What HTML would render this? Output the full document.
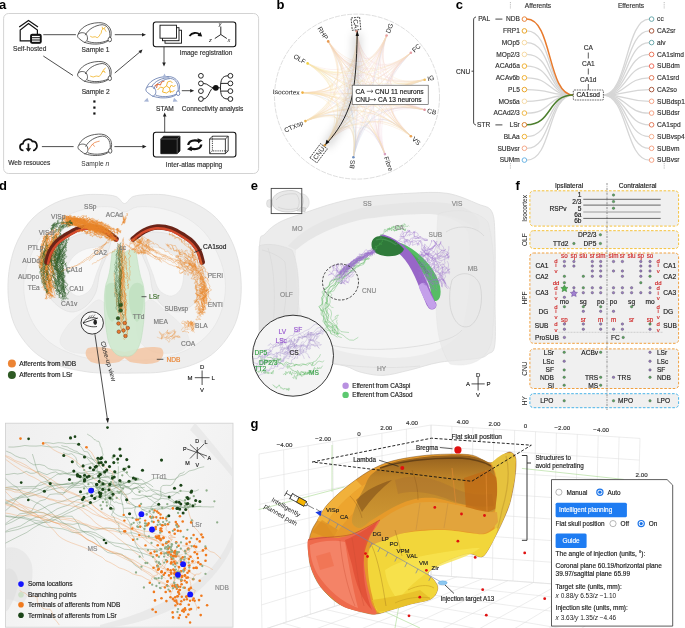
<!DOCTYPE html>
<html><head><meta charset="utf-8"><title>Figure</title>
<style>html,body{margin:0;padding:0;background:#fff;}body{width:685px;height:628px;overflow:hidden;font-family:"Liberation Sans",sans-serif;}svg{display:block;will-change:transform;}</style>
</head><body>
<svg width="685" height="628" viewBox="0 0 685 628" font-family="Liberation Sans, sans-serif"><text x="-1.0" y="8.8" font-size="13" fill="#000" text-anchor="start" font-weight="bold" >a</text>
<rect x="3.6" y="13.5" width="255" height="160" rx="5" fill="#fff" stroke="#c8c8c8" stroke-width="0.8"/>
<g fill="none" stroke="#111" stroke-width="1.2" stroke-linejoin="miter"><path d="M19.2,27.1 L28.5,20.4 L38,27.1"/><path d="M30.4,40.8 L20.2,40.8 L20.2,30 L28.5,23.6 L37.4,30 L37.4,34.1"/><rect x="30.7" y="34.3" width="10.4" height="8.9" rx="1.5" fill="#111"/></g><g fill="#fff"><rect x="32" y="35.9" width="7.8" height="1.3"/><rect x="32" y="38.2" width="7.8" height="1.3"/><rect x="32" y="40.5" width="7.8" height="1.3"/></g>
<text x="13.0" y="50.6" font-size="6.6" fill="#333" stroke="#333" stroke-width="0.16" text-anchor="start" font-weight="normal" >Self-hosted</text>
<g fill="none" stroke="#111" stroke-width="1.7"><path d="M23.5,150.5 C19,150.5 18.8,144 23,143.6 C23.5,139 30.5,137.5 32.5,141.5 C36.5,141 38.5,146 35.5,149.2 C35,150 34,150.5 33,150.5"/><path d="M28.4,143.5 L28.4,151"/></g><path d="M25.6,148.2 L31.2,148.2 L28.4,151.8 Z" fill="#111"/>
<text x="8.2" y="165.1" font-size="6.6" fill="#333" stroke="#333" stroke-width="0.16" text-anchor="start" font-weight="normal" >Web resouces</text>
<g transform="translate(77.2,22.2) scale(1.0)" fill="none" stroke="#444" stroke-width="0.85"><path d="M1,12 C3,6 10,1 21,0.5 C29,0 34,5 34,11 C34,15 33,17 31,18.5 C28,21 22,22.3 15,21.8 C11,21.4 8,20.5 6,19.5 L2,16.5 C0,15 0,13 1,12 Z" fill="#fff"/><path d="M1,12 C3,10 7,10 9,12 C11,15 11,19 7,20.5"/><path d="M8,13 C11,7 18,3 25,2.5 C31,3 33.5,9 32.5,16"/><path d="M10,19 C15,21.2 24,21.4 31,18"/><ellipse cx="32.6" cy="17.3" rx="1.7" ry="2.3" fill="#fff"/></g>
<path transform="translate(77.2,22.2)" d="M13,14 L15,15 L18,14.5 L20,15.5 L22,14 L23,12 L24,11 L24.5,8 L25.5,7 L27,6 L28,8 L29,9.5 M25.5,7 L25,4.5 M27,6 L28.5,4.5" fill="none" stroke="#f0b428" stroke-width="0.8"/>
<text x="81.6" y="52.0" font-size="6.6" fill="#333" stroke="#333" stroke-width="0.16" text-anchor="start" font-weight="normal" >Sample 1</text>
<g transform="translate(77.2,61.0) scale(1.0)" fill="none" stroke="#444" stroke-width="0.85"><path d="M1,12 C3,6 10,1 21,0.5 C29,0 34,5 34,11 C34,15 33,17 31,18.5 C28,21 22,22.3 15,21.8 C11,21.4 8,20.5 6,19.5 L2,16.5 C0,15 0,13 1,12 Z" fill="#fff"/><path d="M1,12 C3,10 7,10 9,12 C11,15 11,19 7,20.5"/><path d="M8,13 C11,7 18,3 25,2.5 C31,3 33.5,9 32.5,16"/><path d="M10,19 C15,21.2 24,21.4 31,18"/><ellipse cx="32.6" cy="17.3" rx="1.7" ry="2.3" fill="#fff"/></g>
<path transform="translate(77.2,61.0)" d="M13,15 L16,16 L19,15 L22,15.5 L24,13 L25,11 L27,10 L28,12 M25,11 L27,8 L28.5,7" fill="none" stroke="#f0b428" stroke-width="0.8"/>
<text x="81.7" y="93.9" font-size="6.6" fill="#333" stroke="#333" stroke-width="0.16" text-anchor="start" font-weight="normal" >Sample 2</text>
<g transform="translate(77.6,133.6) scale(1.0)" fill="none" stroke="#444" stroke-width="0.85"><path d="M1,12 C3,6 10,1 21,0.5 C29,0 34,5 34,11 C34,15 33,17 31,18.5 C28,21 22,22.3 15,21.8 C11,21.4 8,20.5 6,19.5 L2,16.5 C0,15 0,13 1,12 Z" fill="#fff"/><path d="M1,12 C3,10 7,10 9,12 C11,15 11,19 7,20.5"/><path d="M8,13 C11,7 18,3 25,2.5 C31,3 33.5,9 32.5,16"/><path d="M10,19 C15,21.2 24,21.4 31,18"/><ellipse cx="32.6" cy="17.3" rx="1.7" ry="2.3" fill="#fff"/></g>
<path transform="translate(77.6,133.6)" d="M11,16 L13,13 L15,10.5 L17,9 L20,8 L22,7.5 M15,10.5 L17,13" fill="none" stroke="#e8702a" stroke-width="0.7"/>
<text x="81.3" y="165.6" font-size="6.6" fill="#333">Sample <tspan font-style="italic">n</tspan></text>
<rect x="93.3" y="100.4" width="2.2" height="2.2" fill="#111"/>
<rect x="93.3" y="106.5" width="2.2" height="2.2" fill="#111"/>
<rect x="93.3" y="112.4" width="2.2" height="2.2" fill="#111"/>
<g stroke="#222" stroke-width="0.8" fill="none"><path d="M43.3,34.7 L75.9,34.7"/><path d="M114.8,34.7 L143,34.7"/><path d="M43.3,56 L73,75.5"/><path d="M114.8,73 L141,51"/><path d="M41.9,146.6 L73.6,146.6"/><path d="M114.4,146.6 L143.5,146.6"/><path d="M164,47 L164,63.5"/><path d="M164.7,132.3 L164.7,115.5"/><path d="M181.8,90.7 L191.5,90.7"/></g><g fill="#222"><path d="M146,34.7 L142,32.9 L142,36.5 Z"/><path d="M142.5,49.6 L138.5,50.9 L141,53.4 Z"/><path d="M146.5,146.6 L142.5,144.8 L142.5,148.4 Z"/><path d="M164,66.5 L162.2,62.5 L165.8,62.5 Z"/><path d="M164.7,112.5 L162.9,116.5 L166.5,116.5 Z"/><path d="M194.2,90.7 L190.2,88.9 L190.2,92.5 Z"/></g>
<rect x="153.3" y="22" width="82.5" height="24.8" rx="2.5" fill="#fff" stroke="#111" stroke-width="1.1"/>
<g fill="#fff" stroke="#111" stroke-width="0.9"><rect x="165" y="30.2" width="16.5" height="13"/><rect x="162.5" y="27.7" width="16.5" height="13"/><rect x="160" y="25.2" width="16.5" height="13"/></g>
<path d="M189.5,36 C192,32.5 197,32 199.5,34.5" fill="none" stroke="#111" stroke-width="1.8"/><path d="M202.2,36.5 L197.5,36 L200.5,32 Z" fill="#111"/>
<g stroke="#111" stroke-width="0.9" fill="none"><path d="M220.8,34.5 L220.8,26.5"/><path d="M220.8,34.5 L214.8,38.5"/><path d="M220.8,34.5 L226.8,38.5"/></g>
<g font-size="5.6" font-style="italic" fill="#222"><text x="218.6" y="26.2">y</text><text x="209" y="41.8">z</text><text x="227.6" y="41.8">x</text></g>
<text x="179.6" y="55.2" font-size="6.6" fill="#333" stroke="#333" stroke-width="0.16" text-anchor="start" font-weight="normal" >Image registration</text>
<g transform="translate(145.5,76) scale(1.0)" fill="none" stroke="#4a64a0" stroke-width="0.7"><path d="M1,12 C3,6 10,1 21,0.5 C29,0 34,5 34,11 C34,15 33,17 31,18.5 C28,21 22,22.3 15,21.8 C11,21.4 8,20.5 6,19.5 L2,16.5 C0,15 0,13 1,12 Z" fill="#fff"/><path d="M1,12 C3,10 7,10 9,12 C11,15 11,19 7,20.5"/><path d="M8,13 C11,7 18,3 25,2.5 C31,3 33.5,9 32.5,16"/><path d="M6,11 C9,5 17,1.5 24,1.8"/><path d="M10,19 C15,21.2 24,21.4 31,18"/><ellipse cx="32.6" cy="17.3" rx="1.7" ry="2.3" fill="#fff"/></g>
<g transform="translate(145.5,76)" fill="none" stroke-width="0.9"><path d="M12,14 L15,11 L18,12 L21,10 L24,12 L26,9 L28,11 L30,9 M18,12 L17,16 L21,17 L24,15 L27,16 L29,14 M21,10 L22,6 L25,5 L27,7 M24,12 L25,17" stroke="#f0b020"/><path d="M9,10 L12,8 L15,9 L16,6 L19,5 M12,8 L11,12" stroke="#e0602a"/></g>
<g fill="#a8b6d6"><path d="M164.5,73.6 L162.3,77.8 L166.7,77.8 Z"/><path d="M143.8,101.5 L147.5,97.8 L148.8,101.8 Z"/><path d="M177.8,101.5 L174.1,97.8 L172.8,101.8 Z"/></g>
<text x="156.0" y="110.5" font-size="6.6" fill="#333" stroke="#333" stroke-width="0.16" text-anchor="start" font-weight="normal" >STAM</text>
<text x="181.8" y="110.5" font-size="6.6" fill="#333" stroke="#333" stroke-width="0.16" text-anchor="start" font-weight="normal" >Connectivity analysis</text>
<g fill="none" stroke="#111" stroke-width="0.9">
<circle cx="200.9" cy="75.8" r="2.4" fill="#fff"/>
<circle cx="230.4" cy="75.8" r="2.4" fill="#fff"/>
<circle cx="200.9" cy="83.4" r="2.4" fill="#fff"/>
<circle cx="230.4" cy="83.4" r="2.4" fill="#fff"/>
<circle cx="200.9" cy="91.1" r="2.4" fill="#fff"/>
<circle cx="230.4" cy="91.1" r="2.4" fill="#fff"/>
<circle cx="200.9" cy="99" r="2.4" fill="#fff"/>
<circle cx="230.4" cy="99" r="2.4" fill="#fff"/>
<path d="M203.3,83.4 C208.5,83.4 209.5,87.8 214,87.8 M203.3,99 C209,99 209.5,88 214,87.8"/>
<path d="M217,87.8 L220.5,87.8 M228,75.8 C222,75.8 220.5,80 220.5,87.8 C220.5,95 222,99 228,99 M220.8,83.4 L228,83.4 M220.8,91.1 L228,91.1"/>
</g>
<circle cx="215.8" cy="87.8" r="2.9" fill="#111"/>
<rect x="153.4" y="132.3" width="82.5" height="24.7" rx="2.5" fill="#fff" stroke="#111" stroke-width="1.1"/>
<g stroke="#111" stroke-width="0.8"><path d="M160.8,139 L163.6,136.2 L180,136.2 L180,150.9 L177.2,153.7 L160.8,153.7 Z" fill="#111"/><path d="M160.8,139 L177.2,139 L177.2,153.7 M177.2,139 L180,136.2" stroke="#666" fill="none"/><path d="M209.6,139 L212.4,136.2 L228.2,136.2 L228.2,150.9 L225.4,153.7 L209.6,153.7 Z" fill="#fff"/><path d="M209.6,139 L225.4,139 L225.4,153.7 M225.4,139 L228.2,136.2" fill="none"/><path d="M212.4,136.2 L212.4,150.9 L228.2,150.9 M212.4,150.9 L209.6,153.7" fill="none" stroke-dasharray="1.2,1"/></g>
<g fill="none" stroke="#111" stroke-width="2.2"><path d="M188.3,145 C188.5,140.5 195,139.2 199.5,141.5"/><path d="M201.3,144.5 C201,149 194.5,150.3 190,148"/></g><g fill="#111"><path d="M202.5,140.2 L197.5,138.2 L198.2,143.5 Z"/><path d="M187,149.3 L192,151.3 L191.3,146 Z"/></g>
<text x="165.8" y="167.3" font-size="6.6" fill="#333" stroke="#333" stroke-width="0.16" text-anchor="start" font-weight="normal" >Inter-atlas mapping</text>
<text x="276.5" y="8.6" font-size="13" fill="#000" text-anchor="start" font-weight="bold" >b</text>
<circle cx="357" cy="96.6" r="82.5" fill="none" stroke="#c8c8c8" stroke-width="0.6" stroke-dasharray="5,1.2"/>
<g fill="none" stroke-width="0.3" opacity="0.42">
<path d="M356.7,31.3 C359.1,66.4 371.0,68.1 386.6,35.5" stroke="#e89a8a"/>
<path d="M356.7,31.3 C361.7,65.8 383.4,74.4 410.9,52.8" stroke="#e89a8a"/>
<path d="M356.7,31.3 C360.8,68.2 388.0,87.5 424.7,79.7" stroke="#e89a8a"/>
<path d="M356.7,31.3 C356.9,69.3 384.1,100.7 424.6,109.8" stroke="#e89a8a"/>
<path d="M356.7,31.3 C356.8,68.7 378.4,110.7 410.9,136.2" stroke="#e89a8a"/>
<path d="M356.7,31.3 C357.0,66.0 368.3,115.1 384.9,154.1" stroke="#e89a8a"/>
<path d="M356.7,31.3 C359.9,71.8 358.6,122.2 353.4,157.3" stroke="#e89a8a"/>
<path d="M356.7,31.3 C357.5,67.0 344.7,112.6 324.8,145.2" stroke="#e89a8a"/>
<path d="M356.7,31.3 C361.5,72.8 341.0,108.7 305.4,121.1" stroke="#e89a8a"/>
<path d="M356.7,31.3 C361.1,68.4 339.4,92.9 302.5,92.6" stroke="#e89a8a"/>
<path d="M356.7,31.3 C364.3,65.6 344.7,78.4 307.6,63.4" stroke="#e89a8a"/>
<path d="M356.7,31.3 C363.3,67.5 352.0,71.6 328.2,41.4" stroke="#e89a8a"/>
<path d="M386.6,35.5 C369.6,67.9 357.6,66.2 356.7,31.3" stroke="#e8a0a0"/>
<path d="M386.6,35.5 C370.9,73.4 380.6,80.4 410.9,52.8" stroke="#e8a0a0"/>
<path d="M386.6,35.5 C369.9,71.6 385.1,89.2 424.7,79.7" stroke="#e8a0a0"/>
<path d="M386.6,35.5 C373.5,69.9 388.8,99.6 424.6,109.8" stroke="#e8a0a0"/>
<path d="M386.6,35.5 C372.8,67.4 382.5,107.7 410.9,136.2" stroke="#e8a0a0"/>
<path d="M386.6,35.5 C368.9,68.6 368.2,116.0 384.9,154.1" stroke="#e8a0a0"/>
<path d="M386.6,35.5 C373.9,70.3 360.6,119.0 353.4,157.3" stroke="#e8a0a0"/>
<path d="M386.6,35.5 C370.9,71.6 346.2,115.5 324.8,145.2" stroke="#e8a0a0"/>
<path d="M386.6,35.5 C372.1,69.3 339.6,103.6 305.4,121.1" stroke="#e8a0a0"/>
<path d="M386.6,35.5 C374.8,72.5 341.2,95.3 302.5,92.6" stroke="#e8a0a0"/>
<path d="M386.6,35.5 C370.4,71.5 338.8,82.7 307.6,63.4" stroke="#e8a0a0"/>
<path d="M386.6,35.5 C372.6,73.9 349.3,76.2 328.2,41.4" stroke="#e8a0a0"/>
<path d="M410.9,52.8 C384.0,76.1 362.3,67.5 356.7,31.3" stroke="#e8a0a8"/>
<path d="M410.9,52.8 C386.0,74.8 376.3,67.9 386.6,35.5" stroke="#e8a0a8"/>
<path d="M410.9,52.8 C381.5,79.9 387.0,90.6 424.7,79.7" stroke="#e8a0a8"/>
<path d="M410.9,52.8 C379.4,77.7 384.9,100.5 424.6,109.8" stroke="#e8a0a8"/>
<path d="M410.9,52.8 C378.5,79.2 378.5,112.5 410.9,136.2" stroke="#e8a0a8"/>
<path d="M410.9,52.8 C384.3,78.4 373.9,118.9 384.9,154.1" stroke="#e8a0a8"/>
<path d="M410.9,52.8 C385.2,76.3 362.2,118.1 353.4,157.3" stroke="#e8a0a8"/>
<path d="M410.9,52.8 C383.7,78.6 349.3,115.5 324.8,145.2" stroke="#e8a0a8"/>
<path d="M410.9,52.8 C382.8,77.5 340.6,104.8 305.4,121.1" stroke="#e8a0a8"/>
<path d="M410.9,52.8 C384.9,81.4 341.5,97.3 302.5,92.6" stroke="#e8a0a8"/>
<path d="M410.9,52.8 C382.0,79.1 340.6,83.4 307.6,63.4" stroke="#e8a0a8"/>
<path d="M410.9,52.8 C378.7,79.4 345.6,74.9 328.2,41.4" stroke="#e8a0a8"/>
<path d="M424.7,79.7 C388.9,92.5 361.7,73.2 356.7,31.3" stroke="#f0c060"/>
<path d="M424.7,79.7 C390.3,86.8 375.0,69.2 386.6,35.5" stroke="#f0c060"/>
<path d="M424.7,79.7 C386.8,89.9 381.3,79.2 410.9,52.8" stroke="#f0c060"/>
<path d="M424.7,79.7 C383.9,88.3 383.8,100.3 424.6,109.8" stroke="#f0c060"/>
<path d="M424.7,79.7 C385.0,85.5 379.5,108.1 410.9,136.2" stroke="#f0c060"/>
<path d="M424.7,79.7 C384.2,90.7 368.2,120.5 384.9,154.1" stroke="#f0c060"/>
<path d="M424.7,79.7 C384.7,86.6 356.2,117.6 353.4,157.3" stroke="#f0c060"/>
<path d="M424.7,79.7 C386.8,91.5 346.8,117.8 324.8,145.2" stroke="#f0c060"/>
<path d="M424.7,79.7 C384.3,88.2 336.6,104.7 305.4,121.1" stroke="#f0c060"/>
<path d="M424.7,79.7 C388.1,91.6 339.2,96.8 302.5,92.6" stroke="#f0c060"/>
<path d="M424.7,79.7 C390.3,91.5 343.4,85.0 307.6,63.4" stroke="#f0c060"/>
<path d="M424.7,79.7 C385.9,87.9 347.3,72.6 328.2,41.4" stroke="#f0c060"/>
<path d="M424.6,109.8 C386.5,103.7 359.3,72.3 356.7,31.3" stroke="#e090a0"/>
<path d="M424.6,109.8 C391.3,97.8 376.1,68.1 386.6,35.5" stroke="#e090a0"/>
<path d="M424.6,109.8 C385.1,98.5 379.6,75.7 410.9,52.8" stroke="#e090a0"/>
<path d="M424.6,109.8 C385.5,100.5 385.6,88.5 424.7,79.7" stroke="#e090a0"/>
<path d="M424.6,109.8 C388.4,98.7 382.9,109.3 410.9,136.2" stroke="#e090a0"/>
<path d="M424.6,109.8 C383.7,100.0 367.8,117.7 384.9,154.1" stroke="#e090a0"/>
<path d="M424.6,109.8 C386.6,101.1 358.1,120.1 353.4,157.3" stroke="#e090a0"/>
<path d="M424.6,109.8 C391.3,102.1 351.3,116.3 324.8,145.2" stroke="#e090a0"/>
<path d="M424.6,109.8 C387.8,101.5 340.1,106.1 305.4,121.1" stroke="#e090a0"/>
<path d="M424.6,109.8 C389.1,97.0 340.2,90.2 302.5,92.6" stroke="#e090a0"/>
<path d="M424.6,109.8 C390.9,102.8 344.0,84.3 307.6,63.4" stroke="#e090a0"/>
<path d="M424.6,109.8 C390.7,103.0 352.1,75.6 328.2,41.4" stroke="#e090a0"/>
<path d="M410.9,136.2 C381.3,110.4 359.6,68.4 356.7,31.3" stroke="#e8a050"/>
<path d="M410.9,136.2 C379.0,112.3 369.3,72.0 386.6,35.5" stroke="#e8a050"/>
<path d="M410.9,136.2 C378.6,107.7 378.7,74.4 410.9,52.8" stroke="#e8a050"/>
<path d="M410.9,136.2 C379.8,108.5 385.4,85.9 424.7,79.7" stroke="#e8a050"/>
<path d="M410.9,136.2 C380.9,107.6 386.4,97.0 424.6,109.8" stroke="#e8a050"/>
<path d="M410.9,136.2 C378.1,108.4 367.8,115.5 384.9,154.1" stroke="#e8a050"/>
<path d="M410.9,136.2 C379.0,110.1 356.0,118.5 353.4,157.3" stroke="#e8a050"/>
<path d="M410.9,136.2 C378.3,114.2 343.9,117.8 324.8,145.2" stroke="#e8a050"/>
<path d="M410.9,136.2 C383.1,108.4 340.9,102.3 305.4,121.1" stroke="#e8a050"/>
<path d="M410.9,136.2 C380.2,110.0 336.8,92.5 302.5,92.6" stroke="#e8a050"/>
<path d="M410.9,136.2 C381.1,108.2 339.8,79.1 307.6,63.4" stroke="#e8a050"/>
<path d="M410.9,136.2 C384.9,115.1 351.9,77.2 328.2,41.4" stroke="#e8a050"/>
<path d="M384.9,154.1 C371.5,118.2 360.2,69.1 356.7,31.3" stroke="#d8a0c0"/>
<path d="M384.9,154.1 C368.5,115.2 369.1,67.7 386.6,35.5" stroke="#d8a0c0"/>
<path d="M384.9,154.1 C370.5,116.5 380.9,76.0 410.9,52.8" stroke="#d8a0c0"/>
<path d="M384.9,154.1 C374.4,115.6 390.3,85.9 424.7,79.7" stroke="#d8a0c0"/>
<path d="M384.9,154.1 C368.0,121.9 383.8,104.2 424.6,109.8" stroke="#d8a0c0"/>
<path d="M384.9,154.1 C372.0,115.5 382.4,108.4 410.9,136.2" stroke="#d8a0c0"/>
<path d="M384.9,154.1 C372.1,114.6 359.5,115.8 353.4,157.3" stroke="#d8a0c0"/>
<path d="M384.9,154.1 C372.0,122.2 347.9,118.6 324.8,145.2" stroke="#d8a0c0"/>
<path d="M384.9,154.1 C374.7,119.9 342.8,106.7 305.4,121.1" stroke="#d8a0c0"/>
<path d="M384.9,154.1 C369.9,117.3 336.9,92.7 302.5,92.6" stroke="#d8a0c0"/>
<path d="M384.9,154.1 C369.1,120.5 338.2,84.2 307.6,63.4" stroke="#d8a0c0"/>
<path d="M384.9,154.1 C372.0,120.6 349.4,75.5 328.2,41.4" stroke="#d8a0c0"/>
<path d="M353.4,157.3 C357.8,117.4 359.1,67.0 356.7,31.3" stroke="#7090c0"/>
<path d="M353.4,157.3 C361.7,123.5 374.9,74.8 386.6,35.5" stroke="#7090c0"/>
<path d="M353.4,157.3 C362.0,122.1 385.0,80.3 410.9,52.8" stroke="#7090c0"/>
<path d="M353.4,157.3 C361.7,121.5 390.2,90.5 424.7,79.7" stroke="#7090c0"/>
<path d="M353.4,157.3 C357.0,119.7 385.5,100.7 424.6,109.8" stroke="#7090c0"/>
<path d="M353.4,157.3 C358.0,115.8 381.0,107.4 410.9,136.2" stroke="#7090c0"/>
<path d="M353.4,157.3 C355.4,117.8 368.0,116.6 384.9,154.1" stroke="#7090c0"/>
<path d="M353.4,157.3 C357.2,121.1 345.8,116.3 324.8,145.2" stroke="#7090c0"/>
<path d="M353.4,157.3 C362.8,119.2 343.6,104.7 305.4,121.1" stroke="#7090c0"/>
<path d="M353.4,157.3 C362.7,123.5 342.3,97.6 302.5,92.6" stroke="#7090c0"/>
<path d="M353.4,157.3 C362.8,118.5 344.5,81.0 307.6,63.4" stroke="#7090c0"/>
<path d="M353.4,157.3 C356.9,117.4 346.9,71.1 328.2,41.4" stroke="#7090c0"/>
<path d="M324.8,145.2 C345.3,112.4 358.1,66.9 356.7,31.3" stroke="#e8a848"/>
<path d="M324.8,145.2 C348.7,118.0 373.4,74.1 386.6,35.5" stroke="#e8a848"/>
<path d="M324.8,145.2 C350.4,114.6 384.9,77.7 410.9,52.8" stroke="#e8a848"/>
<path d="M324.8,145.2 C348.9,117.2 388.9,91.0 424.7,79.7" stroke="#e8a848"/>
<path d="M324.8,145.2 C344.4,116.1 384.3,101.9 424.6,109.8" stroke="#e8a848"/>
<path d="M324.8,145.2 C351.0,117.0 385.4,113.5 410.9,136.2" stroke="#e8a848"/>
<path d="M324.8,145.2 C349.7,114.6 373.8,118.2 384.9,154.1" stroke="#e8a848"/>
<path d="M324.8,145.2 C345.1,117.1 356.6,121.9 353.4,157.3" stroke="#e8a848"/>
<path d="M324.8,145.2 C346.4,117.2 338.6,107.6 305.4,121.1" stroke="#e8a848"/>
<path d="M324.8,145.2 C351.5,114.0 342.6,92.9 302.5,92.6" stroke="#e8a848"/>
<path d="M324.8,145.2 C346.9,118.4 340.1,85.6 307.6,63.4" stroke="#e8a848"/>
<path d="M324.8,145.2 C349.5,112.1 350.9,70.6 328.2,41.4" stroke="#e8a848"/>
<path d="M305.4,121.1 C337.0,102.4 357.5,66.4 356.7,31.3" stroke="#e8b048"/>
<path d="M305.4,121.1 C343.2,107.6 375.7,73.4 386.6,35.5" stroke="#e8b048"/>
<path d="M305.4,121.1 C337.1,107.8 379.3,80.4 410.9,52.8" stroke="#e8b048"/>
<path d="M305.4,121.1 C343.8,106.4 391.5,89.8 424.7,79.7" stroke="#e8b048"/>
<path d="M305.4,121.1 C338.7,105.5 386.5,101.0 424.6,109.8" stroke="#e8b048"/>
<path d="M305.4,121.1 C337.0,101.3 379.2,107.3 410.9,136.2" stroke="#e8b048"/>
<path d="M305.4,121.1 C343.7,106.4 375.5,119.5 384.9,154.1" stroke="#e8b048"/>
<path d="M305.4,121.1 C340.2,108.6 359.4,123.1 353.4,157.3" stroke="#e8b048"/>
<path d="M305.4,121.1 C339.4,108.1 347.2,117.8 324.8,145.2" stroke="#e8b048"/>
<path d="M305.4,121.1 C342.6,102.8 341.4,91.4 302.5,92.6" stroke="#e8b048"/>
<path d="M305.4,121.1 C338.0,103.5 338.9,80.4 307.6,63.4" stroke="#e8b048"/>
<path d="M305.4,121.1 C337.9,105.8 347.0,73.9 328.2,41.4" stroke="#e8b048"/>
<path d="M302.5,92.6 C336.9,93.1 358.6,68.6 356.7,31.3" stroke="#f0b040"/>
<path d="M302.5,92.6 C335.9,97.0 369.5,74.2 386.6,35.5" stroke="#f0b040"/>
<path d="M302.5,92.6 C337.6,93.4 381.0,77.5 410.9,52.8" stroke="#f0b040"/>
<path d="M302.5,92.6 C339.5,97.0 388.4,91.8 424.7,79.7" stroke="#f0b040"/>
<path d="M302.5,92.6 C338.2,97.1 387.0,103.9 424.6,109.8" stroke="#f0b040"/>
<path d="M302.5,92.6 C338.8,94.0 382.2,111.5 410.9,136.2" stroke="#f0b040"/>
<path d="M302.5,92.6 C339.0,89.9 372.0,114.5 384.9,154.1" stroke="#f0b040"/>
<path d="M302.5,92.6 C338.3,91.2 358.7,117.1 353.4,157.3" stroke="#f0b040"/>
<path d="M302.5,92.6 C334.8,96.1 343.7,117.2 324.8,145.2" stroke="#f0b040"/>
<path d="M302.5,92.6 C336.2,93.5 337.3,104.9 305.4,121.1" stroke="#f0b040"/>
<path d="M302.5,92.6 C340.6,94.2 342.7,82.5 307.6,63.4" stroke="#f0b040"/>
<path d="M302.5,92.6 C337.4,93.9 347.7,73.4 328.2,41.4" stroke="#f0b040"/>
<path d="M307.6,63.4 C341.3,84.3 360.9,71.5 356.7,31.3" stroke="#f0d040"/>
<path d="M307.6,63.4 C337.7,82.6 369.3,71.4 386.6,35.5" stroke="#f0d040"/>
<path d="M307.6,63.4 C338.8,80.3 380.2,76.1 410.9,52.8" stroke="#f0d040"/>
<path d="M307.6,63.4 C343.0,82.1 389.9,88.6 424.7,79.7" stroke="#f0d040"/>
<path d="M307.6,63.4 C341.3,84.1 388.2,102.7 424.6,109.8" stroke="#f0d040"/>
<path d="M307.6,63.4 C344.1,81.6 385.4,110.7 410.9,136.2" stroke="#f0d040"/>
<path d="M307.6,63.4 C341.7,82.1 372.7,118.4 384.9,154.1" stroke="#f0d040"/>
<path d="M307.6,63.4 C340.9,83.6 359.3,121.1 353.4,157.3" stroke="#f0d040"/>
<path d="M307.6,63.4 C340.5,82.3 347.3,115.1 324.8,145.2" stroke="#f0d040"/>
<path d="M307.6,63.4 C340.7,85.6 339.8,108.7 305.4,121.1" stroke="#f0d040"/>
<path d="M307.6,63.4 C342.4,85.1 340.4,96.8 302.5,92.6" stroke="#f0d040"/>
<path d="M307.6,63.4 C344.4,80.1 352.6,71.3 328.2,41.4" stroke="#f0d040"/>
<path d="M328.2,41.4 C349.6,76.8 361.0,72.8 356.7,31.3" stroke="#e89a50"/>
<path d="M328.2,41.4 C351.8,70.3 375.2,68.0 386.6,35.5" stroke="#e89a50"/>
<path d="M328.2,41.4 C346.1,72.8 379.1,77.4 410.9,52.8" stroke="#e89a50"/>
<path d="M328.2,41.4 C345.7,71.2 384.3,86.5 424.7,79.7" stroke="#e89a50"/>
<path d="M328.2,41.4 C345.7,74.6 384.2,102.0 424.6,109.8" stroke="#e89a50"/>
<path d="M328.2,41.4 C351.4,76.4 384.4,114.4 410.9,136.2" stroke="#e89a50"/>
<path d="M328.2,41.4 C346.3,75.0 369.0,120.1 384.9,154.1" stroke="#e89a50"/>
<path d="M328.2,41.4 C350.4,70.4 360.4,116.8 353.4,157.3" stroke="#e89a50"/>
<path d="M328.2,41.4 C352.2,77.0 350.8,118.5 324.8,145.2" stroke="#e89a50"/>
<path d="M328.2,41.4 C346.8,76.9 337.7,108.8 305.4,121.1" stroke="#e89a50"/>
<path d="M328.2,41.4 C348.3,73.1 338.0,93.6 302.5,92.6" stroke="#e89a50"/>
<path d="M328.2,41.4 C353.0,75.9 344.8,84.7 307.6,63.4" stroke="#e89a50"/>
</g>
<circle cx="356.7" cy="31.3" r="1.3" fill="#e89a8a"/>
<circle cx="386.6" cy="35.5" r="1.3" fill="#e8a0a0"/>
<circle cx="410.9" cy="52.8" r="1.3" fill="#e8a0a8"/>
<circle cx="424.7" cy="79.7" r="1.3" fill="#f0c060"/>
<circle cx="424.6" cy="109.8" r="1.3" fill="#e090a0"/>
<circle cx="410.9" cy="136.2" r="1.3" fill="#e8a050"/>
<circle cx="384.9" cy="154.1" r="1.3" fill="#d8a0c0"/>
<circle cx="353.4" cy="157.3" r="1.3" fill="#7090c0"/>
<circle cx="324.8" cy="145.2" r="1.3" fill="#e8a848"/>
<circle cx="305.4" cy="121.1" r="1.3" fill="#e8b048"/>
<circle cx="302.5" cy="92.6" r="1.3" fill="#f0b040"/>
<circle cx="307.6" cy="63.4" r="1.3" fill="#f0d040"/>
<circle cx="328.2" cy="41.4" r="1.3" fill="#e89a50"/>
<text transform="translate(356.4,28.5) rotate(84.3)" x="0" y="2.3" font-size="6.6" fill="#222" text-anchor="end">CA</text>
<text transform="translate(387.6,32.9) rotate(-68.2)" x="0" y="2.3" font-size="6.6" fill="#222" text-anchor="start">DG</text>
<text transform="translate(413.0,51.0) rotate(-41.0)" x="0" y="2.3" font-size="6.6" fill="#222" text-anchor="start">FC</text>
<text transform="translate(427.5,79.0) rotate(-13.5)" x="0" y="2.3" font-size="6.6" fill="#222" text-anchor="start">IG</text>
<text transform="translate(427.4,110.4) rotate(13.9)" x="0" y="2.3" font-size="6.6" fill="#222" text-anchor="start">CB</text>
<text transform="translate(413.0,138.1) rotate(41.1)" x="0" y="2.3" font-size="6.6" fill="#222" text-anchor="start">VS</text>
<text transform="translate(385.9,156.7) rotate(69.8)" x="0" y="2.3" font-size="6.6" fill="#222" text-anchor="start">Fibre</text>
<text transform="translate(353.0,160.0) rotate(278.7)" x="0" y="2.3" font-size="6.6" fill="#222" text-anchor="end">BS</text>
<text transform="translate(323.1,147.4) rotate(307.0)" x="0" y="2.3" font-size="6.6" fill="#222" text-anchor="end">CNU</text>
<text transform="translate(302.8,122.3) rotate(335.2)" x="0" y="2.3" font-size="6.6" fill="#222" text-anchor="end">CTXsp</text>
<text transform="translate(299.7,92.5) rotate(1.8)" x="0" y="2.3" font-size="6.6" fill="#222" text-anchor="end">Isocortex</text>
<text transform="translate(305.2,62.1) rotate(29.3)" x="0" y="2.3" font-size="6.6" fill="#222" text-anchor="end">OLF</text>
<text transform="translate(326.7,39.0) rotate(56.8)" x="0" y="2.3" font-size="6.6" fill="#222" text-anchor="end">RHP</text>
<rect transform="translate(356.4,28.5) rotate(84.3)" x="-11.0" y="-4.3" width="12.4" height="8.6" fill="none" stroke="#111" stroke-width="0.75" stroke-dasharray="1.8,1"/>
<rect transform="translate(323.1,147.4) rotate(307.0)" x="-16.1" y="-4.3" width="17.5" height="8.6" fill="none" stroke="#111" stroke-width="0.75" stroke-dasharray="1.8,1"/>
<defs><filter id="blur4" x="-50%" y="-50%" width="200%" height="200%"><feGaussianBlur stdDeviation="4"/></filter><filter id="blur2" x="-50%" y="-50%" width="200%" height="200%"><feGaussianBlur stdDeviation="2"/></filter></defs>
<path d="M357,34 C356.6,60 355.5,84 351,101 C346,118 337,132 326,146" fill="none" stroke="#000" stroke-opacity="0.18" stroke-width="7" filter="url(#blur4)"/>
<path d="M357.2,35 C356.6,60 355.5,84 351,101 C346,118 337,132 327.5,142.5" fill="none" stroke="#111" stroke-width="0.9"/>
<path d="M357.3,30.5 L355.6,36 L359,36 Z" fill="#111"/>
<path d="M325.2,145.3 L326.5,139.8 L329.6,141.9 Z" fill="#111"/>
<rect x="352.2" y="85.2" width="76" height="19.2" fill="#fff" stroke="#444" stroke-width="0.6"/>
<text x="355.6" y="93.5" font-size="6.6" fill="#222" stroke="#222" stroke-width="0.16" text-anchor="start" font-weight="normal" >CA</text>
<text x="375.0" y="93.5" font-size="6.6" fill="#222" stroke="#222" stroke-width="0.16" text-anchor="start" font-weight="normal" >CNU 11 neurons</text>
<text x="355.6" y="101.8" font-size="6.6" fill="#222" stroke="#222" stroke-width="0.16" text-anchor="start" font-weight="normal" >CNU</text>
<text x="378.0" y="101.8" font-size="6.6" fill="#222" stroke="#222" stroke-width="0.16" text-anchor="start" font-weight="normal" >CA 13 neurons</text>
<path d="M366.8,91.3 L372.8,91.3 M371.2,89.9 L373,91.3 L371.2,92.7 M369.6,99.6 L375.6,99.6 M374,98.2 L375.8,99.6 L374,101" fill="none" stroke="#111" stroke-width="0.55"/>
<text x="455.8" y="8.6" font-size="13" fill="#000" text-anchor="start" font-weight="bold" >c</text>
<text x="524.8" y="7.8" font-size="6.6" fill="#333" stroke="#333" stroke-width="0.16" text-anchor="start" font-weight="normal" >Afferents</text>
<text x="617.9" y="7.8" font-size="6.6" fill="#333" stroke="#333" stroke-width="0.16" text-anchor="start" font-weight="normal" >Efferents</text>
<path d="M510.4,2 L510.4,8.5 M664.2,2 L664.2,8.5 M510.4,163 L510.4,169 M664.2,163 L664.2,169" stroke="#777" stroke-width="0.5" stroke-dasharray="1,0.8"/>
<g fill="none" stroke="#d6d6d6" stroke-width="1.3">
<path d="M526.8,30.9 C552.4,30.9 547.3,95.0 573.3,95.0"/>
<path d="M526.8,42.6 C552.4,42.6 547.3,95.0 573.3,95.0"/>
<path d="M526.8,54.4 C552.4,54.4 547.3,95.0 573.3,95.0"/>
<path d="M526.8,66.1 C552.4,66.1 547.3,95.0 573.3,95.0"/>
<path d="M526.8,77.8 C552.4,77.8 547.3,95.0 573.3,95.0"/>
<path d="M526.8,89.6 C552.4,89.6 547.3,95.0 573.3,95.0"/>
<path d="M526.8,101.3 C552.4,101.3 547.3,95.0 573.3,95.0"/>
<path d="M526.8,113.1 C552.4,113.1 547.3,95.0 573.3,95.0"/>
<path d="M526.8,136.6 C552.4,136.6 547.3,95.0 573.3,95.0"/>
<path d="M526.8,148.3 C552.4,148.3 547.3,95.0 573.3,95.0"/>
<path d="M526.8,160.1 C552.4,160.1 547.3,95.0 573.3,95.0"/>
<path d="M603.4,95.0 C627.4,95.0 625.6,19.1 649.2,19.1"/>
<path d="M603.4,95.0 C627.4,95.0 625.6,30.9 649.2,30.9"/>
<path d="M603.4,95.0 C627.4,95.0 625.6,42.6 649.2,42.6"/>
<path d="M603.4,95.0 C627.4,95.0 625.6,54.4 649.2,54.4"/>
<path d="M603.4,95.0 C627.4,95.0 625.6,66.1 649.2,66.1"/>
<path d="M603.4,95.0 C627.4,95.0 625.6,77.8 649.2,77.8"/>
<path d="M603.4,95.0 C627.4,95.0 625.6,89.6 649.2,89.6"/>
<path d="M603.4,95.0 C627.4,95.0 625.6,101.3 649.2,101.3"/>
<path d="M603.4,95.0 C627.4,95.0 625.6,113.1 649.2,113.1"/>
<path d="M603.4,95.0 C627.4,95.0 625.6,124.8 649.2,124.8"/>
<path d="M603.4,95.0 C627.4,95.0 625.6,136.6 649.2,136.6"/>
<path d="M603.4,95.0 C627.4,95.0 625.6,148.3 649.2,148.3"/>
<path d="M603.4,95.0 C627.4,95.0 625.6,160.1 649.2,160.1"/>
</g>
<path d="M526.8,19.1 C552.4,19.1 547.3,95.0 573.3,95.0" fill="none" stroke="#e87a2c" stroke-width="1.5"/>
<path d="M526.8,124.8 C552.4,124.8 547.3,95.0 573.3,95.0" fill="none" stroke="#4d7f2e" stroke-width="1.5"/>
<circle cx="524.4" cy="19.1" r="2.3" fill="#fff" stroke="#e8843a" stroke-width="1"/>
<text x="519.8" y="21.4" font-size="6.6" fill="#333" stroke="#333" stroke-width="0.16" text-anchor="end" font-weight="normal" >NDB</text>
<circle cx="651.6" cy="19.1" r="2.3" fill="#fff" stroke="#6aa8ac" stroke-width="1"/>
<text x="657.1" y="21.4" font-size="6.6" fill="#333" stroke="#333" stroke-width="0.16" text-anchor="start" font-weight="normal" >cc</text>
<circle cx="524.4" cy="30.9" r="2.3" fill="#fff" stroke="#eaa62a" stroke-width="1"/>
<text x="519.8" y="33.1" font-size="6.6" fill="#333" stroke="#333" stroke-width="0.16" text-anchor="end" font-weight="normal" >FRP1</text>
<circle cx="651.6" cy="30.9" r="2.3" fill="#fff" stroke="#a8583e" stroke-width="1"/>
<text x="657.1" y="33.1" font-size="6.6" fill="#333" stroke="#333" stroke-width="0.16" text-anchor="start" font-weight="normal" >CA2sr</text>
<circle cx="524.4" cy="42.6" r="2.3" fill="#fff" stroke="#f6d9a2" stroke-width="1"/>
<text x="519.8" y="44.9" font-size="6.6" fill="#333" stroke="#333" stroke-width="0.16" text-anchor="end" font-weight="normal" >MOp5</text>
<circle cx="651.6" cy="42.6" r="2.3" fill="#fff" stroke="#6aa8ac" stroke-width="1"/>
<text x="657.1" y="44.9" font-size="6.6" fill="#333" stroke="#333" stroke-width="0.16" text-anchor="start" font-weight="normal" >alv</text>
<circle cx="524.4" cy="54.4" r="2.3" fill="#fff" stroke="#f6d9a2" stroke-width="1"/>
<text x="519.8" y="56.6" font-size="6.6" fill="#333" stroke="#333" stroke-width="0.16" text-anchor="end" font-weight="normal" >MOp2/3</text>
<circle cx="651.6" cy="54.4" r="2.3" fill="#fff" stroke="#ea7458" stroke-width="1"/>
<text x="657.1" y="56.6" font-size="6.6" fill="#333" stroke="#333" stroke-width="0.16" text-anchor="start" font-weight="normal" >CA1slmd</text>
<circle cx="524.4" cy="66.1" r="2.3" fill="#fff" stroke="#f0b236" stroke-width="1"/>
<text x="519.8" y="68.4" font-size="6.6" fill="#333" stroke="#333" stroke-width="0.16" text-anchor="end" font-weight="normal" >ACAd6a</text>
<circle cx="651.6" cy="66.1" r="2.3" fill="#fff" stroke="#f06c5c" stroke-width="1"/>
<text x="657.1" y="68.4" font-size="6.6" fill="#333" stroke="#333" stroke-width="0.16" text-anchor="start" font-weight="normal" >SUBdm</text>
<circle cx="524.4" cy="77.8" r="2.3" fill="#fff" stroke="#f0b236" stroke-width="1"/>
<text x="519.8" y="80.1" font-size="6.6" fill="#333" stroke="#333" stroke-width="0.16" text-anchor="end" font-weight="normal" >ACAv6b</text>
<circle cx="651.6" cy="77.8" r="2.3" fill="#fff" stroke="#e27a5a" stroke-width="1"/>
<text x="657.1" y="80.1" font-size="6.6" fill="#333" stroke="#333" stroke-width="0.16" text-anchor="start" font-weight="normal" >CA1srd</text>
<circle cx="524.4" cy="89.6" r="2.3" fill="#fff" stroke="#eaa62a" stroke-width="1"/>
<text x="519.8" y="91.9" font-size="6.6" fill="#333" stroke="#333" stroke-width="0.16" text-anchor="end" font-weight="normal" >PL5</text>
<circle cx="651.6" cy="89.6" r="2.3" fill="#fff" stroke="#a8583e" stroke-width="1"/>
<text x="657.1" y="91.9" font-size="6.6" fill="#333" stroke="#333" stroke-width="0.16" text-anchor="start" font-weight="normal" >CA2so</text>
<circle cx="524.4" cy="101.3" r="2.3" fill="#fff" stroke="#f6dba8" stroke-width="1"/>
<text x="519.8" y="103.6" font-size="6.6" fill="#333" stroke="#333" stroke-width="0.16" text-anchor="end" font-weight="normal" >MOs6a</text>
<circle cx="651.6" cy="101.3" r="2.3" fill="#fff" stroke="#f4a184" stroke-width="1"/>
<text x="657.1" y="103.6" font-size="6.6" fill="#333" stroke="#333" stroke-width="0.16" text-anchor="start" font-weight="normal" >SUBdsp1</text>
<circle cx="524.4" cy="113.1" r="2.3" fill="#fff" stroke="#f0b848" stroke-width="1"/>
<text x="519.8" y="115.4" font-size="6.6" fill="#333" stroke="#333" stroke-width="0.16" text-anchor="end" font-weight="normal" >ACAd2/3</text>
<circle cx="651.6" cy="113.1" r="2.3" fill="#fff" stroke="#f4a184" stroke-width="1"/>
<text x="657.1" y="115.4" font-size="6.6" fill="#333" stroke="#333" stroke-width="0.16" text-anchor="start" font-weight="normal" >SUBdsr</text>
<circle cx="524.4" cy="124.8" r="2.3" fill="#fff" stroke="#d8802e" stroke-width="1"/>
<text x="519.8" y="127.1" font-size="6.6" fill="#333" stroke="#333" stroke-width="0.16" text-anchor="end" font-weight="normal" >LSr</text>
<circle cx="651.6" cy="124.8" r="2.3" fill="#fff" stroke="#e27a5a" stroke-width="1"/>
<text x="657.1" y="127.1" font-size="6.6" fill="#333" stroke="#333" stroke-width="0.16" text-anchor="start" font-weight="normal" >CA1spd</text>
<circle cx="524.4" cy="136.6" r="2.3" fill="#fff" stroke="#f0b236" stroke-width="1"/>
<text x="519.8" y="138.9" font-size="6.6" fill="#333" stroke="#333" stroke-width="0.16" text-anchor="end" font-weight="normal" >BLAa</text>
<circle cx="651.6" cy="136.6" r="2.3" fill="#fff" stroke="#f4ae90" stroke-width="1"/>
<text x="657.1" y="138.9" font-size="6.6" fill="#333" stroke="#333" stroke-width="0.16" text-anchor="start" font-weight="normal" >SUBvsp4</text>
<circle cx="524.4" cy="148.3" r="2.3" fill="#fff" stroke="#f4a98a" stroke-width="1"/>
<text x="519.8" y="150.7" font-size="6.6" fill="#333" stroke="#333" stroke-width="0.16" text-anchor="end" font-weight="normal" >SUBvsr</text>
<circle cx="651.6" cy="148.3" r="2.3" fill="#fff" stroke="#f4a184" stroke-width="1"/>
<text x="657.1" y="150.7" font-size="6.6" fill="#333" stroke="#333" stroke-width="0.16" text-anchor="start" font-weight="normal" >SUBvm</text>
<circle cx="524.4" cy="160.1" r="2.3" fill="#fff" stroke="#6ab4e4" stroke-width="1"/>
<text x="519.8" y="162.4" font-size="6.6" fill="#333" stroke="#333" stroke-width="0.16" text-anchor="end" font-weight="normal" >SUMm</text>
<circle cx="651.6" cy="160.1" r="2.3" fill="#fff" stroke="#f4a184" stroke-width="1"/>
<text x="657.1" y="162.4" font-size="6.6" fill="#333" stroke="#333" stroke-width="0.16" text-anchor="start" font-weight="normal" >SUBvsr</text>
<rect x="573.3" y="90" width="30.100000000000023" height="10" rx="1" fill="#fff" stroke="#222" stroke-width="0.7" stroke-dasharray="1.6,0.9"/>
<text x="588.3" y="97.4" font-size="6.6" fill="#222" stroke="#222" stroke-width="0.16" text-anchor="middle" font-weight="normal" >CA1sod</text>
<text x="588.3" y="50.3" font-size="6.6" fill="#333" stroke="#333" stroke-width="0.16" text-anchor="middle" font-weight="normal" >CA</text>
<text x="588.3" y="66.0" font-size="6.6" fill="#333" stroke="#333" stroke-width="0.16" text-anchor="middle" font-weight="normal" >CA1</text>
<text x="588.3" y="81.8" font-size="6.6" fill="#333" stroke="#333" stroke-width="0.16" text-anchor="middle" font-weight="normal" >CA1d</text>
<path d="M588.3,52.5 L588.3,58.5 M588.3,68.5 L588.3,74.5 M588.3,84 L588.3,90" stroke="#333" stroke-width="0.8"/>
<text x="490.2" y="21.4" font-size="6.6" fill="#333" stroke="#333" stroke-width="0.16" text-anchor="end" font-weight="normal" >PAL</text>
<text x="490.2" y="127.2" font-size="6.6" fill="#333" stroke="#333" stroke-width="0.16" text-anchor="end" font-weight="normal" >STR</text>
<path d="M495.4,19.1 L502.4,19.1 M495.4,124.9 L502.4,124.9" stroke="#333" stroke-width="0.9"/>
<path d="M476,17 C474.5,17.3 473.6,18 473.6,20 L473.6,122 C473.6,124 474.5,124.7 476,125 M473.6,71.2 L471.5,71.2" fill="none" stroke="#333" stroke-width="0.9"/>
<text x="470.2" y="73.5" font-size="6.6" fill="#333" stroke="#333" stroke-width="0.16" text-anchor="end" font-weight="normal" >CNU</text>
<text x="-1.0" y="190.4" font-size="13" fill="#000" text-anchor="start" font-weight="bold" >d</text>
<path d="M124.6,203.5 C121.7,203.5 120.1,198.0 116.0,196.5 C111.9,195.0 106.0,194.7 100.0,194.5 C94.0,194.3 87.5,194.1 80.0,195.5 C72.5,196.9 62.8,199.2 55.0,203.0 C47.2,206.8 39.2,211.8 33.0,218.0 C26.8,224.2 21.8,232.2 18.0,240.0 C14.2,247.8 11.7,256.3 10.0,265.0 C8.3,273.7 7.7,283.2 8.0,292.0 C8.3,300.8 9.7,310.3 12.0,318.0 C14.3,325.7 17.7,331.8 22.0,338.0 C26.3,344.2 31.7,350.3 38.0,355.0 C44.3,359.7 51.7,363.2 60.0,366.0 C68.3,368.8 79.7,370.8 88.0,372.0 C96.3,373.2 101.5,372.8 110.0,373.0 C118.5,373.2 130.7,373.2 139.2,373.0 C147.7,372.8 152.9,373.2 161.2,372.0 C169.5,370.8 180.9,368.8 189.2,366.0 C197.5,363.2 204.9,359.7 211.2,355.0 C217.5,350.3 222.9,344.2 227.2,338.0 C231.5,331.8 234.9,325.7 237.2,318.0 C239.5,310.3 240.9,300.8 241.2,292.0 C241.5,283.2 240.9,273.7 239.2,265.0 C237.5,256.3 235.0,247.8 231.2,240.0 C227.4,232.2 222.4,224.2 216.2,218.0 C210.0,211.8 202.0,206.8 194.2,203.0 C186.4,199.2 176.7,196.9 169.2,195.5 C161.7,194.1 155.2,194.3 149.2,194.5 C143.2,194.7 137.3,195.0 133.2,196.5 C129.1,198.0 127.5,203.5 124.6,203.5 Z" fill="#eeeeee" stroke="#dedede" stroke-width="0.8"/>
<path d="M124.6,212.0 C120.4,212.0 117.8,207.7 112.0,207.0 C106.2,206.3 97.7,206.5 90.0,208.0 C82.3,209.5 73.5,212.0 66.0,216.0 C58.5,220.0 50.8,225.5 45.0,232.0 C39.2,238.5 34.5,247.0 31.0,255.0 C27.5,263.0 24.8,271.7 24.0,280.0 C23.2,288.3 24.0,297.0 26.0,305.0 C28.0,313.0 31.2,321.2 36.0,328.0 C40.8,334.8 47.3,341.2 55.0,346.0 C62.7,350.8 73.2,354.7 82.0,357.0 C90.8,359.3 98.1,359.5 108.0,360.0 C117.9,360.5 131.3,360.5 141.2,360.0 C151.1,359.5 158.4,359.3 167.2,357.0 C176.0,354.7 186.5,350.8 194.2,346.0 C201.9,341.2 208.4,334.8 213.2,328.0 C218.0,321.2 221.2,313.0 223.2,305.0 C225.2,297.0 226.0,288.3 225.2,280.0 C224.4,271.7 221.7,263.0 218.2,255.0 C214.7,247.0 210.0,238.5 204.2,232.0 C198.4,225.5 190.7,220.0 183.2,216.0 C175.7,212.0 166.9,209.5 159.2,208.0 C151.5,206.5 143.0,206.3 137.2,207.0 C131.4,207.7 128.8,212.0 124.6,212.0 Z" fill="#f4f4f4" stroke="#e4e4e4" stroke-width="0.7"/>
<path d="M110.0,236.0 C107.3,232.7 98.7,231.7 92.0,232.0 C85.3,232.3 76.7,234.7 70.0,238.0 C63.3,241.3 56.3,246.3 52.0,252.0 C47.7,257.7 44.8,265.3 44.0,272.0 C43.2,278.7 44.7,286.3 47.0,292.0 C49.3,297.7 53.8,302.7 58.0,306.0 C62.2,309.3 67.3,312.0 72.0,312.0 C76.7,312.0 82.0,309.3 86.0,306.0 C90.0,302.7 93.7,297.7 96.0,292.0 C98.3,286.3 98.0,278.7 100.0,272.0 C102.0,265.3 106.3,258.0 108.0,252.0 C109.7,246.0 112.7,239.3 110.0,236.0 Z" fill="#ececec" stroke="#dddddd" stroke-width="0.6"/>
<path d="M104.0,250.0 C103.0,245.5 94.8,247.2 90.0,248.0 C85.2,248.8 79.0,251.3 75.0,255.0 C71.0,258.7 67.2,264.5 66.0,270.0 C64.8,275.5 66.0,283.7 68.0,288.0 C70.0,292.3 74.3,295.7 78.0,296.0 C81.7,296.3 87.0,293.5 90.0,290.0 C93.0,286.5 93.7,281.7 96.0,275.0 C98.3,268.3 105.0,254.5 104.0,250.0 Z" fill="#f8f8f8" stroke="#e0e0e0" stroke-width="0.5"/>
<path d="M100.0,300.0 C95.5,298.7 90.3,305.8 85.0,310.0 C79.7,314.2 72.2,319.7 68.0,325.0 C63.8,330.3 59.3,337.5 60.0,342.0 C60.7,346.5 66.2,350.3 72.0,352.0 C77.8,353.7 88.7,354.0 95.0,352.0 C101.3,350.0 107.2,345.7 110.0,340.0 C112.8,334.3 113.7,324.7 112.0,318.0 C110.3,311.3 104.5,301.3 100.0,300.0 Z" fill="#ebebeb" stroke="#dedede" stroke-width="0.5" opacity="0.7"/>
<path d="M139.2,236.0 C141.9,232.7 150.5,231.7 157.2,232.0 C163.9,232.3 172.5,234.7 179.2,238.0 C185.9,241.3 192.9,246.3 197.2,252.0 C201.5,257.7 204.4,265.3 205.2,272.0 C206.0,278.7 204.5,286.3 202.2,292.0 C199.9,297.7 195.4,302.7 191.2,306.0 C187.0,309.3 181.9,312.0 177.2,312.0 C172.5,312.0 167.2,309.3 163.2,306.0 C159.2,302.7 155.5,297.7 153.2,292.0 C150.9,286.3 151.2,278.7 149.2,272.0 C147.2,265.3 142.9,258.0 141.2,252.0 C139.5,246.0 136.5,239.3 139.2,236.0 Z" fill="#ececec" stroke="#dddddd" stroke-width="0.6"/>
<path d="M145.2,250.0 C146.2,245.5 154.4,247.2 159.2,248.0 C164.0,248.8 170.2,251.3 174.2,255.0 C178.2,258.7 182.0,264.5 183.2,270.0 C184.4,275.5 183.2,283.7 181.2,288.0 C179.2,292.3 174.9,295.7 171.2,296.0 C167.5,296.3 162.2,293.5 159.2,290.0 C156.2,286.5 155.5,281.7 153.2,275.0 C150.9,268.3 144.2,254.5 145.2,250.0 Z" fill="#f8f8f8" stroke="#e0e0e0" stroke-width="0.5"/>
<path d="M149.2,300.0 C153.7,298.7 158.9,305.8 164.2,310.0 C169.5,314.2 177.0,319.7 181.2,325.0 C185.4,330.3 189.9,337.5 189.2,342.0 C188.5,346.5 183.0,350.3 177.2,352.0 C171.4,353.7 160.5,354.0 154.2,352.0 C147.9,350.0 142.0,345.7 139.2,340.0 C136.4,334.3 135.5,324.7 137.2,318.0 C138.9,311.3 144.7,301.3 149.2,300.0 Z" fill="#ebebeb" stroke="#dedede" stroke-width="0.5" opacity="0.7"/>
<path d="M88,348 C95,346 104,347 112,349 L124.6,352 L137,349 C145,347 154,346 161,348 C165,351 164,358 158,362 C150,365 140,364 130,362 L124.6,358 L119,362 C109,364 99,365 91,362 C85,358 84,351 88,348 Z" fill="#f2c4a2" opacity="0.85"/>
<path d="M112,252 C116,249 121,250 124,253 C127,250 132,249 136,252 C138,262 139,274 143,284 C146,296 145,320 141,340 C138,352 132,358 125,356 C118,358 111,352 108,340 C104,320 103,296 106,284 C110,274 111,262 112,252 Z" fill="#cfe9cf" opacity="0.9" stroke="#b9dcb9" stroke-width="0.6"/>
<path d="M106,286 C110,280 118,282 120,292 C121,305 118,318 112,322 C106,318 104,300 106,286 Z M143,286 C139,280 131,282 129,292 C128,305 131,318 137,322 C143,318 145,300 143,286 Z" fill="#bfe0bf" opacity="0.8"/>
<path d="M48.1,249.7 L47.5,250.1 L48.0,250.6 L47.9,251.0 L48.4,251.5 L47.7,251.9 L46.6,252.1 L47.0,252.6 L47.6,253.2 L47.4,253.6 L44.5,253.5 L45.5,254.1 L45.7,254.6 L48.1,255.4 L45.4,255.4 L45.3,255.9 L44.2,256.1 L45.0,256.7 L45.2,257.2 L44.6,257.5 L46.3,258.2 L43.8,258.2 L44.2,258.7 L44.8,259.3 L43.0,260.3 L42.6,260.8 L45.1,261.1 L44.4,261.5 L43.5,262.0 L43.5,262.5 L43.9,262.9 M53.9,271.1 L53.2,271.5 L53.5,271.9 L52.6,272.4 L53.2,272.8 L54.3,273.1 L53.2,273.6 L54.9,273.9 L53.5,274.4 L52.8,274.9 L52.1,275.3 L52.9,275.7 L52.2,276.1 L51.5,276.6 L51.3,277.0 L50.9,277.4 L50.9,277.4 L51.2,277.8 L50.2,278.4 L50.6,278.8 L51.1,279.1 L50.8,279.5 L50.1,280.1 L50.1,280.5 L49.7,281.0 L49.6,281.5 L49.3,281.9 L49.4,282.3 L50.1,282.6 L48.7,283.3 L48.0,283.9 M47.2,256.5 L45.6,257.2 L46.2,258.3 L44.8,259.0 L46.1,260.4 L47.4,261.3 L46.2,262.3 L44.2,263.4 L45.9,264.2 L46.7,265.1 L46.3,266.1 L45.4,267.1 L45.5,268.0 L45.8,269.0 L44.8,270.0 L45.5,270.9 L46.2,271.8 L45.8,272.8 L45.0,273.8 L45.6,274.7 L45.6,275.7 L47.4,276.5 L46.7,277.5 L46.2,278.8 L47.2,279.5 L46.3,280.7 L46.9,281.5 L46.9,282.5 L48.0,283.2 L46.0,284.6 L47.2,285.3 M47.9,247.5 L50.5,248.3 L49.2,248.4 L50.3,249.0 L49.7,249.3 L49.7,249.6 L49.5,250.0 L49.5,250.4 L49.0,250.7 L49.5,251.1 L49.1,251.4 L48.5,251.7 L49.0,252.2 L48.9,252.5 L47.9,252.7 L50.2,253.5 L49.1,253.7 L49.4,254.1 L49.7,254.5 L48.0,254.6 L49.1,255.2 L49.5,255.6 L46.4,255.5 L47.6,256.0 L47.2,256.4 L48.3,256.9 L48.3,257.3 L47.2,257.5 L49.4,258.2 L48.8,258.5 L48.7,258.9 M45.0,262.0 L47.0,262.9 L47.2,263.8 L46.7,264.8 L46.4,265.8 L47.2,266.8 L46.1,267.8 L46.1,268.8 L45.9,269.8 L46.0,270.8 L45.4,271.8 L45.8,272.8 L47.9,273.7 L47.4,274.7 L47.9,275.6 L48.1,276.6 L47.4,277.6 L47.5,278.7 L47.4,279.7 L49.3,280.3 L49.2,281.4 L48.5,282.5 L48.9,283.4 L49.3,284.4 L49.3,285.4 L50.1,286.2 L49.2,287.4 L49.7,288.3 L50.3,289.2 L51.1,290.0 L50.9,291.1 M54.7,261.3 L54.8,260.1 L56.2,260.5 L55.4,261.0 L55.6,261.5 L55.1,262.1 L55.2,262.6 L55.8,263.0 L56.6,263.5 L56.2,264.0 L56.3,264.5 L55.8,265.1 L56.3,265.5 L57.2,266.0 L57.9,266.4 L57.2,267.0 L57.7,267.5 L58.1,267.9 L57.4,268.5 L57.9,269.0 L57.6,269.5 L57.4,270.0 L58.3,270.5 L56.2,271.1 L58.5,271.5 L57.5,272.0 L58.4,272.5 L57.7,273.0 L60.7,273.3 L59.5,273.9 L58.9,274.5 M51.8,241.0 L51.1,241.7 L51.0,242.4 L51.1,243.4 L50.1,244.2 L51.0,245.2 L48.8,245.8 L50.1,246.9 L48.7,247.6 L46.8,248.2 L48.2,249.4 L47.6,250.2 L46.3,250.9 L46.7,251.9 L47.0,252.9 L45.7,253.6 L45.0,254.4 L44.5,255.2 L45.3,256.3 L42.9,256.8 L42.5,257.7 L43.4,258.7 L42.8,260.5 L43.1,261.4 L41.4,262.4 L42.9,263.2 L41.6,264.2 L42.3,265.1 L42.2,266.0 L40.9,267.0 L40.2,267.9 M53.1,228.7 L52.4,229.1 L52.6,229.7 L53.7,230.7 L51.5,230.5 L53.1,231.7 L52.4,232.0 L53.3,233.0 L52.7,233.3 L53.9,234.4 L51.1,233.9 L51.3,234.6 L53.1,235.9 L53.2,236.5 L53.2,237.1 L51.0,236.9 L52.1,237.9 L51.6,238.3 L51.7,238.9 L51.4,239.4 L52.1,240.2 L51.1,240.5 L52.1,241.4 L50.9,241.6 L50.5,242.0 L50.4,242.5 L50.9,243.1 L51.4,243.8 L50.6,244.2 L51.1,244.9 L49.4,245.2 M47.1,246.7 L46.5,247.5 L45.8,248.2 L45.5,249.1 L45.3,249.9 L44.0,250.6 L46.1,251.8 L45.4,252.6 L43.1,253.1 L46.6,254.6 L45.4,255.3 L44.7,256.0 L44.6,256.9 L44.3,257.7 L44.7,258.7 L44.1,259.5 L44.3,261.0 L43.8,261.9 L46.0,262.6 L45.3,263.5 L44.6,264.5 L45.5,265.3 L45.6,266.2 L44.3,267.1 L45.4,267.9 L44.4,268.8 L44.4,269.7 L44.8,270.6 L44.7,271.4 L45.3,272.3 L46.4,273.1 M51.1,243.4 L52.4,244.3 L49.7,244.6 L49.3,245.2 L51.3,246.2 L49.7,246.6 L49.7,247.2 L50.0,248.0 L51.0,248.8 L50.3,249.4 L48.9,249.8 L48.1,250.3 L48.7,251.1 L47.3,251.5 L49.1,252.5 L47.0,252.8 L49.8,254.0 L47.9,254.3 L47.4,254.9 L47.1,255.6 L46.7,256.2 L48.1,257.1 L48.8,257.9 L47.2,258.3 L47.9,259.1 L46.6,259.5 L47.4,260.2 L46.7,260.9 L46.6,261.6 L46.4,262.3 L47.0,262.9 M47.4,232.9 L46.3,232.9 L47.4,233.8 L47.5,234.3 L46.3,234.3 L46.6,234.9 L47.6,235.7 L47.3,236.0 L46.6,236.3 L45.7,236.4 L46.0,237.0 L46.5,237.6 L48.3,238.7 L46.0,238.3 L47.3,239.3 L47.5,239.8 L46.7,240.0 L46.0,240.2 L45.8,241.4 L43.9,241.5 L46.1,242.4 L46.5,242.9 L45.0,243.0 L45.8,243.6 L46.3,244.1 L46.7,244.6 L46.0,245.0 L44.8,245.2 L45.4,245.8 L46.2,246.3 L45.3,246.6 M47.5,238.4 L47.7,240.1 L48.2,242.2 L46.6,243.4 L45.1,244.6 L47.6,246.5 L45.6,247.7 L46.8,249.4 L46.2,250.8 L46.6,252.4 L47.2,254.0 L45.6,255.2 L46.7,256.8 L46.1,258.2 L45.7,259.7 L47.4,261.3 L46.0,262.9 L46.4,264.3 L47.3,265.8 L47.8,267.2 L47.2,268.7 L47.4,270.2 L48.1,271.6 L48.0,273.1 L48.4,274.6 L50.1,275.9 L47.9,277.5 L48.4,278.9 L50.7,280.0 L48.4,281.9 L50.7,283.0 M49.2,279.5 L50.1,279.8 L50.9,280.1 L49.9,280.8 L50.7,281.1 L50.1,281.7 L49.9,282.2 L50.5,282.5 L51.7,282.8 L49.0,283.8 L49.2,284.2 L49.2,284.7 L50.5,284.9 L50.0,285.5 L50.1,286.0 L52.1,286.0 L51.0,286.7 L50.7,287.3 L51.6,287.6 L50.7,288.2 L50.4,288.7 L51.2,289.1 L52.0,289.4 L49.7,290.3 L50.2,290.7 L50.9,291.0 L50.5,291.6 L52.3,291.7 L50.9,292.4 L51.1,292.9 L49.5,293.7 M44.3,249.1 L45.7,250.7 L43.2,251.7 L45.4,253.4 L45.1,254.8 L44.7,256.1 L45.0,257.6 L44.1,258.8 L43.9,260.9 L44.0,262.2 L45.9,263.5 L45.5,264.9 L45.7,266.3 L43.8,267.7 L44.4,269.1 L46.5,270.3 L44.3,271.8 L44.0,273.2 L45.0,274.6 L44.9,276.0 L44.1,277.4 L47.0,278.7 L45.4,280.5 L45.2,281.9 L44.7,283.4 L46.4,284.5 L48.0,285.5 L46.7,287.2 L48.2,288.3 L47.7,289.8 L47.1,291.4 M59.8,233.7 L59.1,234.4 L58.0,234.9 L58.2,236.0 L58.9,237.3 L55.6,237.0 L55.4,237.9 L58.0,239.9 L56.1,240.2 L55.3,240.8 L54.4,241.5 L54.2,242.4 L54.4,243.5 L54.9,243.6 L53.7,244.3 L52.7,245.1 L54.0,246.2 L53.7,247.1 L52.6,247.9 L53.8,249.0 L52.1,249.7 L52.0,250.6 L51.0,251.4 L51.6,252.4 L51.4,253.3 L50.7,254.1 L50.2,255.0 L50.3,255.9 L49.5,256.7 L48.6,257.5 L48.0,258.4 M41.1,252.8 L41.2,254.3 L40.5,255.7 L39.9,257.1 L41.2,258.8 L39.8,261.6 L40.4,263.0 L42.0,264.4 L40.5,266.0 L39.9,267.5 L42.6,268.8 L40.6,270.4 L41.2,271.8 L41.2,273.3 L41.4,274.7 L40.9,276.2 L42.3,277.6 L41.8,280.0 L43.2,281.3 L42.7,282.9 L44.3,284.0 L44.1,285.6 L43.0,287.3 L44.4,288.5 L45.2,289.8 L46.4,291.1 L46.5,292.6 L46.1,294.1 L45.9,295.7 L46.7,297.0 L47.0,298.4 M52.4,240.7 L52.5,241.9 L52.4,242.5 L52.3,243.6 L51.7,244.6 L50.6,245.6 L50.5,246.7 L51.4,247.9 L49.8,248.8 L49.6,249.9 L50.2,251.1 L48.5,251.9 L49.0,253.1 L48.7,254.2 L47.5,255.1 L46.7,256.1 L48.0,257.4 L46.7,258.3 L47.5,259.6 L44.7,260.7 L46.8,261.7 L45.4,262.9 L46.8,263.9 L45.5,265.1 L44.3,266.3 L48.0,267.2 L46.2,268.4 L45.4,269.5 L45.8,270.6 L46.1,271.7 L43.8,272.9 M44.1,254.1 L45.2,255.4 L44.6,256.5 L43.8,257.6 L44.7,258.9 L45.9,260.5 L46.4,261.7 L44.4,263.0 L45.0,264.1 L46.5,265.2 L45.4,266.4 L46.0,267.6 L46.1,268.8 L48.7,269.8 L47.4,271.0 L46.7,272.2 L47.1,273.4 L47.2,274.6 L50.1,275.6 L48.3,276.8 L48.3,278.0 L47.1,279.4 L50.3,280.0 L50.2,281.2 L50.3,282.4 L50.1,283.6 L51.5,284.5 L50.7,285.9 L52.6,286.7 L52.2,287.9 L53.3,288.9 M45.9,254.2 L46.5,255.4 L45.8,256.4 L45.1,257.4 L46.5,258.8 L45.8,259.7 L45.3,261.1 L45.5,262.2 L46.3,263.2 L47.9,264.2 L45.3,265.5 L46.2,266.5 L46.6,267.6 L47.0,268.6 L46.7,269.7 L47.4,270.8 L48.0,271.8 L47.9,272.9 L47.9,274.0 L48.1,275.1 L48.7,276.2 L47.4,277.3 L49.1,278.2 L47.9,279.5 L49.5,280.3 L48.7,281.6 L48.2,282.8 L49.4,283.6 L50.4,284.5 L50.1,285.7 L50.3,286.8 M57.8,235.1 L57.1,235.8 L56.8,236.7 L56.5,237.5 L56.5,238.5 L56.9,239.6 L56.4,240.4 L56.4,241.3 L56.2,242.2 L55.8,243.0 L56.7,244.3 L55.9,243.7 L55.5,244.6 L56.2,245.6 L55.4,246.4 L54.9,247.2 L55.3,248.2 L53.5,248.8 L57.1,250.3 L55.1,250.9 L56.3,252.0 L54.0,252.5 L52.6,253.2 L56.6,254.8 L54.5,255.3 L54.1,256.2 L54.7,257.2 L53.9,258.0 L56.0,259.2 L53.5,259.7 L53.8,260.7 M48.2,244.9 L48.6,246.6 L49.8,248.3 L47.9,249.5 L47.5,251.0 L46.9,252.5 L48.0,254.2 L47.1,255.6 L46.4,257.0 L46.6,258.6 L45.6,260.3 L45.2,261.9 L47.6,263.3 L48.6,264.7 L46.5,266.4 L46.1,267.9 L46.8,269.4 L47.0,270.9 L48.3,272.4 L48.5,273.9 L47.4,275.5 L49.0,277.0 L49.9,278.2 L49.6,279.8 L47.3,281.8 L48.1,283.2 L50.5,284.3 L50.9,285.8 L50.5,287.4 L51.7,288.7 L50.4,290.5 M48.9,237.3 L49.8,238.3 L49.9,239.0 L49.3,239.5 L50.0,240.5 L50.7,241.4 L50.9,242.2 L50.2,242.6 L49.8,243.2 L49.2,243.7 L49.2,244.4 L48.8,245.0 L49.2,245.7 L49.9,246.5 L49.9,247.1 L51.0,248.0 L49.5,248.4 L49.0,249.0 L49.0,249.6 L49.5,250.4 L49.6,251.1 L48.7,251.6 L49.4,252.4 L48.9,252.9 L49.0,253.6 L49.3,254.3 L48.5,254.8 L50.0,255.8 L49.8,256.4 L50.2,257.1 L50.2,257.8 M50.9,235.8 L50.7,236.3 L49.1,236.1 L49.6,236.8 L48.5,236.8 L48.1,237.1 L48.4,237.7 L48.3,238.1 L47.8,238.4 L45.9,238.2 L48.1,239.5 L45.5,239.0 L45.8,239.6 L46.0,240.1 L44.6,241.2 L44.7,241.6 L45.1,242.1 L44.2,242.4 L43.7,242.8 L43.2,243.2 L43.1,243.6 L43.0,244.0 L44.4,244.7 L42.9,244.9 L41.7,245.2 L41.4,245.5 L42.3,246.1 L41.8,246.5 L41.9,247.0 L41.8,247.4 L40.1,247.6 M45.8,282.9 L44.7,283.7 L46.2,283.9 L46.4,284.4 L47.4,284.8 L46.7,285.5 L47.6,285.8 L46.8,286.5 L46.6,287.1 L47.1,287.6 L47.0,288.1 L48.0,288.5 L46.3,289.3 L48.1,289.5 L49.1,289.9 L47.9,290.6 L48.5,291.1 L48.8,291.6 L48.4,292.2 L48.0,292.8 L49.3,293.1 L48.6,293.8 L47.5,294.5 L48.2,295.0 L49.0,295.3 L48.9,295.9 L49.2,296.4 L49.2,296.9 L48.7,297.6 L49.5,298.0 L51.4,298.1 M47.2,248.8 L45.5,249.9 L47.9,251.7 L47.9,253.0 L48.0,254.4 L48.7,255.9 L48.1,257.2 L46.2,258.2 L46.9,259.7 L48.0,261.0 L47.9,262.4 L46.4,263.9 L47.7,265.1 L47.5,266.5 L47.1,267.9 L46.5,269.3 L46.2,270.7 L47.1,272.0 L48.0,273.3 L48.2,274.6 L47.0,276.0 L47.5,277.4 L49.2,278.5 L48.9,279.9 L49.4,281.2 L50.0,282.5 L50.8,283.7 L51.8,284.9 L51.6,286.3 L52.7,287.5 L50.9,289.2 M44.4,286.0 L44.5,286.3 L47.2,286.2 L45.8,286.9 L46.5,287.2 L46.5,287.7 L46.4,288.1 L45.5,288.7 L46.9,288.9 L47.0,289.3 L48.7,289.3 L47.4,290.0 L49.1,290.1 L48.4,290.7 L48.2,291.1 L47.7,291.7 L48.2,292.0 L49.0,292.3 L48.8,292.7 L49.8,293.0 L49.8,293.4 L50.1,293.7 L49.7,294.3 L50.7,294.5 L51.5,294.7 L51.8,295.1 L49.4,296.0 L52.9,295.7 L51.7,296.4 L52.0,296.8 L52.2,297.2 M53.0,251.1 L53.4,252.2 L51.9,253.1 L50.5,253.9 L50.5,254.9 L50.8,256.0 L51.3,257.2 L51.0,258.2 L50.4,259.2 L49.3,260.1 L50.5,260.5 L50.6,261.6 L51.5,262.6 L50.5,263.7 L50.4,264.7 L51.0,265.7 L51.3,266.8 L50.5,267.9 L50.2,268.9 L51.0,269.9 L49.9,271.1 L50.7,272.1 L50.2,273.1 L49.3,274.2 L50.9,275.2 L50.5,276.3 L50.7,277.3 L50.7,278.0 L50.3,279.1 L51.9,279.9 L50.6,281.2 M51.0,254.4 L50.1,255.4 L50.6,256.7 L50.8,258.0 L51.1,259.3 L51.2,260.6 L49.5,260.9 L52.1,262.0 L51.5,263.3 L51.2,264.5 L52.1,265.7 L52.8,266.9 L51.8,268.1 L52.1,269.3 L53.6,270.5 L52.9,271.7 L53.2,273.0 L52.9,274.2 L52.5,275.4 L52.4,276.7 L54.0,276.9 L53.4,278.3 L54.2,279.4 L55.3,280.4 L53.8,281.9 L55.0,282.9 L55.1,284.2 L56.8,285.1 L55.2,286.6 L55.8,287.7 L55.7,289.0 M55.7,238.1 L54.8,239.5 L55.0,241.4 L53.0,242.5 L53.0,243.6 L52.4,245.2 L51.7,246.8 L50.1,248.3 L51.7,250.3 L51.5,251.9 L50.4,253.5 L50.3,255.2 L51.5,257.1 L47.9,258.2 L48.6,260.0 L50.1,261.3 L49.2,263.1 L48.4,264.8 L48.8,266.5 L48.8,268.2 L48.2,269.9 L47.6,271.6 L47.5,273.3 L48.0,275.0 L47.8,276.7 L49.3,278.2 L49.4,279.9 L48.4,281.8 L49.0,283.4 L48.6,285.2 L49.5,286.7 M51.2,257.0 L49.9,257.7 L49.0,258.5 L49.4,259.5 L50.6,259.9 L48.9,260.9 L50.4,261.7 L48.5,262.8 L50.2,263.6 L49.9,264.5 L50.1,265.4 L49.9,266.4 L48.5,267.4 L48.9,268.3 L49.2,269.2 L49.5,270.1 L51.0,270.9 L50.3,271.9 L50.4,272.8 L50.8,273.7 L49.6,274.7 L50.7,275.5 L50.8,276.5 L51.1,277.4 L52.0,277.7 L50.1,279.0 L49.7,280.0 L50.8,280.7 L51.9,281.5 L53.4,282.1 L51.4,283.4 M47.5,235.5 L48.1,237.3 L46.4,238.3 L46.0,239.8 L47.2,242.4 L46.1,243.8 L46.6,245.4 L45.3,246.7 L44.4,248.2 L45.4,249.9 L45.9,251.5 L43.0,252.6 L43.5,254.2 L42.3,255.5 L44.2,257.4 L42.1,258.6 L41.1,261.3 L41.2,262.8 L43.0,264.2 L42.7,265.8 L43.1,267.3 L42.2,268.9 L42.2,270.4 L43.0,271.9 L44.3,273.3 L42.6,275.0 L43.6,276.4 L42.8,278.0 L43.4,280.2 L42.6,281.9 L43.3,283.3 M51.2,240.9 L51.5,241.5 L51.2,241.9 L51.6,242.5 L53.0,242.8 L52.8,243.2 L51.5,243.5 L51.3,243.9 L49.5,244.0 L52.1,244.9 L50.4,245.1 L50.5,245.6 L52.4,246.3 L51.6,246.6 L50.7,246.9 L51.1,247.4 L50.7,247.8 L50.1,248.2 L51.0,248.8 L49.9,249.0 L50.6,249.6 L50.5,250.0 L49.5,250.3 L50.3,250.9 L49.5,251.2 L48.3,251.5 L49.4,252.1 L49.5,252.6 L48.7,252.9 L49.4,253.4 L48.2,253.7 M52.5,252.2 L54.4,253.2 L52.1,253.6 L52.8,254.5 L52.0,255.1 L53.7,256.1 L51.8,256.5 L51.4,257.2 L52.5,258.1 L52.3,258.8 L50.1,259.2 L51.7,260.2 L52.0,259.9 L52.2,260.6 L51.3,261.4 L51.3,262.1 L51.4,262.8 L50.2,263.6 L51.8,264.3 L51.1,265.0 L50.3,265.8 L52.2,266.4 L50.6,267.3 L49.9,268.0 L52.4,268.6 L52.2,269.4 L52.1,270.1 L52.7,270.8 L50.8,271.6 L52.7,272.3 L50.7,273.1 M39.9,255.8 L40.3,257.0 L39.9,258.0 L39.6,260.7 L39.5,261.8 L40.5,262.8 L40.4,263.9 L41.1,265.0 L40.8,266.1 L42.1,267.1 L41.4,268.3 L43.2,269.2 L42.3,270.4 L40.6,271.6 L42.4,272.6 L43.7,273.6 L42.7,274.7 L43.9,275.8 L44.7,276.8 L44.2,277.9 L43.5,279.7 L44.2,280.7 L45.0,281.7 L46.0,282.6 L46.5,283.6 L45.0,285.0 L46.3,285.9 L47.6,286.7 L48.9,287.6 L48.8,288.7 L46.1,290.3 M59.0,229.8 L59.1,232.1 L58.1,234.0 L55.3,235.2 L56.4,237.9 L54.4,239.4 L55.6,242.1 L54.1,243.0 L53.3,245.0 L52.4,247.0 L53.7,249.4 L52.0,251.2 L51.8,253.4 L52.4,255.6 L51.1,257.5 L51.8,259.8 L51.7,260.9 L51.2,263.0 L53.5,265.0 L51.6,267.3 L52.4,269.3 L52.9,271.4 L52.2,273.6 L51.4,275.8 L52.4,277.2 L51.5,279.6 L53.8,281.3 L54.3,283.3 L52.5,285.9 L53.9,287.8 L53.9,289.9 M59.7,227.9 L58.7,228.0 L59.9,228.9 L59.8,229.4 L60.0,229.9 L57.8,229.6 L58.9,230.5 L58.9,231.0 L58.6,231.3 L58.0,231.6 L58.4,232.2 L57.4,232.3 L57.4,232.8 L57.1,233.2 L57.1,233.7 L56.1,233.8 L56.3,234.3 L55.6,234.5 L55.2,234.9 L54.9,235.3 L56.6,236.4 L55.1,236.3 L55.0,236.7 L53.6,236.7 L55.1,237.7 L54.2,237.9 L53.7,238.2 L53.5,238.6 L52.2,238.6 L53.1,239.4 L51.7,239.4 M56.1,230.3 L56.1,231.7 L55.6,232.8 L56.6,234.6 L54.7,235.2 L55.6,236.9 L54.2,237.7 L54.6,239.2 L55.9,241.1 L55.2,242.1 L53.1,242.7 L54.2,243.5 L54.4,244.8 L53.9,246.0 L54.4,247.4 L54.5,248.7 L54.0,249.9 L54.0,251.2 L52.9,252.3 L54.1,253.7 L52.6,254.8 L52.7,256.1 L52.8,257.3 L53.3,258.7 L54.0,260.1 L54.1,259.8 L54.6,261.1 L55.4,262.3 L55.1,263.6 L55.9,264.8 L54.3,266.1 M52.8,231.4 L51.6,232.7 L51.2,234.2 L51.5,236.0 L48.9,236.7 L48.8,238.4 L46.4,239.2 L47.7,241.9 L47.6,243.5 L46.1,244.8 L47.0,246.6 L46.7,248.1 L47.0,249.8 L46.9,251.4 L45.1,252.7 L45.2,254.3 L44.5,255.8 L45.9,257.6 L45.4,259.2 L46.1,261.1 L44.8,262.7 L46.8,264.2 L45.4,265.9 L45.1,267.5 L45.0,269.1 L47.0,270.6 L45.5,272.2 L47.1,273.7 L47.3,275.3 L47.9,276.9 L46.1,278.8 M40.6,245.0 L41.7,245.8 L42.9,246.7 L43.8,247.6 L42.9,248.1 L41.4,248.5 L40.8,249.1 L42.5,250.1 L42.8,250.8 L42.6,251.5 L43.6,252.3 L41.4,252.6 L42.9,253.6 L41.2,254.0 L43.3,255.0 L42.9,255.6 L41.6,256.1 L42.4,256.9 L41.2,257.4 L41.7,258.2 L42.6,259.0 L41.2,260.7 L41.1,261.4 L43.4,262.0 L40.5,262.8 L41.7,263.4 L41.6,264.1 L43.8,264.6 L43.0,265.4 L42.8,266.0 L41.8,266.8 M58.7,233.7 L58.3,234.2 L57.3,234.6 L56.4,234.9 L55.4,235.2 L56.0,236.1 L56.6,237.0 L57.1,237.9 L56.8,238.5 L56.5,239.1 L55.7,239.5 L55.7,240.2 L54.3,240.3 L55.2,241.4 L56.1,242.4 L54.0,242.3 L54.3,243.1 L55.1,243.0 L55.8,243.7 L56.7,244.6 L56.0,245.1 L54.5,245.5 L55.8,246.4 L56.2,247.1 L55.0,247.5 L55.0,248.2 L54.7,248.8 L54.7,249.4 L54.1,250.0 L55.8,250.9 L54.4,251.3 M59.5,230.8 L58.5,231.6 L59.2,233.1 L58.8,234.1 L56.8,234.5 L56.1,235.4 L56.9,236.9 L55.2,237.5 L55.3,238.7 L55.0,239.8 L53.1,240.2 L54.2,241.8 L54.6,243.1 L53.4,243.1 L53.3,244.2 L51.6,245.1 L54.4,246.7 L51.6,247.3 L52.0,248.5 L53.4,249.8 L51.1,250.6 L51.5,251.8 L50.6,252.7 L50.7,253.9 L50.5,255.0 L50.0,256.0 L49.1,257.0 L49.5,258.2 L49.0,259.2 L49.9,260.5 L47.6,261.0 M56.9,235.8 L56.3,236.3 L56.7,237.2 L57.1,238.1 L56.2,238.4 L54.3,238.5 L55.3,239.6 L55.3,240.3 L53.8,240.4 L52.8,240.8 L51.9,241.2 L52.6,242.2 L52.8,243.0 L52.1,243.0 L52.2,243.7 L53.2,244.5 L50.5,244.8 L50.4,245.5 L52.2,246.5 L49.8,246.8 L50.5,247.6 L50.9,248.3 L51.5,249.1 L49.8,249.5 L49.9,250.2 L48.8,250.7 L48.3,251.3 L48.0,252.0 L49.3,252.9 L48.9,253.5 L47.3,253.9 M49.3,243.8 L48.7,244.1 L48.7,244.6 L48.3,245.0 L48.8,245.6 L48.8,246.0 L48.8,246.5 L49.2,247.0 L46.9,247.1 L48.2,247.8 L48.2,248.3 L46.8,248.5 L47.4,249.1 L49.7,249.9 L47.9,250.1 L47.8,250.5 L47.0,250.9 L47.4,251.4 L47.8,251.9 L49.3,252.6 L49.1,253.1 L48.1,253.4 L47.9,253.8 L49.1,254.5 L48.6,254.9 L48.6,255.3 L48.2,255.7 L48.0,256.2 L48.4,256.7 L49.2,257.3 L47.2,257.4 M45.8,234.4 L46.5,235.7 L45.5,236.4 L46.2,237.8 L45.2,238.4 L44.6,239.3 L44.5,241.4 L43.9,242.3 L44.1,243.3 L42.9,244.2 L44.4,245.4 L43.4,246.2 L42.6,247.1 L43.4,248.2 L42.5,249.1 L42.7,250.1 L42.1,251.0 L39.9,251.7 L42.7,253.1 L42.1,254.0 L42.4,255.1 L42.5,256.1 L40.3,256.7 L40.6,257.8 L41.2,258.9 L42.2,261.1 L39.5,262.3 L40.3,263.2 L41.6,264.1 L42.1,265.1 L41.6,266.1 M46.5,237.1 L44.1,237.1 L44.2,238.0 L43.2,238.5 L43.5,239.5 L43.0,241.7 L43.1,242.5 L44.3,243.6 L42.8,244.2 L42.5,245.0 L41.7,245.7 L42.0,246.6 L43.0,247.6 L42.2,248.3 L41.8,249.1 L40.9,249.8 L42.2,250.9 L43.1,251.9 L42.0,252.5 L41.7,253.3 L40.1,253.9 L40.6,254.8 L42.0,255.9 L40.2,256.5 L39.4,257.2 L40.1,258.2 L41.2,260.5 L39.1,261.4 L39.9,262.2 L41.2,263.0 L38.8,264.0 M47.0,237.3 L47.4,238.5 L46.6,239.2 L47.5,240.6 L45.9,241.9 L45.7,242.9 L46.7,244.0 L47.7,245.2 L46.6,246.0 L46.1,246.9 L46.2,247.9 L46.5,249.0 L48.6,250.3 L47.8,251.2 L46.2,251.9 L48.4,253.3 L46.6,253.9 L46.0,254.9 L47.0,256.0 L46.8,257.0 L48.0,258.2 L48.8,259.3 L48.0,260.2 L48.3,260.9 L48.5,261.9 L48.2,262.9 L49.2,263.8 L49.2,264.8 L49.3,265.8 L49.9,266.7 L48.7,267.8 M48.6,238.6 L49.1,240.1 L49.6,241.6 L48.9,242.8 L48.3,244.0 L48.3,245.3 L46.9,246.3 L48.5,247.8 L47.0,248.8 L47.0,250.1 L47.9,251.5 L46.7,252.5 L46.6,253.8 L45.9,254.9 L46.4,256.3 L45.6,257.4 L47.0,258.9 L46.3,260.2 L44.9,261.5 L44.7,262.7 L45.6,263.9 L46.2,265.1 L44.9,266.4 L47.5,267.5 L46.5,268.8 L45.4,270.1 L45.4,271.4 L46.9,272.5 L47.6,273.7 L45.0,275.1 L46.1,276.3 M50.0,257.2 L49.9,258.6 L51.9,260.3 L49.6,260.7 L51.7,261.9 L49.5,263.4 L50.1,264.7 L48.7,266.1 L51.1,267.3 L50.7,268.7 L49.9,270.1 L51.3,271.3 L51.4,272.7 L51.2,274.0 L51.1,275.4 L51.9,276.7 L50.7,277.7 L50.9,279.0 L51.6,280.3 L50.6,281.8 L52.4,282.8 L51.4,284.4 L53.1,285.4 L52.3,286.9 L54.7,287.8 L53.3,289.5 L53.8,290.8 L54.3,292.0 L54.7,293.3 L54.7,294.7 L55.3,295.9 M57.1,244.6 L56.3,245.4 L55.5,246.2 L56.3,247.2 L56.4,248.2 L54.8,248.8 L55.1,249.8 L55.0,250.7 L54.8,251.6 L55.8,252.7 L55.6,253.6 L54.5,254.3 L55.8,255.5 L55.4,256.3 L54.9,257.2 L54.8,258.1 L55.2,259.1 L54.2,259.8 L55.0,260.9 L54.4,260.1 L54.2,261.0 L54.7,261.9 L54.7,262.8 L56.4,263.6 L56.6,264.5 L56.2,265.4 L55.4,266.4 L54.7,267.3 L57.0,268.1 L55.9,269.1 L57.0,270.0 M51.7,241.8 L52.7,243.0 L51.3,242.9 L51.2,243.6 L51.8,244.4 L51.4,245.1 L52.1,245.9 L52.4,246.7 L51.8,247.3 L51.9,248.1 L49.0,248.3 L51.6,249.5 L49.8,249.9 L50.9,250.8 L50.7,251.5 L50.3,252.2 L51.4,253.1 L50.0,253.6 L50.3,254.4 L51.7,255.3 L50.0,255.7 L49.9,256.5 L49.9,257.2 L49.0,257.7 L50.4,258.7 L49.6,259.3 L49.4,260.0 L50.7,260.1 L49.1,260.9 L51.3,261.5 L51.2,262.2 M45.9,279.6 L44.6,280.5 L45.5,281.0 L47.0,281.3 L44.5,282.5 L44.7,283.1 L44.7,283.7 L46.3,284.1 L47.4,284.5 L47.3,285.2 L46.1,286.1 L47.6,286.4 L48.8,286.9 L47.1,287.8 L47.3,288.5 L49.1,288.8 L49.2,289.4 L48.2,290.2 L50.3,290.5 L49.0,291.4 L49.8,291.9 L49.1,292.7 L50.8,293.0 L50.6,293.7 L51.2,294.2 L49.6,295.2 L50.5,295.7 L52.1,296.0 L52.0,296.7 L51.7,297.4 L52.2,298.0 M50.5,230.9 L50.1,232.9 L47.6,234.1 L47.3,236.2 L49.3,239.2 L46.9,240.4 L45.9,243.0 L46.4,245.2 L46.3,247.2 L45.1,249.1 L45.6,251.3 L47.5,253.6 L45.4,255.4 L45.1,257.4 L46.0,259.6 L44.3,262.0 L45.5,264.0 L47.0,265.9 L46.1,268.0 L46.8,270.1 L46.0,272.1 L47.4,274.1 L47.4,276.2 L46.2,278.6 L48.2,280.2 L48.7,282.2 L49.0,284.3 L50.0,286.1 L49.4,288.3 L51.5,290.0 L51.4,292.1 M37.2,255.5 L38.0,256.4 L39.5,257.5 L38.4,258.2 L37.8,261.0 L37.8,261.8 L37.2,262.7 L39.1,263.4 L39.6,264.2 L39.5,265.0 L38.7,265.9 L40.7,266.6 L39.2,267.5 L42.6,268.2 L40.1,269.1 L41.5,269.9 L40.8,270.8 L40.9,271.6 L42.7,272.3 L42.0,273.2 L42.0,274.0 L42.0,274.9 L43.5,275.6 L43.8,276.4 L44.8,277.2 L41.4,278.2 L44.1,279.5 L44.4,280.2 L45.8,280.8 L44.3,282.0 L45.8,282.5 M43.9,268.1 L44.1,268.7 L44.2,269.3 L44.7,269.9 L43.6,270.6 L43.7,271.2 L42.4,272.0 L46.1,272.4 L43.9,273.1 L44.1,273.7 L43.6,274.4 L42.9,275.1 L42.8,275.7 L43.1,276.3 L43.4,276.9 L42.6,277.6 L42.6,278.2 L44.4,279.3 L43.2,280.2 L44.1,280.6 L44.0,281.3 L43.0,282.2 L43.1,282.8 L43.1,283.4 L43.9,283.9 L43.4,284.6 L43.9,285.2 L43.0,286.0 L42.7,286.7 L41.9,287.5 L42.3,288.1 M49.3,253.4 L50.8,254.1 L49.3,254.2 L50.3,254.8 L50.5,255.3 L50.5,255.7 L48.3,255.7 L49.5,256.3 L49.6,256.8 L50.5,257.3 L48.8,257.5 L50.8,258.2 L50.3,258.5 L48.9,258.7 L49.0,259.2 L50.1,259.8 L49.3,260.0 L50.1,259.9 L51.0,260.3 L49.3,260.8 L50.0,261.1 L49.6,261.6 L49.7,262.0 L51.0,262.3 L50.3,262.8 L51.1,263.1 L50.3,263.6 L50.0,264.0 L49.9,264.4 L48.9,264.9 L51.2,265.2 M44.8,252.6 L44.2,253.0 L44.1,253.4 L45.3,254.0 L44.3,254.2 L44.3,254.7 L43.8,255.0 L44.2,255.5 L43.8,255.9 L44.2,256.4 L44.3,256.8 L42.8,257.0 L42.3,257.3 L42.6,257.8 L42.6,258.2 L42.6,258.6 L43.0,259.1 L43.9,260.4 L41.8,260.9 L42.1,261.3 L42.6,261.7 L42.9,262.1 L41.0,262.6 L43.4,262.9 L40.5,263.5 L41.3,263.9 L39.8,264.4 L42.2,264.6 L41.5,265.1 L41.8,265.5 L41.2,265.9 M47.3,268.0 L46.6,268.8 L47.6,269.5 L47.6,270.3 L47.1,271.1 L47.8,271.8 L48.6,272.5 L47.9,273.3 L48.1,274.1 L46.7,274.9 L49.0,275.6 L47.5,276.4 L49.1,277.1 L48.8,277.9 L49.0,278.5 L48.8,279.4 L48.6,280.2 L48.1,281.1 L50.2,281.4 L48.9,282.5 L49.4,283.1 L49.8,283.8 L51.3,284.3 L50.2,285.3 L51.2,285.9 L51.1,286.7 L51.8,287.4 L51.3,288.2 L51.2,289.0 L51.4,289.8 L52.7,290.3 M49.8,288.0 L49.0,288.5 L48.7,288.9 L49.3,289.2 L49.7,289.4 L49.1,289.9 L47.8,290.5 L49.0,290.6 L49.3,290.9 L48.2,291.5 L46.6,292.1 L48.6,292.1 L47.0,292.7 L47.6,293.0 L47.3,293.4 L46.5,293.9 L48.1,293.9 L47.4,294.4 L47.5,294.7 L46.7,295.2 L47.0,295.5 L46.8,295.9 L46.3,296.4 L46.9,296.6 L46.5,297.0 L47.0,297.3 L45.5,297.9 L45.7,298.2 L44.9,298.7 L47.3,298.6 L46.6,299.1 M49.0,250.6 L50.3,251.7 L49.9,252.4 L50.4,253.3 L48.0,253.8 L48.8,254.8 L49.2,255.7 L48.9,256.4 L48.4,257.2 L47.8,257.9 L47.8,258.8 L48.2,259.7 L46.4,260.3 L48.1,261.1 L46.3,262.0 L46.6,262.8 L48.2,263.5 L46.3,264.5 L46.7,265.3 L47.5,266.1 L45.2,267.0 L45.8,267.8 L48.4,268.5 L45.8,269.5 L47.0,270.2 L47.7,271.0 L45.9,271.9 L47.3,272.7 L46.5,273.5 L46.1,274.4 L46.4,275.2 M52.4,234.7 L50.8,235.8 L51.3,237.6 L51.1,239.2 L51.6,241.1 L52.8,242.6 L51.4,243.9 L51.5,245.5 L51.6,247.1 L50.8,248.6 L50.6,250.1 L51.4,251.8 L50.2,253.2 L50.7,254.9 L50.2,256.4 L50.1,257.9 L49.9,259.5 L51.4,260.3 L51.9,261.9 L51.7,263.5 L51.2,265.0 L54.2,266.4 L52.2,268.1 L53.6,269.6 L53.0,271.2 L53.6,272.7 L54.5,274.2 L55.3,275.8 L55.2,277.3 L55.0,277.9 L56.8,279.1 M46.1,268.9 L47.9,269.5 L46.0,270.3 L46.2,271.0 L47.1,271.7 L46.4,272.4 L46.3,273.1 L46.8,273.8 L46.8,274.5 L46.1,275.3 L47.8,275.9 L47.4,276.6 L48.0,277.3 L46.9,278.2 L48.2,278.7 L47.8,279.5 L48.2,280.1 L48.5,280.8 L47.5,281.7 L49.0,282.1 L48.1,283.1 L48.8,283.6 L48.6,284.4 L49.9,284.9 L49.3,285.7 L49.7,286.4 L50.9,286.8 L50.4,287.6 L51.0,288.3 L51.1,289.0 L50.3,289.8 M50.7,243.6 L49.4,244.4 L49.0,245.3 L48.1,246.2 L49.2,247.3 L49.1,248.3 L50.1,249.5 L49.1,250.3 L48.5,251.2 L48.6,252.2 L51.1,253.7 L49.0,254.3 L48.5,255.2 L49.1,256.3 L50.8,257.6 L50.0,258.5 L49.3,259.4 L49.5,260.4 L50.7,260.8 L51.0,261.7 L49.8,262.8 L51.8,263.7 L49.9,264.8 L51.3,265.7 L51.3,266.7 L52.8,267.6 L52.5,268.6 L51.7,269.6 L53.6,270.5 L51.1,271.6 L54.1,272.4 M54.8,238.0 L55.0,238.9 L54.9,239.7 L54.3,240.3 L54.4,241.2 L54.5,242.1 L53.4,242.5 L53.9,242.8 L53.5,243.5 L52.6,244.2 L52.2,244.9 L53.5,245.9 L52.5,246.6 L54.4,247.7 L53.7,248.4 L52.7,249.0 L53.4,249.9 L53.5,250.8 L53.2,251.5 L52.1,252.2 L53.4,253.2 L51.7,253.7 L51.3,254.4 L53.4,255.6 L51.4,256.1 L51.1,256.8 L52.4,257.9 L51.0,258.4 L51.5,259.3 L50.7,260.0 L50.4,260.0 M43.6,289.6 L43.4,289.9 L45.1,289.9 L45.1,290.3 L45.8,290.5 L46.4,290.7 L47.2,290.9 L46.9,291.3 L46.0,291.8 L46.5,292.0 L47.9,292.1 L48.4,292.3 L48.9,292.5 L49.7,292.7 L47.8,293.4 L49.0,293.5 L49.8,293.7 L50.6,293.9 L51.3,294.1 L49.9,294.7 L50.7,294.9 L52.4,294.9 L51.3,295.4 L53.2,295.4 L52.2,295.9 L53.8,296.0 L53.8,296.3 L53.4,296.7 L53.8,297.0 L53.8,297.3 L55.5,297.3 M51.2,231.7 L50.5,231.8 L51.1,232.5 L49.8,232.4 L49.4,232.7 L48.3,232.7 L48.3,233.1 L48.2,233.5 L48.7,234.1 L48.3,234.4 L48.2,234.7 L47.5,234.9 L48.7,235.8 L46.5,235.3 L47.9,236.3 L46.9,236.3 L46.2,236.5 L46.3,236.9 L44.5,236.7 L45.5,237.4 L44.0,237.3 L44.0,237.7 L44.9,238.5 L44.0,238.6 L43.1,238.6 L44.0,239.4 L43.1,240.9 L43.3,241.3 L42.7,241.6 L42.8,242.0 L42.2,242.3 M49.4,240.3 L50.5,241.7 L47.9,242.1 L49.5,243.2 L49.1,244.1 L49.3,245.0 L48.1,245.7 L46.8,246.4 L47.2,247.4 L46.5,248.2 L46.9,249.1 L45.8,249.8 L46.8,250.9 L45.1,251.5 L45.4,252.5 L45.6,253.4 L43.5,254.0 L42.9,254.8 L44.2,255.9 L42.5,256.5 L42.9,257.5 L42.1,258.3 L42.0,259.1 L42.3,261.1 L42.7,262.0 L41.2,263.0 L42.7,263.8 L42.0,264.7 L41.4,265.6 L43.2,266.4 L41.2,267.4 M56.1,227.7 L55.3,228.4 L56.1,229.7 L54.4,230.1 L55.5,231.6 L54.6,232.3 L53.9,233.0 L54.9,234.4 L54.5,235.3 L54.9,236.5 L53.2,236.9 L53.1,237.8 L53.0,238.8 L52.1,239.5 L53.6,241.1 L51.8,241.5 L51.4,242.3 L51.6,243.0 L50.7,243.9 L49.8,244.7 L51.4,245.9 L51.6,246.9 L51.2,247.8 L50.6,248.7 L50.1,249.6 L51.0,250.7 L49.5,251.4 L50.9,252.7 L49.4,253.4 L49.5,254.4 L49.4,255.3 M44.5,235.1 L45.2,235.8 L43.9,235.8 L44.5,236.6 L43.4,236.7 L42.7,236.9 L43.5,237.7 L43.5,238.2 L43.2,238.6 L45.3,239.9 L42.1,240.8 L42.2,241.3 L42.5,241.8 L42.8,242.4 L43.0,242.9 L42.6,243.3 L41.5,243.6 L42.4,244.2 L41.3,244.5 L44.2,245.5 L42.5,245.7 L41.9,246.0 L42.1,246.5 L43.3,247.2 L42.5,247.6 L41.0,247.8 L42.9,248.6 L42.6,249.0 L42.6,249.5 L42.2,249.9 L41.2,250.2 M42.9,275.2 L41.4,275.9 L43.0,276.4 L44.2,277.0 L44.0,277.6 L44.4,278.8 L44.9,279.3 L44.8,280.0 L44.2,280.8 L44.9,281.2 L46.6,281.6 L43.8,282.8 L47.0,282.8 L46.5,283.5 L46.9,284.1 L46.7,284.8 L47.9,285.2 L47.6,285.9 L46.7,286.7 L48.6,287.0 L49.8,287.4 L49.1,288.2 L50.3,288.6 L50.3,289.2 L50.3,289.9 L50.5,290.5 L51.3,290.9 L50.8,291.7 L52.0,292.1 L53.1,292.5 L51.8,293.4 M57.5,232.8 L55.9,233.1 L56.2,234.1 L55.6,234.7 L56.1,235.8 L54.8,236.1 L54.7,236.9 L55.7,238.2 L53.6,238.2 L53.4,239.0 L52.3,239.4 L52.1,240.2 L52.0,241.0 L51.8,241.8 L50.1,242.0 L50.9,242.9 L50.0,243.6 L50.2,244.4 L49.3,245.1 L49.3,245.9 L50.6,246.9 L49.1,247.5 L48.0,248.1 L47.9,248.9 L48.9,249.9 L47.2,250.4 L47.5,251.2 L47.4,252.0 L48.1,253.0 L47.0,253.6 L46.7,254.4" fill="none" stroke="#e8862a" stroke-width="0.45" opacity="1" stroke-linejoin="round"/>
<path d="M46.4,270.3 L46.0,270.9 L46.6,271.6 L47.5,271.2 L47.6,271.9 L46.3,272.8 L47.1,273.3 L46.9,273.9 L47.5,274.5 L47.3,275.2 L48.0,275.7 L48.1,276.3 L48.8,276.8 L48.0,277.6 L48.2,278.2 L47.5,279.0 L46.9,279.7 L48.4,280.1 L50.6,280.4 L49.7,281.2 L48.1,282.1 L48.8,282.6 L49.4,283.1 L50.0,283.7 L49.2,284.5 L49.5,285.1 L49.1,285.8 L49.1,286.4 L49.1,287.1 L49.6,287.6 L51.2,288.0 M41.4,267.5 L41.0,268.1 L41.6,268.6 L41.4,269.2 L42.3,269.8 L41.1,270.3 L41.8,270.9 L41.0,271.4 L43.3,272.0 L42.1,272.8 L41.6,273.5 L43.5,273.7 L42.3,274.5 L42.2,275.0 L42.3,275.6 L43.6,275.9 L42.6,276.7 L42.8,277.2 L43.7,277.6 L42.8,278.3 L43.5,278.8 L43.6,279.3 L44.1,279.8 L43.6,280.5 L44.0,280.9 L43.5,281.6 L44.2,282.1 L45.0,282.5 L44.9,283.1 L44.4,283.7 L45.4,284.1 M43.5,276.7 L43.5,277.1 L43.6,277.5 L44.2,277.8 L43.0,278.5 L43.9,278.7 L44.3,279.1 L44.4,279.5 L43.7,280.0 L44.7,280.3 L44.7,280.7 L42.7,281.5 L43.2,281.8 L43.4,282.2 L43.3,282.6 L43.8,282.9 L45.4,283.1 L43.5,283.8 L43.5,284.3 L44.1,284.6 L45.7,284.7 L43.6,285.5 L43.6,285.9 L44.9,286.1 L44.5,286.6 L44.1,287.1 L44.7,287.4 L44.0,287.9 L44.7,288.2 L44.3,288.7 L44.8,289.0 M45.9,242.0 L47.1,243.1 L46.6,243.8 L47.2,244.8 L47.8,245.8 L47.3,246.4 L48.4,247.6 L47.1,248.0 L46.2,248.6 L48.1,249.9 L46.4,250.3 L46.0,250.5 L45.7,251.3 L47.3,252.2 L47.1,253.0 L48.0,253.8 L47.4,254.6 L46.4,255.3 L45.4,256.0 L47.6,256.9 L45.9,257.7 L46.6,258.5 L47.2,259.3 L45.4,260.0 L48.7,260.9 L47.0,261.7 L46.9,262.4 L45.6,263.2 L45.8,264.0 L45.6,264.8 L47.0,265.6 M47.2,234.0 L47.1,234.8 L46.2,235.4 L47.4,236.5 L45.1,236.8 L47.5,238.2 L45.5,238.5 L45.6,239.3 L45.1,240.0 L46.1,241.1 L44.0,241.4 L44.3,242.3 L44.1,243.1 L43.2,243.6 L43.5,244.5 L43.2,245.3 L42.4,245.9 L42.7,246.8 L42.2,247.5 L42.4,248.4 L42.2,249.1 L41.5,250.3 L41.8,251.1 L41.1,251.9 L41.3,252.7 L41.4,253.5 L41.0,254.3 L41.6,255.1 L40.2,255.8 L40.1,256.6 L42.0,257.5 M44.7,286.4 L45.2,286.6 L44.8,287.0 L45.3,287.1 L45.1,287.4 L44.7,287.8 L45.3,287.9 L46.3,288.0 L45.2,288.5 L45.8,288.6 L45.8,288.9 L46.3,289.1 L46.9,289.2 L46.9,289.5 L46.4,289.9 L46.9,290.0 L48.1,290.1 L45.6,290.8 L47.2,290.8 L47.0,291.1 L46.2,291.5 L48.3,291.4 L45.8,292.1 L47.3,292.1 L46.4,292.5 L47.3,292.6 L46.8,293.0 L47.0,293.2 L47.2,293.4 L48.4,293.5 L48.3,293.8 M46.2,243.7 L46.1,244.2 L46.4,244.8 L48.0,245.7 L45.3,245.4 L45.8,246.0 L46.3,246.7 L44.8,246.8 L46.0,247.6 L45.4,247.9 L45.0,248.3 L44.8,248.7 L44.6,249.1 L45.7,249.9 L45.1,250.2 L44.1,250.4 L43.4,250.9 L43.9,251.3 L44.5,251.8 L44.4,252.3 L44.3,252.8 L42.6,253.2 L43.9,253.7 L42.6,254.1 L43.8,254.6 L43.6,255.1 L43.3,255.5 L41.8,255.9 L43.1,256.5 L42.6,256.9 L42.8,257.4 M45.8,262.4 L45.8,262.8 L45.2,263.2 L44.2,263.6 L43.8,264.1 L45.8,264.6 L45.1,265.0 L46.1,265.5 L45.0,265.9 L44.6,266.3 L44.1,266.8 L44.2,267.2 L45.1,267.7 L45.2,268.2 L45.3,268.6 L43.1,268.9 L44.9,269.5 L43.3,269.9 L43.7,270.3 L43.2,270.7 L44.9,271.3 L43.4,271.6 L43.3,272.0 L43.6,272.4 L43.3,272.9 L44.4,273.2 L42.7,274.0 L44.4,274.1 L43.8,274.7 L43.1,275.2 L43.4,275.6 M40.5,257.2 L40.9,258.1 L40.8,259.0 L41.0,259.9 L40.9,260.7 L40.4,261.6 L40.8,262.5 L39.8,263.3 L40.4,264.2 L40.1,265.1 L39.9,265.9 L39.3,266.8 L39.7,267.7 L39.9,268.6 L40.1,269.4 L40.5,270.3 L40.2,271.2 L39.5,272.8 L40.0,273.6 L40.6,274.4 L41.4,275.1 L41.7,276.0 L40.6,277.1 L40.3,278.0 L40.9,278.8 L42.2,279.4 L41.6,280.4 L41.4,281.3 L42.4,282.1 L41.7,283.1 L42.2,283.9 M43.8,250.9 L45.1,251.9 L43.8,252.9 L44.1,254.0 L44.7,255.0 L43.5,256.0 L44.8,257.1 L45.3,258.1 L43.9,259.1 L44.8,260.2 L44.5,261.2 L44.7,262.2 L45.5,263.3 L45.6,264.3 L45.0,265.3 L43.9,266.3 L45.6,267.4 L44.0,268.3 L44.8,269.4 L45.8,270.5 L44.9,271.5 L44.8,272.1 L46.0,272.9 L47.1,273.8 L45.7,275.1 L46.9,275.9 L46.2,277.1 L48.0,277.8 L47.1,279.0 L47.8,279.9 L48.5,280.8 M43.9,264.4 L44.3,265.3 L43.8,266.1 L43.6,267.0 L43.6,267.8 L44.0,268.7 L42.7,269.5 L43.0,270.4 L43.8,271.2 L43.6,271.9 L44.1,272.7 L44.8,273.5 L44.2,274.4 L44.1,275.3 L44.5,276.1 L45.1,276.9 L46.6,277.5 L45.9,278.5 L44.2,279.6 L46.2,280.1 L44.7,281.3 L44.7,282.1 L45.5,282.9 L45.5,283.7 L45.1,284.7 L45.8,285.4 L46.0,286.3 L45.5,287.2 L46.3,287.9 L45.0,289.0 L47.3,289.5 M45.0,247.8 L44.4,249.0 L45.9,250.3 L44.5,251.5 L44.0,252.7 L43.6,253.9 L44.1,255.2 L44.9,256.5 L43.8,257.7 L45.2,259.1 L44.2,260.3 L45.1,261.6 L43.2,262.7 L43.7,264.0 L42.6,265.2 L44.3,266.6 L44.1,267.8 L44.3,269.1 L43.2,270.3 L44.7,271.6 L43.6,272.7 L44.5,273.8 L44.0,275.2 L44.6,276.4 L45.6,277.5 L45.6,278.8 L46.7,279.8 L46.4,281.2 L46.4,282.4 L45.6,283.9 L46.8,284.9 M41.6,256.2 L42.6,256.7 L42.1,257.2 L42.6,257.7 L42.3,258.1 L41.5,258.5 L44.1,259.1 L43.4,259.5 L44.0,260.0 L42.9,260.4 L43.2,260.9 L43.4,261.4 L42.6,261.8 L41.6,262.2 L42.0,262.7 L41.7,263.1 L42.8,263.7 L42.6,264.1 L41.9,264.5 L42.2,265.0 L42.2,265.5 L43.1,266.0 L43.2,266.4 L43.3,266.9 L42.0,267.3 L43.4,267.8 L42.7,268.3 L42.6,268.7 L42.9,269.2 L43.0,269.7 L42.5,270.1 M45.0,248.8 L44.9,249.4 L44.4,249.8 L46.1,250.3 L44.3,250.8 L44.7,251.4 L44.4,251.9 L44.7,252.4 L45.4,253.0 L44.7,253.5 L45.2,254.1 L45.6,254.6 L45.6,255.2 L45.5,255.7 L45.2,256.3 L46.2,256.8 L44.8,257.3 L46.0,257.9 L44.6,258.4 L44.0,258.9 L44.1,259.5 L43.8,260.0 L43.8,260.5 L43.2,261.0 L44.9,261.7 L45.4,262.2 L44.8,262.7 L45.4,263.3 L43.7,263.8 L46.3,264.4 L44.6,264.9 M42.2,267.3 L41.9,267.9 L41.4,268.5 L41.3,269.0 L40.6,269.6 L42.4,270.3 L41.3,270.8 L39.9,271.4 L40.5,272.6 L41.3,273.0 L40.9,273.7 L41.7,274.2 L40.7,274.9 L42.1,275.3 L41.2,276.1 L41.7,276.6 L42.4,277.1 L41.8,277.8 L42.1,278.3 L42.6,278.9 L42.1,279.5 L42.8,280.0 L41.5,280.9 L42.0,281.4 L41.7,282.0 L42.0,282.6 L42.4,283.1 L43.6,283.5 L42.9,284.2 L42.7,284.9 L43.2,285.4 M44.0,250.9 L44.4,251.4 L43.0,251.9 L43.5,252.4 L43.3,252.9 L43.1,253.4 L43.9,253.9 L42.9,254.4 L44.9,255.0 L44.1,255.5 L43.6,255.9 L42.5,256.4 L42.9,256.9 L43.1,257.4 L43.1,257.9 L44.0,258.5 L43.8,259.0 L44.1,259.5 L43.6,260.0 L44.5,260.5 L43.9,261.0 L44.0,261.5 L43.3,262.0 L44.1,262.5 L43.4,263.0 L43.3,263.5 L43.3,264.0 L43.1,264.5 L44.3,265.0 L43.6,265.5 L43.7,266.0" fill="none" stroke="#2f5e2a" stroke-width="0.35" opacity="1" stroke-linejoin="round"/>
<path d="M53.0,270.6 L53.5,271.1 L53.1,271.7 L53.6,272.1 L53.3,272.7 L53.3,273.3 L54.3,273.6 L53.1,274.3 L54.3,274.7 L52.4,275.5 L53.2,275.9 L53.7,276.4 L54.3,276.8 L53.4,277.5 L54.4,277.9 L56.0,278.2 L54.3,278.9 L54.8,279.4 L57.0,279.6 L56.6,280.2 L54.4,281.1 L55.3,281.5 L56.2,281.9 L57.2,282.2 L56.7,282.8 L54.9,283.7 L57.9,283.7 L55.9,284.6 L54.7,285.8 L56.6,285.9 L57.6,286.2 M57.9,277.7 L58.4,278.1 L57.8,278.7 L57.9,279.1 L57.6,279.7 L59.2,279.9 L56.2,280.8 L56.7,281.2 L58.1,281.5 L59.0,281.8 L57.9,282.5 L57.7,283.0 L59.7,283.1 L58.0,283.9 L59.1,284.2 L57.7,285.1 L57.0,285.7 L57.3,286.1 L59.3,286.1 L57.1,287.1 L57.5,287.5 L58.5,287.8 L57.9,288.4 L57.1,289.1 L58.6,289.2 L58.4,289.7 L58.8,290.1 L57.5,290.9 L60.0,290.7 L57.4,291.9 L59.2,291.9 M50.1,259.5 L52.2,260.1 L50.6,260.3 L51.7,260.8 L50.5,261.0 L51.8,261.6 L51.4,261.9 L52.1,262.3 L50.7,262.5 L52.5,263.1 L52.4,263.5 L51.2,265.2 L52.9,265.4 L52.7,265.8 L54.0,265.9 L53.6,266.4 L55.7,266.4 L54.2,267.0 L55.0,267.3 L55.9,267.5 L56.1,267.9 L54.4,268.5 L55.2,268.7 L57.0,268.9 L54.7,269.6 L56.9,269.6 L56.9,270.0 L56.7,270.4 L58.0,270.6 L58.6,270.9 L58.2,271.3 M62.5,229.9 L60.5,230.4 L60.4,231.6 L59.6,232.6 L60.2,234.0 L59.7,235.0 L59.1,236.1 L58.4,237.1 L57.2,237.9 L58.1,239.4 L55.5,239.8 L56.7,241.4 L56.2,242.4 L54.8,243.2 L54.5,244.3 L54.6,246.4 L55.0,247.6 L54.6,248.8 L54.9,249.9 L52.5,250.8 L52.3,252.0 L51.5,253.1 L52.3,254.3 L52.1,255.5 L51.6,256.6 L51.2,257.7 L51.8,258.9 L51.1,260.0 L49.5,261.0 L52.2,262.4 L51.8,264.9 M61.8,264.7 L62.4,265.7 L62.2,266.8 L62.9,267.8 L62.6,268.9 L62.6,270.0 L61.8,271.2 L61.1,272.4 L64.2,273.0 L62.5,274.4 L62.9,275.4 L62.3,276.5 L62.3,277.6 L62.5,278.7 L62.6,279.8 L64.0,280.6 L64.6,281.6 L62.1,283.1 L62.5,283.9 L64.3,284.5 L62.8,286.0 L63.4,286.9 L65.9,287.4 L63.6,289.1 L65.2,289.8 L63.7,291.3 L65.3,292.0 L65.5,293.1 L66.2,294.0 L65.4,295.3 L64.7,296.6 M60.3,233.1 L61.9,235.6 L62.1,237.6 L62.1,239.5 L60.1,240.8 L59.2,242.5 L60.7,244.9 L59.6,246.4 L59.9,248.3 L59.9,250.1 L59.4,252.0 L58.2,253.7 L60.3,255.8 L59.2,257.5 L59.0,259.4 L60.1,261.4 L60.0,263.2 L61.2,264.1 L59.8,266.2 L61.6,267.8 L62.2,269.6 L62.1,271.5 L63.4,273.2 L64.0,275.0 L64.0,276.9 L63.1,278.9 L64.9,280.5 L64.9,282.4 L66.9,283.3 L67.9,284.9 L65.8,287.4 M58.6,240.4 L60.3,241.8 L59.3,242.3 L58.7,242.9 L60.6,244.3 L59.1,244.7 L58.3,245.2 L57.8,246.1 L58.7,247.0 L58.5,247.7 L58.6,248.5 L59.2,249.3 L61.0,250.3 L58.2,250.8 L59.2,251.7 L59.9,252.5 L60.6,253.4 L58.3,253.9 L59.9,254.8 L59.6,255.6 L60.7,256.5 L60.3,257.2 L60.7,258.0 L59.9,258.7 L62.4,259.8 L59.6,260.2 L61.1,261.2 L60.6,261.9 L60.5,262.6 L61.9,263.6 L60.9,264.2 M66.3,242.1 L66.2,243.6 L64.6,244.6 L65.0,246.2 L65.0,247.8 L64.0,247.9 L63.0,249.2 L62.7,250.7 L63.8,252.2 L63.4,253.7 L61.9,254.9 L62.9,256.5 L61.3,257.8 L61.0,259.2 L61.9,260.7 L62.8,262.3 L62.2,263.7 L61.3,263.9 L62.3,265.2 L62.2,266.7 L62.1,268.2 L63.9,269.4 L63.2,270.9 L63.4,272.4 L63.9,273.7 L63.3,275.3 L64.0,276.7 L64.2,278.1 L62.9,279.7 L63.1,281.2 L64.6,282.4 M57.0,257.3 L57.8,258.7 L58.2,260.1 L56.3,261.2 L57.5,262.6 L56.9,263.9 L57.0,265.2 L58.8,266.2 L59.7,267.4 L59.1,268.8 L59.0,270.2 L60.0,271.3 L60.3,272.6 L60.3,273.9 L61.7,275.0 L60.9,276.5 L61.1,277.8 L63.1,278.8 L63.3,280.1 L63.3,281.4 L63.9,282.6 L64.0,283.5 L63.5,285.0 L65.9,285.7 L65.1,287.3 L66.2,288.3 L67.0,289.5 L68.1,290.6 L69.1,291.6 L68.0,293.3 L67.5,294.7 M67.1,240.8 L65.9,242.3 L66.0,244.2 L64.8,245.7 L64.1,247.3 L62.6,248.0 L62.8,249.8 L62.7,251.6 L63.3,253.4 L62.3,255.1 L61.6,256.8 L60.9,258.5 L60.9,260.3 L59.9,262.0 L61.3,264.0 L61.8,264.6 L60.3,266.6 L60.1,268.4 L60.9,270.1 L61.8,271.8 L61.9,273.6 L62.5,275.3 L62.7,277.1 L62.6,278.9 L62.4,280.7 L63.8,282.3 L62.7,284.0 L63.3,285.7 L64.0,287.4 L64.0,289.2 L64.8,290.8 M59.8,253.1 L58.5,253.7 L59.2,254.5 L57.8,255.2 L58.7,256.0 L59.7,256.9 L57.1,257.4 L58.0,258.3 L57.0,258.9 L57.5,259.7 L57.7,260.5 L57.0,261.2 L57.8,262.1 L57.5,262.8 L57.0,263.5 L56.6,264.4 L57.1,265.1 L56.1,266.0 L55.7,266.8 L54.3,267.8 L54.4,268.6 L55.8,269.1 L55.0,270.0 L55.8,270.7 L55.2,271.5 L55.5,272.3 L55.8,273.0 L55.3,273.8 L56.4,274.4 L54.8,275.5 L55.3,276.2 M61.7,249.8 L62.2,250.3 L63.1,250.9 L62.6,251.4 L61.9,251.8 L62.3,252.4 L62.6,252.9 L62.2,253.3 L61.1,253.7 L62.7,254.4 L64.1,255.1 L62.1,255.3 L64.0,256.0 L60.9,256.2 L62.6,256.9 L62.1,257.3 L62.3,257.9 L62.0,258.3 L61.9,258.8 L61.2,259.2 L62.9,259.9 L62.4,260.4 L62.4,260.9 L62.3,261.4 L61.6,261.8 L63.6,262.5 L63.7,263.0 L62.0,263.3 L61.7,263.8 L61.6,264.3 L61.3,263.6 M53.9,234.5 L53.8,235.4 L53.8,236.3 L54.7,237.4 L52.1,237.5 L53.7,238.9 L53.3,239.6 L54.2,240.8 L53.1,241.3 L53.5,242.3 L52.3,242.8 L52.3,243.7 L53.3,246.0 L52.8,246.8 L52.8,247.7 L52.7,248.5 L51.9,249.3 L53.6,250.3 L50.9,250.8 L53.8,252.0 L54.3,252.9 L52.7,253.6 L54.3,254.6 L52.3,255.2 L53.1,256.2 L53.7,257.1 L52.9,257.8 L53.4,258.7 L54.2,259.7 L53.9,260.5 L52.1,261.1 M64.0,233.2 L62.8,235.0 L61.9,236.8 L61.7,238.9 L59.6,240.3 L59.3,242.4 L59.9,244.7 L59.1,246.5 L58.9,248.5 L58.2,250.4 L56.3,252.3 L58.0,254.5 L57.3,256.4 L57.6,258.5 L57.2,260.5 L56.5,262.4 L55.8,264.7 L57.8,266.4 L57.7,268.5 L57.6,270.5 L58.5,272.5 L56.8,274.8 L57.7,276.7 L57.6,278.7 L58.5,280.6 L60.0,282.4 L58.7,284.8 L59.9,286.6 L60.8,288.4 L61.4,290.4 L62.1,292.3 M60.0,271.7 L60.4,272.3 L60.2,273.1 L60.9,273.8 L62.0,274.3 L60.1,275.4 L60.6,276.0 L62.2,276.6 L61.3,277.4 L61.6,278.1 L59.7,279.2 L60.4,279.8 L61.6,280.4 L62.0,281.1 L61.3,281.9 L61.8,282.6 L61.6,283.4 L62.4,283.8 L63.2,284.3 L64.1,284.9 L63.8,285.7 L64.2,286.4 L63.0,287.4 L62.7,288.3 L62.0,289.2 L63.4,289.6 L62.0,290.7 L62.6,291.4 L64.1,291.7 L64.7,292.4 L64.2,293.2 M61.6,284.9 L60.2,285.7 L61.9,285.9 L63.5,286.0 L62.8,286.7 L63.6,287.0 L62.7,287.8 L64.0,287.9 L63.8,288.5 L63.0,289.2 L63.3,289.7 L64.2,290.0 L63.9,290.6 L64.0,291.1 L64.1,291.6 L64.3,292.1 L64.7,292.5 L64.0,293.2 L66.1,293.2 L65.4,293.9 L65.1,294.5 L65.7,294.9 L66.0,295.3 L66.1,295.8 L65.8,296.4 L65.2,297.1 L66.5,297.3 L66.7,297.7 L66.4,298.3 L67.1,298.7 L68.6,298.9 M56.0,250.6 L55.7,251.5 L55.2,252.3 L56.7,253.4 L56.1,254.3 L56.4,255.2 L55.4,256.0 L55.5,256.9 L57.0,258.0 L56.8,258.9 L56.9,259.8 L55.9,260.6 L56.9,261.6 L56.7,262.5 L54.8,263.2 L56.6,264.4 L55.7,265.5 L58.0,266.0 L55.9,267.3 L57.8,267.9 L55.7,269.1 L56.9,269.9 L56.8,270.8 L58.1,271.5 L57.3,272.5 L58.2,273.3 L57.2,274.4 L58.5,275.1 L58.5,276.0 L59.1,276.8 L59.0,277.8 M53.1,260.4 L54.4,261.8 L54.7,263.1 L53.2,265.3 L55.0,266.3 L52.4,268.0 L54.0,269.0 L54.3,270.3 L53.8,271.7 L54.7,272.8 L54.7,274.1 L54.8,275.4 L53.6,276.9 L54.9,278.0 L56.0,279.1 L55.7,280.5 L57.5,281.5 L55.3,283.1 L57.5,284.1 L57.3,285.7 L57.3,287.0 L57.3,288.4 L58.5,289.4 L58.8,290.6 L59.2,291.9 L60.9,292.7 L59.8,294.4 L59.1,295.8 L59.2,297.2 L60.9,298.0 L61.4,299.2 M54.3,279.1 L54.8,279.5 L54.7,280.1 L54.4,280.7 L55.1,281.1 L55.4,281.6 L55.5,282.1 L54.3,282.9 L55.2,283.3 L55.8,283.7 L57.1,284.1 L55.7,285.2 L56.8,285.5 L57.7,285.8 L56.7,286.6 L57.5,287.0 L57.1,287.7 L57.1,288.2 L57.6,288.6 L58.1,289.1 L57.9,289.7 L56.0,290.7 L58.8,290.5 L59.1,291.0 L59.1,291.6 L59.6,292.0 L59.1,292.7 L59.7,293.1 L59.0,293.8 L59.3,294.3 L58.9,294.9 M57.0,264.5 L57.7,265.5 L58.2,266.6 L57.7,267.8 L58.3,268.9 L57.4,270.2 L57.7,271.3 L59.2,272.2 L57.7,273.6 L59.7,274.4 L58.2,275.8 L57.2,277.1 L57.8,278.1 L59.8,279.0 L57.9,280.4 L57.8,281.6 L59.1,282.5 L59.3,283.7 L58.2,285.2 L59.6,286.0 L61.3,286.7 L60.4,288.1 L60.5,289.3 L60.3,290.5 L59.6,291.8 L60.7,292.7 L60.6,293.9 L62.8,294.5 L62.7,295.7 L62.1,297.1 L62.1,298.2 M52.3,256.0 L51.7,256.6 L51.1,257.1 L50.9,257.8 L50.4,258.4 L50.7,259.0 L49.3,259.5 L49.9,260.2 L49.6,260.8 L49.6,261.5 L48.8,262.0 L49.2,262.7 L49.1,265.4 L47.6,266.3 L47.8,266.9 L47.7,267.6 L47.8,268.2 L48.5,268.8 L48.7,269.4 L46.7,270.4 L47.4,270.9 L46.9,271.6 L47.1,272.2 L46.4,273.0 L47.8,273.4 L46.0,274.3 L48.3,274.7 L46.4,275.6 L45.4,276.4 L46.0,276.9 L46.0,277.6 M65.8,239.2 L65.6,240.1 L65.5,240.9 L64.2,241.3 L63.8,242.1 L63.8,242.9 L63.2,243.6 L63.6,244.6 L62.8,245.2 L61.9,245.8 L61.8,246.6 L63.8,247.1 L61.4,247.7 L61.8,248.5 L61.4,249.3 L60.8,250.1 L59.5,250.8 L62.1,251.9 L61.0,252.6 L58.6,253.1 L60.3,254.1 L58.2,254.7 L58.2,255.6 L59.8,256.6 L59.1,257.3 L58.0,258.0 L57.1,258.8 L58.2,259.7 L57.7,260.5 L58.0,261.3 L55.8,261.9 M69.4,237.3 L68.4,237.9 L68.9,239.0 L68.8,239.9 L66.3,240.1 L66.1,241.0 L67.7,242.4 L66.9,243.1 L65.5,243.6 L66.2,244.8 L66.1,245.7 L65.7,246.5 L66.6,247.7 L65.1,247.0 L65.7,248.0 L65.2,248.8 L66.0,249.8 L64.7,250.6 L64.8,251.5 L64.8,252.4 L63.6,253.2 L65.9,254.4 L64.0,255.1 L65.4,256.1 L64.8,257.0 L62.2,257.6 L63.1,258.6 L62.7,259.4 L64.4,260.6 L63.9,261.4 L62.3,262.1 M61.5,239.8 L62.9,241.1 L61.8,241.7 L61.4,242.5 L59.4,242.9 L57.8,243.3 L59.1,244.6 L58.8,245.5 L57.7,246.3 L60.2,247.5 L58.2,248.2 L60.3,249.3 L57.5,249.9 L57.8,250.8 L57.5,251.7 L56.6,252.5 L57.1,253.4 L55.5,254.2 L56.2,255.1 L55.6,256.0 L53.7,256.7 L55.8,257.8 L54.5,258.5 L55.6,259.6 L53.8,260.3 L53.8,261.2 L54.2,262.1 L53.3,262.9 L52.6,264.9 L52.8,265.8 L53.9,266.5 M60.2,268.9 L59.7,269.5 L59.6,269.9 L60.1,270.3 L59.2,270.9 L59.1,271.4 L61.2,271.6 L60.4,272.1 L59.0,272.8 L59.3,273.2 L58.9,273.7 L58.4,274.3 L60.0,274.5 L58.9,275.1 L58.2,275.7 L59.8,275.9 L57.7,276.7 L60.4,276.7 L59.0,277.4 L56.8,278.2 L58.9,278.4 L58.4,278.9 L58.2,279.4 L58.6,279.8 L57.7,280.4 L58.2,280.8 L58.7,281.2 L56.1,282.0 L57.5,282.3 L58.5,282.6 L59.4,282.9 M64.9,239.0 L63.5,239.6 L62.0,240.1 L64.0,241.7 L63.2,242.4 L60.5,242.6 L62.9,244.4 L61.3,244.8 L60.8,245.7 L60.0,246.2 L61.3,247.3 L60.0,248.1 L59.2,249.0 L60.1,250.0 L59.4,250.9 L60.4,252.0 L58.9,252.7 L59.6,253.8 L59.5,254.7 L59.2,255.6 L60.0,256.7 L59.9,257.6 L58.4,258.4 L58.4,259.3 L58.3,260.3 L59.2,261.3 L57.7,262.1 L58.0,263.1 L58.7,264.1 L56.8,264.9 L55.9,266.0 M55.2,259.7 L54.6,260.9 L53.6,262.1 L55.7,263.6 L55.3,265.2 L54.5,266.7 L56.8,267.6 L55.4,269.1 L56.6,270.2 L57.3,271.3 L57.1,272.6 L56.9,273.9 L57.7,275.1 L57.8,276.3 L57.7,277.6 L57.9,278.9 L59.1,279.9 L59.0,281.2 L61.0,282.2 L60.6,283.5 L60.7,284.8 L60.8,286.0 L61.1,287.2 L62.0,288.3 L61.2,289.8 L61.2,291.1 L61.3,292.4 L62.7,293.3 L62.8,294.6 L63.0,295.8 L62.7,297.2 M62.6,273.8 L61.2,274.9 L60.4,275.9 L61.9,276.6 L61.1,277.6 L61.3,278.4 L62.8,279.1 L60.9,280.3 L63.2,280.8 L62.3,281.8 L62.2,282.7 L61.0,283.8 L61.9,284.3 L62.2,285.2 L62.9,285.9 L62.3,286.9 L62.5,287.8 L62.1,288.8 L61.7,289.8 L62.3,290.5 L62.9,291.3 L63.2,292.1 L62.0,293.3 L63.2,293.9 L63.4,294.7 L62.2,296.0 L62.5,296.8 L63.3,297.5 L64.0,298.2 L64.5,299.0 L63.3,300.2 M62.1,248.1 L62.1,248.6 L61.9,249.1 L61.6,249.6 L62.6,250.3 L62.4,250.8 L61.5,251.2 L59.8,251.5 L61.1,252.2 L61.5,252.8 L61.1,253.3 L60.4,253.7 L59.3,254.1 L60.5,254.8 L59.4,255.2 L59.6,255.8 L59.8,256.3 L60.1,256.9 L59.3,257.3 L59.5,257.9 L58.4,258.3 L60.0,259.0 L57.5,259.2 L57.6,259.8 L57.6,260.3 L56.7,260.7 L57.2,261.3 L58.8,262.0 L57.3,262.4 L56.8,262.9 L57.5,263.5 M66.3,238.8 L66.7,240.1 L66.4,241.2 L65.6,242.1 L64.4,242.9 L66.0,244.6 L64.6,245.4 L62.8,246.0 L63.5,246.5 L63.5,247.7 L62.8,248.7 L64.0,250.0 L64.0,251.1 L64.2,252.3 L63.8,253.4 L62.3,254.4 L61.7,255.4 L62.5,256.7 L62.5,257.8 L61.5,258.8 L61.1,259.9 L61.2,261.1 L62.7,262.4 L61.5,263.4 L62.8,263.2 L60.8,264.6 L61.8,265.6 L61.7,266.8 L60.2,268.1 L60.4,269.2 L61.2,270.3 M58.6,239.7 L60.4,241.1 L60.0,241.9 L59.1,242.5 L58.3,243.2 L58.0,244.0 L59.1,245.3 L58.2,246.0 L58.2,246.9 L58.8,247.8 L57.7,248.6 L58.0,249.5 L56.8,250.2 L57.1,251.1 L57.9,252.1 L57.1,252.9 L57.3,253.8 L57.4,254.6 L57.2,255.5 L55.9,256.2 L56.9,257.2 L57.8,258.2 L56.9,258.9 L55.6,259.7 L54.4,260.4 L56.8,261.5 L56.1,262.3 L56.0,263.2 L56.8,264.2 L55.5,265.3 L55.9,266.1 M64.6,239.8 L64.3,240.6 L63.8,241.3 L61.7,241.5 L61.8,242.3 L61.7,243.2 L62.1,244.1 L60.1,244.3 L59.8,245.1 L58.1,245.4 L58.2,246.4 L58.3,247.2 L58.3,248.1 L58.1,248.8 L58.2,249.7 L57.2,250.4 L56.9,251.1 L56.2,251.9 L55.4,252.6 L55.7,253.4 L56.0,254.3 L54.5,254.9 L53.6,255.6 L55.0,256.6 L53.7,257.2 L53.2,258.0 L52.9,258.8 L52.5,259.5 L52.6,260.4 L52.2,261.1 L50.5,261.7 M48.2,262.0 L48.2,265.4 L49.4,266.4 L48.3,267.8 L48.9,268.8 L49.7,269.9 L48.9,271.2 L48.1,272.5 L49.2,273.5 L49.7,274.6 L51.3,275.5 L50.8,276.7 L51.7,277.8 L51.2,279.0 L52.0,280.1 L52.8,281.1 L52.7,282.3 L54.0,283.2 L53.2,284.5 L53.2,286.4 L55.1,287.1 L54.8,288.4 L57.0,289.0 L55.5,290.6 L56.0,291.7 L57.8,292.4 L56.2,294.0 L57.9,294.7 L59.7,295.5 L59.9,296.6 L58.7,298.1 M63.1,248.8 L62.2,249.3 L60.9,249.8 L60.9,250.4 L60.7,251.0 L60.2,251.6 L61.1,252.3 L61.5,253.0 L61.5,253.6 L60.0,254.1 L60.4,254.7 L58.4,255.2 L60.1,256.0 L57.9,256.4 L59.0,257.1 L58.7,257.7 L60.0,258.5 L58.4,258.9 L57.0,259.4 L59.0,260.3 L56.7,260.6 L56.8,261.3 L56.5,261.9 L57.8,262.7 L55.6,263.0 L57.5,263.9 L55.3,264.7 L55.6,265.3 L57.8,265.6 L55.2,266.6 L54.9,267.3 M59.7,232.2 L60.8,234.1 L60.5,235.5 L59.4,236.7 L59.1,238.1 L60.4,240.0 L58.5,241.0 L59.0,242.6 L58.7,244.0 L57.7,245.2 L57.5,246.9 L57.7,248.4 L56.8,249.8 L58.0,251.3 L58.2,252.8 L58.0,254.2 L57.1,255.6 L57.8,257.1 L58.1,258.6 L57.6,260.0 L59.7,261.7 L57.7,262.9 L58.0,264.2 L59.3,265.4 L60.6,266.7 L61.1,268.1 L62.0,269.4 L60.4,271.1 L61.2,272.4 L62.2,273.7 L61.2,275.3 M62.4,265.5 L63.9,266.0 L62.9,266.9 L62.1,267.8 L63.8,268.3 L62.7,269.2 L62.2,270.0 L64.2,270.4 L61.3,271.6 L63.0,272.1 L63.2,272.8 L62.6,273.7 L62.9,274.4 L63.4,275.1 L63.1,275.8 L62.8,276.6 L63.5,277.3 L61.8,278.3 L62.0,279.0 L61.9,279.8 L63.8,280.3 L62.8,281.1 L62.0,282.0 L62.5,282.7 L63.8,283.2 L62.1,284.1 L60.9,285.1 L61.6,285.7 L62.6,286.2 L63.5,286.8 L61.8,288.0 M55.1,250.4 L54.5,251.3 L56.5,252.4 L55.3,253.1 L54.0,253.9 L53.6,254.7 L54.1,255.7 L55.1,256.6 L54.9,257.5 L55.4,258.5 L54.0,259.2 L55.4,260.2 L54.7,261.0 L56.3,262.1 L55.8,262.9 L53.2,263.5 L54.7,265.2 L54.8,266.1 L56.8,266.7 L55.3,267.8 L53.8,268.9 L56.8,269.3 L57.6,270.1 L56.1,271.2 L56.5,272.1 L56.4,273.0 L57.4,273.7 L57.7,274.6 L57.7,275.4 L56.5,276.5 L57.2,277.3 M56.5,234.6 L56.1,235.4 L56.7,236.5 L56.8,237.5 L57.7,238.7 L56.2,239.2 L55.6,239.9 L56.5,241.2 L55.9,241.9 L57.1,243.2 L56.6,244.0 L55.2,244.5 L54.3,246.1 L55.6,247.1 L56.7,248.2 L55.7,249.0 L56.7,250.0 L55.7,250.8 L54.1,251.5 L55.4,252.5 L55.8,253.5 L54.9,254.3 L56.0,255.3 L55.5,256.2 L55.7,257.1 L55.5,258.0 L57.0,259.0 L55.4,259.8 L55.3,260.6 L57.8,261.8 L58.2,262.8 M66.8,245.8 L65.0,245.7 L65.4,246.3 L64.5,246.6 L64.5,247.1 L63.9,247.4 L64.0,246.9 L63.3,247.3 L64.2,247.8 L63.5,248.2 L64.1,248.8 L62.9,249.1 L61.8,249.5 L62.6,250.1 L61.4,250.4 L62.3,251.0 L61.4,251.3 L60.5,251.7 L60.9,252.2 L60.6,252.7 L59.6,253.1 L60.0,253.6 L59.5,254.0 L60.2,254.5 L60.3,255.0 L58.9,255.4 L60.0,256.0 L58.1,256.2 L59.1,256.8 L58.3,257.2 L57.6,257.6 M65.8,255.4 L66.7,256.4 L66.4,257.3 L65.4,258.1 L63.9,258.8 L64.3,259.7 L62.7,260.5 L64.0,261.5 L64.1,262.4 L62.2,263.1 L62.4,264.0 L63.0,263.4 L60.7,264.7 L61.4,265.5 L62.6,266.2 L61.8,267.2 L62.0,268.1 L60.3,269.2 L61.4,270.0 L61.4,270.9 L60.6,271.9 L59.5,273.0 L59.5,273.9 L60.4,274.6 L60.5,275.5 L60.6,276.4 L59.3,277.5 L60.7,278.2 L59.8,279.2 L59.1,280.2 L60.0,281.0 M65.5,264.2 L64.5,264.5 L66.2,262.7 L66.1,263.1 L65.4,263.6 L64.7,264.1 L66.2,264.2 L65.2,264.8 L65.0,265.2 L66.5,265.4 L66.2,265.8 L65.5,266.3 L66.1,266.6 L66.9,266.9 L66.6,267.3 L66.8,267.7 L66.7,268.1 L66.7,268.5 L66.9,268.8 L67.6,269.1 L67.2,269.6 L67.1,270.0 L67.6,270.3 L66.3,270.9 L68.1,271.0 L69.6,271.2 L67.0,271.9 L68.4,272.1 L67.9,272.6 L68.5,272.9 L67.7,273.4 M59.6,257.0 L59.3,258.1 L59.6,259.3 L60.3,260.5 L61.1,261.7 L59.7,262.7 L59.7,263.8 L59.2,264.3 L59.6,265.4 L58.6,266.7 L59.7,267.7 L60.3,268.7 L60.4,269.8 L59.9,271.1 L59.8,272.2 L61.3,273.1 L61.2,274.3 L59.8,275.6 L60.8,276.6 L59.9,277.9 L60.9,278.9 L61.4,280.0 L60.6,281.2 L60.8,282.3 L59.0,283.7 L60.1,284.7 L61.5,285.5 L61.5,286.7 L61.5,287.9 L61.7,289.0 L61.7,290.1 M56.0,267.3 L56.8,267.5 L56.8,267.9 L58.2,268.0 L58.8,268.3 L56.9,269.0 L58.1,269.1 L58.0,269.5 L59.2,269.7 L56.6,270.4 L56.8,270.8 L59.3,270.8 L58.5,271.3 L58.3,271.6 L57.9,272.1 L57.7,272.5 L58.5,272.7 L58.6,273.0 L58.2,273.5 L60.1,273.6 L58.9,274.1 L59.0,274.4 L58.8,274.8 L59.9,275.0 L59.8,275.4 L60.3,275.7 L59.6,276.2 L60.4,276.4 L57.7,277.2 L60.2,277.2 L58.9,277.7 M59.6,248.6 L59.8,250.1 L61.4,251.8 L58.9,253.1 L62.0,254.9 L60.0,256.2 L60.3,257.8 L59.5,259.2 L60.0,260.8 L59.6,262.3 L59.5,263.8 L58.7,264.8 L60.3,266.1 L60.1,267.6 L58.4,269.4 L58.8,270.9 L59.8,272.3 L60.9,273.7 L61.7,275.1 L61.4,276.6 L62.8,278.0 L61.2,279.7 L62.9,281.0 L64.3,282.3 L62.1,284.0 L62.2,285.5 L63.0,286.9 L63.7,288.3 L64.2,289.7 L63.8,291.4 L64.4,292.8 M66.2,248.4 L66.0,249.5 L66.8,250.8 L65.3,251.7 L64.9,252.8 L63.8,253.8 L64.9,255.1 L63.8,256.1 L62.7,257.1 L65.1,258.5 L63.1,259.4 L63.7,260.7 L64.8,261.9 L64.0,263.0 L63.1,264.0 L63.9,263.4 L62.6,264.8 L63.8,265.7 L62.4,267.1 L63.7,268.0 L62.5,269.3 L62.7,270.5 L62.9,271.6 L62.8,272.7 L61.6,274.1 L63.2,275.0 L65.3,275.8 L64.4,277.1 L63.4,278.4 L63.5,279.5 L64.8,280.4 M60.5,235.4 L59.1,236.0 L61.0,237.5 L58.6,237.8 L59.0,238.9 L60.1,240.2 L58.3,240.6 L58.4,241.6 L58.7,242.7 L57.2,243.2 L57.6,244.3 L56.2,244.8 L55.8,246.3 L56.4,247.3 L56.3,248.2 L57.2,249.3 L56.4,250.1 L55.3,250.9 L54.6,251.8 L57.4,253.1 L55.7,253.8 L55.8,254.8 L53.9,255.5 L55.3,256.6 L53.8,257.3 L57.0,258.6 L56.6,259.5 L55.0,260.3 L56.1,261.4 L56.4,262.3 L55.1,263.1 M62.6,286.0 L63.2,286.3 L64.2,286.6 L62.5,287.5 L61.2,288.3 L63.5,288.2 L62.5,288.9 L62.2,289.4 L64.1,289.5 L63.7,290.0 L63.3,290.6 L63.2,291.1 L64.6,291.2 L63.6,292.0 L64.0,292.4 L63.2,293.0 L65.3,293.0 L64.6,293.6 L64.6,294.1 L64.6,294.6 L63.9,295.3 L65.0,295.4 L62.5,296.6 L65.3,296.3 L64.1,297.1 L64.1,297.6 L64.2,298.0 L65.2,298.3 L65.8,298.6 L65.5,299.2 L64.8,299.8 M58.0,269.3 L58.9,270.3 L59.3,271.2 L57.6,272.5 L59.1,273.4 L60.4,274.2 L59.4,275.4 L59.4,276.5 L59.7,277.5 L59.7,278.5 L59.7,279.6 L58.7,280.8 L59.5,281.7 L59.2,282.8 L59.6,283.8 L58.7,285.1 L59.8,285.9 L59.8,287.0 L59.4,288.2 L59.3,289.2 L59.6,290.2 L61.3,290.9 L62.0,291.8 L59.0,293.6 L62.4,293.8 L62.0,295.0 L62.8,295.9 L61.6,297.2 L62.0,298.2 L64.0,298.7 L61.4,300.5 M67.2,231.7 L68.1,233.0 L67.1,233.7 L66.8,234.6 L66.1,235.4 L65.3,236.2 L65.2,237.1 L65.2,238.2 L63.9,238.8 L64.3,239.9 L62.9,240.5 L63.8,241.8 L63.6,242.7 L60.5,242.8 L62.8,244.5 L60.7,244.9 L59.6,245.6 L60.0,246.5 L60.0,247.5 L60.1,248.5 L59.8,249.4 L60.2,250.4 L58.8,251.2 L58.4,252.2 L59.8,253.3 L60.2,254.3 L55.7,254.8 L58.1,256.0 L58.5,257.1 L58.2,258.0 L56.5,258.8 M51.9,246.7 L51.3,248.2 L51.2,249.7 L50.9,251.2 L50.6,252.8 L51.2,254.4 L51.8,256.0 L52.3,257.6 L51.2,259.0 L51.9,260.7 L51.4,262.2 L51.3,265.2 L51.6,266.7 L51.1,268.3 L51.9,269.8 L52.5,271.2 L51.6,272.9 L53.2,274.2 L52.1,275.9 L53.9,277.2 L53.9,278.8 L55.4,280.1 L54.9,281.8 L56.0,283.1 L54.6,285.4 L56.1,286.7 L55.6,288.4 L56.8,289.7 L58.5,290.8 L60.0,292.0 L58.7,293.9" fill="none" stroke="#2f5e2a" stroke-width="0.45" opacity="1" stroke-linejoin="round"/>
<path d="M47.0,262.0 C47.5,260.3 48.5,255.2 50.0,252.0 C51.5,248.8 53.5,245.7 56.0,243.0 C58.5,240.3 61.3,238.3 65.0,236.0 C68.7,233.7 73.5,230.5 78.0,229.0 C82.5,227.5 87.5,226.7 92.0,227.0 C96.5,227.3 101.0,229.0 105.0,231.0 C109.0,233.0 114.2,237.7 116.0,239.0 " fill="none" stroke="#6a2418" stroke-width="5.5" stroke-linecap="round"/>
<path d="M47.0,262.0 C47.5,260.3 48.5,255.2 50.0,252.0 C51.5,248.8 53.5,245.7 56.0,243.0 C58.5,240.3 61.3,238.3 65.0,236.0 C68.7,233.7 73.5,230.5 78.0,229.0 C82.5,227.5 87.5,226.7 92.0,227.0 C96.5,227.3 101.0,229.0 105.0,231.0 C109.0,233.0 114.2,237.7 116.0,239.0 " fill="none" stroke="#d44a2c" stroke-width="2.4" stroke-linecap="round" transform="translate(1,1.3)"/>
<path d="M202.2,262.0 C201.7,260.3 200.7,255.2 199.2,252.0 C197.7,248.8 195.7,245.7 193.2,243.0 C190.7,240.3 187.9,238.3 184.2,236.0 C180.5,233.7 175.7,230.5 171.2,229.0 C166.7,227.5 161.7,226.7 157.2,227.0 C152.7,227.3 148.2,229.0 144.2,231.0 C140.2,233.0 135.0,237.7 133.2,239.0 " fill="none" stroke="#6a2418" stroke-width="5.5" stroke-linecap="round"/>
<path d="M202.2,262.0 C201.7,260.3 200.7,255.2 199.2,252.0 C197.7,248.8 195.7,245.7 193.2,243.0 C190.7,240.3 187.9,238.3 184.2,236.0 C180.5,233.7 175.7,230.5 171.2,229.0 C166.7,227.5 161.7,226.7 157.2,227.0 C152.7,227.3 148.2,229.0 144.2,231.0 C140.2,233.0 135.0,237.7 133.2,239.0 " fill="none" stroke="#d44a2c" stroke-width="2.4" stroke-linecap="round" transform="translate(-1,1.3)"/>
<path d="M66.0,219.0 L66.6,218.7 L67.4,217.6 L67.7,218.6 L68.6,216.5 L68.7,218.3 L69.2,218.5 L69.6,219.0 L70.2,218.4 L70.5,219.3 L70.9,219.8 L71.8,218.2 L72.3,218.5 L72.6,219.2 L73.1,219.5 L73.6,219.3 L74.0,219.9 L74.8,218.4 L75.0,220.0 L75.4,220.4 L75.9,220.4 L76.5,219.9 L77.1,219.5 L77.5,220.1 L78.1,219.8 L78.9,218.7 L79.2,219.5 L79.6,220.0 L80.1,219.7 L80.7,219.5 L81.1,220.1 M75.2,219.8 L75.6,220.0 L75.8,220.3 L76.5,219.1 L77.1,217.9 L77.0,219.9 L77.2,220.8 L77.7,220.1 L78.1,220.0 L78.5,219.6 L78.5,221.4 L79.1,220.3 L79.3,221.0 L79.4,221.8 L79.9,221.4 L79.9,222.8 L80.7,221.1 L80.8,222.0 L81.2,221.9 L81.8,220.9 L82.0,221.6 L82.5,221.2 L82.9,220.9 L83.0,222.0 L83.5,221.3 L83.4,223.3 L84.2,221.5 L84.5,221.7 L84.7,222.3 L85.2,221.9 L85.4,222.4 M94.9,227.9 L96.0,227.3 L96.9,227.2 L97.8,226.9 L98.5,227.2 L99.2,227.7 L100.5,226.6 L101.1,227.2 L101.9,227.2 L102.1,229.0 L103.6,227.4 L103.7,229.2 L105.0,228.1 L104.8,230.6 L106.7,228.9 L107.4,229.3 L107.6,230.5 L108.6,230.4 L109.3,230.7 L110.8,229.6 L110.7,231.4 L111.3,232.1 L112.7,231.1 L113.6,231.1 L114.6,231.0 L114.6,232.7 L115.6,232.5 L116.5,232.6 L117.7,232.0 L117.3,234.2 L118.4,234.0 M97.0,223.8 L96.9,226.0 L97.8,225.0 L97.8,226.5 L98.8,225.6 L99.0,226.5 L99.3,227.4 L100.3,226.2 L100.5,227.3 L101.2,226.9 L101.2,228.5 L102.1,227.7 L102.5,228.2 L102.9,228.7 L103.0,230.0 L104.1,228.7 L104.3,229.8 L104.8,229.9 L105.3,230.1 L105.8,230.4 L106.0,231.2 L106.2,231.8 L107.3,231.0 L107.0,232.7 L108.0,232.1 L107.9,233.3 L107.4,235.3 L109.1,233.5 L109.2,234.5 L109.6,234.8 L109.6,236.0 M89.6,225.9 L89.9,226.5 L90.8,225.3 L91.0,226.2 L92.0,224.9 L91.9,226.7 L92.8,225.7 L93.5,225.2 L93.8,225.9 L93.9,227.0 L95.1,225.1 L95.8,224.8 L96.2,225.0 L96.8,224.9 L97.0,225.7 L97.4,226.0 L98.1,225.6 L98.5,225.9 L98.8,226.6 L99.7,225.5 L100.5,224.8 L101.3,224.0 L101.1,225.9 L101.9,225.3 L102.3,225.6 L102.7,226.1 L103.2,226.1 L104.3,224.6 L104.6,225.1 L104.9,225.8 L105.5,225.7 M108.9,235.2 L108.7,236.2 L108.5,237.1 L108.7,237.4 L109.3,237.0 L109.3,237.5 L109.5,237.7 L109.4,238.6 L110.7,236.8 L111.0,236.9 L110.3,238.9 L110.9,238.4 L111.8,237.4 L111.6,238.4 L111.4,239.2 L112.5,238.0 L112.5,238.6 L112.6,239.0 L113.5,238.1 L113.9,237.9 L113.5,239.3 L114.1,238.9 L114.3,239.1 L115.0,238.6 L114.7,239.6 L114.8,240.0 L115.5,239.4 L115.8,239.6 L116.4,239.0 L116.6,239.3 L117.2,239.0 M97.1,227.6 L97.2,228.7 L98.0,227.9 L98.7,227.4 L99.4,227.0 L99.7,227.5 L100.0,228.1 L100.3,228.6 L101.0,228.1 L100.9,229.7 L101.9,228.2 L102.3,228.6 L102.4,229.7 L102.9,229.8 L103.5,229.4 L103.6,230.6 L104.7,229.0 L104.3,231.4 L104.2,231.9 L104.7,232.0 L105.9,231.0 L105.5,232.5 L106.7,231.5 L106.6,232.6 L107.6,231.8 L107.9,232.3 L108.1,232.8 L109.4,231.5 L109.2,232.8 L108.9,234.4 L111.1,231.4 M75.3,221.1 L76.0,221.4 L77.2,219.9 L77.7,220.9 L78.4,221.7 L79.0,222.3 L79.9,222.1 L80.6,222.6 L81.0,224.3 L82.6,221.0 L82.6,224.4 L83.4,224.5 L84.2,224.5 L85.0,224.4 L85.8,224.7 L86.5,225.2 L87.3,225.3 L88.2,224.9 L88.7,226.3 L89.7,225.3 L90.1,226.2 L90.9,226.3 L91.8,226.1 L92.0,227.8 L92.9,227.6 L94.0,227.2 L94.4,228.3 L95.4,227.7 L95.4,230.2 L96.3,229.9 L96.6,231.3 M95.0,225.2 L95.6,224.8 L96.5,223.8 L96.7,224.6 L97.4,224.0 L97.9,224.0 L98.2,224.7 L98.2,225.8 L98.7,225.8 L99.5,225.1 L100.3,224.2 L99.8,227.0 L100.7,225.8 L100.7,227.1 L101.2,227.4 L101.4,228.0 L102.4,226.8 L102.9,226.8 L103.2,227.2 L103.3,228.2 L103.8,228.4 L104.6,227.6 L104.6,229.0 L105.3,228.2 L105.7,229.1 L106.1,229.3 L106.2,230.1 L105.8,231.8 L107.4,229.9 L108.1,229.7 L108.4,230.1 M99.1,228.1 L99.8,227.6 L100.2,227.7 L100.7,227.8 L101.1,228.0 L101.6,227.9 L101.8,228.7 L102.3,228.5 L102.7,228.9 L103.4,228.2 L103.4,229.5 L103.7,230.0 L104.1,230.2 L104.9,229.5 L105.6,229.3 L106.0,229.5 L106.4,229.8 L106.5,230.4 L106.8,230.9 L107.7,230.1 L107.1,232.0 L108.4,230.8 L108.5,231.6 L108.8,231.8 L108.6,233.1 L108.6,234.1 L109.9,232.8 L110.2,233.1 L110.6,233.3 L110.9,233.6 L111.3,233.9 M75.5,230.6 L76.5,230.0 L77.3,231.0 L78.5,229.8 L78.8,232.4 L80.1,231.0 L81.4,229.6 L81.8,231.6 L83.0,230.8 L84.0,230.4 L84.6,231.7 L85.7,231.1 L86.4,232.1 L87.6,231.2 L87.3,232.2 L88.4,231.8 L89.2,232.2 L90.2,232.3 L91.2,232.1 L92.1,232.3 L92.8,233.1 L93.6,233.5 L94.8,232.9 L95.0,235.1 L96.0,234.9 L97.7,233.0 L98.0,234.9 L99.2,234.3 L100.0,234.7 L101.2,234.2 L101.4,236.2 M68.0,216.4 L69.7,216.3 L71.2,217.4 L72.6,218.3 L74.4,218.1 L76.0,218.5 L77.8,218.3 L79.1,219.7 L81.0,219.1 L82.3,220.9 L83.6,222.5 L85.7,220.8 L87.0,222.6 L88.8,222.0 L90.6,221.6 L92.4,222.5 L94.2,222.6 L95.4,224.0 L96.8,225.0 L98.3,225.7 L100.2,225.4 L102.0,225.3 L103.3,226.7 L104.4,228.5 L106.6,228.3 L108.2,228.9 L110.5,228.3 L111.2,230.3 L112.3,231.8 L114.3,231.6 L114.9,234.0 M70.9,220.5 L71.9,219.3 L72.8,218.5 L73.3,219.9 L73.9,220.4 L74.5,221.3 L75.7,219.3 L76.0,221.4 L76.8,220.9 L77.6,220.8 L78.6,219.9 L79.3,219.9 L80.1,220.0 L80.5,221.5 L81.4,221.0 L81.9,221.8 L82.5,222.4 L83.6,221.1 L84.3,221.2 L84.7,222.8 L86.1,220.4 L86.6,221.1 L87.4,221.3 L88.1,221.3 L88.7,221.8 L89.7,221.2 L90.0,222.8 L91.7,221.1 L92.2,221.7 L93.2,221.2 L93.8,221.6 M67.7,220.0 L68.4,219.9 L68.9,220.5 L69.4,221.0 L69.7,222.5 L70.7,220.8 L71.2,221.6 L71.7,222.0 L72.2,222.7 L72.9,222.3 L73.4,223.0 L74.4,221.5 L74.8,222.3 L75.7,221.3 L75.9,222.9 L76.1,224.9 L77.1,223.5 L77.7,223.6 L78.2,224.0 L78.9,224.1 L79.7,223.1 L80.2,223.8 L80.7,224.4 L81.2,224.9 L82.0,224.3 L82.4,225.1 L83.1,224.8 L83.8,224.5 L84.3,225.3 L84.9,225.3 L85.2,226.8 M70.5,221.9 L71.4,223.0 L72.0,224.9 L73.1,224.8 L74.3,224.4 L75.4,224.4 L76.4,224.9 L77.4,225.5 L78.5,225.4 L79.4,226.1 L80.7,225.5 L81.5,226.4 L82.6,226.4 L83.4,227.8 L84.9,226.3 L85.4,228.5 L86.7,227.8 L87.8,227.8 L88.8,228.5 L89.2,228.8 L90.3,228.9 L91.1,229.8 L92.4,229.5 L93.7,229.1 L94.0,231.3 L95.2,231.2 L95.7,232.9 L97.1,232.4 L98.7,231.0 L98.8,233.8 L100.3,232.8 M87.8,223.2 L88.5,222.9 L89.3,221.6 L89.6,222.9 L90.0,223.8 L91.0,222.8 L90.7,225.4 L91.8,224.0 L91.7,225.9 L92.6,224.9 L92.9,225.8 L93.4,226.0 L93.8,226.6 L94.7,225.9 L94.8,227.2 L94.8,228.7 L95.4,228.8 L95.4,230.4 L96.9,227.9 L96.5,230.7 L97.3,230.2 L98.1,229.5 L98.6,229.8 L98.8,230.9 L99.1,231.7 L99.7,231.7 L99.6,233.6 L100.5,232.8 L101.1,232.7 L101.6,233.0 L102.1,233.2 M81.0,222.1 L81.5,222.8 L82.3,222.3 L83.0,222.1 L83.5,223.0 L84.3,222.3 L85.1,221.7 L85.5,222.8 L85.8,224.3 L86.5,224.3 L87.0,225.3 L87.8,224.5 L88.3,225.1 L89.2,224.2 L90.0,223.8 L90.5,224.7 L91.5,223.9 L91.6,225.3 L92.6,224.6 L93.0,225.4 L93.9,224.8 L94.3,225.5 L94.7,226.5 L95.6,225.9 L96.4,225.7 L96.7,226.7 L97.2,227.3 L98.1,226.7 L99.0,226.2 L99.7,226.1 L100.3,226.5 M63.6,222.1 L64.4,222.3 L65.4,221.7 L66.4,221.0 L66.8,222.9 L67.7,222.5 L68.4,223.2 L69.4,222.1 L70.1,223.0 L70.5,224.8 L71.8,222.9 L72.4,223.7 L73.0,224.8 L74.0,223.8 L74.8,224.3 L76.0,222.7 L76.2,225.1 L77.2,224.4 L77.7,225.9 L78.8,225.0 L79.6,225.0 L80.2,225.7 L81.2,225.4 L82.0,225.4 L82.4,227.1 L83.3,226.9 L84.3,226.4 L84.9,227.1 L85.7,227.3 L86.5,227.3 L87.4,227.0 M67.1,219.8 L67.7,220.1 L68.6,218.7 L69.0,219.7 L69.7,219.6 L69.9,221.2 L70.6,221.1 L71.4,220.4 L71.7,221.8 L72.4,221.5 L73.4,219.7 L73.6,221.3 L74.3,221.2 L75.0,220.8 L75.3,222.4 L76.0,221.9 L76.9,220.6 L77.4,221.2 L77.9,221.9 L78.2,223.1 L78.9,222.7 L79.4,223.3 L80.2,222.5 L80.5,223.9 L81.4,222.9 L81.8,223.8 L82.6,223.2 L83.2,223.4 L83.6,224.1 L84.5,223.1 L84.8,224.2 M83.0,226.1 L84.0,224.8 L84.2,227.1 L85.2,226.0 L85.3,228.5 L86.1,228.3 L87.5,225.0 L87.8,227.1 L88.6,226.3 L89.2,227.0 L90.1,225.6 L90.1,227.5 L90.2,229.3 L92.1,226.2 L92.9,226.0 L93.3,226.9 L93.9,227.2 L94.4,227.8 L95.4,227.2 L95.9,227.7 L96.2,228.9 L97.2,228.3 L97.7,228.9 L98.7,228.2 L99.5,228.0 L100.1,228.3 L100.8,228.3 L101.8,227.7 L102.0,229.0 L102.8,228.9 L103.5,228.9 M85.0,222.1 L85.7,221.6 L86.0,222.7 L86.4,222.9 L87.0,223.0 L87.3,223.8 L87.5,225.3 L87.7,226.7 L88.3,226.6 L89.1,225.3 L89.3,226.9 L89.7,226.3 L90.0,227.0 L90.7,226.7 L91.0,227.5 L91.8,226.7 L91.3,229.6 L92.4,228.2 L92.4,229.6 L93.1,229.1 L93.3,230.1 L94.1,229.5 L94.3,230.5 L94.4,231.8 L94.9,232.0 L95.9,230.6 L95.6,233.0 L96.6,231.8 L96.6,233.4 L96.9,233.9 L97.7,233.5 M71.0,219.9 L72.2,220.1 L73.0,221.5 L74.6,219.6 L75.2,221.8 L76.6,220.5 L77.6,221.6 L78.8,221.1 L79.9,221.5 L81.1,221.0 L82.0,222.2 L82.8,223.7 L84.2,222.5 L85.4,222.6 L86.5,222.8 L87.4,223.6 L88.7,223.1 L89.7,223.5 L90.9,224.0 L91.6,225.2 L92.8,225.3 L94.4,224.2 L95.3,224.9 L96.2,225.7 L97.1,226.6 L98.1,227.1 L99.5,226.6 L99.9,228.7 L101.6,227.4 L102.2,228.9 L103.3,229.2 M100.4,233.2 L101.2,232.8 L101.8,232.9 L102.2,233.6 L102.9,233.5 L103.2,234.4 L103.3,233.9 L104.2,233.6 L104.1,234.9 L105.2,234.1 L105.9,234.1 L106.2,234.8 L106.0,236.4 L107.2,235.5 L107.7,236.0 L107.0,238.4 L108.4,237.1 L108.7,237.9 L109.6,237.4 L109.3,239.2 L109.8,239.5 L111.1,238.5 L111.9,238.4 L112.7,238.2 L112.3,240.0 L113.4,239.5 L114.1,239.4 L113.8,241.1 L114.6,241.0 L114.8,241.8 L116.0,240.9 M70.0,217.2 L71.6,217.0 L73.1,217.4 L74.9,216.1 L75.8,219.1 L77.5,218.6 L79.2,218.1 L80.6,218.8 L82.4,217.8 L83.4,220.1 L84.7,221.4 L86.6,220.0 L88.0,220.5 L89.6,220.4 L91.5,221.1 L93.2,220.8 L94.3,222.2 L95.5,223.4 L97.3,223.0 L98.3,224.5 L100.4,223.2 L101.7,224.3 L103.0,225.0 L104.4,225.5 L105.5,227.1 L108.2,226.5 L108.7,228.6 L110.7,228.2 L111.7,229.5 L114.0,228.5 L115.1,229.6 M63.1,216.4 L63.0,218.5 L63.6,217.3 L64.2,216.2 L63.9,218.8 L64.5,217.6 L64.7,218.5 L65.0,218.7 L65.3,218.5 L65.5,219.5 L65.9,219.1 L66.2,219.2 L66.6,218.9 L66.8,219.5 L67.2,219.1 L67.4,220.1 L67.4,221.2 L67.8,221.1 L68.2,220.9 L68.8,219.7 L68.7,221.6 L69.0,221.7 L69.1,222.7 L70.2,219.7 L70.1,221.5 L70.5,221.4 L70.5,222.6 L71.2,221.2 L71.4,221.8 L71.2,224.0 L71.8,223.2 M80.3,217.5 L81.4,216.1 L82.1,216.3 L83.1,215.2 L83.6,216.7 L84.5,215.7 L85.1,216.8 L86.2,215.4 L86.6,216.9 L86.9,218.9 L87.8,218.3 L88.9,217.2 L89.4,218.1 L89.8,219.8 L90.8,218.7 L92.6,218.2 L92.8,219.7 L94.0,218.6 L94.4,219.8 L94.9,220.4 L95.7,220.5 L96.6,220.2 L96.6,222.5 L97.4,222.6 L98.3,222.1 L98.8,222.9 L99.9,222.4 L100.6,222.6 L101.5,222.1 L102.2,222.5 L102.6,223.6 M81.2,221.4 L81.6,222.1 L81.8,223.5 L82.9,221.3 L83.0,223.2 L83.4,224.1 L84.3,222.6 L84.7,223.7 L85.3,223.4 L86.0,222.8 L86.8,222.0 L87.2,222.8 L87.6,223.4 L88.2,223.2 L88.8,223.2 L89.1,224.2 L89.8,223.7 L90.7,223.2 L91.0,223.9 L92.0,222.9 L92.9,222.0 L93.0,223.2 L93.2,224.4 L93.9,224.1 L94.5,224.2 L95.0,224.4 L95.8,223.7 L95.8,225.3 L96.9,223.9 L97.4,224.2 L97.8,224.7 M75.5,217.1 L76.6,217.6 L78.2,216.2 L79.2,217.1 L80.3,217.5 L81.3,218.8 L82.9,217.2 L83.5,219.7 L84.8,219.8 L86.0,219.6 L87.5,218.7 L88.1,221.3 L90.0,218.6 L90.8,220.2 L91.7,222.8 L93.1,222.7 L94.5,222.3 L95.6,222.7 L96.9,222.6 L97.4,224.7 L99.0,223.9 L99.8,225.1 L100.7,226.3 L102.1,225.9 L103.1,226.7 L103.8,228.3 L105.7,226.6 L106.6,228.7 L107.0,230.4 L108.7,229.9 L109.7,230.4 M67.0,222.4 L67.1,223.9 L68.1,221.1 L68.2,222.7 L68.7,222.6 L69.1,222.6 L69.8,221.3 L69.7,223.5 L70.4,222.3 L70.9,222.3 L71.4,222.0 L71.9,221.5 L72.3,221.7 L72.7,221.5 L73.1,221.7 L73.3,222.8 L73.9,222.1 L74.6,220.9 L74.9,221.2 L75.3,221.4 L75.8,220.9 L76.1,221.7 L76.6,221.4 L77.4,219.8 L77.5,221.2 L78.2,220.0 L78.5,220.7 L79.0,220.4 L79.4,220.2 L79.6,221.1 L80.3,220.3 M77.2,226.9 L78.7,225.9 L79.8,226.1 L81.1,225.8 L81.6,228.5 L82.8,228.4 L84.2,227.6 L85.6,226.8 L86.5,227.8 L87.5,228.7 L88.5,229.6 L88.9,230.0 L90.1,230.2 L91.3,230.1 L92.6,230.1 L94.3,228.8 L94.2,232.3 L95.9,231.0 L96.7,232.3 L97.5,233.4 L99.4,231.7 L100.1,233.1 L101.0,234.1 L102.4,233.4 L103.6,233.7 L102.9,235.8 L104.7,235.0 L105.6,235.8 L106.0,237.5 L107.5,237.1 L108.0,238.6 M116.5,228.9 L116.9,228.6 L116.5,229.6 L117.4,228.4 L117.0,229.5 L117.7,228.6 L117.5,229.4 L117.7,229.4 L117.4,230.3 L118.6,228.6 L118.6,228.9 L117.7,230.9 L118.2,230.3 L117.9,231.3 L119.1,229.6 L118.7,230.6 L118.7,231.0 L118.4,231.9 L119.2,230.8 L119.5,230.7 L119.2,231.6 L119.7,231.2 L120.1,230.9 L119.6,232.0 L120.8,230.4 L120.6,231.1 L119.8,232.8 L120.7,231.7 L120.8,232.0 L120.6,232.6 L120.5,233.2 M85.5,226.0 L86.6,226.1 L87.5,227.4 L88.6,227.8 L89.0,228.6 L91.0,226.6 L92.0,227.2 L93.1,227.5 L93.9,228.5 L95.2,228.2 L95.9,229.7 L98.0,227.2 L98.1,230.2 L99.6,229.3 L100.6,229.9 L101.5,230.8 L102.7,230.8 L104.1,230.2 L104.1,232.3 L105.5,232.1 L106.9,231.9 L107.7,232.9 L109.2,232.5 L110.3,232.8 L111.0,234.0 L111.8,234.9 L112.9,235.2 L114.3,235.1 L115.5,235.2 L116.7,235.4 L116.4,238.1 M65.5,220.8 L66.5,220.8 L67.1,222.2 L68.2,221.7 L68.9,222.9 L70.1,222.1 L71.3,221.5 L72.2,221.6 L73.2,221.7 L74.0,222.6 L75.0,222.7 L75.9,223.1 L76.8,223.1 L78.1,222.2 L78.9,222.9 L80.0,222.5 L80.7,223.7 L82.0,222.5 L82.8,223.2 L83.8,223.2 L84.7,223.5 L85.6,223.9 L86.3,225.4 L87.5,224.2 L88.7,223.5 L89.5,224.5 L90.1,225.4 L91.1,225.5 L92.1,225.6 L92.6,227.1 L93.8,226.7 M80.1,219.6 L80.6,221.0 L81.2,222.4 L82.3,221.1 L82.7,223.0 L84.0,221.3 L84.3,223.5 L85.7,221.4 L86.3,222.4 L86.8,224.1 L87.7,223.6 L88.5,224.0 L89.3,224.2 L90.0,224.7 L90.8,224.8 L91.8,224.6 L92.3,225.5 L93.0,226.2 L94.0,225.9 L94.4,227.3 L94.8,228.6 L96.4,226.5 L96.8,227.7 L97.5,228.3 L98.2,228.9 L98.9,229.4 L99.9,229.2 L100.4,230.1 L101.1,230.5 L101.9,230.8 L102.2,232.4 M87.3,226.2 L87.9,226.0 L88.6,225.4 L89.1,226.2 L89.4,226.3 L90.1,225.9 L90.6,226.2 L90.9,227.2 L91.5,227.2 L92.2,227.1 L93.0,226.6 L93.9,225.8 L93.9,227.4 L94.3,228.0 L94.9,227.9 L95.5,227.9 L96.4,227.3 L96.9,227.5 L97.6,227.2 L97.9,228.2 L98.9,227.2 L98.8,229.0 L99.8,228.1 L100.7,227.3 L101.2,227.6 L102.2,226.5 L102.5,227.2 L103.0,227.6 L102.9,229.7 L104.3,227.4 L104.5,228.7 M86.8,224.9 L87.5,226.1 L88.7,225.0 L89.6,224.9 L90.4,225.4 L91.2,226.0 L92.4,225.5 L93.1,226.2 L93.9,226.8 L95.0,226.5 L95.7,227.3 L96.6,227.5 L97.3,228.1 L98.7,227.2 L99.4,227.8 L100.3,228.2 L100.8,229.6 L101.9,229.2 L103.3,228.2 L104.1,228.7 L104.1,231.3 L105.3,230.5 L106.8,229.9 L107.4,230.6 L107.9,231.7 L108.2,233.0 L108.9,233.6 L110.5,232.7 L111.3,233.2 L111.3,235.1 L113.2,233.6 M74.9,225.5 L75.7,224.7 L76.3,224.3 L76.6,225.7 L77.1,226.2 L77.5,227.0 L78.8,224.2 L78.7,227.3 L79.4,227.0 L79.8,227.8 L80.5,227.4 L81.2,227.2 L81.7,227.5 L82.3,227.6 L83.0,227.0 L83.5,227.6 L84.0,227.9 L84.7,227.7 L85.4,227.0 L86.0,227.2 L86.2,228.9 L86.8,229.0 L87.4,228.9 L88.2,228.1 L88.5,229.8 L88.7,228.9 L89.7,227.9 L89.3,230.8 L90.6,228.8 L90.2,231.7 L91.2,230.7 M68.5,221.2 L69.8,222.0 L71.6,220.6 L72.8,221.7 L74.3,221.9 L75.6,222.6 L77.2,222.2 L78.6,222.7 L80.4,221.3 L81.7,222.2 L82.8,223.8 L84.8,221.8 L85.8,223.7 L87.0,224.8 L88.8,223.7 L90.9,222.3 L91.7,224.5 L93.9,222.6 L94.8,224.5 L96.4,224.2 L97.4,225.7 L98.9,225.9 L100.6,225.5 L101.6,226.9 L103.3,226.6 L105.1,225.9 L107.4,226.1 L107.4,229.0 L109.9,227.6 L111.0,228.7 L112.6,228.8 M62.5,219.9 L64.0,218.9 L65.3,218.2 L66.4,218.7 L67.4,219.6 L68.6,219.9 L69.7,220.4 L71.0,219.6 L72.0,220.4 L73.3,220.3 L74.2,221.5 L75.7,220.3 L76.8,220.6 L77.9,221.0 L79.0,221.7 L80.6,220.2 L81.7,220.6 L82.8,220.9 L84.3,219.6 L84.9,222.3 L86.1,222.2 L87.5,221.6 L88.1,224.2 L89.6,222.7 L90.8,223.5 L92.1,223.4 L93.4,223.2 L95.2,221.8 L95.5,224.2 L97.0,223.6 L98.6,222.7 M69.7,219.6 L71.0,219.8 L72.6,219.0 L73.7,219.9 L74.9,220.9 L76.5,219.6 L77.5,221.4 L79.2,220.0 L80.3,221.1 L81.6,221.3 L82.7,222.5 L83.9,223.5 L85.3,223.3 L86.4,224.4 L87.8,224.2 L89.2,224.3 L90.2,225.2 L91.7,225.2 L92.8,226.0 L93.8,227.2 L95.4,226.6 L96.2,228.4 L98.0,227.2 L99.0,228.4 L100.6,227.8 L101.6,229.2 L102.2,231.3 L103.8,230.9 L104.4,232.1 L106.6,231.0 L107.5,232.0 M107.6,232.2 L107.9,232.4 L107.9,233.2 L108.3,233.3 L109.0,232.8 L109.9,232.1 L109.5,233.5 L110.4,232.8 L111.0,232.5 L110.8,233.6 L111.1,233.8 L111.5,233.9 L111.8,234.3 L111.9,234.8 L111.9,235.5 L112.8,234.9 L112.3,236.5 L112.6,236.8 L113.5,235.9 L113.3,237.2 L114.1,236.5 L114.2,237.1 L114.7,237.0 L114.4,238.3 L115.7,236.9 L114.5,239.7 L115.5,238.8 L115.8,239.0 L116.2,239.1 L116.8,238.8 L117.2,238.8 M62.3,220.6 L64.0,221.1 L65.8,220.6 L67.6,220.5 L69.1,221.7 L70.5,223.4 L72.4,222.8 L74.1,222.8 L76.0,222.4 L77.5,223.2 L78.9,224.7 L80.8,224.1 L82.7,223.4 L84.3,224.1 L85.8,225.3 L87.5,225.7 L89.6,224.1 L90.7,226.3 L92.5,226.3 L94.7,225.3 L96.1,226.4 L97.3,228.0 L99.2,227.9 L100.4,229.4 L102.0,230.0 L103.7,230.3 L105.3,230.7 L106.5,232.1 L108.8,231.6 L110.5,231.9 L111.1,234.4 M66.9,223.3 L67.7,224.3 L68.4,225.3 L69.8,223.8 L70.5,224.9 L71.5,225.1 L72.7,224.3 L73.3,225.9 L74.5,224.8 L75.2,226.1 L76.3,225.7 L77.4,225.2 L78.3,225.7 L79.4,225.3 L79.8,228.0 L81.3,225.7 L82.2,226.0 L82.9,227.6 L83.9,227.4 L84.9,227.5 L86.2,226.4 L87.1,226.5 L87.9,227.4 L88.8,227.8 L89.2,228.5 L90.1,228.7 L91.2,228.6 L92.0,229.2 L93.6,227.7 L94.5,228.1 L95.2,228.9 M71.0,220.6 L72.1,221.0 L73.2,222.1 L74.5,221.9 L75.9,221.5 L77.0,222.1 L78.2,222.6 L79.5,222.5 L80.6,223.3 L82.2,221.8 L83.0,223.8 L84.6,222.5 L85.5,224.0 L87.1,222.6 L87.9,224.7 L89.2,224.8 L90.8,224.0 L91.6,225.3 L93.1,224.9 L93.8,226.4 L95.4,225.7 L96.7,225.9 L98.0,225.9 L99.0,226.9 L100.0,227.7 L101.1,228.2 L102.7,227.6 L103.8,228.2 L105.2,228.0 L106.5,228.9 L107.4,229.8 M93.6,225.6 L94.0,225.2 L93.8,226.6 L94.2,226.5 L94.4,226.8 L94.3,228.0 L95.2,226.2 L95.3,226.8 L95.5,227.2 L95.5,228.0 L96.1,227.4 L96.0,228.4 L96.4,228.3 L97.3,226.8 L97.2,227.8 L97.8,227.0 L97.6,228.4 L97.9,228.5 L97.9,229.4 L98.3,229.3 L98.6,229.3 L98.5,230.5 L98.9,230.1 L99.7,229.0 L99.8,229.6 L99.7,230.5 L99.6,231.7 L100.4,230.5 L100.6,230.7 L100.8,231.2 L100.9,231.7 M83.0,221.8 L83.3,222.8 L84.1,222.0 L84.5,223.0 L85.1,223.1 L85.6,223.7 L86.8,221.1 L87.0,222.5 L87.7,222.5 L88.0,223.5 L88.4,224.4 L88.7,225.8 L89.4,225.2 L90.0,225.3 L90.8,224.8 L91.5,224.5 L91.8,225.4 L93.1,223.6 L92.8,226.1 L93.6,225.7 L94.0,226.3 L95.0,225.4 L95.5,225.6 L95.9,226.1 L96.3,226.8 L96.8,227.3 L97.5,227.0 L97.8,227.8 L98.3,228.2 L99.3,227.1 L99.6,228.1 M89.8,222.1 L91.2,221.3 L92.0,221.8 L93.0,221.5 L93.6,222.3 L94.3,222.7 L95.4,222.2 L96.4,222.0 L97.2,222.2 L97.4,224.3 L98.8,223.0 L99.6,223.0 L100.5,223.1 L101.6,222.6 L102.1,223.7 L102.7,224.6 L103.7,224.2 L104.6,224.3 L105.1,225.4 L105.9,225.6 L107.8,225.6 L108.2,226.5 L109.5,226.0 L109.5,227.6 L111.0,226.8 L111.5,227.6 L112.1,228.3 L113.1,228.3 L114.1,228.2 L113.6,230.7 L114.6,230.7 M97.3,220.5 L97.2,222.0 L97.6,222.1 L97.7,223.2 L98.2,222.9 L99.0,221.9 L99.1,223.1 L99.8,222.2 L100.1,222.6 L100.6,222.5 L101.4,221.7 L101.1,223.6 L102.3,221.9 L102.2,223.3 L102.4,224.0 L102.9,223.9 L103.7,222.8 L103.9,223.7 L103.9,224.8 L104.2,225.3 L104.5,225.8 L105.8,223.4 L105.6,225.3 L106.2,224.7 L106.3,225.8 L108.3,224.6 L108.1,225.9 L108.1,226.7 L109.0,226.0 L109.2,226.4 L109.8,226.2 M82.0,227.7 L81.9,229.5 L82.7,228.1 L83.3,227.2 L83.4,228.2 L83.9,228.0 L84.3,227.9 L84.7,227.6 L85.1,228.0 L85.7,226.7 L86.2,226.7 L86.4,227.2 L86.9,226.7 L87.0,228.0 L87.2,228.9 L87.7,228.3 L88.3,227.7 L88.7,227.6 L89.3,226.7 L89.6,226.2 L89.5,227.6 L90.4,226.1 L90.4,227.4 L90.9,227.1 L91.1,227.8 L91.7,227.3 L92.0,227.3 L92.6,226.8 L93.3,226.0 L93.4,227.0 L93.5,227.8 M85.1,223.6 L85.0,225.9 L85.8,224.5 L86.3,224.8 L86.7,224.7 L87.1,225.5 L87.7,224.9 L87.8,226.3 L88.5,225.6 L88.5,227.4 L89.3,225.9 L89.6,226.0 L89.5,227.5 L89.9,227.8 L90.8,226.9 L90.8,228.1 L91.2,228.3 L91.3,229.6 L92.3,228.2 L92.9,227.7 L92.7,229.6 L93.0,230.2 L93.3,230.6 L94.1,230.0 L94.8,229.3 L95.3,229.2 L94.5,232.9 L95.5,231.4 L96.0,231.6 L96.2,232.3 L96.6,232.6 M77.3,221.2 L77.8,220.6 L78.2,220.3 L78.9,219.0 L79.2,219.3 L79.4,220.2 L80.0,219.4 L80.3,219.6 L80.1,222.0 L81.0,219.9 L81.4,220.0 L82.0,218.8 L82.0,220.7 L82.4,220.5 L82.8,220.2 L83.1,220.8 L84.0,218.5 L83.7,221.6 L84.0,221.6 L85.0,218.9 L85.0,220.8 L85.3,221.3 L85.6,221.4 L86.1,220.9 L86.3,221.8 L86.8,221.3 L87.3,220.6 L87.3,222.1 L88.2,220.1 L88.4,220.7 L88.8,220.8 M88.0,228.5 L88.0,230.5 L88.6,230.0 L88.6,229.3 L89.1,229.4 L89.1,230.9 L90.3,228.8 L90.0,230.9 L91.2,229.1 L91.4,229.8 L91.7,230.4 L92.3,230.3 L92.2,231.8 L93.0,231.1 L93.6,230.8 L93.8,231.6 L94.5,231.1 L95.2,230.6 L95.1,232.1 L95.5,232.5 L96.0,232.4 L97.1,230.7 L96.8,233.1 L97.8,231.5 L98.0,232.5 L98.3,232.9 L98.5,233.8 L100.0,231.0 L100.3,231.6 L100.2,233.3 L100.8,232.9 M67.7,220.7 L68.5,224.8 L71.1,221.0 L72.4,222.5 L74.0,223.1 L75.6,223.3 L77.2,223.8 L79.1,223.1 L80.9,222.8 L82.5,223.3 L84.5,222.0 L86.0,222.9 L87.1,225.3 L89.2,223.4 L90.9,224.1 L92.0,225.8 L93.9,225.5 L95.8,225.1 L97.3,225.9 L99.2,225.5 L101.0,225.3 L102.2,227.0 L104.1,226.7 L105.3,228.0 L107.9,227.4 L109.6,227.9 L110.9,229.0 L112.7,229.2 L114.3,229.7 L116.1,229.9 L117.2,231.3 M89.1,222.5 L89.3,224.6 L90.4,222.8 L91.3,223.0 L91.7,223.9 L92.9,222.3 L92.8,224.5 L93.4,225.1 L94.3,224.5 L94.3,226.4 L95.2,225.7 L96.1,225.4 L96.3,226.7 L96.5,228.1 L96.7,229.4 L97.5,229.3 L98.3,228.9 L99.1,228.8 L99.6,229.4 L99.8,230.7 L100.8,230.0 L101.1,231.1 L101.5,231.9 L102.6,230.9 L103.1,231.5 L103.4,232.7 L103.6,232.6 L104.1,233.0 L104.8,233.2 L105.1,234.0 L104.8,235.8 M60.9,224.3 L61.5,223.1 L61.6,224.0 L61.9,224.2 L62.4,223.4 L62.6,224.1 L63.5,221.9 L63.7,222.6 L63.8,223.7 L64.1,223.9 L64.5,223.4 L65.0,223.1 L65.2,223.5 L65.4,224.1 L65.8,223.9 L66.3,223.0 L66.8,222.7 L66.9,223.8 L67.3,223.3 L67.6,223.5 L68.2,222.5 L68.7,222.0 L68.8,222.7 L69.4,222.0 L69.4,223.3 L69.8,223.0 L70.7,220.6 L70.6,222.7 L70.8,223.1 L71.2,222.8 L71.9,221.6 M90.2,221.3 L91.8,219.8 L91.8,221.4 L92.6,220.9 L93.1,221.2 L93.3,222.4 L93.6,223.1 L94.9,221.1 L95.1,222.4 L95.0,224.1 L95.9,223.4 L96.5,223.5 L96.7,224.5 L97.7,223.5 L98.2,223.7 L98.4,224.9 L98.5,226.3 L99.1,226.2 L99.9,225.7 L100.1,226.8 L101.0,226.0 L101.7,225.7 L102.4,225.7 L102.3,227.4 L102.7,228.1 L103.3,228.0 L103.9,228.0 L104.5,228.0 L104.6,229.4 L105.4,228.8 L106.6,228.4 M61.0,222.7 L61.3,223.0 L61.9,221.8 L62.0,222.7 L62.2,223.4 L62.3,224.4 L63.3,221.3 L63.0,224.0 L63.7,222.3 L63.7,223.8 L64.4,222.4 L64.6,222.8 L64.9,223.0 L65.2,222.9 L65.5,223.0 L65.7,223.7 L66.0,223.7 L66.7,222.4 L66.7,223.7 L67.1,223.2 L67.8,222.0 L68.0,222.2 L67.9,224.2 L68.3,224.0 L69.0,222.4 L69.0,223.7 L69.6,222.4 L69.7,223.6 L69.7,224.9 L70.5,223.1 L70.5,224.3 M64.6,216.0 L66.2,216.2 L67.9,216.1 L69.2,217.2 L70.6,218.3 L72.1,218.9 L73.9,218.0 L75.2,219.5 L76.9,219.2 L78.5,219.3 L80.0,220.0 L81.2,221.8 L83.2,220.2 L84.6,220.8 L86.2,221.1 L87.8,221.2 L89.2,222.0 L91.2,222.1 L93.1,221.5 L94.0,223.7 L96.1,222.6 L97.1,224.5 L98.5,225.0 L99.6,226.7 L101.3,226.8 L102.9,227.0 L104.8,226.3 L106.4,227.9 L107.0,229.9 L108.9,229.8 L110.3,230.6 M84.1,232.2 L85.1,231.1 L85.3,233.6 L86.3,232.3 L86.6,234.3 L87.9,231.8 L86.9,233.7 L87.8,233.5 L88.6,233.2 L89.1,234.0 L90.5,232.4 L90.0,235.7 L91.1,234.8 L91.9,234.6 L92.0,236.4 L92.6,236.7 L94.4,233.9 L94.6,235.4 L95.8,234.3 L96.0,235.7 L96.8,235.7 L97.1,237.0 L98.0,236.5 L99.1,235.6 L99.1,237.5 L100.1,236.9 L100.4,238.3 L101.7,236.8 L102.2,237.4 L101.4,237.5 L102.0,237.9 M65.1,217.5 L65.9,217.2 L66.8,216.5 L67.2,218.2 L67.7,219.3 L68.5,218.8 L69.6,217.6 L70.0,218.9 L70.5,220.0 L71.5,218.7 L72.0,219.8 L72.6,220.6 L73.2,221.2 L74.5,218.9 L75.2,219.1 L75.5,220.9 L76.1,221.4 L77.0,220.8 L77.6,221.3 L78.4,221.3 L78.8,222.7 L80.1,220.3 L80.4,222.5 L81.3,221.5 L81.9,222.2 L82.8,221.8 L83.3,222.5 L83.9,223.4 L84.6,223.7 L84.9,225.3 L86.0,224.0 M74.8,221.6 L75.6,221.8 L76.5,221.8 L77.3,222.2 L78.2,222.4 L78.8,223.4 L79.8,222.9 L80.7,223.1 L81.5,223.3 L82.2,224.1 L83.3,223.4 L83.9,224.7 L85.0,223.8 L85.6,225.0 L86.2,226.2 L87.3,225.1 L88.2,225.1 L89.3,224.5 L89.6,226.2 L90.6,226.0 L91.1,226.9 L92.3,226.1 L92.8,227.3 L93.3,228.6 L94.5,227.9 L95.5,227.7 L96.5,227.3 L97.0,228.6 L97.6,229.4 L98.4,229.7 L99.7,228.8 M66.5,216.6 L66.6,218.9 L67.6,217.6 L68.0,218.6 L69.1,216.3 L69.2,218.8 L70.0,218.3 L70.6,218.0 L71.2,218.4 L71.8,218.2 L72.2,219.3 L73.1,218.5 L74.1,216.6 L74.8,216.6 L74.8,219.2 L75.7,218.0 L76.1,219.1 L77.0,217.9 L77.7,217.7 L78.2,218.0 L78.7,218.5 L79.4,218.5 L80.2,217.9 L80.6,218.8 L81.2,218.9 L82.1,217.8 L82.7,217.7 L83.5,217.1 L83.8,218.4 L84.4,218.7 L85.1,218.2 M71.1,217.5 L70.9,219.8 L71.6,218.4 L72.0,218.3 L72.2,218.9 L72.4,219.8 L73.0,218.6 L73.3,218.8 L73.4,219.8 L73.8,219.6 L74.4,218.8 L74.7,218.9 L75.0,219.3 L75.4,218.7 L75.8,218.5 L76.1,218.9 L76.6,218.5 L76.3,221.1 L77.2,218.9 L77.2,220.2 L78.0,218.3 L78.1,219.4 L78.1,221.2 L78.7,219.8 L79.3,218.8 L79.5,219.8 L80.0,218.8 L80.4,218.7 L80.1,221.5 L80.8,220.1 L81.0,220.6 M73.7,225.9 L74.9,225.6 L76.2,225.2 L77.3,225.1 L78.1,227.0 L79.4,226.2 L80.9,224.5 L81.2,228.4 L82.6,227.2 L83.7,227.2 L84.5,228.7 L86.3,225.9 L87.0,228.0 L88.3,227.4 L88.7,228.4 L89.5,229.3 L90.8,228.9 L92.2,228.5 L93.1,229.3 L93.8,230.4 L95.0,230.6 L96.1,230.8 L97.2,230.9 L98.6,230.4 L99.4,231.6 L100.9,230.8 L101.6,232.0 L102.8,232.0 L103.6,232.9 L103.8,233.8 L105.2,233.5 M80.3,223.5 L80.7,225.1 L81.3,225.6 L82.2,225.3 L82.8,225.7 L83.5,226.3 L84.5,225.2 L85.0,226.4 L85.6,226.9 L86.6,226.1 L87.7,224.6 L88.2,225.6 L88.9,226.0 L89.6,226.0 L89.7,227.3 L90.8,226.7 L90.6,229.3 L91.8,228.2 L93.0,227.0 L93.4,228.0 L93.6,229.6 L94.6,229.2 L95.7,228.2 L95.9,230.0 L97.0,229.1 L97.0,231.3 L98.4,229.5 L98.8,230.6 L99.5,230.8 L100.5,230.3 L101.1,230.8 M73.6,223.4 L74.6,224.5 L75.8,224.4 L76.9,224.6 L78.4,223.5 L79.2,225.1 L80.5,225.0 L81.4,226.2 L82.7,225.5 L83.7,226.6 L85.1,225.8 L85.8,227.6 L87.2,226.6 L88.2,227.5 L88.8,228.2 L90.1,227.9 L91.1,228.6 L91.9,229.9 L92.8,230.8 L94.8,228.6 L95.7,229.7 L96.3,231.4 L97.3,232.0 L98.8,231.4 L99.7,232.3 L100.9,232.5 L101.3,234.8 L103.0,233.4 L103.8,233.0 L105.0,233.3 L105.9,234.1 M63.9,223.3 L65.4,223.8 L67.0,224.3 L68.6,224.7 L70.5,223.6 L72.0,224.2 L73.6,224.6 L75.1,225.4 L76.8,225.5 L78.6,225.0 L80.1,225.8 L81.2,228.0 L82.8,228.6 L84.9,226.7 L86.3,227.9 L88.0,228.0 L89.3,227.6 L90.4,229.3 L92.2,229.2 L93.3,231.1 L95.2,230.7 L96.9,230.6 L99.1,229.4 L100.0,231.9 L101.2,233.1 L103.2,232.5 L103.6,234.0 L105.1,234.6 L107.6,233.7 L108.4,235.6 L109.6,236.7 M67.1,221.2 L68.1,221.5 L69.3,220.9 L70.0,222.5 L71.1,222.0 L72.0,222.9 L73.2,222.3 L74.0,223.3 L75.0,223.3 L75.9,224.1 L77.0,224.1 L77.9,224.7 L79.1,224.1 L80.0,224.4 L81.1,224.5 L82.3,224.0 L83.1,225.1 L83.8,226.3 L84.9,226.3 L86.2,225.3 L87.0,226.4 L87.9,227.0 L89.3,225.6 L89.6,227.2 L90.6,227.5 L91.4,228.2 L92.5,228.2 L94.0,227.1 L95.1,227.3 L94.9,230.6 L96.5,229.2 M88.8,227.3 L89.4,226.4 L89.7,227.1 L90.2,227.4 L90.6,228.1 L91.1,228.4 L92.2,226.9 L92.7,227.3 L92.8,228.7 L93.3,229.0 L93.6,229.8 L94.4,229.5 L94.9,229.8 L94.8,231.7 L95.5,231.5 L96.0,231.7 L96.6,231.9 L97.5,230.9 L97.9,231.7 L98.3,232.1 L99.1,231.6 L99.6,232.1 L99.8,233.2 L100.7,232.5 L100.7,234.1 L101.2,234.3 L101.9,234.1 L102.4,234.4 L102.7,235.4 L102.2,235.2 L102.7,235.5 M75.8,221.6 L77.2,218.6 L77.7,219.4 L78.4,219.5 L78.8,220.6 L80.1,218.0 L80.6,218.9 L81.1,219.7 L81.9,219.6 L82.6,219.4 L83.2,219.7 L84.1,218.8 L84.5,220.2 L85.1,220.9 L85.9,220.1 L86.8,219.6 L87.1,221.0 L88.0,220.4 L89.0,219.2 L89.6,219.6 L90.3,219.5 L90.9,220.0 L91.8,221.1 L93.0,219.8 L93.5,220.3 L94.2,220.6 L95.2,219.7 L95.7,220.3 L96.1,221.2 L96.7,221.7 L98.2,219.5 M65.2,222.9 L66.6,221.9 L67.8,221.6 L69.0,221.4 L70.2,221.2 L70.9,223.0 L72.0,223.2 L73.1,223.6 L74.3,223.5 L75.7,222.3 L76.6,223.3 L77.6,223.7 L78.7,224.2 L79.6,224.9 L80.6,225.6 L81.9,225.0 L83.4,223.4 L84.3,224.4 L85.6,223.8 L86.5,225.1 L87.7,225.0 L88.5,226.3 L89.5,226.1 L90.2,227.5 L91.2,227.8 L92.7,227.0 L93.4,228.4 L94.7,228.1 L95.6,228.8 L96.4,229.8 L98.2,228.3 M64.5,215.4 L65.2,215.4 L65.8,216.0 L66.4,216.7 L67.0,217.2 L68.0,216.1 L68.2,218.3 L69.0,218.0 L69.7,218.3 L70.0,220.0 L70.7,220.3 L71.8,219.0 L72.3,219.6 L73.1,219.5 L74.0,218.6 L74.1,221.4 L75.2,220.1 L75.6,221.4 L76.4,221.3 L77.3,220.5 L77.6,222.5 L78.3,222.3 L78.9,223.2 L79.4,223.9 L80.5,222.5 L80.9,224.0 L81.6,224.1 L82.7,222.6 L83.1,224.0 L83.9,223.8 L84.5,224.2 M72.0,222.8 L72.3,223.1 L72.4,223.7 L72.9,223.1 L73.5,221.8 L73.8,221.7 L73.8,223.2 L74.1,223.0 L74.2,224.1 L74.8,222.9 L74.7,224.6 L75.2,223.5 L75.2,225.1 L75.6,224.8 L75.7,225.4 L75.8,226.5 L76.9,223.0 L76.9,224.4 L77.2,224.2 L77.3,225.1 L77.8,224.6 L78.1,224.3 L78.3,224.9 L78.4,225.8 L79.0,224.7 L78.8,226.5 L79.2,226.1 L79.4,226.7 L80.1,225.2 L80.0,226.6 L80.2,227.2 M79.9,221.8 L80.5,223.0 L81.5,223.0 L82.3,223.7 L83.6,222.1 L84.0,224.5 L85.1,224.0 L86.2,223.3 L87.1,223.6 L87.9,224.0 L88.9,224.0 L89.5,225.6 L90.0,226.5 L91.0,226.3 L91.9,226.7 L92.7,227.2 L94.0,226.2 L95.0,226.2 L95.5,227.7 L96.5,227.4 L97.1,228.6 L98.0,228.8 L98.8,229.3 L99.7,229.6 L100.4,230.3 L100.7,232.2 L102.2,230.9 L103.1,231.1 L104.0,231.3 L104.2,232.4 L105.4,232.1 M95.6,230.8 L96.5,229.6 L96.7,230.5 L97.7,229.0 L97.6,230.4 L97.8,231.3 L98.7,230.3 L99.0,230.8 L99.2,231.4 L100.3,229.8 L100.8,229.7 L101.0,230.7 L101.4,230.9 L102.0,230.5 L102.7,230.0 L102.6,231.7 L103.7,230.0 L103.9,230.7 L104.3,230.8 L104.4,231.3 L105.3,230.7 L105.9,230.5 L105.2,232.6 L106.8,230.7 L106.7,232.0 L107.5,231.4 L108.1,231.3 L108.4,231.7 L108.9,231.7 L109.2,232.2 L110.8,230.3 M78.3,220.8 L79.1,223.3 L80.5,222.6 L81.9,222.6 L83.2,222.5 L84.2,224.1 L85.8,223.0 L87.1,223.0 L88.1,224.5 L89.7,223.5 L91.0,224.1 L91.6,226.2 L93.7,224.4 L94.5,226.0 L95.6,226.6 L96.8,227.1 L98.5,226.3 L99.4,227.7 L100.7,228.1 L101.3,230.2 L102.7,230.0 L104.4,229.1 L105.1,230.8 L106.3,231.3 L107.7,231.5 L108.9,232.0 L110.0,232.7 L111.7,232.5 L112.4,233.7 L112.9,235.5 L113.9,236.5 M104.2,236.3 L104.9,235.8 L104.4,237.3 L105.7,235.7 L105.7,236.3 L106.0,236.4 L105.7,237.5 L105.8,237.9 L106.8,236.9 L106.0,238.8 L107.0,237.8 L107.6,237.3 L107.5,238.2 L107.9,238.1 L107.9,238.8 L108.3,238.6 L107.9,240.0 L108.6,239.4 L109.6,238.3 L109.3,239.4 L109.6,239.5 L110.6,238.4 L110.8,238.7 L111.1,238.8 L112.0,237.8 L111.1,240.0 L111.7,239.6 L111.5,240.7 L112.4,239.6 L112.5,240.1 L112.5,240.7 M65.1,220.3 L66.4,222.6 L68.0,223.2 L69.7,223.4 L71.6,223.1 L73.3,223.6 L74.9,224.1 L77.0,222.9 L78.3,225.1 L80.3,224.2 L81.7,225.7 L83.7,225.0 L85.1,226.7 L87.0,226.3 L88.1,228.9 L89.9,227.6 L91.4,228.5 L93.4,228.1 L94.9,229.2 L96.4,230.0 L98.1,230.4 L99.8,231.0 L101.5,231.3 L102.7,233.1 L104.2,232.8 L105.8,233.4 L106.9,235.1 L108.8,235.2 L110.1,236.5 L111.7,237.2 L113.3,237.8 M88.5,224.2 L89.3,224.1 L89.8,225.2 L90.5,225.2 L91.2,225.5 L91.8,225.8 L92.5,226.0 L93.0,226.8 L94.4,225.0 L94.3,227.5 L95.5,226.3 L96.0,227.0 L96.9,226.8 L97.5,227.2 L98.5,226.6 L99.4,226.2 L99.8,227.3 L100.0,228.9 L101.4,227.3 L102.2,227.1 L103.0,227.2 L103.6,227.5 L104.2,228.1 L104.7,228.7 L106.3,227.7 L105.6,230.4 L107.4,228.7 L107.3,230.4 L107.8,231.0 L108.7,230.9 L109.5,231.0 M74.3,220.6 L74.9,219.6 L75.4,219.1 L75.1,221.8 L76.1,219.4 L76.0,221.2 L77.0,218.6 L77.1,220.0 L77.5,219.8 L77.5,221.4 L77.9,221.5 L78.5,220.7 L79.2,219.2 L79.6,219.4 L79.9,219.4 L80.3,219.6 L80.5,220.2 L81.1,219.4 L81.4,219.8 L81.5,221.1 L81.9,221.1 L82.8,218.6 L83.1,219.3 L83.3,219.7 L83.4,221.0 L84.1,219.8 L84.1,221.5 L84.7,220.3 L84.9,221.1 L85.7,219.4 L86.0,219.8 M91.5,227.6 L91.9,228.1 L92.8,227.5 L92.7,229.5 L93.7,228.6 L93.9,229.8 L94.7,229.3 L95.3,229.3 L95.9,229.2 L96.7,228.9 L96.7,230.6 L97.2,230.8 L97.7,231.2 L98.6,230.5 L99.3,230.3 L99.7,231.0 L100.2,231.3 L100.6,231.7 L100.9,232.7 L101.9,231.6 L102.4,232.2 L102.6,233.3 L103.1,233.7 L102.4,234.5 L103.6,233.7 L104.6,233.1 L105.1,233.4 L105.5,233.9 L105.7,234.8 L106.1,235.3 L106.7,235.4 M63.6,216.8 L64.7,215.1 L65.3,215.5 L65.8,216.7 L66.5,216.6 L66.5,219.5 L67.6,217.8 L68.7,216.2 L69.0,218.0 L69.4,219.5 L70.3,218.6 L71.2,217.8 L71.7,218.5 L72.5,218.4 L73.0,218.9 L73.9,218.4 L74.5,218.8 L75.1,219.0 L75.9,218.8 L76.5,219.0 L77.4,218.6 L77.9,219.3 L78.9,218.0 L79.2,219.7 L79.6,221.3 L80.8,219.0 L80.9,221.4 L81.7,221.2 L82.8,219.5 L83.3,220.3 L84.0,220.6 M79.6,231.6 L81.2,230.2 L81.9,232.1 L83.6,230.3 L84.7,230.9 L85.7,232.0 L86.9,232.2 L88.5,231.0 L89.0,230.6 L89.8,232.0 L90.8,232.8 L92.1,232.9 L93.4,232.9 L94.4,233.6 L95.6,234.0 L97.0,233.8 L97.9,234.7 L99.4,234.3 L100.1,235.7 L101.3,236.1 L102.9,235.1 L103.4,234.9 L104.6,235.3 L105.6,236.0 L106.0,237.7 L107.7,237.2 L109.1,237.2 L109.9,238.2 L111.5,238.0 L111.7,239.9 L112.7,240.7 M82.5,222.9 L82.7,223.9 L83.0,224.1 L83.8,222.6 L83.8,224.0 L84.0,224.9 L84.5,224.5 L84.7,225.1 L85.4,223.9 L85.8,224.0 L85.7,226.0 L86.0,226.3 L86.3,226.9 L87.0,225.2 L87.1,226.6 L87.6,226.3 L87.7,227.4 L87.9,227.9 L88.5,227.1 L88.8,227.4 L89.0,228.4 L89.4,227.1 L89.2,228.6 L89.8,228.1 L89.5,229.9 L90.2,229.2 L90.4,229.6 L90.5,230.5 L91.1,230.0 L92.0,228.6 L91.9,230.2 M71.0,219.6 L71.7,220.0 L72.5,220.1 L73.1,221.4 L74.0,221.0 L74.7,221.5 L75.5,221.8 L76.5,220.9 L77.2,221.7 L77.7,222.8 L78.6,222.7 L79.4,222.8 L80.3,222.2 L81.1,222.4 L82.0,222.2 L82.7,222.9 L83.4,223.3 L84.4,222.4 L84.8,224.6 L85.9,223.4 L86.5,224.4 L87.2,224.8 L88.2,224.2 L89.2,223.5 L89.5,225.8 L90.2,225.6 L91.1,225.4 L91.5,226.7 L92.3,226.9 L93.5,225.9 L94.1,226.8 M84.7,219.5 L85.6,218.3 L86.2,218.3 L86.7,219.0 L87.4,218.5 L88.1,218.4 L88.2,220.5 L89.0,220.0 L89.8,219.3 L90.3,219.7 L91.0,219.5 L92.0,220.4 L92.8,220.0 L92.8,221.6 L93.8,220.8 L94.2,221.4 L94.7,222.0 L95.5,221.5 L96.2,221.3 L96.9,221.3 L97.3,221.9 L98.2,221.2 L98.5,222.2 L99.2,222.2 L100.1,221.5 L99.8,224.0 L101.0,222.5 L101.2,223.8 L101.6,224.6 L102.4,224.1 L103.5,223.0 M75.3,218.8 L75.7,219.0 L76.0,219.6 L76.6,218.6 L76.8,219.8 L77.3,219.5 L77.5,220.4 L78.2,219.2 L78.5,219.6 L78.9,219.7 L79.3,219.9 L79.8,219.5 L80.1,220.2 L80.7,219.4 L80.8,221.0 L81.2,221.1 L81.7,220.7 L82.1,220.6 L82.7,220.2 L83.1,220.2 L83.4,220.9 L83.9,220.4 L84.3,220.3 L84.5,221.4 L85.0,221.4 L85.4,221.2 L85.9,220.9 L86.2,221.6 L86.7,221.2 L87.1,221.5 L87.4,222.0 M104.1,230.2 L104.4,230.8 L104.6,231.0 L104.4,232.2 L105.5,231.2 L105.3,232.6 L105.7,232.8 L106.9,231.5 L106.7,232.8 L107.3,232.7 L106.6,234.9 L107.9,233.5 L108.3,233.8 L108.2,234.9 L109.6,233.3 L109.4,234.5 L109.0,236.2 L109.4,236.4 L110.9,234.6 L110.0,237.2 L110.7,236.9 L111.4,236.6 L111.0,238.2 L112.3,236.9 L112.9,236.8 L112.2,238.8 L113.6,237.4 L112.5,240.1 L113.9,238.6 L114.9,238.0 L114.9,238.8 M91.1,224.6 L90.9,226.3 L91.6,225.5 L92.7,224.0 L92.9,224.7 L93.5,224.2 L94.0,224.1 L94.2,224.7 L94.2,226.1 L94.9,225.4 L95.2,225.9 L95.8,225.4 L96.3,225.2 L96.6,225.6 L97.1,225.6 L97.0,227.1 L97.5,227.1 L98.3,226.1 L98.6,226.3 L99.8,224.5 L99.7,225.9 L99.5,227.8 L100.7,225.6 L100.7,226.8 L101.1,227.2 L101.9,226.1 L102.3,226.3 L102.8,226.1 L102.9,227.1 L103.5,226.6 L103.6,227.8 M71.9,225.9 L73.4,224.0 L74.4,223.7 L75.3,224.3 L76.2,224.8 L76.9,225.7 L78.3,224.1 L79.2,224.4 L80.1,225.1 L80.9,225.7 L81.7,226.5 L82.9,225.8 L83.4,227.7 L84.7,226.4 L85.6,226.8 L86.5,227.3 L87.3,228.3 L88.4,227.9 L88.9,227.8 L90.0,227.7 L90.7,228.6 L91.6,229.1 L92.7,228.9 L93.5,229.5 L94.9,228.5 L95.5,229.8 L95.9,231.3 L96.8,231.8 L98.1,231.1 L99.5,229.9 L99.4,233.1" fill="none" stroke="#e8862a" stroke-width="0.45" opacity="1" stroke-linejoin="round"/>
<path d="M69.1,225.2 L69.3,227.2 L68.3,225.4 L68.8,223.5 L68.6,221.5 L70.1,220.2 L71.5,218.8 L70.8,216.9 L70.0,215.1 M76.3,223.5 L77.1,221.7 L76.1,219.9 L76.3,217.9 L74.6,219.0 L72.7,218.4 L70.7,218.9 L68.8,218.6 L67.1,219.7 M68.1,222.9 L68.4,224.9 L68.5,226.9 L70.1,225.6 L70.7,223.7 L72.0,222.2 L74.0,222.5 L75.7,221.5 L76.2,223.4 M67.5,220.6 L67.0,222.6 L66.8,224.6 L66.6,226.6 L68.4,225.7 L68.6,223.7 L69.4,221.9 L70.9,220.5 L72.6,219.6 M71.7,225.2 L72.6,223.4 L74.0,222.0 L75.9,221.4 L77.0,219.7 L77.3,217.7 L75.4,218.3 L73.5,218.7 L71.5,218.3 M68.8,225.2 L70.8,224.8 L72.5,225.7 L72.4,223.7 L73.7,222.2 L74.6,220.4 L74.7,218.4 L74.1,216.5 L72.2,217.2 M63.9,219.5 L65.7,218.7 L67.6,219.5 L69.5,218.9 L70.4,217.1 L71.2,215.3 L70.7,217.2 L71.2,219.2 L71.8,221.1 M65.9,220.8 L66.6,218.9 L67.1,217.0 L68.8,218.1 L70.7,217.8 L72.7,217.3 L74.1,215.9 L74.2,217.9 L74.5,219.9 M75.3,218.5 L75.5,216.6 L73.9,217.9 L72.0,218.2 L70.3,219.4 L68.4,219.5 L66.7,220.7 L66.4,218.7 L65.9,216.8 M64.2,218.9 L66.2,218.3 L66.6,216.4 L68.6,216.8 L68.9,218.8 L70.2,220.3 L70.2,222.3 L68.7,223.6 L68.0,225.5 M72.8,216.8 L70.9,217.3 L69.4,218.6 L67.7,219.6 L65.7,219.6 L63.8,218.7 L62.0,217.9 L63.6,219.1 L65.5,219.7 M70.5,219.2 L71.5,221.0 L72.8,222.4 L74.7,223.1 L74.9,225.1 L73.4,223.8 L71.7,224.8 L70.0,225.9 L69.8,223.9 M66.8,225.2 L68.5,224.2 L70.4,223.4 L69.8,221.5 L70.7,219.8 L72.4,218.6 L74.4,218.7 L74.6,220.7 L73.4,222.3 M69.8,216.8 L70.2,214.8 L69.0,216.4 L68.9,218.4 L68.4,220.4 L66.8,221.7 L65.1,220.7 L63.4,219.5 L61.5,219.3 M73.5,220.7 L75.5,220.8 L76.8,222.3 L76.6,224.3 L74.8,225.1 L73.1,223.9 L71.7,222.5 L71.7,220.5 L72.8,218.8" fill="none" stroke="#e8862a" stroke-width="0.35" opacity="0.9"/>
<path d="M52.1,226.4 L51.4,225.0 L52.4,226.2 L52.7,226.3 L52.8,226.1 L52.6,225.5 L52.6,225.2 L53.4,226.1 L52.8,224.8 L52.5,224.0 L53.2,224.9 L53.4,224.9 L53.1,224.0 L53.2,223.8 L54.5,225.5 L53.9,224.4 L54.3,224.6 L54.0,223.8 L53.8,223.2 L54.4,223.8 L55.1,224.5 L54.5,223.3 L54.2,222.6 L55.0,223.4 L55.1,223.2 L55.3,223.3 L55.1,222.6 L55.5,222.9 L55.6,222.7 L56.2,223.4 L56.1,222.9 M59.7,226.4 L61.1,227.9 L61.4,227.7 L61.3,227.0 L60.9,225.8 L61.7,226.4 L62.3,226.7 L62.9,227.1 L62.5,225.9 L62.7,225.7 L62.3,225.6 L62.9,226.7 L63.2,226.5 L63.1,224.7 L63.8,226.6 L63.9,225.2 L64.1,224.7 L64.4,224.6 L64.8,225.1 L65.5,227.0 L65.9,227.2 L65.7,224.6 L66.1,224.9 L66.5,225.4 L66.9,225.5 L67.1,224.8 L67.2,224.0 L67.7,224.7 L68.0,224.5 L68.1,223.7 L68.7,224.9 M51.6,230.5 L51.5,229.3 L51.7,228.6 L52.2,228.3 L52.1,227.2 L53.3,227.9 L53.5,227.2 L53.7,226.5 L53.5,225.2 L54.5,225.7 L55.6,226.3 L55.9,225.7 L56.1,225.0 L56.0,223.9 L56.6,223.7 L57.1,223.5 L57.4,222.9 L58.1,222.9 L57.8,221.6 L57.6,220.2 L58.0,219.7 L58.9,220.1 L61.1,218.7 L61.9,219.8 L62.5,219.8 L62.8,218.8 L63.4,219.0 L63.9,218.4 L64.4,218.2 L64.9,217.5 L65.4,217.3 M54.0,233.1 L54.3,232.7 L54.9,232.8 L54.8,231.8 L55.6,232.1 L56.0,232.0 L56.3,231.5 L56.7,231.3 L57.2,231.2 L56.5,229.3 L57.5,229.9 L58.2,230.2 L58.4,229.6 L58.6,229.1 L59.2,229.2 L60.3,229.9 L60.0,228.6 L60.2,228.1 L60.6,227.9 L60.7,227.3 L61.7,227.9 L61.6,226.9 L62.6,227.6 L63.0,227.4 L63.3,226.9 L63.8,226.9 L62.9,226.5 L63.1,225.3 L63.8,226.3 L64.3,226.6 L64.5,225.1 M52.0,226.1 L52.1,225.7 L52.6,225.8 L53.1,225.9 L53.1,225.3 L53.3,225.1 L53.9,225.2 L54.0,224.8 L55.3,226.2 L54.5,224.3 L54.5,223.8 L54.9,223.7 L56.1,225.0 L55.9,224.0 L56.5,224.2 L56.7,223.9 L57.2,224.1 L56.9,223.0 L57.8,223.7 L57.9,223.2 L58.8,224.0 L59.0,223.7 L58.6,222.5 L59.1,222.5 L60.0,223.3 L60.6,223.5 L60.7,223.2 L60.7,222.5 L61.9,223.0 L61.8,220.7 L62.4,222.0 M51.1,230.3 L51.4,230.4 L51.9,230.8 L50.7,228.7 L51.9,230.2 L50.7,228.0 L51.3,228.5 L52.2,229.5 L51.4,228.1 L51.6,228.0 L52.1,228.4 L51.8,227.6 L52.1,227.7 L52.4,227.8 L52.4,227.4 L52.4,227.1 L52.5,226.8 L52.4,226.4 L53.2,227.2 L54.3,228.5 L53.0,226.3 L52.7,225.4 L54.2,227.3 L54.0,226.7 L53.5,225.6 L53.5,225.3 L53.8,225.3 L54.1,225.5 L53.7,224.5 L54.3,225.1 L53.4,223.5 M51.8,228.8 L52.2,228.8 L52.8,229.2 L53.6,229.7 L52.7,227.8 L53.2,227.9 L53.2,227.3 L53.6,227.3 L53.6,226.6 L53.9,226.4 L54.4,226.6 L55.0,226.9 L54.8,226.0 L54.9,225.6 L55.1,225.2 L54.9,224.3 L55.3,224.2 L55.9,224.6 L56.5,224.8 L56.4,224.0 L56.3,223.2 L56.8,223.4 L57.4,223.7 L57.3,222.9 L58.0,223.3 L57.2,221.5 L58.2,222.3 L57.8,221.2 L57.8,220.5 L58.7,221.4 L59.2,221.4 M59.2,225.7 L59.9,226.0 L59.8,225.1 L60.2,224.9 L60.7,225.0 L61.1,224.9 L61.1,224.0 L62.3,225.2 L62.4,225.7 L62.7,225.0 L63.0,224.7 L62.9,222.2 L63.9,224.9 L64.3,224.9 L64.8,225.0 L65.1,224.8 L65.4,224.0 L66.0,224.8 L66.4,224.6 L66.8,224.7 L67.3,225.3 L67.7,224.9 L68.0,224.4 L68.4,224.1 L68.7,223.5 L69.6,226.0 L69.7,224.6 L70.3,225.5 L70.7,225.0 L71.0,224.9 L71.5,225.2 M51.6,228.6 L52.2,228.8 L53.0,229.4 L52.5,228.0 L52.2,226.9 L53.7,228.5 L54.2,228.5 L54.3,228.0 L54.7,227.9 L55.3,228.2 L55.1,227.2 L55.4,227.1 L55.5,226.6 L56.5,227.4 L56.6,226.9 L57.3,227.2 L57.2,226.5 L57.3,225.9 L58.9,227.7 L59.0,227.2 L59.6,227.5 L60.1,227.5 L59.3,225.7 L60.7,227.1 L60.3,225.8 L60.3,225.1 L61.0,225.7 L61.6,225.9 L62.9,227.2 L62.5,225.9 L62.9,225.8 M70.2,222.8 L70.5,223.9 L70.3,222.7 L70.5,223.0 L70.3,222.1 L70.6,223.1 L70.7,223.3 L70.7,223.0 L70.7,222.3 L71.0,223.7 L71.1,223.7 L71.0,223.1 L71.2,223.7 L71.3,223.8 L71.1,222.5 L71.3,223.1 L71.1,221.9 L71.3,222.5 L71.5,223.5 L71.4,222.6 L71.7,223.5 L71.7,223.5 L71.5,221.9 L71.7,222.9 L72.1,224.3 L71.9,223.3 L72.0,223.4 L72.0,222.9 L71.9,222.2 L72.0,222.3 L72.7,225.3 M66.5,224.4 L66.4,223.3 L66.6,223.5 L66.9,224.2 L66.7,222.6 L67.0,223.1 L67.2,223.1 L67.4,223.3 L67.3,222.2 L67.4,222.1 L67.7,222.6 L67.8,222.0 L68.0,222.7 L68.1,222.4 L68.3,222.5 L68.5,222.4 L68.4,221.4 L68.7,221.8 L68.9,222.1 L69.2,222.7 L69.2,222.0 L69.3,221.7 L69.7,223.0 L69.5,221.1 L69.9,222.3 L69.9,221.7 L69.8,220.3 L70.1,221.0 L70.4,221.5 L70.2,220.0 L70.7,221.7 M55.4,225.9 L56.5,226.8 L55.9,225.2 L57.2,226.4 L56.8,225.0 L56.9,224.5 L58.0,225.3 L58.1,224.7 L58.3,224.3 L58.3,223.5 L59.0,223.9 L59.4,223.8 L59.5,223.1 L59.7,222.7 L60.2,222.7 L60.5,222.4 L61.9,223.4 L62.3,223.2 L62.5,222.2 L62.9,221.8 L63.4,222.4 L63.9,222.7 L64.2,221.9 L64.6,222.2 L65.2,223.0 L65.4,222.0 L65.8,221.9 L66.5,223.0 L66.7,222.0 L67.1,222.0 L67.4,221.3 M53.6,233.4 L53.4,232.3 L53.7,232.1 L54.1,232.0 L54.4,231.8 L55.1,232.1 L55.0,231.2 L55.2,230.9 L55.5,230.5 L56.1,230.8 L55.9,229.7 L56.5,230.0 L56.5,229.2 L57.4,229.8 L57.7,229.5 L58.0,229.3 L58.2,228.9 L58.4,228.5 L59.2,229.0 L58.6,227.3 L59.4,227.8 L60.8,229.2 L60.6,228.2 L61.4,228.7 L61.9,228.7 L61.5,227.5 L61.4,226.6 L62.3,227.2 L62.1,226.2 L62.8,226.6 L63.2,226.5 M57.7,231.6 L58.2,231.3 L59.0,231.6 L58.8,230.3 L59.4,230.2 L61.1,231.7 L60.1,229.3 L61.1,229.8 L61.5,229.5 L62.0,229.2 L62.6,229.1 L62.5,228.0 L63.7,228.8 L63.7,227.8 L63.9,227.1 L63.2,228.0 L63.7,227.6 L64.1,227.3 L64.8,227.6 L65.1,226.6 L65.8,227.3 L66.2,226.7 L66.5,225.0 L67.5,227.4 L67.8,226.4 L68.4,226.2 L68.9,226.0 L69.2,225.1 L69.8,225.1 L70.6,226.2 L71.0,225.5" fill="none" stroke="#2f5e2a" stroke-width="0.35" opacity="1" stroke-linejoin="round"/>
<path d="M150.7,253.0 L148.9,252.1 L147.3,250.8 L145.6,249.8 L143.9,250.8 L142.1,251.8 L140.4,252.7 L138.9,254.0 L138.9,252.0 L138.2,250.1 L136.6,248.9 M153.2,250.7 L152.0,249.1 L150.8,247.5 L148.9,246.7 L147.3,245.5 L145.4,244.9 L145.0,246.8 L146.6,248.0 L147.9,249.5 L149.7,250.2 L151.2,251.6 M148.9,239.0 L149.1,241.0 L147.3,241.8 L146.4,243.6 L146.6,245.5 L147.1,247.5 L146.2,249.2 L145.2,251.0 L144.3,252.7 L143.3,254.5 L142.9,252.5 M143.3,245.6 L141.8,246.9 L141.8,248.9 L142.4,250.8 L144.0,252.0 L144.0,254.0 L143.6,252.0 L142.0,250.8 L140.1,251.4 L138.6,252.7 L138.3,254.7 M142.3,239.0 L142.3,237.0 L140.9,238.4 L140.2,240.3 L141.2,242.0 L140.5,243.9 L138.5,244.4 L136.9,245.5 L135.9,247.2 L134.3,248.5 L134.0,250.4 M146.4,252.1 L148.3,251.6 L149.6,253.1 L148.3,254.5 L146.9,253.1 L145.8,251.4 L143.9,250.8 L143.2,248.9 L144.1,247.1 L145.9,246.2 L146.8,244.4 M143.9,251.8 L142.0,252.5 L140.1,252.2 L139.9,254.2 L138.6,252.6 L136.7,253.2 L137.6,251.4 L138.6,249.7 L138.5,247.7 L137.3,246.2 L135.5,245.3 M141.6,241.8 L139.7,241.0 L138.9,239.2 L139.7,241.0 L139.5,243.0 L139.3,245.0 L137.4,245.4 L135.4,245.8 L134.4,247.5 L133.6,249.3 L131.9,250.4 M130.8,239.0 L132.6,239.8 L134.6,240.3 L136.4,241.0 L137.9,242.4 L139.8,241.9 L141.7,242.6 L140.8,244.4 L138.9,245.2 L137.0,245.6 L135.8,247.3 M137.8,242.7 L138.7,241.0 L138.9,239.0 L139.7,240.8 L140.5,242.6 L139.1,244.1 L138.5,246.0 L138.8,247.9 L139.6,249.8 L140.9,251.3 L141.2,253.3 M142.2,243.2 L140.2,243.0 L138.2,243.2 L136.3,242.7 L134.3,242.2 L132.4,242.8 L130.6,243.5 L132.6,243.7 L134.5,244.2 L136.1,245.4 L138.1,245.4 M131.3,242.3 L133.3,242.9 L134.1,244.7 L135.3,246.3 L137.3,246.0 L139.0,247.1 L139.7,249.0 L141.2,250.3 L141.2,252.3 L141.1,254.3 L142.0,252.5 M144.1,243.7 L144.9,241.8 L146.4,240.5 L148.2,239.7 L146.9,241.2 L144.9,241.4 L142.9,241.0 L140.9,240.9 L139.0,241.0 L137.2,240.1 L135.2,239.8 M136.2,244.6 L138.2,244.6 L139.5,243.0 L140.0,241.1 L140.7,239.2 L141.7,237.5 L142.1,239.4 L140.9,241.1 L140.5,243.0 L139.5,244.7 L137.7,245.7 M145.2,246.7 L143.2,246.7 L142.0,248.3 L140.7,249.8 L141.0,251.8 L142.5,253.2 L141.7,251.4 L140.0,250.2 L138.1,250.9 L136.3,250.1 L134.3,249.8 M149.7,240.5 L148.8,242.2 L147.5,243.7 L145.9,245.0 L144.0,245.3 L142.0,245.4 L140.1,246.2 L138.9,247.8 L137.6,249.3 L138.0,251.3 L139.2,252.9 M148.9,249.8 L150.5,251.0 L148.9,249.9 L147.8,248.2 L146.5,246.7 L146.1,244.7 L147.4,243.2 L147.4,241.2 L147.6,239.3 L146.9,241.1 L146.0,242.9 M130.8,249.0 L132.8,248.9 L134.7,249.4 L136.7,249.0 L138.6,248.2 L140.4,247.5 L142.0,246.3 L142.5,244.3 L143.6,242.7 L142.9,240.8 L142.2,238.9 M135.8,246.0 L136.6,247.8 L135.8,249.6 L135.7,251.6 L136.6,253.3 L138.5,252.6 L140.5,252.5 L142.5,252.6 L144.4,252.1 L146.2,253.0 L144.2,252.6 M144.7,239.0 L144.5,241.0 L143.1,242.4 L142.7,244.4 L143.0,246.4 L142.5,248.3 L143.6,250.0 L144.4,251.8 L145.9,253.1 L144.9,251.4 L143.7,249.8 M141.3,248.1 L143.1,248.8 L144.4,250.4 L146.4,250.9 L148.3,251.3 L149.7,249.9 L149.4,247.9 L147.6,247.0 L146.5,245.3 L145.7,243.5 L145.8,241.5 M151.7,246.2 L152.8,247.9 L153.3,249.9 L151.3,250.3 L150.3,248.5 L149.4,246.8 L148.5,245.0 L148.1,243.0 L148.3,241.0 L148.7,239.1 L147.1,240.3 M137.3,246.7 L137.9,244.8 L137.7,242.8 L139.6,242.2 L141.5,243.0 L142.3,244.9 L142.2,246.9 L142.1,248.9 L143.3,250.5 L144.0,252.4 L145.1,254.0 M138.8,239.0 L140.3,240.3 L142.1,239.4 L143.8,238.4 L142.9,240.1 L141.3,241.4 L139.6,242.5 L137.7,242.0 L137.3,240.0 L136.5,238.2 L136.2,240.2 M140.0,243.8 L138.6,245.2 L137.7,247.0 L135.8,246.4 L134.9,248.1 L133.0,248.8 L131.1,249.5 L133.1,249.2 L135.0,248.6 L137.0,248.4 L138.3,246.9 M138.8,253.0 L139.5,251.1 L141.5,251.3 L143.4,250.6 L144.4,248.8 L146.2,248.1 L147.9,247.1 L148.3,245.1 L150.1,244.2 L152.0,243.5 L153.9,242.9 M136.8,247.5 L134.9,246.8 L134.4,244.8 L135.3,243.0 L133.4,242.4 L133.0,240.4 L135.0,240.5 L136.9,241.1 L138.2,242.6 L140.2,242.4 L141.6,241.0 M147.5,243.2 L149.4,242.6 L150.3,240.8 L149.7,242.7 L148.6,244.4 L148.9,246.3 L149.0,248.3 L149.6,250.2 L148.6,252.0 L147.5,250.3 L146.7,248.4 M137.7,242.7 L139.4,241.7 L141.4,242.0 L142.0,240.1 L142.5,238.2 L140.8,239.1 L139.2,240.3 L138.8,242.3 L136.9,242.8 L135.3,244.0 L133.7,245.2 M132.0,249.4 L133.9,249.8 L135.3,251.2 L137.1,252.1 L138.3,253.7 L137.5,251.9 L136.7,250.0 L134.9,249.1 L134.2,251.0 L134.3,252.9 L135.3,251.2" fill="none" stroke="#e8862a" stroke-width="0.3" opacity="0.9"/>
<path d="M195.8,271.2 L195.2,269.3 L195.0,267.3 L194.5,265.4 L193.4,263.7 L195.2,263.0 L195.3,261.0 L193.8,259.8 L192.3,261.1 L190.6,262.1 L189.8,264.0 M193.5,249.4 L192.1,250.8 L192.0,252.8 L191.2,254.7 L189.6,255.9 L187.7,256.3 L185.8,255.6 L184.9,253.8 L185.1,251.8 L186.0,250.0 L187.9,250.5 M193.7,269.9 L192.9,268.1 L193.7,266.2 L192.9,264.4 L191.7,262.8 L191.0,260.9 L191.5,259.0 L192.7,257.4 L192.7,255.5 L192.6,253.5 L193.6,251.7 M187.7,260.0 L186.2,261.4 L184.9,262.8 L183.2,263.9 L181.5,264.9 L179.5,265.2 L178.0,266.6 L176.8,268.1 L178.6,267.4 L180.5,266.8 L182.5,267.1 M176.2,264.6 L177.9,263.6 L179.9,263.9 L181.9,264.2 L183.6,263.2 L185.2,264.5 L186.1,262.7 L186.8,260.8 L187.4,258.9 L188.9,257.6 L190.9,257.6 M195.8,274.6 L195.6,272.6 L194.9,270.8 L193.3,269.6 L191.4,268.9 L190.0,267.4 L188.6,266.0 L186.7,266.6 L184.8,267.4 L183.4,268.8 L184.4,270.6 M189.7,265.8 L189.0,263.9 L188.6,262.0 L188.2,260.0 L187.3,258.2 L185.5,257.3 L183.9,258.5 L182.6,260.0 L180.6,260.4 L178.7,259.8 L176.7,260.1 M195.8,259.9 L193.8,260.2 L192.8,262.0 L193.6,263.8 L195.1,265.2 L195.8,267.1 L193.8,266.8 L192.5,268.3 L191.4,270.0 L189.5,269.4 L187.6,270.0 M195.8,249.4 L194.4,250.9 L194.4,252.9 L192.8,254.1 L192.2,256.0 L190.9,257.5 L190.1,259.3 L189.9,261.3 L189.8,263.3 L189.3,265.3 L188.0,266.8 M194.7,265.4 L192.7,265.6 L191.0,264.6 L189.1,265.2 L187.4,266.3 L185.4,266.5 L183.5,266.2 L181.7,265.2 L180.0,264.2 L178.6,262.8 L176.8,261.9 M180.4,257.0 L181.0,255.1 L180.0,253.4 L181.6,252.3 L182.9,250.7 L181.5,249.3 L182.1,251.2 L183.5,252.6 L185.3,253.4 L186.3,255.2 L186.9,257.1 M183.4,272.4 L181.4,272.4 L179.6,273.3 L179.3,271.3 L180.1,269.4 L179.1,267.7 L178.8,265.7 L178.8,263.7 L178.5,261.7 L180.4,261.1 L182.4,260.8 M190.5,274.6 L190.0,272.7 L188.3,271.6 L187.1,270.0 L186.0,268.3 L185.0,266.6 L183.6,265.2 L184.3,263.3 L185.1,261.5 L184.9,259.5 L183.8,257.8 M190.1,260.1 L189.8,262.1 L190.3,264.0 L190.8,265.9 L192.7,266.7 L194.0,268.2 L195.6,269.4 L193.7,268.8 L192.5,267.3 L191.3,265.6 L191.3,263.6 M179.8,258.9 L180.3,260.8 L181.1,262.6 L181.5,264.6 L182.2,266.5 L184.0,267.4 L185.9,268.0 L187.7,267.1 L189.7,267.1 L191.5,267.9 L193.5,268.0 M190.3,264.2 L190.3,262.2 L189.2,260.6 L187.5,259.5 L186.3,257.9 L184.6,256.8 L182.6,257.0 L180.7,256.6 L178.7,256.5 L176.9,257.5 L175.0,256.9 M192.5,256.4 L194.1,255.2 L196.1,254.9 L194.1,254.8 L192.1,254.9 L190.2,254.3 L188.2,253.9 L187.4,252.0 L186.1,250.5 L184.3,251.4 L182.7,252.6 M187.3,264.5 L186.1,262.9 L184.2,262.3 L182.3,261.7 L180.9,260.3 L179.5,258.8 L178.2,257.3 L176.2,257.0 L178.2,256.7 L177.7,254.8 L178.4,256.7 M186.1,259.1 L187.4,257.6 L189.3,256.8 L191.2,257.3 L193.2,257.6 L194.6,259.0 L196.6,259.5 L194.6,259.3 L193.3,257.7 L191.9,256.4 L190.2,255.3 M189.3,261.3 L189.8,263.2 L189.3,265.1 L191.0,266.2 L192.6,267.4 L193.2,269.3 L192.9,271.2 L191.3,270.0 L189.4,269.5 L187.9,268.1 L187.9,266.1 M178.1,258.6 L176.8,260.1 L175.2,261.3 L176.9,260.4 L178.9,260.5 L180.2,262.0 L181.1,263.8 L182.1,265.5 L183.6,266.8 L185.5,266.2 L187.5,266.8 M185.3,273.0 L185.3,275.0 L184.2,273.4 L185.2,271.7 L184.8,269.7 L183.3,271.0 L182.2,272.7 L180.4,273.6 L182.3,272.8 L183.4,271.2 L185.3,270.6 M189.9,272.1 L188.7,273.7 L188.1,275.6 L187.4,273.7 L186.1,272.3 L185.8,270.3 L187.2,268.8 L187.8,266.9 L189.1,265.3 L189.1,263.3 L188.6,261.4 M183.4,268.3 L181.4,268.0 L179.5,268.3 L178.1,266.8 L176.1,266.3 L177.9,267.1 L179.8,267.9 L181.8,267.7 L182.6,265.9 L183.1,264.0 L182.5,262.1 M195.8,256.6 L193.9,257.1 L192.7,255.5 L192.1,253.6 L192.4,251.6 L193.0,253.5 L193.2,255.5 L192.3,257.2 L191.2,258.9 L190.1,260.6 L188.1,260.9" fill="none" stroke="#e8862a" stroke-width="0.3" opacity="0.9"/>
<path d="M197.7,311.0 L198.9,309.5 L200.4,308.1 L202.2,308.9 L204.0,309.8 L206.0,309.5 L205.6,307.6 L205.4,305.6 L207.2,304.7 L206.6,302.9 L204.6,302.7 M201.9,301.0 L202.2,299.0 L203.0,297.2 L203.8,295.3 L204.4,293.4 L205.5,291.8 L206.4,290.0 L204.4,290.2 L202.4,289.9 L200.4,290.0 L199.2,288.4 M203.8,281.2 L204.5,283.1 L205.0,285.0 L203.7,286.5 L203.3,288.5 L203.2,290.5 L204.4,292.1 L205.5,293.8 L206.0,295.7 L205.0,297.4 L203.3,298.4 M196.0,310.2 L197.4,308.8 L199.3,308.3 L201.0,307.2 L201.7,305.4 L202.3,303.4 L203.0,301.6 L203.5,299.7 L203.4,297.7 L202.2,296.1 L200.4,295.2 M200.7,292.2 L202.6,291.9 L203.0,289.9 L204.0,288.2 L206.0,287.9 L204.3,289.0 L202.9,290.4 L202.5,292.3 L201.0,293.7 L199.8,295.3 L200.4,297.2 M202.3,312.8 L200.3,312.9 L198.4,312.4 L196.4,312.3 L197.8,310.9 L199.2,309.6 L201.2,309.3 L203.2,309.7 L204.1,311.5 L205.1,313.2 L204.8,311.3 M201.9,293.7 L201.3,291.8 L199.3,292.0 L197.5,293.0 L195.5,293.3 L196.6,294.9 L198.5,295.7 L200.4,296.3 L202.2,297.2 L204.1,297.7 L205.8,296.6 M197.8,287.4 L195.8,286.9 L195.1,288.8 L196.1,290.6 L198.1,290.2 L199.9,291.0 L201.7,291.8 L203.1,293.2 L203.5,295.2 L205.0,296.6 L206.4,298.0 M201.7,289.1 L203.7,289.0 L205.5,289.8 L207.2,290.9 L205.9,292.5 L205.6,294.5 L206.3,296.3 L206.4,298.3 L206.4,300.3 L204.6,301.2 L203.2,299.7 M197.7,299.5 L195.8,300.0 L193.9,300.6 L194.8,302.4 L196.2,301.0 L196.9,299.1 L197.3,297.2 L198.0,295.3 L197.1,293.5 L197.4,291.5 L197.4,289.5 M203.3,281.2 L202.3,282.9 L200.7,284.1 L198.9,285.0 L197.3,283.8 L197.2,285.8 L196.5,287.7 L196.5,289.7 L198.5,289.7 L200.2,290.7 L202.1,291.2 M205.7,291.5 L203.8,290.8 L202.2,292.0 L200.2,292.2 L199.1,293.8 L198.6,295.8 L199.7,297.4 L201.4,298.5 L203.3,299.1 L205.1,300.1 L207.0,300.5 M203.7,314.8 L202.1,313.6 L200.6,312.2 L199.6,310.5 L198.8,308.7 L198.0,306.9 L196.8,305.2 L196.6,303.2 L195.4,301.7 L196.8,300.3 L197.4,298.4 M203.0,281.2 L203.3,283.2 L205.2,282.4 L205.8,284.3 L206.3,286.2 L206.0,288.2 L206.2,290.2 L205.6,292.1 L204.0,293.2 L202.0,293.6 L200.0,293.1 M199.7,299.4 L198.5,297.9 L197.0,296.5 L196.8,294.6 L196.8,292.6 L196.4,290.6 L196.8,288.6 L196.0,286.8 L196.0,288.8 L197.4,290.2 L198.7,291.8 M202.4,300.0 L200.4,299.5 L198.5,298.9 L196.9,300.1 L196.2,302.0 L194.5,303.1 L196.5,302.9 L198.4,302.1 L199.8,300.7 L201.1,299.2 L201.8,297.3 M206.0,295.3 L207.5,294.1 L205.9,295.2 L205.6,297.2 L206.6,298.9 L206.5,300.9 L206.1,302.9 L207.5,304.4 L208.4,302.6 L206.5,302.1 L207.3,300.2 M195.4,293.6 L197.3,294.4 L199.1,295.2 L200.9,296.1 L201.1,298.1 L199.8,299.6 L198.4,301.0 L198.3,303.0 L197.3,304.7 L196.4,306.5 L194.6,307.3 M201.2,300.1 L201.9,298.2 L203.3,296.8 L205.2,296.2 L206.9,295.2 L205.2,296.2 L205.1,298.2 L203.9,299.8 L202.1,300.5 L201.7,302.5 L200.7,304.2 M199.5,304.0 L198.5,302.3 L196.8,301.3 L194.9,300.7 L196.3,299.3 L197.0,297.4 L196.9,295.4 L198.0,293.8 L200.0,293.4 L201.9,294.0 L202.5,295.9 M201.3,285.2 L199.3,285.6 L197.4,285.3 L195.4,285.5 L196.9,286.8 L198.7,287.7 L200.5,288.6 L201.8,290.0 L203.2,291.5 L205.1,292.0 L206.3,293.6 M206.6,302.9 L204.6,303.1 L202.8,304.0 L201.5,302.5 L200.7,300.6 L199.3,299.2 L197.4,299.8 L196.1,301.2 L194.3,302.3 L196.2,301.6 L198.2,301.6 M198.6,314.8 L199.5,313.0 L201.2,311.9 L203.1,311.2 L204.4,309.7 L205.8,308.3 L204.1,307.3 L202.2,306.6 L200.4,305.7 L199.2,304.2 L197.7,302.9 M199.2,303.5 L199.4,305.4 L198.6,307.3 L196.9,308.4 L195.4,309.6 L195.9,307.7 L196.8,305.9 L198.3,304.6 L199.5,303.0 L198.3,301.4 L196.5,300.6" fill="none" stroke="#e8862a" stroke-width="0.35" opacity="0.9"/>
<path d="M184.9,261.2 L187.3,260.3 L187.7,261.1 L187.1,262.8 L188.0,263.2 L189.2,263.5 L189.0,264.8 L191.0,264.2 L190.8,265.6 L192.3,265.5 L192.9,266.2 L192.7,266.2 L192.7,267.2 L190.0,269.1 L190.5,269.9 L190.9,270.7 L193.2,270.9 L192.2,272.2 L194.4,272.4 L194.0,273.5 L193.4,274.6 L195.7,274.8 L194.0,276.3 L193.8,277.4 L197.1,277.2 L197.8,277.9 L195.6,279.6 L195.7,280.5 L195.7,281.5 L197.4,281.9 L195.8,283.4 M165.8,243.6 L167.1,245.8 L170.5,244.5 L172.4,245.9 L175.3,245.4 L176.5,248.0 L178.1,249.8 L178.9,253.0 L181.4,252.0 L183.3,253.4 L186.2,253.9 L187.4,255.9 L189.8,256.8 L191.0,258.8 L191.2,261.6 L192.6,263.4 L195.3,264.2 L195.6,266.7 L197.1,268.6 L196.4,271.3 L197.3,273.4 L199.4,275.1 L200.2,277.3 L201.9,279.1 L201.9,281.5 L199.7,284.7 L202.7,286.2 L201.9,288.6 L202.5,290.8 L201.6,293.2 L203.9,295.3 M194.2,257.3 L195.4,257.2 L195.8,257.8 L194.5,259.8 L196.0,259.4 L196.6,259.9 L197.5,260.0 L197.4,261.0 L197.0,262.3 L197.9,262.4 L200.1,263.9 L198.8,265.1 L199.6,265.6 L199.2,266.5 L199.9,267.0 L202.2,266.9 L201.7,267.8 L200.4,269.0 L202.5,269.0 L201.9,270.0 L198.0,272.1 L199.6,272.2 L201.0,272.5 L200.3,273.5 L203.2,273.2 L200.6,274.9 L199.8,275.9 L200.8,276.3 L202.6,276.4 L200.2,278.0 L201.9,278.1 M189.0,253.6 L188.2,256.9 L191.0,257.1 L193.7,257.3 L193.9,259.8 L195.1,261.3 L195.2,263.9 L196.3,265.9 L195.6,268.2 L199.8,268.8 L200.2,270.8 L197.7,273.8 L201.9,274.4 L201.1,276.7 L200.4,279.1 L203.9,279.9 L203.8,282.0 L204.9,283.8 L203.7,286.7 L203.9,288.6 L204.5,290.6 L203.7,292.6 L205.5,294.5 L205.1,296.5 L204.2,298.5 L202.4,300.6 L204.9,302.4 L204.9,304.4 L203.0,306.5 L203.8,308.8 L201.9,310.3 M200.5,277.5 L199.2,278.7 L203.5,278.0 L200.0,279.9 L203.5,279.4 L200.1,281.4 L201.5,281.7 L202.5,282.0 L201.8,283.0 L201.4,283.9 L202.3,284.3 L201.5,285.2 L200.2,286.0 L205.0,286.5 L202.3,287.3 L201.3,288.0 L201.0,288.8 L202.8,289.4 L199.3,290.3 L199.6,291.0 L199.8,291.7 L202.4,292.2 L201.8,293.0 L201.1,293.7 L198.7,294.5 L197.0,295.3 L200.9,295.8 L200.9,296.5 L200.2,297.3 L200.8,298.0 L201.1,298.7 M194.2,263.5 L194.1,265.0 L194.2,265.8 L195.0,266.7 L196.0,267.5 L196.1,268.6 L197.8,269.2 L197.0,270.6 L201.2,270.3 L197.5,272.7 L201.0,272.7 L200.4,274.0 L201.8,274.7 L200.3,276.3 L201.2,277.2 L203.5,277.5 L203.8,278.6 L203.4,279.9 L203.5,281.0 L203.6,282.1 L204.1,283.1 L204.9,284.0 L204.7,285.9 L205.8,287.0 L206.9,288.0 L206.8,289.1 L206.8,290.2 L208.4,291.2 L208.2,292.3 L208.4,293.4 L207.2,294.5 M191.1,250.5 L193.3,250.7 L193.3,252.8 L192.2,255.9 L195.1,255.4 L196.1,256.6 L197.1,257.9 L198.3,259.0 L199.6,259.9 L202.4,263.2 L201.2,265.3 L203.1,266.3 L204.4,267.5 L202.1,270.0 L203.6,271.2 L203.2,273.0 L203.9,274.4 L203.8,276.1 L205.1,277.4 L207.2,278.3 L207.5,279.8 L205.6,282.2 L206.4,284.9 L205.7,286.5 L207.9,288.0 L207.2,289.6 L206.5,291.2 L205.9,292.9 L206.4,294.4 L207.0,296.0 L206.9,297.6 M169.6,232.6 L169.3,235.0 L170.6,234.6 L172.3,233.7 L172.7,234.8 L172.7,236.5 L174.2,235.8 L175.1,236.3 L174.7,238.7 L176.5,237.5 L177.8,237.2 L178.3,238.2 L179.3,238.3 L179.3,240.1 L180.7,239.7 L181.8,239.7 L181.3,242.2 L182.7,241.8 L185.1,239.5 L184.2,242.9 L184.8,243.8 L188.8,244.4 L188.5,245.8 L188.4,247.2 L190.4,246.7 L189.7,248.5 L191.4,248.3 L191.1,249.8 L193.2,249.2 L192.5,251.0 L192.2,252.5 M166.7,244.6 L167.8,244.0 L167.4,246.2 L168.8,245.0 L168.3,247.3 L169.5,246.6 L170.1,247.0 L169.9,248.7 L170.9,248.3 L170.9,249.6 L172.8,247.8 L173.4,248.1 L173.4,249.5 L173.6,250.5 L174.2,251.0 L175.4,250.3 L176.6,249.5 L176.2,251.6 L177.0,251.6 L178.1,251.0 L179.4,250.1 L180.1,250.4 L178.9,253.8 L180.4,252.7 L179.8,252.8 L179.8,253.6 L179.0,255.3 L181.4,254.1 L182.2,254.4 L182.5,255.0 L181.8,256.5 M200.1,276.7 L200.2,278.0 L203.3,278.3 L202.5,280.0 L202.2,281.4 L204.4,282.0 L201.5,284.4 L204.2,285.4 L202.0,286.8 L202.7,288.1 L204.2,289.3 L203.8,290.6 L203.2,291.9 L202.9,293.2 L202.2,294.5 L204.8,295.7 L203.9,297.0 L202.3,298.4 L203.2,299.6 L204.2,300.8 L204.3,302.1 L204.4,303.4 L202.1,304.8 L204.7,306.6 L202.1,307.2 L203.2,308.8 L203.5,310.2 L202.1,311.2 L203.4,312.9 L199.1,312.9 L197.4,313.8 M207.3,289.0 L208.9,289.8 L205.3,290.8 L206.0,291.5 L207.2,292.3 L207.3,293.1 L204.6,294.1 L205.5,294.8 L205.1,295.7 L205.6,296.4 L205.2,297.3 L202.1,298.2 L207.8,298.8 L204.8,299.7 L206.6,300.5 L205.3,301.3 L207.0,302.1 L206.4,302.9 L204.5,303.8 L204.3,304.6 L203.9,305.8 L204.8,306.9 L203.0,307.2 L204.0,308.4 L203.9,309.2 L202.6,309.7 L200.1,309.8 L201.6,311.0 L204.4,312.7 L201.2,312.7 L201.8,313.7 M190.9,245.9 L190.8,248.5 L191.5,250.4 L193.4,251.3 L194.7,252.7 L197.2,253.0 L198.2,254.7 L198.0,257.4 L200.4,257.8 L200.9,259.8 L201.2,264.8 L202.5,266.4 L203.9,267.9 L205.9,269.2 L205.0,271.5 L208.0,272.5 L207.2,274.8 L209.0,276.2 L207.4,278.8 L208.4,280.4 L207.8,282.6 L210.0,286.2 L209.2,288.1 L211.6,289.9 L208.4,292.0 L208.9,293.8 L208.2,295.8 L208.9,297.6 L210.7,299.5 L209.1,301.4 L210.5,303.3 M176.9,255.7 L175.6,256.0 L178.5,256.0 L178.4,258.4 L181.0,258.6 L179.6,262.2 L182.4,262.2 L184.7,262.6 L184.5,265.2 L186.7,265.7 L187.6,267.4 L189.1,268.5 L186.3,268.7 L187.6,270.1 L192.2,270.5 L190.7,272.9 L192.1,274.4 L192.9,276.0 L191.1,278.6 L194.5,279.3 L195.7,280.8 L194.2,283.3 L196.0,284.6 L195.6,286.7 L195.1,286.6 L195.4,288.5 L197.1,290.2 L196.3,292.1 L195.9,293.9 L198.9,295.6 L196.4,297.5 M206.6,289.1 L204.6,290.2 L209.0,291.1 L207.7,292.2 L207.0,293.4 L205.9,294.5 L204.2,295.7 L206.4,296.6 L206.2,297.7 L203.7,298.9 L204.5,300.0 L204.2,301.1 L203.6,302.2 L205.4,303.2 L204.0,304.3 L204.7,306.0 L204.3,307.0 L202.8,307.6 L201.9,308.5 L203.4,310.1 L202.3,310.9 L200.2,311.4 L200.2,312.5 L199.1,313.3 L199.7,314.6 L199.8,315.8 L197.4,316.2 L197.1,317.2 L200.6,319.4 L195.8,319.1 L197.1,320.6 M195.4,264.2 L194.6,265.5 L194.3,266.4 L195.8,266.6 L195.9,267.3 L196.2,268.0 L195.4,269.0 L196.4,269.4 L196.2,270.2 L196.7,270.8 L197.4,271.3 L196.7,272.4 L195.1,273.6 L195.1,274.4 L195.5,275.0 L197.4,275.1 L197.3,275.9 L194.0,277.8 L193.6,278.7 L195.1,279.0 L196.6,279.2 L197.8,279.5 L196.6,280.7 L196.7,281.4 L195.3,282.7 L196.5,283.0 L197.6,283.4 L197.7,284.1 L195.8,285.5 L195.5,286.4 L195.6,287.1 M202.0,275.3 L201.1,276.3 L201.5,276.8 L202.1,277.2 L200.4,278.4 L201.4,278.7 L200.0,279.8 L201.5,279.9 L202.1,280.3 L202.8,280.6 L202.8,281.3 L201.4,282.4 L202.1,282.8 L200.3,284.0 L201.8,284.1 L203.2,284.2 L203.8,285.2 L203.1,285.8 L201.2,286.5 L201.0,287.0 L206.0,287.4 L203.1,288.1 L200.1,288.8 L203.7,289.3 L202.3,289.9 L201.6,290.5 L201.9,291.1 L202.6,291.6 L202.3,292.2 L202.7,292.8 L202.0,293.4 M199.8,268.4 L201.1,269.5 L202.3,270.6 L202.1,272.2 L203.2,273.4 L203.3,274.9 L202.4,276.7 L202.7,278.1 L202.2,279.9 L203.5,280.9 L202.9,282.7 L203.2,284.1 L204.8,285.9 L205.9,287.3 L204.5,288.8 L203.8,290.3 L204.0,291.7 L200.6,293.3 L203.9,294.6 L202.4,296.2 L203.7,297.6 L201.8,299.1 L204.0,300.4 L201.2,302.0 L201.9,303.4 L202.5,304.9 L202.8,306.3 L198.9,306.7 L200.8,308.7 L197.9,309.4 L201.7,312.0 M168.9,233.9 L171.3,235.0 L174.0,235.5 L175.8,237.6 L178.7,237.8 L181.0,239.1 L182.2,242.2 L184.0,244.3 L187.7,246.9 L190.5,248.0 L190.2,251.8 L192.4,253.3 L193.3,255.9 L195.8,257.3 L197.3,259.4 L197.6,262.6 L198.6,266.4 L202.1,267.9 L202.7,270.5 L200.9,273.9 L202.3,276.2 L203.2,278.6 L205.1,280.7 L203.4,284.1 L204.5,287.1 L204.4,289.7 L204.1,292.4 L205.0,294.9 L203.8,297.6 L204.0,300.2 L203.2,302.9 M185.0,258.5 L185.6,259.0 L184.6,260.9 L185.3,261.3 L186.1,261.6 L185.5,263.1 L188.1,261.8 L188.5,262.5 L188.3,263.7 L189.6,263.5 L189.7,264.4 L191.4,264.0 L190.6,265.7 L192.2,265.3 L194.8,264.0 L192.8,266.8 L194.1,266.0 L195.3,266.4 L195.0,267.3 L195.5,267.9 L194.2,269.1 L195.6,269.5 L196.4,270.0 L196.8,270.6 L198.2,271.0 L198.3,271.7 L198.5,272.4 L198.7,273.2 L200.1,273.5 L199.7,274.4 L198.5,275.6 M171.8,244.4 L172.9,248.0 L174.4,250.7 L177.8,250.3 L180.0,251.9 L179.7,254.6 L184.8,253.7 L185.0,257.2 L187.5,258.5 L189.2,260.6 L192.3,261.6 L192.6,264.9 L193.2,266.8 L196.3,268.5 L195.7,271.6 L196.9,274.1 L198.4,276.4 L197.4,279.7 L197.1,282.6 L199.4,284.7 L199.0,286.7 L199.5,289.4 L200.6,292.1 L199.9,294.8 L199.2,297.6 L201.4,300.2 L201.2,302.9 L202.7,305.4 L202.5,308.2 L200.5,310.4 L197.8,312.5 M192.6,266.1 L194.3,266.3 L194.0,268.2 L193.9,270.1 L196.9,270.9 L197.5,272.5 L196.6,274.7 L197.7,276.1 L198.8,277.6 L198.8,279.4 L200.0,280.8 L199.6,282.8 L200.7,284.2 L198.5,285.7 L201.9,287.3 L200.0,289.1 L200.6,290.8 L198.9,292.6 L202.0,294.2 L201.5,296.0 L198.9,297.8 L201.8,299.4 L201.5,301.2 L201.6,302.9 L202.3,304.6 L199.4,305.3 L198.6,306.8 L200.0,309.0 L200.1,310.9 L200.3,312.7 L197.5,313.7 M201.4,275.8 L202.0,277.0 L206.2,277.1 L202.9,279.7 L203.5,280.9 L204.1,282.2 L204.9,283.4 L205.3,285.7 L204.6,287.1 L204.1,288.5 L208.6,289.7 L204.7,291.3 L203.6,292.7 L205.0,294.1 L203.3,295.5 L205.8,296.8 L202.4,298.4 L203.6,299.7 L205.2,301.0 L201.4,302.6 L203.0,303.9 L202.7,305.2 L205.4,307.5 L203.7,308.4 L202.6,309.6 L201.5,310.7 L202.1,312.3 L203.2,314.1 L199.9,314.6 L201.0,316.3 L199.8,317.5 M192.7,258.4 L194.3,259.4 L193.5,262.5 L195.1,263.5 L195.1,265.7 L195.9,267.3 L198.8,268.2 L198.2,270.3 L198.6,272.1 L199.2,273.8 L201.0,275.0 L200.4,277.2 L200.0,279.2 L200.3,281.0 L200.6,282.8 L202.0,284.2 L206.3,285.9 L203.7,287.8 L204.1,289.6 L207.1,291.2 L201.9,293.3 L202.7,295.0 L203.9,296.8 L203.6,298.6 L203.5,300.4 L204.5,302.1 L202.7,304.0 L202.0,305.5 L202.7,307.6 L203.8,309.8 L202.3,311.2 M189.1,263.3 L189.5,263.6 L190.6,263.3 L190.5,264.0 L192.5,263.0 L191.0,264.9 L191.7,265.0 L191.8,265.6 L192.0,266.0 L192.3,266.4 L192.2,267.2 L191.6,266.5 L192.5,266.7 L192.0,267.4 L192.1,267.9 L191.5,268.7 L191.6,269.1 L192.6,269.3 L193.2,269.6 L194.2,269.8 L193.8,270.5 L192.0,271.6 L193.6,271.6 L190.8,273.1 L192.9,272.9 L193.2,273.3 L193.0,273.9 L193.5,274.3 L193.7,274.7 L193.0,275.5 L194.8,275.4" fill="none" stroke="#e8862a" stroke-width="0.35" opacity="1" stroke-linejoin="round"/>
<path d="M188.7,326.6 L190.5,326.3 L190.7,324.5 L191.6,323.0 L191.1,321.2 L190.2,322.7 L190.7,324.5 L189.0,325.2 L187.9,326.6 L187.0,328.2 L187.8,329.7 M190.5,329.4 L188.7,328.9 L187.0,329.5 L185.3,329.9 L183.9,331.1 L182.2,331.7 L184.0,331.3 L185.8,331.7 L187.5,331.9 L188.9,333.0 L187.7,331.7 M186.7,326.0 L187.6,324.5 L186.4,323.1 L184.7,322.8 L183.0,323.5 L181.3,322.8 L182.9,323.6 L184.6,324.2 L185.1,325.9 L185.4,327.7 L185.0,329.5 M183.9,328.1 L185.6,327.4 L187.3,326.8 L188.7,325.6 L190.2,324.7 L192.0,324.4 L193.8,324.1 L195.2,323.0 L194.0,324.3 L192.6,325.4 L190.8,325.4 M194.6,332.6 L193.5,331.1 L192.2,329.9 L192.8,328.2 L193.2,326.5 L191.9,325.3 L191.5,323.5 L192.8,322.2 L191.6,323.6 L191.8,325.4 L193.3,326.3 M187.4,321.4 L189.2,321.7 L190.2,323.2 L191.9,323.9 L193.2,322.7 L192.0,324.0 L190.2,324.4 L190.3,326.2 L191.6,327.4 L192.8,328.8 L192.1,330.4 M181.8,321.4 L183.6,321.1 L185.2,321.8 L186.4,323.2 L188.2,323.5 L189.9,323.1 L191.6,322.5 L190.9,320.8 L189.9,322.3 L189.0,323.9 L188.4,325.6 M191.5,328.4 L191.1,326.6 L191.0,324.8 L191.8,323.2 L193.1,322.0 L192.3,323.6 L192.0,325.3 L191.6,327.1 L191.6,328.9 L192.0,330.7 L193.0,332.1 M192.3,326.1 L193.7,324.9 L195.3,324.2 L194.7,325.8 L194.0,327.5 L193.7,329.3 L193.5,331.1 L192.5,329.6 L193.5,328.1 L194.0,326.4 L193.7,324.6 M194.5,329.5 L193.0,328.6 L192.0,327.1 L192.5,325.4 L192.7,323.6 L194.4,324.1 L192.8,323.3 L191.2,322.6 L189.6,323.5 L188.2,324.7 L187.2,326.1 M193.4,321.4 L191.9,322.4 L190.5,323.6 L189.4,322.1 L188.1,320.9 L188.3,322.7 L188.5,324.5 L188.3,326.3 L189.8,327.4 L191.2,328.4 L192.5,329.7 M195.0,322.7 L193.6,321.6 L192.4,323.0 L190.6,322.9 L188.8,323.0 L187.2,322.2 L187.3,320.4 L188.2,322.0 L188.4,323.7 L188.4,325.5 L188.4,327.3 M187.2,327.5 L185.9,326.3 L185.6,324.5 L186.7,323.1 L186.0,321.4 L184.7,322.7 L184.8,324.5 L184.5,326.2 L183.3,327.6 L181.9,328.8 L181.3,330.5 M192.2,325.6 L190.9,324.4 L191.1,322.6 L191.2,320.8 L190.6,322.5 L191.9,323.8 L192.9,325.3 L193.3,327.0 L193.4,328.8 L191.9,329.9 L191.0,331.4" fill="none" stroke="#e8862a" stroke-width="0.3" opacity="0.9"/>
<path d="M156.8,337.0 L158.5,337.7 L160.1,338.4 L161.9,338.4 L163.7,337.9 L165.5,337.7 L167.0,336.8 L167.3,335.0 L168.2,333.4 L169.3,332.0 L171.1,331.9 M166.0,336.7 L167.8,336.8 L168.9,335.4 L169.2,333.6 L167.8,332.5 L166.0,332.3 L164.7,333.5 L163.0,334.1 L162.1,335.7 L161.7,337.4 L161.5,339.2 M168.3,337.7 L170.0,338.2 L171.5,339.3 L173.1,338.6 L174.3,337.2 L175.3,335.7 L177.0,336.2 L178.6,337.0 L180.4,337.2 L178.6,337.3 L176.9,336.8 M170.2,336.1 L172.0,336.6 L173.4,337.6 L175.0,336.8 L176.7,336.3 L178.3,335.4 L179.7,336.5 L178.0,337.0 L176.2,336.8 L174.4,337.0 L173.2,338.3 M165.8,338.0 L167.5,338.7 L168.7,337.4 L170.3,336.6 L172.0,336.0 L173.2,334.7 L174.4,333.3 L174.4,331.5 L174.4,329.7 L172.9,330.6 L171.2,331.3 M174.4,339.8 L174.2,338.0 L173.6,336.3 L174.6,334.8 L174.8,333.0 L175.8,331.6 L175.0,333.2 L174.0,334.7 L172.4,335.6 L171.9,337.3 L172.5,339.0 M165.0,338.9 L166.6,339.7 L168.0,340.8 L168.9,342.4 L170.0,341.0 L169.3,339.3 L168.1,337.9 L166.3,337.7 L164.6,337.1 L163.1,336.2 L163.5,334.4 M160.8,338.0 L162.6,337.6 L162.3,335.8 L161.0,334.5 L159.8,333.2 L159.1,331.6 L160.5,332.6 L161.0,334.3 L161.8,336.0 L161.8,337.8 L161.7,339.6 M160.7,333.6 L162.3,334.2 L163.9,335.2 L165.5,334.4 L166.9,333.2 L167.0,331.4 L167.8,329.8 L167.1,331.5 L167.9,333.0 L169.6,333.6 L171.4,333.4 M169.3,337.2 L170.9,336.3 L172.5,335.5 L173.1,333.8 L174.5,332.7 L175.4,331.1 L173.6,331.5 L172.0,332.3 L170.4,333.0 L168.6,333.2 L166.8,333.7" fill="none" stroke="#e8862a" stroke-width="0.3" opacity="0.9"/>
<path d="M130.8,240.6 L131.7,241.7 L132.9,241.9 L133.8,242.8 L135.0,243.1 L135.9,244.0 L136.7,244.9 L138.0,245.0 L138.9,245.9 L140.2,246.0 L141.0,247.0 L141.9,248.0 L142.8,248.8 L144.1,248.8 L145.0,249.8 L146.1,250.1 L146.9,251.3 L147.9,251.9 L148.8,252.6 L149.9,253.0 L151.1,253.2 L151.9,254.3 L153.0,254.6 L153.9,255.6 L154.7,256.6 L155.5,257.8 L156.8,257.8 L157.8,258.4 L158.6,259.5 L160.0,259.2 L160.1,261.7 M139.3,234.6 L140.2,235.7 L141.6,235.8 L142.5,237.1 L143.9,237.0 L145.1,237.6 L146.0,238.8 L147.3,239.0 L148.2,240.2 L149.6,240.2 L150.5,241.3 L151.9,241.4 L152.9,242.5 L153.9,244.3 L155.6,243.6 L156.8,244.3 L158.0,244.8 L158.8,246.1 L159.5,247.7 L161.0,247.5 L161.8,248.8 L163.1,249.0 L164.3,249.5 L164.9,251.4 L166.2,251.7 L167.9,251.1 L168.8,252.2 L169.6,253.5 L170.6,254.3 L171.9,254.7 L172.9,255.6 M153.1,255.9 L153.9,255.3 L154.0,256.2 L154.4,256.4 L154.9,256.2 L155.2,256.7 L156.0,255.9 L155.9,257.3 L156.8,256.3 L157.2,256.6 L157.5,256.9 L157.7,257.6 L158.3,257.4 L158.7,257.5 L159.4,257.1 L159.4,258.1 L159.8,258.3 L160.7,257.4 L160.9,257.9 L161.1,258.5 L161.5,258.7 L162.4,257.8 L162.7,258.2 L162.9,258.8 L163.5,258.7 L163.7,259.1 L164.4,258.7 L164.8,258.9 L165.0,259.6 L165.4,259.7 L166.1,259.2 M125.9,243.7 L125.9,244.7 L126.4,244.8 L126.9,244.8 L127.1,245.5 L127.8,245.0 L127.8,246.1 L128.4,245.8 L128.5,246.8 L129.3,246.1 L129.6,246.5 L129.9,246.9 L130.1,247.6 L130.4,248.0 L131.2,247.4 L131.6,247.5 L131.7,248.4 L132.0,248.9 L132.5,248.9 L133.1,248.7 L133.2,249.6 L133.8,249.3 L134.1,249.6 L134.4,250.1 L135.1,249.8 L135.8,249.3 L135.7,250.7 L136.0,251.1 L136.4,251.3 L136.8,251.6 L137.2,251.6 M142.0,252.7 L142.9,252.4 L143.6,252.8 L144.3,253.0 L145.0,253.3 L145.7,253.5 L146.4,253.7 L147.5,253.2 L147.7,254.6 L148.3,254.4 L149.0,254.8 L149.7,255.0 L150.1,256.0 L150.9,256.0 L151.5,256.6 L152.2,256.9 L152.8,257.3 L153.5,257.6 L154.0,258.2 L154.7,258.6 L155.4,258.9 L156.2,259.0 L156.7,259.7 L157.7,259.3 L158.5,259.4 L158.9,260.1 L160.0,259.8 L160.4,260.6 L160.9,261.3 L161.3,262.2 L162.2,262.1" fill="none" stroke="#e8862a" stroke-width="0.3" opacity="1" stroke-linejoin="round"/>
<path d="M125.1,244.7 L123.9,246.1 L123.8,247.6 L124.3,249.0 L123.8,250.5 L122.9,251.9 L123.8,253.4 L123.1,254.8 L123.2,256.3 L123.9,257.7 L124.8,259.2 L123.0,260.6 L122.8,262.1 L124.4,263.5 L123.5,265.0 L123.7,266.4 L123.2,267.9 L123.3,269.3 L122.7,270.8 L123.5,272.2 L122.2,273.7 L123.9,275.1 L122.9,276.6 L121.7,278.0 L123.0,279.5 L122.6,280.9 L123.1,282.3 L121.2,283.8 L122.3,285.2 L122.9,286.7 L123.6,288.1 M123.4,260.2 L121.7,261.2 L122.5,262.3 L122.0,263.3 L122.4,264.4 L123.2,265.4 L122.1,266.5 L122.8,267.5 L122.3,268.6 L121.6,269.7 L122.3,270.7 L122.0,271.8 L122.4,272.8 L122.2,273.9 L121.3,274.9 L121.1,276.0 L122.4,277.0 L120.9,278.1 L121.3,279.1 L121.5,280.2 L121.7,281.2 L120.9,282.3 L121.4,283.4 L121.4,284.4 L120.9,285.5 L120.6,286.5 L121.6,287.6 L120.5,288.6 L120.7,289.7 L120.2,290.8 L120.1,291.8 M120.9,244.3 L120.9,246.0 L120.7,247.8 L120.3,249.5 L120.7,251.3 L120.0,253.0 L121.5,254.8 L120.5,256.5 L121.5,258.3 L121.3,260.1 L121.4,261.8 L120.6,263.6 L120.7,265.3 L122.3,267.1 L121.3,268.8 L121.3,270.6 L121.5,272.3 L121.6,274.1 L122.5,275.9 L121.4,277.6 L121.4,279.4 L122.4,281.1 L121.9,282.9 L121.9,284.6 L122.1,286.4 L122.1,288.1 L123.0,289.9 L122.9,291.6 L122.5,293.4 L122.5,295.1 L122.4,296.9 M123.5,267.1 L122.6,268.7 L123.3,270.3 L122.8,271.9 L123.7,273.5 L123.4,275.1 L123.6,276.7 L123.6,278.3 L124.0,279.9 L124.4,281.5 L123.5,283.2 L124.1,284.8 L124.3,286.4 L124.5,288.0 L125.1,289.6 L124.7,291.1 L124.2,292.7 L124.8,294.3 L125.5,295.9 L125.1,297.5 L125.8,299.1 L124.6,300.7 L126.2,302.3 L125.1,303.9 L124.4,305.5 L125.2,307.1 L125.2,308.7 L126.2,310.3 L124.6,311.9 L125.9,313.5 L125.5,315.1 M114.0,272.7 L114.4,274.1 L114.1,275.5 L114.4,276.9 L114.7,278.3 L114.3,279.7 L114.4,281.1 L115.2,282.5 L114.6,283.9 L115.5,285.3 L115.4,286.7 L114.9,288.1 L114.8,289.5 L115.3,291.2 L114.4,292.6 L116.2,293.9 L115.7,295.4 L116.2,296.8 L117.1,298.1 L116.1,299.6 L116.4,301.0 L116.5,302.4 L116.8,303.8 L116.8,305.2 L117.2,306.6 L118.1,307.9 L117.3,309.4 L117.6,310.8 L118.0,312.1 L118.8,313.5 L118.0,315.0 M123.4,243.2 L122.9,244.4 L122.5,245.6 L122.7,246.8 L122.5,248.0 L123.2,249.2 L122.3,250.4 L122.2,251.6 L122.1,252.8 L122.1,254.0 L121.7,255.2 L122.0,256.4 L121.6,257.7 L122.0,258.9 L120.1,260.1 L121.5,261.3 L121.5,262.5 L121.1,263.7 L120.9,264.9 L121.0,266.1 L121.6,267.3 L119.4,268.5 L119.6,269.7 L120.1,270.9 L119.5,272.1 L120.2,273.3 L120.3,274.5 L119.2,275.7 L118.9,276.9 L119.4,278.1 L118.9,279.4 M129.3,238.7 L129.1,240.1 L130.5,241.5 L130.1,242.9 L130.1,244.2 L129.4,245.6 L129.8,247.0 L130.4,248.4 L129.1,249.8 L129.6,251.2 L129.0,252.6 L128.5,254.0 L130.4,255.4 L130.2,256.8 L129.0,258.2 L128.9,259.6 L129.4,261.0 L129.4,262.4 L129.3,263.8 L129.3,265.2 L130.3,266.6 L129.3,268.0 L129.2,269.4 L129.9,270.7 L130.1,272.1 L129.9,273.5 L130.0,274.9 L129.5,276.3 L129.3,277.7 L129.7,279.1 L129.9,280.5 M126.4,255.7 L125.8,256.4 L124.2,257.2 L126.4,258.0 L126.3,258.8 L126.6,259.5 L126.2,260.3 L126.3,261.1 L125.7,261.8 L127.2,262.6 L125.8,263.4 L126.0,264.1 L126.6,264.9 L126.7,265.7 L126.3,266.4 L126.2,267.2 L126.5,268.0 L126.6,268.8 L126.5,269.5 L127.1,270.3 L126.5,271.1 L126.3,271.8 L126.6,272.6 L127.3,273.4 L126.7,274.1 L126.8,274.9 L126.6,275.7 L127.0,276.4 L126.5,277.2 L126.4,278.0 L126.5,278.8 M123.6,237.5 L122.8,239.9 L122.1,242.3 L123.1,244.7 L122.1,247.1 L123.1,249.5 L122.2,252.0 L121.3,254.4 L122.1,256.8 L122.6,259.2 L121.8,261.6 L121.9,264.0 L121.3,266.4 L121.9,268.8 L122.4,271.3 L121.7,273.7 L121.0,276.1 L120.7,278.5 L121.0,280.9 L121.0,283.3 L120.6,285.7 L120.9,288.1 L121.0,290.6 L120.6,293.0 L120.2,295.4 L120.9,297.8 L120.4,300.3 L120.9,302.7 L121.0,305.1 L120.5,307.5 L121.2,309.9 M122.9,268.3 L122.4,270.5 L122.8,272.7 L123.6,274.9 L124.2,277.2 L122.9,279.4 L123.5,281.6 L122.8,283.9 L123.6,286.1 L124.2,288.3 L123.9,290.5 L124.5,292.7 L124.7,294.9 L123.8,297.2 L124.6,299.4 L124.1,301.6 L124.9,303.8 L124.9,306.0 L125.3,308.3 L125.4,310.5 L125.7,312.7 L124.8,315.0 L125.7,317.2 L126.8,319.4 L125.2,321.6 L125.7,323.8 L125.9,326.0 L126.7,328.2 L127.0,330.4 L127.4,332.6 L127.3,334.9 M120.3,292.6 L121.2,293.2 L121.3,293.8 L121.3,294.5 L120.8,295.2 L120.7,295.8 L120.7,296.5 L121.0,297.1 L121.6,297.7 L121.1,298.4 L121.1,299.1 L121.5,299.7 L121.0,300.4 L120.6,301.0 L121.4,301.6 L121.7,302.3 L121.2,303.0 L121.1,303.6 L121.6,304.2 L121.0,304.9 L121.3,305.6 L121.7,306.2 L121.9,306.8 L120.7,307.5 L121.4,308.2 L121.3,308.8 L120.4,309.5 L121.7,310.1 L121.7,310.7 L121.2,311.4 L121.9,312.0 M123.2,277.6 L121.5,278.6 L123.1,279.7 L121.7,280.8 L121.3,281.9 L121.3,283.0 L120.6,284.1 L121.7,285.1 L122.3,286.2 L121.8,287.3 L122.2,288.4 L121.2,289.5 L121.5,290.6 L121.2,291.7 L121.5,292.8 L121.3,293.8 L122.2,294.9 L121.7,296.0 L121.3,297.1 L122.2,298.2 L121.9,299.3 L121.4,300.4 L121.9,301.4 L122.2,302.5 L121.6,303.6 L121.9,304.7 L121.4,305.8 L122.1,306.8 L121.2,308.0 L121.5,309.0 L121.2,310.1 M127.8,272.0 L127.4,272.6 L127.0,273.1 L127.1,273.7 L127.8,274.2 L127.8,274.8 L127.6,275.4 L128.3,275.9 L127.5,276.5 L127.6,277.0 L128.4,277.6 L127.8,278.1 L128.1,278.7 L127.9,279.3 L128.3,279.8 L127.2,280.4 L128.4,280.9 L127.5,281.5 L127.9,282.0 L127.3,282.6 L128.0,283.1 L128.0,283.7 L128.1,284.3 L129.0,284.8 L127.0,285.4 L128.3,285.9 L128.4,286.5 L128.8,287.0 L128.4,287.6 L127.5,288.1 L128.7,288.7 M122.4,309.9 L122.6,310.6 L122.0,311.3 L122.0,312.0 L121.8,312.7 L121.9,313.3 L122.8,314.0 L122.5,314.7 L121.7,315.4 L122.2,316.0 L122.7,316.7 L122.6,317.4 L122.7,318.1 L121.3,318.8 L122.5,319.4 L122.2,320.1 L122.4,320.8 L121.3,321.5 L122.2,322.2 L121.9,322.9 L122.1,323.5 L121.1,324.3 L121.2,324.9 L121.3,325.6 L120.2,326.4 L121.2,327.0 L120.3,327.7 L121.5,328.3 L121.0,329.0 L121.6,329.7 L121.4,330.4 M118.0,246.5 L118.1,247.2 L118.9,248.0 L118.6,248.7 L118.7,249.4 L119.0,250.1 L118.2,250.9 L119.2,251.6 L118.6,252.3 L117.6,253.0 L118.2,253.8 L118.5,254.5 L117.3,255.2 L118.3,255.9 L119.5,256.7 L118.7,257.4 L118.3,258.1 L118.6,258.8 L118.5,259.6 L118.6,260.3 L118.8,261.0 L119.4,261.7 L119.4,262.5 L117.9,263.2 L118.5,263.9 L119.2,264.6 L118.6,265.4 L118.3,266.1 L118.0,266.8 L118.3,267.5 L118.9,268.3 M121.8,267.4 L121.4,268.7 L121.3,270.0 L121.2,271.2 L121.1,272.5 L121.6,273.8 L120.8,275.1 L120.9,276.3 L122.7,277.6 L122.2,278.9 L121.3,280.1 L120.9,281.4 L121.6,282.7 L122.2,284.0 L122.3,285.2 L122.1,286.5 L122.1,287.8 L123.0,289.1 L121.4,290.4 L122.3,291.6 L122.9,292.9 L122.6,294.1 L122.7,295.4 L123.2,296.7 L123.0,297.9 L121.9,299.3 L122.5,300.5 L123.9,301.7 L124.5,303.0 L123.6,304.3 L123.8,305.6 M121.5,294.1 L121.6,295.3 L121.2,296.5 L121.0,297.7 L121.0,298.9 L120.7,300.0 L120.9,301.2 L120.9,302.4 L120.9,303.6 L122.6,304.7 L121.2,305.9 L121.8,307.0 L120.6,308.3 L119.9,309.5 L121.5,310.6 L120.1,311.8 L120.7,312.9 L120.3,314.1 L121.0,315.3 L120.7,316.5 L120.6,317.6 L119.8,318.8 L120.2,320.0 L121.9,321.1 L120.8,322.4 L120.9,323.5 L121.2,324.7 L120.4,325.9 L121.4,327.0 L121.1,328.2 L121.6,329.4 M123.2,239.0 L123.4,240.0 L123.4,241.1 L123.8,242.1 L123.5,243.1 L123.8,244.1 L122.8,245.2 L123.7,246.2 L124.1,247.2 L124.6,248.2 L124.5,249.2 L123.9,250.3 L124.2,251.3 L124.9,252.3 L124.6,253.3 L124.8,254.4 L124.8,255.4 L125.3,256.4 L125.3,257.4 L124.7,258.5 L124.5,259.5 L124.2,260.5 L125.7,261.5 L125.8,262.6 L125.8,263.6 L125.5,264.6 L126.1,265.6 L125.8,266.7 L126.2,267.7 L126.6,268.7 L126.2,269.7 M124.6,272.4 L123.9,273.6 L124.5,274.8 L123.9,276.0 L125.0,277.2 L125.1,278.4 L124.2,279.6 L123.8,280.8 L125.2,282.0 L124.7,283.2 L124.9,284.4 L125.1,285.6 L124.3,286.8 L124.8,288.0 L125.6,289.3 L125.0,290.4 L124.4,291.6 L125.5,292.7 L125.5,293.9 L125.7,295.1 L125.4,296.4 L125.8,297.5 L125.2,298.8 L126.1,299.9 L126.6,301.1 L125.7,302.4 L127.6,303.5 L126.5,304.7 L126.1,306.0 L126.2,307.2 L126.7,308.3 M121.9,266.5 L123.8,267.3 L123.3,268.1 L123.5,268.9 L123.2,269.8 L122.6,270.6 L123.5,271.4 L123.5,272.2 L123.1,273.0 L122.2,273.9 L123.4,274.7 L122.3,275.5 L122.6,276.3 L124.5,277.1 L123.5,277.9 L123.5,278.8 L122.8,279.6 L122.3,280.4 L122.8,281.2 L122.8,282.0 L121.8,282.9 L122.6,283.7 L121.7,284.5 L123.1,285.3 L121.8,286.1 L122.8,287.0 L123.7,287.8 L122.9,288.6 L122.7,289.4 L122.5,290.2 L122.0,291.0 M120.4,269.0 L120.9,270.7 L121.2,272.5 L120.8,274.3 L120.9,276.0 L121.1,277.8 L120.7,279.5 L121.0,281.3 L120.3,283.0 L120.9,284.8 L120.3,286.5 L120.3,288.3 L120.4,290.1 L120.2,291.9 L121.0,293.6 L119.3,295.4 L120.9,297.1 L120.2,298.9 L120.5,300.6 L120.8,302.4 L119.7,304.2 L120.1,305.9 L120.8,307.6 L120.4,309.4 L120.3,311.2 L119.9,312.9 L120.2,314.7 L120.8,316.4 L120.8,318.2 L121.3,319.9 L120.6,321.7 M119.1,245.5 L120.1,247.9 L118.9,250.3 L118.3,252.8 L119.3,255.2 L120.1,257.6 L120.1,260.1 L119.5,262.5 L119.4,265.0 L119.0,267.4 L120.9,269.8 L118.9,272.3 L119.7,274.7 L119.8,277.1 L119.7,279.6 L120.1,282.0 L120.1,284.4 L119.5,286.9 L120.8,289.3 L120.2,291.8 L120.0,294.3 L121.2,296.7 L120.5,299.1 L119.8,301.6 L120.5,304.0 L120.5,306.4 L120.6,308.9 L120.9,311.3 L121.0,313.7 L121.7,316.2 L121.5,318.6 M116.2,289.2 L116.4,290.0 L116.8,290.9 L116.2,291.7 L116.9,292.4 L116.3,293.1 L115.8,293.9 L118.0,294.6 L117.0,295.4 L118.0,296.1 L117.2,296.8 L117.1,297.6 L117.3,298.3 L116.9,299.1 L117.6,299.8 L118.6,300.5 L117.1,301.3 L118.4,302.0 L118.2,302.8 L118.1,303.5 L118.8,304.2 L118.4,305.0 L117.9,305.8 L119.5,306.4 L119.7,307.2 L119.2,307.9 L119.2,308.7 L119.8,309.4 L120.5,310.1 L119.0,310.9 L119.4,311.7 M125.9,293.1 L126.0,293.9 L125.6,294.6 L126.7,295.4 L126.3,296.1 L125.3,296.9 L124.8,297.7 L125.4,298.4 L125.8,299.2 L126.3,299.9 L125.9,300.7 L125.8,301.5 L125.4,302.3 L125.8,303.0 L124.4,303.8 L124.9,304.5 L126.6,305.3 L126.1,306.0 L125.5,306.8 L125.0,307.6 L125.3,308.3 L126.8,309.1 L126.2,309.8 L124.7,310.6 L125.1,311.4 L124.1,312.2 L125.0,312.9 L125.1,313.7 L124.6,314.5 L125.5,315.2 L125.5,315.9 M124.1,254.6 L124.5,255.4 L124.2,256.1 L124.9,256.9 L125.3,257.6 L124.4,258.4 L124.2,259.1 L124.1,259.9 L124.8,260.6 L124.9,261.4 L124.8,262.1 L124.5,262.9 L124.6,263.6 L124.7,264.4 L124.4,265.2 L124.7,265.9 L124.4,266.7 L124.8,267.4 L125.3,268.2 L124.6,268.9 L123.5,269.7 L124.8,270.4 L123.9,271.2 L123.7,271.9 L124.6,272.7 L124.2,273.5 L125.5,274.2 L124.0,275.0 L123.5,275.7 L124.2,276.5 L125.2,277.2 M122.4,247.3 L122.6,249.8 L122.9,252.4 L122.3,255.0 L122.6,257.6 L122.6,260.2 L123.0,262.7 L122.6,265.3 L123.1,267.9 L122.8,270.5 L123.1,273.0 L123.4,275.6 L123.7,278.2 L124.2,280.8 L123.9,283.3 L123.1,285.9 L121.9,288.5 L124.3,291.0 L124.1,293.6 L123.8,296.2 L122.2,298.8 L124.2,301.3 L124.8,303.9 L124.2,306.5 L123.6,309.1 L126.1,311.5 L125.4,314.1 L124.4,316.8 L125.7,319.3 L125.4,321.8 L125.8,324.4 M118.2,243.2 L117.6,243.8 L118.5,244.5 L119.5,245.1 L119.6,245.7 L118.1,246.3 L118.8,247.0 L118.9,247.6 L119.6,248.2 L119.3,248.8 L119.6,249.5 L120.6,250.1 L119.8,250.7 L120.3,251.3 L120.4,252.0 L120.3,252.6 L120.8,253.2 L120.5,253.8 L119.9,254.5 L119.8,255.1 L120.3,255.7 L121.6,256.3 L120.6,257.0 L120.8,257.6 L121.1,258.2 L122.2,258.8 L122.2,259.5 L122.3,260.1 L121.9,260.7 L121.6,261.4 L122.2,262.0 M119.5,269.6 L120.3,271.0 L120.3,272.4 L121.4,273.7 L120.6,275.1 L121.2,276.4 L121.5,277.8 L121.8,279.1 L122.2,280.5 L120.5,281.8 L121.0,283.2 L121.0,284.5 L120.5,285.9 L121.6,287.2 L120.8,288.6 L121.7,289.9 L121.9,291.3 L122.3,292.6 L122.4,293.9 L122.3,295.3 L121.7,296.7 L122.8,298.0 L123.0,299.3 L122.9,300.7 L123.2,302.0 L122.2,303.4 L123.0,304.7 L122.4,306.1 L124.2,307.4 L123.0,308.8 L124.0,310.1 M123.7,291.6 L124.4,293.0 L124.2,294.4 L123.9,295.9 L125.4,297.2 L124.2,298.7 L124.1,300.1 L125.2,301.5 L124.4,302.9 L124.7,304.3 L124.7,305.8 L124.7,307.2 L125.0,308.6 L126.0,310.0 L125.7,311.4 L125.5,312.8 L124.7,314.3 L126.2,315.6 L126.0,317.0 L125.9,318.5 L126.2,319.9 L126.6,321.2 L126.6,322.6 L126.0,324.1 L126.5,325.5 L126.3,326.9 L127.0,328.3 L127.3,329.7 L127.7,331.1 L126.7,332.6 L127.4,333.9 M121.6,301.9 L122.8,303.2 L121.7,304.5 L122.7,305.7 L122.7,307.0 L122.0,308.3 L122.1,309.5 L121.9,310.8 L123.7,312.0 L122.4,313.4 L123.6,314.6 L123.2,315.9 L123.1,317.1 L123.2,318.4 L122.1,319.7 L123.2,321.0 L122.6,322.3 L123.3,323.5 L123.3,324.8 L123.1,326.0 L123.2,327.3 L123.3,328.6 L124.4,329.8 L123.4,331.1 L123.6,332.4 L123.5,333.7 L123.9,334.9 L123.8,336.2 L124.7,337.4 L123.6,338.7 L124.8,340.0" fill="none" stroke="#e8862a" stroke-width="0.4" opacity="1" stroke-linejoin="round"/>
<path d="M117.7,243.3 L118.1,245.1 L118.4,246.9 L117.6,248.7 L118.2,250.5 L117.7,252.3 L116.4,254.0 L116.8,255.8 L117.3,257.6 L117.0,259.4 L117.1,261.2 L116.7,263.0 L117.3,264.8 L116.1,266.6 L116.3,268.4 L116.5,270.3 L116.4,272.1 L114.8,273.9 L116.2,275.7 L116.2,277.5 L116.2,279.3 L116.0,281.1 L115.1,282.9 L115.3,284.7 L115.4,286.5 L115.4,288.3 L116.0,290.1 L116.6,291.8 L114.6,293.6 L114.9,295.4 L115.1,297.2 M118.6,298.5 L118.4,299.0 L118.6,299.4 L118.1,299.9 L118.5,300.4 L118.8,300.8 L118.3,301.3 L118.6,301.8 L118.9,302.3 L118.9,302.7 L118.9,303.2 L118.8,303.7 L118.9,304.1 L118.2,304.6 L117.3,305.2 L118.8,305.6 L118.2,306.1 L119.7,306.5 L120.3,306.9 L119.0,307.4 L118.9,307.9 L119.2,308.4 L119.5,308.8 L119.2,309.3 L119.1,309.8 L118.8,310.3 L119.0,310.7 L119.5,311.2 L119.0,311.7 L118.1,312.2 L119.3,312.6 M118.4,270.4 L119.2,271.0 L120.0,271.6 L119.6,272.1 L119.5,272.7 L119.5,273.3 L119.2,273.9 L119.5,274.4 L120.4,275.0 L119.7,275.6 L119.1,276.2 L119.8,276.7 L119.2,277.3 L118.3,277.9 L118.8,278.5 L119.2,279.0 L118.7,279.6 L118.2,280.2 L119.5,280.8 L119.2,281.4 L118.9,281.9 L118.7,282.5 L118.5,283.1 L118.6,283.7 L118.2,284.2 L118.2,284.8 L118.7,285.4 L118.4,286.0 L118.6,286.5 L117.8,287.1 L117.8,287.7 M117.1,279.9 L117.7,281.0 L116.8,282.2 L116.5,283.3 L116.9,284.4 L116.8,285.5 L117.1,286.6 L117.1,287.7 L116.9,288.8 L116.7,289.9 L116.5,291.0 L117.6,292.1 L117.1,293.2 L117.2,294.3 L117.5,295.5 L117.6,296.6 L118.4,297.7 L117.3,298.8 L118.3,299.9 L118.3,301.0 L118.5,302.1 L118.0,303.3 L118.8,304.3 L118.2,305.5 L118.3,306.6 L118.6,307.7 L119.0,308.8 L118.6,309.9 L118.4,311.0 L119.4,312.1 L119.8,313.2 M121.4,243.1 L119.5,244.6 L120.7,246.1 L120.5,247.5 L121.3,249.0 L121.2,250.5 L120.8,252.0 L120.2,253.4 L119.9,254.9 L121.2,256.4 L120.2,257.8 L119.6,259.3 L120.5,260.8 L119.9,262.2 L120.2,263.7 L120.8,265.2 L119.9,266.6 L120.7,268.1 L120.2,269.6 L120.6,271.0 L120.6,272.5 L120.5,274.0 L119.9,275.4 L121.5,276.9 L121.3,278.4 L120.7,279.8 L120.3,281.3 L121.0,282.8 L121.0,284.2 L120.7,285.7 L120.3,287.2 M119.3,293.5 L118.7,294.0 L118.9,294.4 L119.1,294.9 L120.0,295.3 L120.3,295.7 L119.5,296.2 L119.8,296.6 L119.7,297.1 L120.8,297.5 L121.7,298.0 L119.8,298.4 L120.0,298.9 L120.7,299.3 L120.7,299.8 L120.5,300.1 L120.5,300.6 L121.1,301.0 L121.4,301.4 L121.8,301.8 L120.9,302.3 L121.5,302.8 L123.3,303.1 L121.6,303.6 L122.2,304.1 L122.7,304.5 L122.4,304.9 L122.9,305.4 L122.7,305.8 L122.8,306.3 L122.4,306.7 M119.3,292.6 L118.7,293.6 L119.2,294.5 L120.3,295.4 L119.1,296.3 L119.8,297.2 L119.8,298.1 L120.4,299.0 L121.3,299.9 L119.5,300.8 L121.1,301.7 L120.5,302.6 L121.6,303.5 L121.6,304.4 L122.2,305.3 L121.0,306.2 L121.6,307.1 L122.1,308.0 L122.1,308.9 L122.3,309.8 L121.6,310.8 L122.1,311.7 L122.1,312.6 L122.5,313.5 L122.1,314.4 L124.1,315.2 L123.0,316.2 L123.0,317.1 L123.8,318.0 L123.2,318.9 L123.2,319.8 M116.6,261.7 L116.6,262.7 L116.6,263.7 L116.9,264.7 L116.9,265.7 L116.7,266.7 L116.5,267.7 L116.2,268.7 L117.1,269.7 L116.4,270.8 L115.3,271.8 L116.1,272.8 L115.8,273.8 L116.4,274.8 L116.9,275.8 L116.0,276.8 L116.1,277.8 L115.6,278.8 L114.9,279.8 L115.7,280.7 L116.2,281.7 L115.2,282.7 L115.7,283.7 L115.5,284.7 L114.8,285.7 L115.0,286.7 L116.1,287.7 L115.5,288.7 L116.4,289.7 L115.3,290.7 L115.9,291.7 M118.0,275.6 L119.0,276.3 L119.7,276.9 L118.7,277.6 L119.5,278.3 L119.3,278.9 L118.6,279.6 L119.0,280.3 L119.0,280.9 L118.2,281.6 L118.4,282.3 L119.4,282.9 L119.0,283.6 L119.7,284.3 L118.8,284.9 L118.8,285.6 L119.8,286.2 L119.5,286.9 L119.8,287.6 L118.7,288.2 L119.3,288.9 L118.7,289.6 L118.9,290.2 L118.7,290.9 L119.4,291.6 L119.3,292.2 L119.1,292.9 L119.2,293.6 L119.2,294.2 L119.7,294.9 L118.8,295.6 M121.0,270.3 L121.3,271.4 L121.4,272.6 L121.2,273.8 L121.4,275.0 L120.8,276.1 L120.2,277.3 L120.8,278.5 L120.9,279.7 L119.9,280.8 L120.0,282.0 L120.2,283.2 L119.8,284.3 L120.3,285.5 L119.8,286.7 L119.9,287.9 L118.7,289.0 L119.4,290.2 L119.5,291.4 L120.5,292.6 L120.0,293.7 L120.2,294.9 L119.8,296.1 L118.8,297.3 L118.4,298.4 L118.8,299.6 L118.2,300.8 L118.3,302.0 L118.1,303.2 L119.3,304.3 L118.4,305.5 M117.6,291.1 L118.6,291.7 L118.4,292.3 L118.4,292.9 L119.0,293.5 L117.9,294.1 L117.7,294.7 L119.1,295.3 L118.2,296.0 L119.6,296.6 L119.0,297.2 L118.8,297.8 L118.8,298.4 L118.6,299.0 L118.7,299.6 L118.8,300.3 L119.0,300.9 L118.9,301.5 L119.4,302.1 L118.2,302.8 L119.1,303.3 L118.6,304.0 L119.2,304.5 L119.4,305.1 L119.5,305.8 L120.0,306.3 L118.4,307.0 L119.3,307.6 L119.5,308.2 L119.8,308.8 L119.0,309.5 M120.4,242.5 L120.1,244.3 L120.3,246.1 L119.4,247.8 L119.8,249.6 L120.1,251.5 L119.5,253.2 L119.5,255.0 L120.3,256.9 L119.3,258.6 L119.3,260.4 L119.9,262.3 L120.4,264.1 L119.2,265.8 L119.8,267.7 L119.7,269.5 L119.8,271.2 L119.8,273.0 L119.3,274.8 L120.3,276.6 L119.5,278.4 L119.2,280.2 L119.3,282.0 L119.5,283.8 L119.8,285.6 L120.0,287.4 L120.0,289.2 L120.4,291.0 L119.2,292.8 L120.1,294.6 L120.6,296.4 M120.1,246.5 L119.1,248.6 L119.4,250.7 L119.4,252.8 L118.6,254.9 L119.4,257.0 L118.2,259.1 L119.6,261.2 L118.5,263.3 L118.8,265.4 L118.0,267.5 L117.4,269.6 L118.3,271.7 L116.9,273.8 L117.8,275.9 L117.6,278.0 L116.8,280.1 L117.5,282.2 L116.3,284.3 L117.1,286.4 L116.9,288.5 L117.2,290.6 L116.1,292.7 L116.6,294.8 L116.7,296.9 L116.8,299.0 L116.6,301.3 L116.4,303.4 L116.7,305.5 L116.0,307.6 L116.4,309.7 M120.0,277.9 L120.1,279.0 L120.5,280.1 L120.1,281.1 L121.2,282.2 L120.8,283.3 L120.0,284.4 L120.5,285.5 L120.4,286.6 L120.0,287.7 L120.2,288.8 L120.1,289.9 L120.5,291.0 L120.4,292.1 L119.6,293.1 L120.4,294.2 L120.8,295.3 L120.3,296.4 L119.7,297.5 L119.2,298.6 L119.9,299.7 L120.3,300.7 L119.8,301.8 L119.9,302.9 L119.5,304.0 L119.9,305.1 L119.8,306.2 L119.9,307.3 L120.0,308.4 L120.7,309.4 L120.3,310.5 M118.0,244.7 L117.7,245.6 L117.9,246.6 L117.1,247.5 L117.6,248.5 L117.7,249.4 L118.0,250.4 L116.4,251.2 L117.4,252.2 L117.3,253.2 L116.6,254.1 L115.8,255.0 L116.2,256.0 L116.6,256.9 L116.0,257.8 L116.6,258.8 L116.2,259.7 L116.0,260.7 L115.8,261.6 L115.4,262.5 L115.4,263.5 L114.6,264.4 L115.0,265.3 L115.4,266.3 L115.0,267.2 L115.4,268.2 L115.2,269.1 L115.0,270.2 L114.2,271.1 L115.0,272.1 L115.3,273.0 M119.9,277.9 L120.2,278.6 L120.1,279.2 L119.8,279.8 L119.8,280.5 L119.5,281.1 L120.3,281.7 L120.0,282.4 L120.3,283.0 L121.0,283.6 L120.8,284.3 L119.5,284.9 L120.8,285.5 L119.9,286.2 L120.4,286.8 L120.1,287.4 L121.1,288.1 L120.6,288.7 L121.3,289.3 L121.7,290.0 L121.8,290.6 L121.1,291.2 L122.2,291.9 L121.3,292.5 L122.0,293.1 L121.5,293.8 L122.4,294.4 L121.4,295.0 L122.0,295.7 L122.7,296.3 L122.7,296.9 M118.0,251.6 L118.1,252.3 L118.2,252.9 L118.3,253.6 L118.1,254.2 L117.9,254.9 L119.1,255.6 L118.7,256.2 L118.2,256.9 L118.7,257.5 L117.8,258.2 L118.3,258.8 L119.8,259.5 L119.5,260.2 L119.1,260.8 L119.3,261.5 L119.4,262.1 L119.0,262.8 L119.7,263.5 L119.3,264.1 L118.8,264.7 L120.4,265.4 L118.9,266.1 L117.8,266.7 L119.3,267.4 L120.0,268.1 L119.1,268.7 L120.9,269.4 L120.2,270.0 L120.7,270.6 L120.9,271.3 M121.2,247.2 L121.9,248.2 L120.9,249.2 L122.4,250.3 L121.3,251.3 L121.7,252.4 L121.5,253.4 L121.9,254.5 L122.0,255.5 L121.5,256.5 L121.2,257.5 L122.7,258.6 L121.7,259.6 L121.9,260.7 L122.2,261.7 L122.4,262.8 L121.5,263.8 L121.4,264.8 L121.4,265.9 L122.7,266.9 L122.5,268.0 L122.0,269.0 L122.0,270.0 L120.9,271.0 L122.0,272.0 L121.8,273.0 L121.5,274.1 L121.1,275.1 L121.8,276.1 L121.9,277.2 L121.2,278.2" fill="none" stroke="#2f5e2a" stroke-width="0.35" opacity="1" stroke-linejoin="round"/>
<path d="M105.1,244.0 L104.8,244.9 L104.1,245.2 L103.8,246.1 L103.3,246.7 L102.9,247.4 L102.6,248.2 L101.7,248.2 L101.2,248.8 L100.6,249.3 L100.4,250.2 L99.8,250.7 L99.1,251.0 L98.5,251.5 L97.6,251.5 L97.7,253.0 L96.7,252.9 L96.2,253.5 L95.9,254.4 L95.3,254.8 L94.7,255.4 L93.9,255.4 L93.1,255.6 L93.0,256.8 L92.6,257.5 L91.8,257.7 L91.3,258.3 L90.9,259.1 L90.2,259.3 L89.6,259.8 L89.3,260.8 M114.6,233.5 L114.0,234.3 L112.8,234.0 L112.6,235.2 L111.9,235.8 L111.4,236.5 L110.6,236.9 L110.3,238.0 L109.5,238.2 L109.2,239.4 L108.8,240.3 L107.8,240.3 L107.3,241.1 L106.5,241.5 L106.6,243.1 L105.6,243.1 L105.1,244.0 L104.5,244.5 L103.9,245.2 L103.3,245.9 L102.8,246.7 L101.9,246.8 L101.9,248.3 L101.3,249.0 L100.3,249.0 L99.4,249.1 L99.3,250.6 L98.7,251.3 L98.2,252.0 L97.5,252.6 L96.4,252.5 M114.8,238.9 L113.9,239.0 L113.1,239.2 L112.6,240.0 L112.1,240.7 L111.2,240.8 L110.1,240.7 L109.0,240.5 L109.0,241.8 L108.8,242.9 L107.7,242.9 L106.4,242.4 L105.7,242.8 L105.7,244.2 L104.7,244.1 L103.9,244.4 L103.2,244.9 L102.5,245.3 L101.9,245.8 L101.2,246.3 L100.7,246.9 L99.7,246.9 L99.0,247.4 L98.6,247.8 L97.8,248.2 L97.5,249.2 L96.3,248.8 L95.3,248.7 L94.8,249.4 L94.2,250.0 L92.9,249.4 M116.4,248.5 L116.3,250.0 L114.7,249.3 L114.3,250.6 L114.2,251.9 L112.5,251.2 L112.3,252.6 L111.3,252.9 L110.1,252.7 L109.3,253.3 L108.6,253.9 L107.4,253.8 L107.4,255.6 L106.2,255.5 L105.3,255.9 L105.0,257.1 L103.3,257.3 L102.8,258.2 L101.9,258.6 L100.8,258.7 L100.3,259.7 L99.3,259.8 L98.8,260.9 L97.4,260.4 L96.9,261.4 L96.3,262.3 L95.4,262.6 L94.4,262.7 L93.5,263.1 L92.6,263.5 L92.2,264.6 M107.4,242.3 L106.3,243.4 L105.2,244.5 L103.7,245.1 L102.2,245.8 L101.1,246.9 L100.3,248.5 L99.0,249.2 L97.7,250.1 L96.3,250.8 L95.1,251.8 L94.0,252.9 L92.5,253.6 L91.5,254.9 L90.2,255.8 L89.2,257.1 L87.6,257.6 L86.2,258.3 L85.1,259.5 L83.7,260.1 L82.7,261.5 L81.2,262.0 L80.0,263.4 L78.5,263.9 L77.2,265.0 L75.9,265.9 L74.3,266.0 L73.1,267.2 L71.6,267.9 L70.0,268.0 L68.7,269.1 M104.0,249.5 L102.5,250.1 L101.2,251.0 L100.1,252.4 L98.5,252.9 L97.1,253.7 L95.5,254.1 L94.5,255.6 L92.8,255.9 L91.5,256.8 L90.0,257.4 L88.9,258.7 L87.5,259.5 L86.0,260.1 L84.8,261.3 L83.5,262.2 L82.0,262.7 L80.4,263.9 L79.0,264.6 L77.5,265.2 L76.0,265.7 L74.5,266.3 L72.9,266.7 L71.3,266.9 L70.0,268.0 L68.6,268.9 L66.7,268.5 L65.6,269.9 L63.8,269.7 L62.6,271.1 L61.0,271.5" fill="none" stroke="#e8862a" stroke-width="0.3" opacity="1" stroke-linejoin="round"/>
<path d="M140.8,243.3 L143.0,243.8 L144.7,245.2 L146.9,245.6 L148.6,247.0 L150.3,248.3 L152.3,248.8 L154.2,249.8 L156.1,250.8 L158.3,251.2 L160.0,252.7 L161.7,254.1 L163.7,254.8 L165.9,255.2 L167.7,256.6 L169.8,257.0 L171.6,258.4 L173.7,258.9 L175.9,259.3 L177.2,261.0 L179.8,260.0 L181.6,261.4 L183.5,262.4 L185.5,263.1 L187.7,263.6 L189.7,264.1 L191.8,264.7 L193.9,265.2 L195.9,266.0 L197.9,266.9 L200.0,267.4 M137.5,238.8 L138.4,240.3 L140.1,240.3 L140.9,242.1 L142.6,242.1 L144.0,242.8 L145.0,244.0 L145.9,245.4 L147.2,246.3 L148.7,246.7 L149.7,248.0 L151.0,248.6 L152.2,249.5 L153.5,250.4 L155.2,250.4 L156.0,252.2 L157.5,252.6 L158.6,253.8 L160.1,254.3 L161.2,255.5 L162.3,256.6 L164.1,256.4 L165.1,257.8 L166.6,258.1 L167.5,259.8 L169.1,260.1 L170.5,260.6 L171.8,261.5 L172.8,262.8 L174.7,262.5 L175.8,264.2 M132.7,238.6 L133.4,239.2 L134.6,239.2 L135.4,239.9 L136.1,240.7 L136.8,241.4 L138.1,241.2 L138.6,242.3 L139.6,242.6 L140.5,243.1 L141.2,243.9 L142.1,244.3 L142.9,245.0 L144.1,244.9 L144.5,246.1 L145.3,246.8 L146.5,246.8 L146.7,248.3 L148.3,247.7 L148.7,249.0 L149.7,249.3 L150.5,249.8 L151.4,250.3 L152.1,251.2 L153.5,250.5 L154.0,251.9 L154.9,252.4 L156.1,252.1 L156.3,254.0 L157.6,253.5 L158.5,254.2 M162.2,255.8 L162.6,256.2 L163.1,256.2 L163.8,255.9 L164.2,256.1 L164.8,256.0 L165.0,256.8 L165.5,256.7 L166.2,256.5 L166.5,257.0 L166.8,257.5 L167.3,257.6 L167.8,257.6 L168.2,257.9 L168.5,258.3 L169.3,257.8 L169.7,258.1 L169.9,258.9 L170.4,259.0 L171.2,258.4 L171.5,258.8 L171.6,259.7 L172.2,259.6 L172.8,259.5 L173.0,260.1 L173.4,260.4 L173.9,260.6 L174.8,259.7 L175.3,260.0 L175.6,260.4 L175.8,260.6 M133.4,239.3 L135.3,239.9 L136.6,241.5 L138.5,242.0 L140.2,243.0 L141.9,243.9 L143.9,244.2 L144.8,246.6 L146.9,246.8 L148.4,248.1 L149.7,249.6 L151.9,249.6 L153.7,250.1 L155.1,251.7 L157.0,252.3 L158.9,252.8 L160.3,254.3 L162.2,254.8 L164.1,255.3 L166.1,255.6 L167.5,257.0 L169.0,258.4 L171.0,258.7 L172.4,260.3 L173.9,261.6 L175.9,261.6 L177.8,262.2 L179.6,262.7 L181.3,263.7 L183.3,264.0 L185.0,265.0 M140.9,247.5 L142.3,249.0 L143.8,250.2 L145.8,250.8 L147.2,252.1 L148.9,253.7 L151.0,253.8 L152.6,255.0 L154.2,256.2 L156.1,256.8 L157.6,258.1 L159.7,258.3 L161.5,259.1 L162.9,260.7 L164.7,261.4 L166.3,262.5 L167.9,263.6 L169.6,264.6 L171.6,265.0 L173.9,266.1 L175.9,266.2 L177.6,267.3 L179.3,268.4 L181.1,269.1 L183.2,269.1 L184.7,270.6 L186.7,271.0 L188.4,272.1 L190.4,272.2 L192.0,273.4 L194.1,273.3" fill="none" stroke="#e8862a" stroke-width="0.3" opacity="1" stroke-linejoin="round"/>
<path d="M116.7,233.3 L117.6,233.3 L117.9,233.2 L118.3,233.1 L117.9,232.9 L117.7,232.7 L116.7,232.3 L117.6,232.3 L116.5,231.9 L117.3,231.9 L117.2,231.7 L116.9,231.5 L116.9,231.3 L117.3,231.2 L117.6,231.1 L117.0,230.8 L117.5,230.8 L117.6,230.6 L117.3,230.4 L118.1,230.4 L117.1,230.0 L116.9,229.8 L116.3,229.5 L117.7,229.6 L117.5,229.4 L117.1,229.2 L117.3,229.0 L117.1,228.8 L117.5,228.8 L117.1,228.5 L117.2,228.3 M122.6,222.1 L123.9,222.2 L123.9,222.0 L124.6,221.9 L123.3,221.4 L123.7,221.3 L124.1,221.2 L123.3,220.8 L123.3,220.6 L123.8,220.5 L124.6,220.4 L124.1,220.1 L124.0,219.9 L123.1,219.4 L123.9,219.4 L124.1,219.3 L123.0,218.8 L123.6,218.7 L123.5,218.5 L123.9,218.4 L122.7,217.9 L123.9,217.9 L123.6,217.6 L123.5,217.4 L122.6,216.9 L122.6,216.7 L123.4,216.7 L123.9,216.7 L123.8,216.4 L124.0,216.2 L122.9,215.7 M121.0,225.1 L121.7,225.0 L121.7,224.7 L121.0,224.3 L121.4,224.2 L122.6,224.2 L122.2,223.8 L122.9,223.8 L122.7,223.4 L123.0,223.3 L122.6,222.9 L123.0,222.8 L122.9,222.5 L123.6,222.4 L123.1,222.0 L124.0,222.0 L124.4,221.8 L123.2,221.3 L123.8,221.2 L124.3,221.0 L125.1,221.0 L124.9,220.7 L124.5,220.3 L123.8,219.9 L125.2,220.0 L124.6,219.6 L125.2,219.5 L125.4,219.3 L124.7,218.8 L126.0,218.9 L126.1,218.7 M123.5,222.8 L123.3,222.3 L123.9,222.1 L124.0,221.8 L123.9,221.4 L124.0,221.0 L124.1,220.7 L124.7,220.5 L124.7,220.1 L123.4,219.4 L124.9,219.4 L124.5,219.0 L124.9,218.7 L125.4,218.4 L125.7,218.3 L126.0,218.0 L125.3,217.4 L125.6,217.1 L126.1,216.9 L125.4,216.3 L126.2,216.2 L126.1,215.8 L126.6,215.6 L127.4,215.5 L126.8,214.9 L128.0,214.9 L126.7,214.1 L126.5,213.7 L127.7,213.7 L127.4,213.2 L127.7,212.9 M124.5,223.7 L125.0,223.6 L124.2,223.1 L124.5,223.0 L123.6,222.5 L125.1,222.7 L123.4,222.0 L125.3,222.3 L124.8,221.9 L124.7,221.6 L125.6,221.6 L124.7,221.2 L124.8,221.0 L125.3,220.9 L125.0,220.6 L125.0,220.3 L125.0,220.1 L125.4,220.0 L124.3,219.5 L126.1,219.7 L125.1,219.2 L125.2,219.0 L125.1,218.8 L125.2,218.6 L125.4,218.4 L125.5,218.3 L126.0,218.2 L126.6,218.2 L126.9,218.0 L125.7,217.4 L125.7,217.2 M122.8,224.0 L123.1,223.9 L122.9,223.6 L123.2,223.4 L123.6,223.2 L122.1,222.6 L122.3,222.5 L123.4,222.5 L123.4,222.2 L122.4,221.7 L123.4,221.7 L123.8,221.6 L123.5,221.3 L123.3,221.0 L123.0,220.7 L123.6,220.6 L123.7,220.4 L123.6,220.1 L123.0,219.7 L122.9,219.4 L123.5,219.3 L123.8,219.1 L123.3,218.8 L123.1,218.5 L124.7,218.6 L124.6,218.4 L124.3,218.1 L123.4,217.5 L124.2,217.6 L124.1,217.3 L125.3,217.4" fill="none" stroke="#e8862a" stroke-width="0.3" opacity="1" stroke-linejoin="round"/>
<circle cx="120.7" cy="305" r="1.8" fill="#2f5a22" stroke="#1a3a12" stroke-width="0.4"/>
<circle cx="120.7" cy="310.5" r="1.8" fill="#2f5a22" stroke="#1a3a12" stroke-width="0.4"/>
<circle cx="118" cy="318.2" r="1.8" fill="#2f5a22" stroke="#1a3a12" stroke-width="0.4"/>
<circle cx="118.5" cy="323.5" r="1.8" fill="#ea7a2c" stroke="#6a3010" stroke-width="0.5"/>
<circle cx="124.7" cy="323" r="1.8" fill="#ea7a2c" stroke="#6a3010" stroke-width="0.5"/>
<circle cx="127.8" cy="328" r="1.8" fill="#ea7a2c" stroke="#6a3010" stroke-width="0.5"/>
<circle cx="118.8" cy="331.7" r="1.8" fill="#ea7a2c" stroke="#6a3010" stroke-width="0.5"/>
<circle cx="123.5" cy="330.5" r="1.8" fill="#ea7a2c" stroke="#6a3010" stroke-width="0.5"/>
<circle cx="125.5" cy="336" r="1.8" fill="#ea7a2c" stroke="#6a3010" stroke-width="0.5"/>
<text x="84.0" y="209.0" font-size="6.6" fill="#7a7a7a" stroke="#7a7a7a" stroke-width="0.16" text-anchor="start" font-weight="normal" >SSp</text>
<text x="105.8" y="216.5" font-size="6.6" fill="#7a7a7a" stroke="#7a7a7a" stroke-width="0.16" text-anchor="start" font-weight="normal" >ACAd</text>
<text x="51.1" y="219.2" font-size="6.6" fill="#7a7a7a" stroke="#7a7a7a" stroke-width="0.16" text-anchor="start" font-weight="normal" >VISp</text>
<text x="38.7" y="234.7" font-size="6.6" fill="#7a7a7a" stroke="#7a7a7a" stroke-width="0.16" text-anchor="start" font-weight="normal" >VISal</text>
<text x="27.7" y="250.3" font-size="6.6" fill="#7a7a7a" stroke="#7a7a7a" stroke-width="0.16" text-anchor="start" font-weight="normal" >PTLp</text>
<text x="22.3" y="263.0" font-size="6.6" fill="#7a7a7a" stroke="#7a7a7a" stroke-width="0.16" text-anchor="start" font-weight="normal" >AUDd</text>
<text x="17.9" y="278.5" font-size="6.6" fill="#7a7a7a" stroke="#7a7a7a" stroke-width="0.16" text-anchor="start" font-weight="normal" >AUDpo</text>
<text x="27.7" y="290.0" font-size="6.6" fill="#7a7a7a" stroke="#7a7a7a" stroke-width="0.16" text-anchor="start" font-weight="normal" >TEa</text>
<text x="65.7" y="272.2" font-size="6.6" fill="#7a7a7a" stroke="#7a7a7a" stroke-width="0.16" text-anchor="start" font-weight="normal" >CA1d</text>
<text x="94.0" y="254.8" font-size="6.6" fill="#7a7a7a" stroke="#7a7a7a" stroke-width="0.16" text-anchor="start" font-weight="normal" >CA2</text>
<text x="119.5" y="250.3" font-size="6.6" fill="#7a7a7a" stroke="#7a7a7a" stroke-width="0.16" text-anchor="start" font-weight="normal" >cc</text>
<text x="69.3" y="290.5" font-size="6.6" fill="#7a7a7a" stroke="#7a7a7a" stroke-width="0.16" text-anchor="start" font-weight="normal" >CA1i</text>
<text x="61.1" y="306.0" font-size="6.6" fill="#7a7a7a" stroke="#7a7a7a" stroke-width="0.16" text-anchor="start" font-weight="normal" >CA1v</text>
<text x="207.7" y="278.3" font-size="6.6" fill="#7a7a7a" stroke="#7a7a7a" stroke-width="0.16" text-anchor="start" font-weight="normal" >PERI</text>
<text x="207.8" y="306.7" font-size="6.6" fill="#7a7a7a" stroke="#7a7a7a" stroke-width="0.16" text-anchor="start" font-weight="normal" >ENTI</text>
<text x="164.4" y="310.6" font-size="6.6" fill="#7a7a7a" stroke="#7a7a7a" stroke-width="0.16" text-anchor="start" font-weight="normal" >SUBvsp</text>
<text x="195.1" y="327.5" font-size="6.6" fill="#7a7a7a" stroke="#7a7a7a" stroke-width="0.16" text-anchor="start" font-weight="normal" >BLA</text>
<text x="132.7" y="319.3" font-size="6.6" fill="#7a7a7a" stroke="#7a7a7a" stroke-width="0.16" text-anchor="start" font-weight="normal" >TTd</text>
<text x="153.5" y="323.8" font-size="6.6" fill="#7a7a7a" stroke="#7a7a7a" stroke-width="0.16" text-anchor="start" font-weight="normal" >MEA</text>
<text x="180.9" y="346.3" font-size="6.6" fill="#7a7a7a" stroke="#7a7a7a" stroke-width="0.16" text-anchor="start" font-weight="normal" >COA</text>
<text x="203.0" y="249.0" font-size="6.6" fill="#222" stroke="#222" stroke-width="0.16" text-anchor="start" font-weight="normal" >CA1sod</text>
<path d="M194.4,252.4 L202,249.1" stroke="#222" stroke-width="0.8"/>
<text x="149.1" y="299.0" font-size="6.6" fill="#3d6e2a" stroke="#3d6e2a" stroke-width="0.16" text-anchor="start" font-weight="normal" >LSr</text>
<path d="M141.5,296.7 L146.5,296.7" stroke="#333" stroke-width="0.8"/>
<text x="166.6" y="361.6" font-size="6.6" fill="#ea8432" stroke="#ea8432" stroke-width="0.16" text-anchor="start" font-weight="normal" >NDB</text>
<path d="M156.8,359.3 L163.4,359.3" stroke="#333" stroke-width="0.8"/>
<circle cx="92.2" cy="322.9" r="11.2" fill="#fff" fill-opacity="0.6" stroke="#222" stroke-width="0.9"/>
<path d="M83,323 C86,318 92,316.5 97,318.5 M83,323 C86,326 92,327.5 97,326.5 M83,323 L98,318" fill="none" stroke="#222" stroke-width="0.8"/>
<ellipse cx="95.2" cy="322.3" rx="1.8" ry="2.8" fill="#222"/>
<path d="M88,318.5 L90,315.5 M90.5,317.5 L92.5,314.8 M93,317.2 L95,314.5" stroke="#222" stroke-width="0.5"/>
<path d="M94.9,334.2 L107.5,420" stroke="#222" stroke-width="0.8"/>
<path d="M107.9,423.5 L105.8,418.4 L109.1,418 Z" fill="#222"/>
<text transform="translate(100.4,342) rotate(74)" font-size="6.6" fill="#222">Close-up view</text>
<circle cx="11.9" cy="363.6" r="4" fill="#ec8434"/><circle cx="11.9" cy="374.9" r="4" fill="#2e5a24"/>
<text x="19.2" y="365.9" font-size="6.6" fill="#222" stroke="#222" stroke-width="0.16" text-anchor="start" font-weight="normal" >Afferents from NDB</text>
<text x="19.2" y="377.2" font-size="6.6" fill="#222" stroke="#222" stroke-width="0.16" text-anchor="start" font-weight="normal" >Afferents from LSr</text>
<path d="M194.8,377.7 L209.6,377.7 M202.1,370.5 L202.1,385" stroke="#222" stroke-width="0.8"/>
<text x="202.1" y="368.6" font-size="6" fill="#222" stroke="#222" stroke-width="0.16" text-anchor="middle" font-weight="normal" >D</text>
<text x="192.6" y="380.0" font-size="6" fill="#222" stroke="#222" stroke-width="0.16" text-anchor="end" font-weight="normal" >M</text>
<text x="211.6" y="380.0" font-size="6" fill="#222" stroke="#222" stroke-width="0.16" text-anchor="start" font-weight="normal" >L</text>
<text x="202.1" y="391.5" font-size="6" fill="#222" stroke="#222" stroke-width="0.16" text-anchor="middle" font-weight="normal" >V</text>
<defs><linearGradient id="cug" x1="0" y1="0" x2="1" y2="0.3"><stop offset="0" stop-color="#efefef"/><stop offset="0.6" stop-color="#f7f7f7"/><stop offset="1" stop-color="#f1f1f1"/></linearGradient><clipPath id="cuclip"><rect x="5.5" y="423.2" width="227.5" height="204"/></clipPath></defs>
<rect x="5.5" y="423.2" width="227.5" height="204" fill="url(#cug)" stroke="#cfcfcf" stroke-width="0.8"/>
<g clip-path="url(#cuclip)">
<path d="M5,548 C15,545 28,550 32,565 C34,580 30,595 22,605 C15,600 8,598 5,600 Z" fill="#e6e6e6" opacity="0.8"/>
<path d="M5,570 C10,566 16,570 18,580 C18,590 14,600 8,610 L5,612 Z" fill="#dcdcdc" opacity="0.5"/>
<path d="M100,625 C140,615 175,600 205,575 C220,560 228,545 233,530 L233,545 C225,565 205,590 175,608 C150,620 125,627 100,628 Z" fill="#e4e4e4" opacity="0.7"/>
<path d="M195,423 C210,440 222,455 233,470 L233,478 C220,462 205,445 190,430 Z" fill="#e6e6e6" opacity="0.7"/>
<path d="M5.1,503.6 L10.3,501.2 L16.5,499.1 L21.8,497.5 L27.8,496.9 L34.0,495.2 L39.5,493.4 L45.1,490.3 L50.5,486.6 L56.8,485.3 L62.7,484.6 L68.4,483.0 L74.8,484.1 L81.3,483.3 L86.3,481.1 L92.6,478.8 L98.6,477.6 L104.6,477.1 L110.6,476.0 M5.0,543.4 L12.1,539.7 L19.8,535.8 L26.8,532.4 L33.3,527.9 L40.7,523.8 L48.1,520.6 L55.0,516.6 L62.2,513.5 L70.1,509.3 L77.1,505.2 L83.7,502.1 L91.8,498.8 L99.3,495.1 L106.4,492.1 L113.9,488.8 L121.5,485.0 L128.5,481.4 L135.9,478.1 M4.8,532.3 L11.1,530.9 L17.7,529.5 L24.0,527.1 L30.1,525.4 L36.1,523.2 L43.3,522.4 L49.4,522.3 L55.1,519.5 L61.7,516.2 L66.7,513.6 L73.0,510.9 L78.6,508.2 L85.2,505.8 L91.3,503.5 L97.4,500.8 L102.6,497.5 L108.6,493.7 L114.6,490.1 M61.4,445.5 L63.8,446.3 L67.2,446.8 L70.0,448.6 L71.9,449.3 L74.2,450.7 L77.1,451.5 L79.4,453.6 L82.1,454.7 L84.1,456.0 L86.5,457.6 L88.6,459.6 L90.0,461.7 L92.6,463.5 L93.3,466.2 L94.9,468.4 L96.6,470.9 L98.7,473.2 L100.5,475.5 M4.7,489.1 L11.0,488.9 L17.8,490.1 L23.3,488.4 L30.2,488.1 L36.3,488.3 L42.5,490.6 L48.2,490.3 L54.7,488.7 L61.3,487.3 L67.5,486.9 L73.7,487.1 L79.7,487.6 L85.0,486.5 L92.1,486.9 L98.4,485.7 L104.6,483.7 L110.5,483.2 L116.8,483.0 M4.9,487.6 L11.0,486.8 L17.8,486.8 L23.5,486.8 L29.7,486.5 L35.9,486.4 L41.7,484.9 L47.8,482.3 L54.6,483.2 L61.3,484.6 L67.2,484.4 L72.7,485.3 L79.1,485.6 L86.0,481.8 L92.1,482.7 L97.9,483.7 L104.1,483.2 L110.1,484.1 L116.8,485.1 M5.2,510.9 L10.1,506.8 L14.9,501.2 L19.6,496.2 L24.7,493.9 L31.0,491.5 L35.1,487.4 L40.0,482.8 L46.4,481.3 L51.9,477.9 L56.9,474.5 L62.6,472.9 L70.2,475.0 L76.7,474.8 L82.8,472.9 L88.1,471.6 L94.2,470.9 L101.5,471.9 L108.5,471.3 M8.4,447.0 L13.3,447.1 L19.2,446.5 L24.8,445.5 L29.8,446.0 L35.9,446.1 L41.4,445.7 L46.7,446.5 L52.2,447.2 L57.6,446.8 L62.8,448.5 L68.7,450.5 L73.8,452.3 L78.8,453.7 L83.7,455.1 L88.9,457.8 L94.1,459.8 L99.6,462.5 L104.3,464.2 M87.1,434.0 L88.3,434.8 L90.0,435.7 L91.2,436.5 L92.4,437.4 L94.0,439.5 L95.4,439.9 L96.8,441.1 L98.9,441.4 L99.7,443.2 L100.2,445.5 L101.0,447.2 L101.7,448.3 L102.0,450.3 L102.4,452.5 L103.1,454.8 L102.4,456.2 L103.4,458.9 L103.8,459.6 M4.5,502.6 L10.6,499.8 L16.5,497.7 L22.8,496.5 L28.5,493.8 L34.1,492.0 L39.4,490.0 L44.5,487.6 L50.7,485.8 L56.7,484.7 L63.0,484.3 L68.6,483.9 L74.5,482.7 L80.8,481.5 L86.8,480.4 L92.4,478.7 L99.3,477.2 L104.6,477.4 L110.5,477.9 M32.4,454.0 L34.3,460.2 L35.9,466.3 L37.8,471.4 L39.7,475.4 L42.0,476.4 L45.1,477.9 L47.4,480.8 L49.9,484.3 L53.1,486.7 L55.1,490.0 L57.7,492.3 L61.2,492.7 L65.3,492.5 L70.1,488.7 L75.0,485.3 L79.7,481.5 L85.3,478.0 L89.2,475.7 M6.1,451.1 L11.1,453.1 L15.4,455.9 L20.1,457.8 L25.0,458.5 L29.8,462.6 L33.8,464.9 L39.3,464.4 L44.5,465.6 L48.2,468.5 L53.0,469.9 L57.9,470.0 L62.6,471.3 L67.4,473.4 L73.3,471.8 L78.4,472.3 L82.9,473.3 L88.3,473.9 L93.7,473.5 M63.0,452.6 L65.3,453.6 L68.2,454.3 L71.4,453.7 L73.3,454.9 L75.7,457.4 L76.9,460.7 L76.9,464.7 L79.4,467.1 L82.0,466.7 L86.1,464.7 L90.0,463.8 L92.5,463.1 L94.3,464.7 L97.2,467.4 L97.4,470.2 L100.1,473.5 L102.9,473.9 L105.3,473.8 M5.2,531.6 L9.9,529.1 L15.8,527.4 L20.5,526.0 L26.2,522.5 L30.3,519.6 L36.1,517.3 L41.7,517.7 L46.9,514.6 L52.2,512.0 L57.1,508.9 L61.6,507.2 L67.5,505.4 L72.2,502.8 L77.2,499.9 L83.3,498.8 L88.8,496.6 L93.6,494.8 L98.8,492.6 M5.3,474.6 L9.0,474.3 L14.1,473.4 L17.7,474.0 L22.2,473.2 L26.2,471.3 L30.5,473.3 L34.2,473.2 L38.8,471.3 L42.8,473.2 L47.0,474.7 L51.1,472.8 L55.8,471.9 L60.1,474.6 L64.1,473.7 L68.8,473.3 L71.8,474.7 L77.3,475.6 L81.8,475.6 M4.9,525.0 L12.0,522.0 L19.3,518.1 L26.5,515.1 L34.6,512.0 L42.4,508.7 L48.4,505.4 L55.8,503.2 L63.7,500.9 L71.9,497.8 L79.0,495.4 L86.9,493.2 L94.3,491.3 L102.2,488.0 L109.9,486.6 L117.5,485.1 L125.8,482.9 L133.5,480.9 L140.5,479.8 M44.7,442.6 L49.5,442.9 L53.3,443.6 L58.1,442.7 L62.3,442.9 L66.2,443.6 L70.9,443.4 L75.1,443.5 L79.0,444.6 L82.0,448.0 L83.9,451.3 L87.7,451.9 L90.4,456.1 L92.5,459.4 L95.9,462.8 L98.9,464.5 L101.5,468.1 L104.1,471.4 L105.6,475.4 M5.3,523.8 L10.5,520.0 L15.7,517.1 L19.8,513.8 L26.2,513.1 L31.9,510.9 L35.0,505.0 L39.8,501.0 L45.5,499.4 L49.7,494.5 L56.0,493.8 L63.1,494.4 L66.5,489.4 L71.6,485.2 L77.5,483.1 L81.7,478.8 L87.4,476.0 L93.1,475.3 L98.3,472.5 M82.5,484.3 L84.7,485.1 L85.8,486.8 L87.7,489.0 L89.6,489.0 L91.5,489.0 L93.0,489.9 L94.1,491.6 L96.1,493.2 L97.9,490.6 L99.7,490.1 L102.0,491.3 L102.9,494.1 L105.5,494.1 L107.6,493.9 L110.0,492.2 L112.2,491.6 L113.6,492.2 L115.9,491.8 M104.0,486.9 L104.8,491.1 L105.3,493.7 L105.4,497.7 L107.9,500.0 L108.2,503.8 L109.5,505.4 L110.2,508.1 L112.2,510.5 L113.9,512.8 L115.9,514.3 L118.3,515.8 L121.5,516.7 L124.3,517.2 L127.4,517.3 L130.6,517.8 L133.6,518.4 L136.8,519.2 L141.1,518.3 M98.8,486.4 L102.9,485.9 L107.0,486.0 L111.4,486.5 L116.6,485.3 L120.2,485.0 L124.9,486.8 L129.5,486.6 L134.1,482.9 L139.0,484.6 L142.3,488.4 L146.0,491.5 L150.3,489.9 L154.6,492.1 L159.4,495.5 L163.3,496.1 L167.5,497.0 L171.8,499.3 L175.7,502.4 M96.2,474.3 L98.9,477.1 L102.3,480.0 L106.0,481.5 L109.6,484.3 L113.5,486.1 L117.4,488.4 L120.8,490.5 L123.3,494.8 L125.6,497.6 L128.5,500.9 L132.5,504.0 L134.9,506.5 L139.7,507.2 L143.3,510.1 L147.2,511.7 L151.2,513.9 L153.8,516.7 L157.4,519.1 M102.4,474.7 L104.5,476.3 L107.2,476.1 L109.1,477.4 L110.7,479.5 L113.1,480.0 L115.0,481.4 L117.4,484.0 L121.3,482.1 L123.3,482.1 L124.3,485.5 L126.4,487.0 L128.8,487.3 L131.0,489.1 L134.0,488.0 L136.8,487.9 L137.9,489.4 L141.3,490.9 L143.5,491.3 M92.3,497.9 L95.3,498.2 L98.7,497.5 L101.6,498.9 L104.8,498.5 L106.7,497.2 L109.8,495.4 L112.3,493.4 L115.2,493.3 L118.8,493.3 L122.1,494.0 L124.9,494.4 L128.1,494.1 L131.1,492.6 L133.0,489.2 L135.9,487.7 L139.0,487.7 L141.7,487.7 L144.7,487.3 M90.3,482.7 L92.1,483.1 L93.4,485.7 L95.4,486.4 L97.0,487.6 L98.4,490.4 L99.3,491.6 L99.9,495.1 L102.1,495.8 L105.5,495.4 L107.7,495.4 L109.5,496.6 L111.5,499.0 L112.3,500.6 L114.4,502.4 L116.1,501.9 L118.4,503.2 L120.4,503.5 L123.4,504.6 M101.9,479.8 L105.3,480.4 L108.1,481.9 L111.3,483.6 L114.3,485.5 L117.6,484.7 L121.4,484.8 L124.4,485.5 L127.9,487.1 L130.9,489.6 L132.8,492.1 L135.7,494.6 L139.8,495.6 L142.4,495.0 L145.7,495.9 L148.3,498.5 L150.8,499.7 L153.4,501.8 L156.7,504.0 M109.9,486.5 L110.3,489.9 L111.2,492.2 L109.9,495.1 L110.1,498.7 L110.9,500.9 L110.1,504.3 L113.1,505.9 L114.8,508.9 L113.3,511.3 L111.4,515.2 L113.8,516.7 L114.9,519.7 L116.6,522.5 L118.9,523.6 L118.9,527.1 L118.9,530.3 L120.4,532.9 L121.6,534.9 M118.3,466.2 L118.4,470.9 L118.0,476.9 L118.5,482.5 L120.4,486.9 L122.0,492.2 L120.9,498.0 L122.1,502.5 L123.3,507.9 L123.6,514.2 L127.1,518.5 L129.8,523.1 L130.7,528.5 L131.3,533.5 L134.5,538.5 L135.3,543.6 L138.2,548.5 L141.4,552.6 L143.3,557.7 M118.5,484.4 L121.0,487.0 L122.2,489.6 L123.7,492.7 L126.1,495.6 L126.1,499.1 L126.7,503.1 L131.3,504.3 L135.6,506.5 L134.6,510.2 L135.5,513.9 L136.8,516.8 L136.7,520.8 L137.7,524.1 L141.9,526.5 L144.3,529.1 L144.2,533.1 L145.3,536.0 L147.0,538.9 M98.0,472.7 L101.1,472.5 L105.1,472.2 L108.2,472.8 L110.9,473.4 L114.2,474.1 L117.4,473.3 L121.5,471.5 L124.1,471.3 L127.3,474.0 L129.6,476.9 L132.5,477.4 L135.9,477.5 L139.7,479.2 L142.1,479.6 L144.4,482.2 L147.6,483.3 L150.9,485.1 L153.2,487.1 M114.6,486.7 L118.1,487.0 L121.6,487.6 L125.2,487.2 L129.2,488.9 L132.5,489.2 L136.4,487.6 L140.7,485.0 L144.4,483.6 L147.5,486.5 L151.0,489.1 L154.1,490.1 L158.2,490.6 L162.1,492.3 L165.1,493.7 L168.9,492.5 L172.4,492.0 L176.7,492.4 L179.5,493.7 M113.1,482.1 L118.3,482.1 L123.2,481.8 L128.0,482.7 L133.8,483.3 L139.5,483.6 L144.2,484.0 L149.0,481.3 L154.2,478.4 L158.4,477.9 L163.8,479.0 L169.8,479.6 L175.2,479.2 L179.7,476.0 L184.3,474.6 L189.1,471.0 L194.3,469.8 L199.1,467.8 L204.2,466.7 M141.1,510.1 L144.8,509.1 L147.2,508.6 L151.0,508.9 L154.5,508.5 L157.5,508.1 L161.1,507.9 L164.3,508.0 L167.1,506.6 L170.9,505.9 L173.8,505.2 L177.1,506.4 L180.9,506.5 L183.6,507.9 L187.7,507.1 L191.2,506.6 L193.8,506.9 L197.3,506.4 L201.2,506.2 M131.6,498.7 L135.0,499.0 L138.9,498.7 L142.6,497.4 L145.9,496.5 L150.9,495.9 L153.8,494.1 L157.7,494.3 L161.9,494.1 L165.4,495.9 L169.4,496.7 L172.9,495.5 L176.7,492.9 L179.7,491.2 L183.8,491.1 L187.2,491.5 L191.6,491.1 L195.4,491.1 L198.9,489.6 M148.7,510.6 L152.3,509.6 L155.9,510.2 L159.4,509.1 L163.0,509.0 L166.8,507.9 L170.2,509.3 L173.6,506.6 L177.1,506.9 L181.6,507.6 L184.1,507.4 L188.2,506.7 L192.3,507.3 L195.5,506.7 L199.3,506.6 L203.3,506.8 L207.1,506.8 L210.3,507.0 L214.1,506.8 M123.8,508.4 L127.5,508.2 L131.8,508.3 L135.0,507.1 L138.2,506.6 L141.7,507.0 L145.3,507.4 L148.9,506.8 L152.4,506.7 L156.1,505.7 L159.8,506.2 L163.3,506.8 L166.6,507.2 L170.7,506.1 L174.0,506.2 L178.1,505.9 L181.6,507.1 L184.6,507.1 L188.4,507.0 M150.6,509.2 L151.4,506.4 L153.3,504.1 L155.2,502.3 L158.2,500.6 L159.9,499.0 L161.3,496.1 L160.6,491.7 L161.0,487.3 L162.7,485.5 L166.5,485.3 L170.4,485.5 L173.0,483.7 L174.5,481.1 L176.0,478.5 L178.1,476.2 L179.7,473.8 L182.6,473.0 L184.5,471.6 M145.1,495.8 L147.4,496.4 L148.6,496.4 L151.6,496.6 L154.0,498.2 L156.4,499.0 L157.9,499.5 L160.2,499.0 L162.0,498.3 L164.9,498.8 L167.3,498.9 L169.3,500.0 L171.3,501.2 L173.4,502.2 L175.5,501.1 L178.6,500.1 L180.5,499.8 L182.4,500.8 L185.0,501.2 M4.9,502.8 L9.7,504.1 L13.5,505.8 L16.8,507.7 L20.6,510.4 L25.1,511.6 L29.5,512.2 L34.6,512.5 L38.8,512.4 L43.6,512.8 L48.3,514.8 L51.6,516.9 L55.9,517.4 L61.3,516.8 L66.4,516.1 L72.2,516.3 L74.3,519.2 L78.2,523.8 L80.2,528.8 L83.5,531.8 L87.5,534.5 L91.5,536.1 L94.1,537.7 L97.8,541.8 L101.0,546.0 L103.9,549.7 L107.6,552.4 L111.7,553.4 L116.6,553.4 L122.1,554.3 L124.7,556.8 L128.2,559.1 L132.0,561.9 L134.7,565.1 L139.1,567.8 L141.8,570.2 M4.3,515.9 L10.2,516.2 L15.9,517.6 L21.2,517.9 L26.1,519.1 L31.1,520.6 L36.9,523.8 L41.6,525.6 L47.1,527.3 L52.1,527.4 L56.7,528.2 L62.8,528.9 L67.6,530.4 L72.3,532.5 L77.9,532.6 L83.3,531.8 L89.6,531.4 L95.5,532.9 L99.5,535.4 L104.6,538.5 L108.9,541.6 L114.0,542.8 L120.3,543.6 L125.2,544.0 L130.0,545.5 L135.4,547.7 L141.5,549.0 L146.3,549.0 L151.7,549.5 L157.2,549.7 L162.5,551.4 L167.0,553.0 L172.6,555.2 L177.2,556.2 L182.6,557.8 L188.4,559.0 M5.2,478.0 L8.5,481.2 L12.7,484.8 L17.2,487.3 L20.0,491.3 L23.9,494.1 L26.9,497.4 L30.5,499.8 L35.7,502.4 L40.2,504.3 L43.4,506.6 L47.6,509.6 L51.6,512.7 L54.4,515.9 L59.2,519.1 L62.3,522.1 L66.8,524.8 L70.6,527.0 L74.7,528.4 L79.6,530.2 L84.9,531.7 L88.7,532.7 L93.6,534.7 L97.8,536.9 L102.8,538.9 L107.0,541.4 L110.6,543.0 L114.9,545.9 L119.4,547.0 L124.4,549.2 L128.8,549.6 L134.3,550.5 L138.9,552.3 L143.2,553.4 L148.3,555.1 L153.2,557.0 M5.2,516.1 L9.7,517.0 L14.9,517.1 L18.8,517.0 L23.5,517.2 L27.9,518.4 L32.5,519.8 L36.8,520.6 L40.7,521.3 L45.5,520.0 L51.2,519.8 L55.5,519.9 L60.0,522.1 L64.5,523.8 L68.8,523.9 L73.0,524.4 L77.8,523.3 L82.6,524.6 L87.1,525.9 L91.0,528.4 L94.9,530.0 L100.4,529.0 L105.1,528.0 L109.7,528.1 L114.3,529.1 L118.7,531.2 L122.8,531.9 L127.1,533.1 L132.4,532.8 L136.6,533.9 L140.7,535.2 L145.6,536.4 L149.7,537.0 L154.0,537.7 L158.9,538.5 L163.4,539.6" fill="none" stroke="#5e8a5e" stroke-width="0.4" opacity="0.9"/>
<path d="M5.0,489.5 L10.4,490.3 L14.9,492.0 L18.3,492.0 L24.8,493.9 L30.5,495.1 L35.2,494.9 L39.2,497.1 L44.9,497.3 L49.2,499.5 L54.0,500.5 L58.5,502.9 L63.2,504.1 L68.1,505.3 L73.3,506.3 L78.6,506.7 L83.0,508.3 L87.9,510.6 L92.4,513.6 L95.9,515.0 L101.4,517.1 L105.9,518.5 L110.2,518.7 L115.1,520.6 L120.3,522.5 L124.3,524.9 L128.6,527.7 L133.4,530.4 L138.0,532.2 L142.5,534.8 L146.7,536.4 L151.4,538.7 L156.8,540.8 L160.2,542.7 L164.9,545.4 L169.2,548.3 M4.5,455.2 L10.3,457.4 L14.7,460.4 L20.7,462.5 L26.2,465.4 L31.4,469.1 L35.4,472.0 L40.0,474.6 L45.1,478.8 L49.9,481.7 L54.3,484.4 L59.3,487.7 L64.9,491.1 L69.7,492.7 L75.0,494.7 L80.6,497.5 L85.1,500.4 L90.8,503.0 L95.2,507.6 L99.6,511.0 L104.3,514.7 L109.0,517.9 L113.3,521.7 L117.9,524.8 L121.9,528.9 L126.3,533.0 L130.0,537.3 L134.8,541.4 L138.9,545.9 L143.5,549.5 L148.2,553.3 L152.5,557.0 L157.1,560.8 L161.0,564.4 L165.7,568.6 L170.0,572.4 M4.8,456.1 L11.1,459.6 L16.4,462.5 L21.6,465.4 L28.5,468.5 L34.1,470.6 L39.7,473.4 L44.8,475.8 L50.7,479.1 L55.8,482.5 L62.0,487.5 L66.3,490.3 L73.0,492.9 L78.9,495.7 L84.7,498.9 L89.2,502.4 L94.0,506.6 L99.0,510.3 L105.1,513.6 L111.2,517.0 L117.0,518.2 L123.1,521.4 L129.2,525.1 L133.9,527.5 L138.3,533.3 L143.3,538.2 L147.8,542.1 L153.0,546.2 L158.3,549.5 L164.5,553.0 L169.5,556.3 L174.5,559.6 L179.4,563.9 L185.0,568.2 L189.8,572.1 L196.0,575.8 M4.5,504.2 L9.8,506.2 L15.2,507.2 L20.1,510.4 L25.1,510.9 L30.3,513.9 L34.6,515.8 L39.5,517.3 L45.4,519.4 L50.7,521.0 L55.4,522.8 L60.8,524.5 L66.2,526.3 L70.9,529.5 L75.3,531.0 L79.9,534.4 L84.1,537.4 L88.8,540.4 L94.2,542.9 L98.2,545.7 L103.3,547.6 L108.1,550.3 L112.0,552.3 L117.7,555.3 L122.1,557.4 L127.0,559.8 L132.0,562.1 L136.9,565.0 L141.2,567.9 L145.4,570.7 L150.1,573.1 L154.3,576.7 L158.9,580.6 L164.1,583.0 L168.4,585.7 L172.5,588.8 M5.2,513.1 L10.0,513.7 L14.3,514.8 L18.5,515.7 L23.8,515.5 L27.8,516.0 L32.4,515.6 L37.6,516.3 L42.1,515.3 L47.3,514.9 L52.3,514.3 L55.8,515.8 L61.1,516.9 L66.1,518.2 L70.5,518.5 L74.4,519.2 L79.7,521.2 L84.0,524.0 L88.2,526.2 L92.3,528.3 L96.9,528.1 L102.0,528.7 L106.7,528.2 L111.2,528.8 L115.9,528.4 L120.9,528.7 L125.4,528.9 L129.7,529.1 L134.8,529.1 L139.0,529.7 L143.6,531.2 L148.6,531.5 L153.7,533.1 L158.2,534.9 L161.7,535.1 L166.7,537.3 M5.4,459.2 L10.0,462.6 L14.7,466.0 L19.6,469.1 L23.7,471.9 L28.7,475.2 L34.0,477.5 L39.1,480.4 L43.9,483.7 L49.4,486.2 L54.1,489.5 L58.9,492.5 L63.0,495.5 L67.9,499.6 L72.2,502.7 L76.5,507.2 L81.7,510.0 L85.5,514.1 L90.4,517.5 L94.3,521.8 L98.7,525.2 L103.4,528.0 L107.9,530.8 L113.2,534.0 L117.9,538.2 L121.9,541.0 L126.5,544.9 L131.1,548.9 L135.5,552.8 L140.0,556.0 L143.8,560.0 L148.8,563.4 L152.8,567.3 L157.1,571.6 L161.1,575.9 L165.7,578.7 M5.1,491.0 L8.4,494.6 L12.4,498.5 L16.1,501.1 L19.9,503.9 L24.2,507.1 L28.2,509.7 L32.4,512.1 L36.2,514.1 L40.1,518.2 L43.6,520.5 L47.9,524.6 L51.8,528.1 L54.9,531.5 L58.5,535.9 L62.2,538.5 L66.2,540.7 L71.3,542.8 L75.5,544.3 L80.3,546.0 L85.4,548.0 L89.2,549.9 L94.3,553.1 L98.1,555.3 L102.5,557.5 L105.6,560.6 L110.5,562.7 L114.6,565.0 L119.2,567.9 L123.6,569.2 L128.8,571.5 L132.7,573.9 L136.9,575.1 L141.5,576.1 L147.0,579.3 L150.9,580.8 M5.4,503.6 L10.6,505.4 L15.5,506.9 L19.9,509.5 L24.9,512.2 L28.4,513.7 L34.3,516.0 L39.2,517.4 L44.3,519.7 L49.0,520.7 L54.3,522.4 L59.4,523.3 L64.3,524.1 L70.3,525.6 L74.6,528.5 L78.8,532.3 L82.5,535.3 L86.9,539.7 L91.5,541.3 L96.1,543.9 L100.7,546.8 L105.1,549.3 L110.3,551.6 L115.4,553.4 L120.0,554.7 L125.3,556.1 L129.4,558.9 L133.6,562.1 L137.9,566.4 L141.8,569.8 L146.7,572.8 L151.1,575.9 L154.9,578.4 L159.0,582.1 L163.9,583.9 L168.6,587.1 M5.0,499.7 L9.4,501.7 L13.9,503.2 L17.6,504.6 L22.3,505.1 L26.0,506.9 L31.4,508.5 L35.6,509.8 L39.7,511.9 L43.6,512.8 L47.7,515.0 L52.4,516.3 L56.4,517.7 L60.7,519.2 L64.6,519.4 L69.9,520.4 L74.0,521.5 L78.6,522.3 L82.9,523.7 L86.4,524.2 L91.8,526.3 L95.6,527.2 L100.8,528.7 L105.2,529.8 L108.6,530.5 L113.9,531.0 L118.3,532.1 L123.5,533.7 L127.0,534.1 L130.7,535.7 L135.3,536.4 L140.4,537.4 L144.7,537.6 L148.6,538.2 L153.0,539.8 L157.4,540.1 M4.8,487.2 L10.7,488.2 L15.7,489.9 L21.1,490.6 L26.5,492.4 L31.2,493.1 L36.8,495.1 L41.5,496.0 L47.5,498.4 L51.9,499.2 L57.3,500.7 L63.6,501.2 L69.6,500.9 L74.9,501.8 L79.6,502.5 L85.1,504.9 L89.7,508.1 L94.1,510.8 L97.8,514.2 L102.5,517.0 L108.3,520.2 L112.9,521.2 L118.5,522.8 L123.5,525.4 L128.0,527.4 L132.6,529.9 L138.4,532.0 L143.0,534.0 L147.2,536.3 L152.8,538.6 L157.0,541.4 L162.1,545.3 L166.3,548.3 L170.6,551.8 L175.1,553.8 L180.4,557.0 M5.3,499.5 L9.8,501.8 L13.5,503.9 L18.1,505.9 L23.0,508.0 L27.1,511.3 L31.8,512.7 L35.7,514.3 L40.2,516.2 L46.0,517.6 L48.9,519.4 L53.5,521.9 L58.6,523.9 L62.4,527.3 L66.9,528.3 L71.7,531.1 L76.1,533.2 L80.9,534.9 L85.1,537.7 L88.7,540.0 L93.2,542.6 L97.5,545.6 L102.2,547.3 L105.8,549.4 L111.2,551.3 L116.5,552.5 L120.3,554.1 L124.3,556.6 L129.3,558.7 L133.4,560.0 L138.2,562.9 L141.6,565.2 L146.5,566.8 L151.1,568.8 L155.7,571.9 L159.7,573.9 M186.0,567.9 L184.6,564.4 L187.1,562.3 L184.9,559.1 L189.4,556.6 L186.0,553.4 L189.6,551.9 L189.8,549.3 L192.6,546.7 L194.0,544.9 L196.0,543.1 M175.2,572.8 L174.7,575.2 L175.3,577.6 L174.6,580.3 L173.3,581.8 L173.3,584.2 L170.8,583.7 L169.5,586.8 L167.2,585.6 L164.3,586.5 L161.0,586.5 M171.6,534.9 L172.3,535.6 L170.8,535.2 L170.5,536.2 L175.5,537.5 L170.6,537.4 L168.6,538.0 L172.6,539.3 L172.2,539.6 L170.9,540.3 L171.2,540.1 M183.1,576.9 L181.9,577.1 L181.8,577.5 L182.7,577.6 L180.6,578.7 L178.4,579.1 L178.6,579.6 L179.9,579.7 L182.0,581.3 L180.4,582.4 L181.3,582.6 M179.4,576.8 L181.5,577.2 L184.0,577.0 L185.9,576.5 L188.5,577.4 L191.4,578.3 L193.0,578.8 L194.7,574.9 L196.3,574.2 L199.5,574.1 L201.2,572.2 M168.4,549.0 L167.7,546.4 L169.5,543.8 L171.6,540.1 L170.0,539.2 L168.5,536.4 L171.1,534.1 L168.7,531.9 L165.9,529.6 L166.5,526.2 L163.9,524.1 M167.0,558.9 L166.8,560.2 L166.6,560.7 L167.0,561.4 L166.4,563.5 L165.8,564.2 L165.3,565.0 L164.7,566.1 L165.0,567.6 L163.6,567.9 L162.7,569.1 M169.9,562.9 L171.4,562.6 L172.5,563.0 L173.3,562.9 L175.2,561.3 L176.0,562.0 L177.8,562.4 L178.8,560.3 L180.2,562.9 L181.7,563.8 L183.5,563.8 M172.4,559.3 L172.7,558.0 L174.7,556.8 L177.8,556.6 L179.1,555.6 L178.4,552.8 L176.2,550.4 L175.7,548.9 L178.3,546.7 L179.5,546.0 L179.2,543.4 M182.2,545.8 L186.4,546.1 L192.0,545.5 L194.4,547.8 L197.1,552.0 L202.4,551.3 L206.8,549.0 L210.1,551.5 L214.1,552.6 L217.8,555.7 L220.9,558.6 M180.7,565.4 L182.4,565.4 L184.1,566.1 L185.3,564.5 L186.0,563.3 L188.8,567.5 L189.5,567.0 L190.8,563.3 L192.3,563.6 L194.8,563.1 L196.0,562.6 M171.7,558.6 L173.3,560.3 L176.4,560.8 L176.7,563.3 L176.7,566.2 L178.8,567.4 L178.4,570.6 L182.2,570.5 L182.1,573.3 L181.7,576.9 L181.0,578.6 M171.8,548.5 L172.0,549.7 L173.6,551.1 L175.8,552.7 L176.2,554.9 L178.4,556.0 L179.8,558.7 L182.0,558.8 L184.1,560.4 L185.2,561.6 L187.2,562.7 M172.6,554.2 L174.4,557.5 L174.2,559.0 L176.4,561.7 L175.9,565.1 L179.9,567.2 L178.2,569.8 L177.6,572.3 L176.1,575.5 L175.3,578.0 L174.6,581.3 M165.0,559.0 L162.2,560.5 L163.3,563.8 L162.3,566.0 L159.3,567.7 L154.3,567.3 L156.4,571.2 L157.7,574.7 L154.3,575.8 L151.4,578.0 L152.2,580.1 M187.5,509.3 L188.8,511.8 L189.4,514.8 L190.7,518.7 L193.4,520.4 L192.1,524.1 L193.9,527.0 L195.9,528.8 L198.7,531.9 L199.8,534.4 L202.1,536.6 M150.2,550.2 L151.4,551.9 L151.9,556.1 L155.0,557.4 L154.9,561.9 L156.7,563.6 L159.5,566.4 L162.0,568.1 L165.5,569.2 L166.7,571.8 L170.9,572.8 M173.2,572.3 L173.3,573.8 L174.6,577.1 L174.0,580.1 L173.9,582.1 L173.1,583.7 L173.1,586.6 L172.5,588.9 L172.4,590.7 L171.3,593.0 L170.3,595.6 M181.5,549.0 L184.1,552.3 L187.1,554.1 L190.7,556.0 L192.8,559.0 L195.6,561.7 L198.9,563.2 L202.3,564.7 L206.0,566.0 L209.1,567.4 L212.8,569.7 M179.2,552.8 L178.4,553.1 L177.5,553.7 L176.2,554.7 L176.7,557.3 L174.0,557.5 L172.4,556.3 L173.9,560.1 L172.9,560.5 L170.7,561.0 L169.7,561.2 M189.6,579.6 L190.7,583.4 L190.7,585.1 L192.2,589.0 L195.4,590.5 L193.0,595.0 L192.1,598.2 L194.1,600.9 L195.6,604.2 L196.7,606.6 L196.4,610.4 M182.5,554.5 L178.8,555.6 L175.2,554.6 L171.2,555.6 L167.1,557.8 L163.4,553.5 L159.4,555.8 L156.6,554.6 L152.4,554.1 L149.2,551.7 L145.5,550.6 M44.8,442.9 L49.4,446.1 L53.1,449.5 L57.9,452.1 L63.2,454.3 L67.5,455.9 L72.5,458.6 L76.7,462.0 L80.3,465.1 L83.9,469.1 L87.7,473.8 L92.0,476.9 L95.4,480.0 L100.6,482.3 L106.2,484.4 L109.3,487.6 L112.6,492.3 L115.9,496.7 L119.9,499.9 M85.1,446.8 L88.3,449.6 L91.3,452.0 L93.5,455.8 L95.7,459.7 L97.4,463.3 L101.3,465.0 L105.5,467.5 L109.0,470.0 L112.9,472.2 L112.8,477.0 L112.8,482.4 L114.8,486.1 L118.1,488.3 L121.6,491.0 L124.3,493.5 L127.2,497.1 L128.1,501.5 L130.0,504.4 M19.7,590.5 L22.2,592.2 L25.2,593.2 L27.2,595.1 L29.2,596.5 L33.7,596.4 L37.1,597.0 L37.4,602.1 L38.7,604.9 L41.5,606.1 L42.8,608.3 L46.1,609.3 L50.1,609.2 L51.9,612.0 L52.6,615.6 L54.0,618.6 L56.3,620.9 L58.0,623.1 L59.3,625.1" fill="none" stroke="#f0a060" stroke-width="0.4" opacity="0.95"/>
<g fill="#f07a1e"><circle cx="201.4" cy="595.7" r="1.3"/><circle cx="175.2" cy="586.8" r="1.3"/><circle cx="156.9" cy="538.0" r="1.3"/><circle cx="198.2" cy="562.4" r="1.3"/><circle cx="205.5" cy="560.7" r="1.3"/><circle cx="174.6" cy="529.6" r="1.3"/><circle cx="179.0" cy="567.1" r="1.3"/><circle cx="161.1" cy="553.3" r="1.3"/><circle cx="167.4" cy="581.7" r="1.3"/><circle cx="177.5" cy="573.7" r="1.3"/><circle cx="167.2" cy="552.5" r="1.3"/><circle cx="171.7" cy="558.9" r="1.3"/><circle cx="197.0" cy="539.1" r="1.3"/><circle cx="181.6" cy="584.2" r="1.3"/><circle cx="207.1" cy="605.2" r="1.3"/><circle cx="188.3" cy="614.5" r="1.3"/><circle cx="170.8" cy="554.6" r="1.3"/><circle cx="185.0" cy="575.3" r="1.3"/><circle cx="155.8" cy="612.0" r="1.3"/><circle cx="173.0" cy="598.9" r="1.3"/><circle cx="176.4" cy="554.2" r="1.3"/><circle cx="180.4" cy="604.3" r="1.3"/><circle cx="174.2" cy="552.4" r="1.3"/><circle cx="191.2" cy="522.4" r="1.3"/><circle cx="158.0" cy="569.7" r="1.3"/><circle cx="189.7" cy="542.1" r="1.3"/><circle cx="176.6" cy="572.5" r="1.3"/><circle cx="186.5" cy="538.4" r="1.3"/><circle cx="201.4" cy="534.6" r="1.3"/><circle cx="180.5" cy="531.1" r="1.3"/><circle cx="149.8" cy="582.8" r="1.3"/><circle cx="194.7" cy="552.3" r="1.3"/><circle cx="154.6" cy="551.6" r="1.3"/><circle cx="188.3" cy="596.0" r="1.3"/><circle cx="174.6" cy="600.8" r="1.3"/><circle cx="175.1" cy="551.1" r="1.3"/><circle cx="165.7" cy="592.0" r="1.3"/><circle cx="175.9" cy="556.2" r="1.3"/><circle cx="179.9" cy="590.0" r="1.3"/><circle cx="167.8" cy="569.4" r="1.3"/><circle cx="184.6" cy="575.7" r="1.3"/><circle cx="189.2" cy="589.0" r="1.3"/><circle cx="188.8" cy="604.8" r="1.3"/><circle cx="152.6" cy="609.5" r="1.3"/><circle cx="170.9" cy="578.1" r="1.3"/><circle cx="172.9" cy="508.4" r="1.3"/><circle cx="185.3" cy="551.1" r="1.3"/><circle cx="196.2" cy="546.9" r="1.3"/><circle cx="186.7" cy="582.4" r="1.3"/><circle cx="157.3" cy="565.7" r="1.3"/><circle cx="165.0" cy="573.0" r="1.3"/><circle cx="178.5" cy="545.8" r="1.3"/><circle cx="166.1" cy="543.3" r="1.3"/><circle cx="194.3" cy="546.2" r="1.3"/><circle cx="184.1" cy="570.3" r="1.3"/><circle cx="184.7" cy="568.5" r="1.3"/><circle cx="158.7" cy="568.9" r="1.3"/><circle cx="181.2" cy="561.9" r="1.3"/><circle cx="172.7" cy="556.2" r="1.3"/><circle cx="189.2" cy="570.9" r="1.3"/><circle cx="177.3" cy="585.0" r="1.3"/><circle cx="171.1" cy="572.5" r="1.3"/><circle cx="173.4" cy="569.5" r="1.3"/><circle cx="193.2" cy="579.2" r="1.3"/><circle cx="195.9" cy="567.7" r="1.3"/><circle cx="200.7" cy="615.1" r="1.3"/><circle cx="174.3" cy="573.5" r="1.3"/><circle cx="178.8" cy="617.9" r="1.3"/><circle cx="181.8" cy="576.9" r="1.3"/><circle cx="156.8" cy="555.4" r="1.3"/><circle cx="190.8" cy="587.9" r="1.3"/><circle cx="161.5" cy="572.3" r="1.3"/><circle cx="199.7" cy="580.7" r="1.3"/><circle cx="199.7" cy="541.4" r="1.3"/><circle cx="183.8" cy="611.6" r="1.3"/><circle cx="179.3" cy="574.3" r="1.3"/><circle cx="171.2" cy="573.7" r="1.3"/><circle cx="196.7" cy="567.9" r="1.3"/><circle cx="177.9" cy="530.8" r="1.3"/><circle cx="200.5" cy="564.2" r="1.3"/><circle cx="153.5" cy="567.8" r="1.3"/><circle cx="178.1" cy="586.7" r="1.3"/><circle cx="174.7" cy="533.8" r="1.3"/><circle cx="190.5" cy="556.7" r="1.3"/><circle cx="189.6" cy="609.6" r="1.3"/><circle cx="187.9" cy="577.5" r="1.3"/><circle cx="167.3" cy="542.2" r="1.3"/><circle cx="197.1" cy="554.1" r="1.3"/><circle cx="202.8" cy="537.3" r="1.3"/><circle cx="181.1" cy="571.3" r="1.3"/><circle cx="174.1" cy="555.7" r="1.3"/><circle cx="192.5" cy="561.4" r="1.3"/><circle cx="157.7" cy="545.2" r="1.3"/><circle cx="174.2" cy="561.8" r="1.3"/><circle cx="159.0" cy="536.1" r="1.3"/><circle cx="160.6" cy="538.9" r="1.3"/><circle cx="184.7" cy="587.8" r="1.3"/><circle cx="182.7" cy="521.5" r="1.3"/><circle cx="161.6" cy="531.3" r="1.3"/><circle cx="193.7" cy="568.0" r="1.3"/><circle cx="167.9" cy="548.9" r="1.3"/><circle cx="171.5" cy="562.4" r="1.3"/><circle cx="150.7" cy="553.3" r="1.3"/><circle cx="176.2" cy="542.2" r="1.3"/><circle cx="171.0" cy="563.4" r="1.3"/><circle cx="176.9" cy="524.3" r="1.3"/><circle cx="175.2" cy="563.6" r="1.3"/><circle cx="176.6" cy="554.1" r="1.3"/><circle cx="171.9" cy="551.1" r="1.3"/><circle cx="174.5" cy="570.4" r="1.3"/><circle cx="163.7" cy="574.7" r="1.3"/><circle cx="159.0" cy="538.4" r="1.3"/><circle cx="186.6" cy="543.9" r="1.3"/><circle cx="167.9" cy="524.2" r="1.3"/><circle cx="182.8" cy="557.3" r="1.3"/><circle cx="183.5" cy="609.5" r="1.3"/><circle cx="191.0" cy="609.0" r="1.3"/><circle cx="155.9" cy="536.6" r="1.3"/><circle cx="172.5" cy="585.9" r="1.3"/><circle cx="181.2" cy="559.0" r="1.3"/><circle cx="169.5" cy="547.4" r="1.3"/><circle cx="181.4" cy="580.0" r="1.3"/><circle cx="170.6" cy="570.3" r="1.3"/><circle cx="175.0" cy="585.4" r="1.3"/><circle cx="188.9" cy="559.1" r="1.3"/><circle cx="175.8" cy="522.1" r="1.3"/><circle cx="161.5" cy="598.2" r="1.3"/><circle cx="178.5" cy="592.5" r="1.3"/><circle cx="163.4" cy="537.9" r="1.3"/><circle cx="188.4" cy="548.5" r="1.3"/><circle cx="174.8" cy="572.9" r="1.3"/><circle cx="187.5" cy="572.7" r="1.3"/><circle cx="202.9" cy="550.4" r="1.3"/><circle cx="181.3" cy="580.8" r="1.3"/><circle cx="155.7" cy="527.1" r="1.3"/><circle cx="199.0" cy="600.1" r="1.3"/><circle cx="186.5" cy="577.8" r="1.3"/><circle cx="155.0" cy="600.4" r="1.3"/><circle cx="205.7" cy="548.3" r="1.3"/><circle cx="193.6" cy="535.0" r="1.3"/><circle cx="173.0" cy="617.4" r="1.3"/><circle cx="166.4" cy="601.1" r="1.3"/><circle cx="161.6" cy="571.4" r="1.3"/><circle cx="189.3" cy="565.6" r="1.3"/><circle cx="153.9" cy="591.9" r="1.3"/><circle cx="169.0" cy="575.4" r="1.3"/><circle cx="133.1" cy="539.8" r="1.3"/><circle cx="162.9" cy="544.7" r="1.3"/><circle cx="167.0" cy="561.4" r="1.3"/><circle cx="179.9" cy="516.2" r="1.3"/><circle cx="160.6" cy="528.5" r="1.3"/><circle cx="172.6" cy="612.4" r="1.3"/><circle cx="187.8" cy="549.1" r="1.3"/><circle cx="188.9" cy="590.0" r="1.3"/><circle cx="175.5" cy="574.2" r="1.3"/><circle cx="206.0" cy="555.1" r="1.3"/><circle cx="175.1" cy="552.6" r="1.3"/><circle cx="169.1" cy="552.4" r="1.3"/><circle cx="170.5" cy="597.3" r="1.3"/></g>
<g fill="#f07a1e"><circle cx="154.7" cy="510.5" r="1.2"/><circle cx="161.4" cy="528.6" r="1.2"/><circle cx="162.9" cy="518.0" r="1.2"/><circle cx="138.1" cy="519.6" r="1.2"/><circle cx="125.2" cy="531.2" r="1.2"/><circle cx="160.5" cy="518.0" r="1.2"/><circle cx="168.7" cy="541.5" r="1.2"/><circle cx="148.6" cy="523.3" r="1.2"/><circle cx="141.1" cy="515.7" r="1.2"/><circle cx="155.8" cy="529.1" r="1.2"/><circle cx="153.6" cy="522.0" r="1.2"/><circle cx="162.7" cy="525.2" r="1.2"/><circle cx="161.9" cy="525.3" r="1.2"/><circle cx="158.2" cy="520.6" r="1.2"/><circle cx="140.2" cy="526.7" r="1.2"/><circle cx="139.3" cy="535.1" r="1.2"/><circle cx="178.4" cy="526.3" r="1.2"/><circle cx="156.3" cy="517.1" r="1.2"/><circle cx="150.3" cy="516.8" r="1.2"/><circle cx="160.3" cy="530.4" r="1.2"/><circle cx="163.5" cy="537.7" r="1.2"/><circle cx="153.1" cy="517.4" r="1.2"/><circle cx="157.8" cy="536.4" r="1.2"/><circle cx="146.9" cy="525.4" r="1.2"/><circle cx="148.1" cy="524.5" r="1.2"/><circle cx="145.5" cy="545.4" r="1.2"/><circle cx="165.9" cy="518.6" r="1.2"/><circle cx="169.4" cy="532.3" r="1.2"/><circle cx="165.2" cy="524.8" r="1.2"/><circle cx="139.6" cy="505.7" r="1.2"/><circle cx="145.2" cy="520.6" r="1.2"/><circle cx="160.7" cy="540.3" r="1.2"/><circle cx="158.6" cy="512.9" r="1.2"/><circle cx="124.3" cy="531.3" r="1.2"/><circle cx="132.3" cy="528.5" r="1.2"/><circle cx="124.4" cy="520.6" r="1.2"/><circle cx="123.7" cy="514.9" r="1.2"/><circle cx="136.3" cy="519.8" r="1.2"/><circle cx="157.1" cy="511.5" r="1.2"/><circle cx="160.5" cy="514.5" r="1.2"/></g>
<g fill="#f07a1e"><circle cx="194.7" cy="600.8" r="1.2"/><circle cx="164.9" cy="587.4" r="1.2"/><circle cx="167.0" cy="585.3" r="1.2"/><circle cx="186.1" cy="596.8" r="1.2"/><circle cx="180.3" cy="586.7" r="1.2"/><circle cx="189.2" cy="596.1" r="1.2"/><circle cx="177.8" cy="596.3" r="1.2"/><circle cx="198.5" cy="607.6" r="1.2"/><circle cx="186.3" cy="617.0" r="1.2"/><circle cx="181.9" cy="576.0" r="1.2"/><circle cx="181.8" cy="596.8" r="1.2"/><circle cx="175.4" cy="605.4" r="1.2"/><circle cx="179.2" cy="594.1" r="1.2"/><circle cx="186.9" cy="599.3" r="1.2"/><circle cx="190.1" cy="622.5" r="1.2"/><circle cx="197.9" cy="558.0" r="1.2"/><circle cx="193.7" cy="598.5" r="1.2"/><circle cx="184.8" cy="580.6" r="1.2"/><circle cx="178.2" cy="591.8" r="1.2"/><circle cx="190.0" cy="600.7" r="1.2"/><circle cx="192.8" cy="600.1" r="1.2"/><circle cx="176.8" cy="588.8" r="1.2"/><circle cx="186.7" cy="596.4" r="1.2"/><circle cx="176.5" cy="602.0" r="1.2"/><circle cx="177.5" cy="603.8" r="1.2"/><circle cx="185.0" cy="608.1" r="1.2"/><circle cx="167.6" cy="581.1" r="1.2"/><circle cx="177.4" cy="596.2" r="1.2"/><circle cx="182.1" cy="610.7" r="1.2"/><circle cx="179.4" cy="589.9" r="1.2"/><circle cx="170.0" cy="591.3" r="1.2"/><circle cx="185.4" cy="609.7" r="1.2"/><circle cx="173.0" cy="599.1" r="1.2"/><circle cx="181.3" cy="601.3" r="1.2"/><circle cx="177.0" cy="585.7" r="1.2"/><circle cx="184.1" cy="599.8" r="1.2"/><circle cx="176.2" cy="600.4" r="1.2"/><circle cx="175.2" cy="597.3" r="1.2"/><circle cx="179.9" cy="615.1" r="1.2"/></g>
<g fill="#f07a1e"><circle cx="20.5" cy="438.6" r="1.3"/><circle cx="43.2" cy="443.4" r="1.3"/><circle cx="86.5" cy="447.3" r="1.3"/></g>
<g fill="#8fae8a"><circle cx="97.0" cy="487.7" r="1.15"/><circle cx="112.0" cy="475.9" r="1.15"/><circle cx="99.2" cy="487.5" r="1.15"/><circle cx="105.5" cy="492.0" r="1.15"/><circle cx="88.4" cy="484.2" r="1.15"/><circle cx="111.7" cy="492.6" r="1.15"/><circle cx="101.6" cy="496.0" r="1.15"/><circle cx="100.6" cy="505.4" r="1.15"/><circle cx="101.8" cy="482.3" r="1.15"/><circle cx="96.4" cy="496.6" r="1.15"/><circle cx="103.0" cy="502.0" r="1.15"/><circle cx="123.1" cy="488.6" r="1.15"/><circle cx="115.3" cy="472.6" r="1.15"/><circle cx="111.7" cy="491.6" r="1.15"/><circle cx="100.4" cy="488.2" r="1.15"/><circle cx="105.6" cy="489.3" r="1.15"/><circle cx="126.9" cy="472.5" r="1.15"/><circle cx="84.1" cy="488.4" r="1.15"/><circle cx="112.7" cy="457.7" r="1.15"/><circle cx="99.8" cy="478.7" r="1.15"/><circle cx="87.3" cy="493.7" r="1.15"/><circle cx="105.4" cy="499.4" r="1.15"/><circle cx="117.4" cy="491.6" r="1.15"/><circle cx="110.7" cy="484.1" r="1.15"/><circle cx="111.0" cy="482.2" r="1.15"/><circle cx="101.1" cy="485.4" r="1.15"/><circle cx="72.3" cy="483.1" r="1.15"/><circle cx="92.7" cy="477.6" r="1.15"/><circle cx="99.5" cy="497.0" r="1.15"/><circle cx="120.8" cy="482.4" r="1.15"/><circle cx="99.2" cy="487.6" r="1.15"/><circle cx="84.2" cy="470.1" r="1.15"/><circle cx="122.3" cy="475.3" r="1.15"/><circle cx="116.7" cy="497.9" r="1.15"/><circle cx="83.5" cy="505.9" r="1.15"/><circle cx="104.9" cy="484.3" r="1.15"/><circle cx="96.4" cy="487.0" r="1.15"/><circle cx="120.7" cy="491.6" r="1.15"/><circle cx="119.1" cy="492.5" r="1.15"/><circle cx="112.4" cy="499.3" r="1.15"/><circle cx="123.6" cy="468.7" r="1.15"/><circle cx="98.9" cy="465.4" r="1.15"/><circle cx="98.7" cy="473.3" r="1.15"/><circle cx="112.4" cy="496.3" r="1.15"/><circle cx="108.5" cy="498.0" r="1.15"/><circle cx="137.8" cy="479.0" r="1.15"/><circle cx="119.1" cy="492.6" r="1.15"/><circle cx="117.9" cy="462.8" r="1.15"/><circle cx="108.7" cy="486.3" r="1.15"/><circle cx="98.0" cy="460.4" r="1.15"/><circle cx="114.4" cy="471.3" r="1.15"/><circle cx="83.5" cy="477.4" r="1.15"/><circle cx="106.6" cy="502.3" r="1.15"/><circle cx="106.9" cy="505.7" r="1.15"/><circle cx="101.7" cy="509.0" r="1.15"/><circle cx="103.2" cy="483.9" r="1.15"/><circle cx="112.8" cy="508.8" r="1.15"/><circle cx="99.1" cy="472.4" r="1.15"/><circle cx="83.8" cy="498.4" r="1.15"/><circle cx="125.8" cy="468.5" r="1.15"/></g>
<g fill="#8fae8a"><circle cx="143.9" cy="587.5" r="1.15"/><circle cx="174.4" cy="583.1" r="1.15"/><circle cx="156.8" cy="551.4" r="1.15"/><circle cx="183.6" cy="571.5" r="1.15"/><circle cx="191.7" cy="546.1" r="1.15"/><circle cx="160.6" cy="588.2" r="1.15"/><circle cx="171.0" cy="557.1" r="1.15"/><circle cx="174.2" cy="582.6" r="1.15"/><circle cx="184.9" cy="550.9" r="1.15"/><circle cx="167.3" cy="504.2" r="1.15"/><circle cx="177.5" cy="578.0" r="1.15"/><circle cx="170.9" cy="547.2" r="1.15"/><circle cx="177.4" cy="612.0" r="1.15"/><circle cx="168.1" cy="545.6" r="1.15"/><circle cx="171.5" cy="546.2" r="1.15"/><circle cx="157.9" cy="566.5" r="1.15"/><circle cx="160.2" cy="564.2" r="1.15"/><circle cx="173.2" cy="558.5" r="1.15"/><circle cx="178.1" cy="609.1" r="1.15"/><circle cx="166.4" cy="542.2" r="1.15"/><circle cx="141.5" cy="566.7" r="1.15"/><circle cx="154.8" cy="578.3" r="1.15"/><circle cx="158.6" cy="522.0" r="1.15"/><circle cx="202.3" cy="566.0" r="1.15"/><circle cx="185.7" cy="553.4" r="1.15"/><circle cx="188.4" cy="549.4" r="1.15"/><circle cx="177.0" cy="552.1" r="1.15"/><circle cx="168.5" cy="589.7" r="1.15"/><circle cx="147.3" cy="563.0" r="1.15"/><circle cx="176.6" cy="554.4" r="1.15"/><circle cx="205.5" cy="573.9" r="1.15"/><circle cx="171.6" cy="544.2" r="1.15"/><circle cx="158.7" cy="563.0" r="1.15"/><circle cx="156.4" cy="578.7" r="1.15"/><circle cx="189.3" cy="567.6" r="1.15"/><circle cx="159.0" cy="562.3" r="1.15"/><circle cx="178.9" cy="577.5" r="1.15"/><circle cx="176.3" cy="525.3" r="1.15"/><circle cx="176.1" cy="543.2" r="1.15"/><circle cx="161.3" cy="549.2" r="1.15"/><circle cx="180.8" cy="560.0" r="1.15"/><circle cx="153.0" cy="557.0" r="1.15"/><circle cx="176.1" cy="585.4" r="1.15"/><circle cx="178.9" cy="552.1" r="1.15"/><circle cx="176.9" cy="552.6" r="1.15"/><circle cx="167.5" cy="586.0" r="1.15"/><circle cx="191.8" cy="520.4" r="1.15"/><circle cx="160.0" cy="587.8" r="1.15"/><circle cx="173.2" cy="564.7" r="1.15"/><circle cx="166.1" cy="560.2" r="1.15"/><circle cx="168.5" cy="546.7" r="1.15"/><circle cx="164.1" cy="556.6" r="1.15"/><circle cx="177.1" cy="563.1" r="1.15"/><circle cx="158.9" cy="556.9" r="1.15"/><circle cx="184.9" cy="556.9" r="1.15"/><circle cx="154.3" cy="530.4" r="1.15"/><circle cx="172.9" cy="530.8" r="1.15"/><circle cx="191.2" cy="538.2" r="1.15"/><circle cx="174.2" cy="577.5" r="1.15"/><circle cx="183.1" cy="570.3" r="1.15"/><circle cx="171.1" cy="551.9" r="1.15"/><circle cx="160.3" cy="548.8" r="1.15"/><circle cx="139.7" cy="556.7" r="1.15"/><circle cx="165.3" cy="547.4" r="1.15"/><circle cx="161.6" cy="578.3" r="1.15"/><circle cx="166.7" cy="547.1" r="1.15"/><circle cx="158.7" cy="578.1" r="1.15"/><circle cx="172.1" cy="544.6" r="1.15"/><circle cx="161.9" cy="576.4" r="1.15"/><circle cx="180.8" cy="548.7" r="1.15"/><circle cx="136.0" cy="572.5" r="1.15"/><circle cx="151.5" cy="543.0" r="1.15"/><circle cx="165.8" cy="560.1" r="1.15"/><circle cx="205.4" cy="546.4" r="1.15"/><circle cx="181.5" cy="564.6" r="1.15"/><circle cx="183.5" cy="536.8" r="1.15"/><circle cx="176.1" cy="574.8" r="1.15"/><circle cx="181.0" cy="542.4" r="1.15"/><circle cx="177.0" cy="547.1" r="1.15"/><circle cx="164.3" cy="553.7" r="1.15"/><circle cx="175.9" cy="569.6" r="1.15"/><circle cx="145.5" cy="563.0" r="1.15"/><circle cx="172.2" cy="551.5" r="1.15"/><circle cx="164.2" cy="562.6" r="1.15"/><circle cx="156.4" cy="586.0" r="1.15"/><circle cx="217.2" cy="522.4" r="1.15"/><circle cx="180.7" cy="559.7" r="1.15"/><circle cx="177.8" cy="571.6" r="1.15"/><circle cx="177.7" cy="577.9" r="1.15"/><circle cx="148.0" cy="550.1" r="1.15"/><circle cx="177.1" cy="587.4" r="1.15"/><circle cx="175.1" cy="566.7" r="1.15"/><circle cx="168.1" cy="555.0" r="1.15"/><circle cx="170.9" cy="549.4" r="1.15"/><circle cx="183.4" cy="587.7" r="1.15"/><circle cx="173.1" cy="588.2" r="1.15"/><circle cx="152.2" cy="584.7" r="1.15"/><circle cx="165.1" cy="548.6" r="1.15"/><circle cx="184.8" cy="565.6" r="1.15"/><circle cx="177.0" cy="552.5" r="1.15"/><circle cx="167.4" cy="549.4" r="1.15"/><circle cx="184.2" cy="559.7" r="1.15"/><circle cx="179.9" cy="572.2" r="1.15"/><circle cx="156.4" cy="561.7" r="1.15"/><circle cx="159.3" cy="583.1" r="1.15"/><circle cx="166.2" cy="553.2" r="1.15"/><circle cx="187.4" cy="529.8" r="1.15"/><circle cx="181.2" cy="579.8" r="1.15"/><circle cx="188.7" cy="562.7" r="1.15"/><circle cx="193.4" cy="578.8" r="1.15"/></g>
<g fill="#8fae8a"><circle cx="145.1" cy="526.0" r="1.15"/><circle cx="137.3" cy="539.2" r="1.15"/><circle cx="139.7" cy="522.5" r="1.15"/><circle cx="149.7" cy="511.4" r="1.15"/><circle cx="163.1" cy="522.1" r="1.15"/><circle cx="131.5" cy="524.3" r="1.15"/><circle cx="145.0" cy="523.3" r="1.15"/><circle cx="178.1" cy="513.0" r="1.15"/><circle cx="133.7" cy="522.8" r="1.15"/><circle cx="151.9" cy="521.4" r="1.15"/><circle cx="152.3" cy="509.4" r="1.15"/><circle cx="151.4" cy="518.2" r="1.15"/><circle cx="157.6" cy="525.0" r="1.15"/><circle cx="165.1" cy="524.2" r="1.15"/><circle cx="140.0" cy="518.3" r="1.15"/><circle cx="166.7" cy="520.6" r="1.15"/><circle cx="138.2" cy="527.1" r="1.15"/><circle cx="146.7" cy="514.7" r="1.15"/><circle cx="132.6" cy="517.8" r="1.15"/><circle cx="153.6" cy="512.4" r="1.15"/><circle cx="160.2" cy="524.3" r="1.15"/><circle cx="177.3" cy="527.0" r="1.15"/><circle cx="152.3" cy="531.5" r="1.15"/><circle cx="160.2" cy="532.7" r="1.15"/><circle cx="162.2" cy="508.0" r="1.15"/><circle cx="146.1" cy="523.7" r="1.15"/><circle cx="144.5" cy="529.0" r="1.15"/><circle cx="141.1" cy="504.0" r="1.15"/><circle cx="148.8" cy="536.3" r="1.15"/><circle cx="139.5" cy="491.9" r="1.15"/><circle cx="137.3" cy="526.5" r="1.15"/><circle cx="152.3" cy="516.9" r="1.15"/><circle cx="166.7" cy="517.0" r="1.15"/><circle cx="146.7" cy="514.1" r="1.15"/><circle cx="169.3" cy="522.3" r="1.15"/></g>
<g fill="#8fae8a"><circle cx="188.0" cy="507.6" r="1.15"/><circle cx="206.6" cy="490.5" r="1.15"/><circle cx="185.2" cy="503.0" r="1.15"/><circle cx="190.2" cy="504.6" r="1.15"/><circle cx="180.1" cy="509.6" r="1.15"/><circle cx="189.8" cy="498.4" r="1.15"/><circle cx="185.1" cy="500.2" r="1.15"/><circle cx="174.3" cy="502.6" r="1.15"/><circle cx="186.1" cy="497.5" r="1.15"/><circle cx="184.8" cy="506.0" r="1.15"/><circle cx="214.4" cy="501.3" r="1.15"/><circle cx="189.6" cy="506.5" r="1.15"/><circle cx="180.5" cy="490.8" r="1.15"/><circle cx="195.1" cy="504.3" r="1.15"/><circle cx="193.8" cy="496.2" r="1.15"/></g>
<g fill="#1b4418"><circle cx="101.5" cy="457.9" r="1.55"/><circle cx="44.4" cy="491.3" r="1.55"/><circle cx="99.3" cy="492.5" r="1.55"/><circle cx="110.7" cy="508.3" r="1.55"/><circle cx="114.0" cy="455.7" r="1.55"/><circle cx="96.7" cy="484.3" r="1.55"/><circle cx="84.6" cy="475.2" r="1.55"/><circle cx="77.6" cy="475.9" r="1.55"/><circle cx="133.4" cy="478.0" r="1.55"/><circle cx="101.2" cy="462.6" r="1.55"/><circle cx="117.7" cy="459.1" r="1.55"/><circle cx="79.6" cy="476.2" r="1.55"/><circle cx="113.0" cy="494.3" r="1.55"/><circle cx="72.3" cy="461.8" r="1.55"/><circle cx="104.7" cy="471.9" r="1.55"/><circle cx="87.2" cy="477.1" r="1.55"/><circle cx="102.8" cy="489.4" r="1.55"/><circle cx="103.1" cy="465.1" r="1.55"/><circle cx="108.9" cy="489.8" r="1.55"/><circle cx="77.4" cy="474.6" r="1.55"/><circle cx="89.0" cy="476.2" r="1.55"/><circle cx="98.7" cy="476.0" r="1.55"/><circle cx="100.5" cy="458.8" r="1.55"/><circle cx="92.4" cy="489.5" r="1.55"/><circle cx="135.6" cy="479.1" r="1.55"/><circle cx="103.0" cy="483.9" r="1.55"/><circle cx="95.3" cy="467.1" r="1.55"/><circle cx="114.8" cy="471.8" r="1.55"/><circle cx="97.9" cy="458.2" r="1.55"/><circle cx="91.7" cy="495.7" r="1.55"/><circle cx="109.5" cy="466.6" r="1.55"/><circle cx="113.8" cy="462.6" r="1.55"/><circle cx="129.0" cy="481.3" r="1.55"/><circle cx="105.6" cy="462.0" r="1.55"/><circle cx="129.6" cy="513.7" r="1.55"/><circle cx="119.9" cy="449.1" r="1.55"/><circle cx="84.5" cy="457.0" r="1.55"/><circle cx="96.6" cy="484.6" r="1.55"/><circle cx="109.8" cy="484.4" r="1.55"/><circle cx="124.1" cy="469.2" r="1.55"/><circle cx="99.2" cy="481.4" r="1.55"/><circle cx="100.8" cy="493.4" r="1.55"/><circle cx="82.5" cy="499.6" r="1.55"/><circle cx="96.4" cy="466.3" r="1.55"/><circle cx="126.7" cy="499.7" r="1.55"/><circle cx="98.9" cy="462.8" r="1.55"/><circle cx="128.9" cy="466.7" r="1.55"/><circle cx="100.1" cy="496.4" r="1.55"/><circle cx="83.9" cy="497.4" r="1.55"/><circle cx="100.3" cy="474.4" r="1.55"/><circle cx="142.5" cy="470.3" r="1.55"/><circle cx="69.5" cy="479.5" r="1.55"/><circle cx="73.8" cy="471.1" r="1.55"/><circle cx="80.2" cy="476.8" r="1.55"/><circle cx="90.4" cy="502.5" r="1.55"/><circle cx="94.7" cy="498.4" r="1.55"/><circle cx="70.5" cy="437.9" r="1.55"/><circle cx="126.8" cy="459.6" r="1.55"/><circle cx="84.4" cy="481.0" r="1.55"/><circle cx="84.7" cy="479.6" r="1.55"/><circle cx="80.5" cy="491.8" r="1.55"/><circle cx="78.7" cy="444.3" r="1.55"/><circle cx="93.5" cy="469.8" r="1.55"/><circle cx="161.5" cy="460.1" r="1.55"/><circle cx="119.9" cy="480.5" r="1.55"/><circle cx="120.6" cy="455.7" r="1.55"/><circle cx="63.8" cy="455.5" r="1.55"/><circle cx="100.3" cy="494.5" r="1.55"/><circle cx="90.1" cy="467.8" r="1.55"/><circle cx="83.1" cy="465.9" r="1.55"/><circle cx="110.1" cy="498.0" r="1.55"/><circle cx="50.2" cy="483.6" r="1.55"/><circle cx="112.4" cy="478.1" r="1.55"/><circle cx="106.7" cy="470.1" r="1.55"/><circle cx="114.2" cy="477.0" r="1.55"/></g>
<g fill="#1b4418"><circle cx="168.8" cy="515.7" r="1.5"/><circle cx="177.7" cy="508.2" r="1.5"/><circle cx="191.1" cy="492.2" r="1.5"/><circle cx="195.7" cy="500.5" r="1.5"/><circle cx="187.4" cy="497.6" r="1.5"/><circle cx="183.1" cy="512.9" r="1.5"/><circle cx="188.1" cy="498.7" r="1.5"/><circle cx="169.2" cy="497.0" r="1.5"/><circle cx="179.6" cy="508.9" r="1.5"/><circle cx="180.9" cy="485.3" r="1.5"/><circle cx="199.9" cy="501.5" r="1.5"/><circle cx="179.1" cy="502.3" r="1.5"/><circle cx="158.7" cy="504.2" r="1.5"/><circle cx="186.8" cy="503.9" r="1.5"/><circle cx="180.8" cy="504.1" r="1.5"/><circle cx="192.9" cy="505.7" r="1.5"/><circle cx="185.7" cy="509.4" r="1.5"/><circle cx="176.9" cy="508.4" r="1.5"/><circle cx="187.8" cy="503.6" r="1.5"/><circle cx="176.4" cy="502.1" r="1.5"/><circle cx="191.6" cy="491.0" r="1.5"/><circle cx="174.5" cy="488.3" r="1.5"/></g>
<g fill="#1b4418"><circle cx="28.6" cy="438.8" r="1.35"/><circle cx="75" cy="436.7" r="1.35"/><circle cx="107.5" cy="427.6" r="1.35"/><circle cx="21.2" cy="482.6" r="1.35"/><circle cx="28.3" cy="500" r="1.35"/><circle cx="104" cy="540" r="1.35"/><circle cx="106" cy="543" r="1.35"/></g>
<circle cx="91.1" cy="490.6" r="2.9" fill="#1414ff"/>
<circle cx="141.4" cy="514.2" r="2.9" fill="#1414ff"/>
<circle cx="152" cy="529.5" r="2.9" fill="#1414ff"/>
<circle cx="183.1" cy="564.2" r="2.9" fill="#1414ff"/>
<circle cx="177.9" cy="574.8" r="2.9" fill="#1414ff"/>
<circle cx="190.2" cy="594.4" r="2.9" fill="#1414ff"/>
</g>
<text x="151.4" y="478.9" font-size="6.6" fill="#8a8a8a" stroke="#8a8a8a" stroke-width="0.16" text-anchor="start" font-weight="normal" >TTd1</text>
<text x="191.7" y="526.9" font-size="6.6" fill="#8a8a8a" stroke="#8a8a8a" stroke-width="0.16" text-anchor="start" font-weight="normal" >LSr</text>
<text x="87.6" y="550.7" font-size="6.6" fill="#8a8a8a" stroke="#8a8a8a" stroke-width="0.16" text-anchor="start" font-weight="normal" >MS</text>
<text x="215.1" y="590.3" font-size="6.6" fill="#8a8a8a" stroke="#8a8a8a" stroke-width="0.16" text-anchor="start" font-weight="normal" >NDB</text>
<path d="M190,444.5 L204.5,458 M204,444 L190,458.5 M187,449 L207,456 M197.3,447 L197.3,459" stroke="#222" stroke-width="0.7"/>
<text x="197.3" y="443.0" font-size="5.4" fill="#222" stroke="#222" stroke-width="0.16" text-anchor="middle" font-weight="normal" >D</text>
<text x="206.0" y="444.4" font-size="5.4" fill="#222" stroke="#222" stroke-width="0.16" text-anchor="middle" font-weight="normal" >L</text>
<text x="184.7" y="450.7" font-size="5.4" fill="#222" stroke="#222" stroke-width="0.16" text-anchor="middle" font-weight="normal" >P</text>
<text x="209.2" y="460.2" font-size="5.4" fill="#222" stroke="#222" stroke-width="0.16" text-anchor="middle" font-weight="normal" >A</text>
<text x="187.5" y="464.8" font-size="5.4" fill="#222" stroke="#222" stroke-width="0.16" text-anchor="middle" font-weight="normal" >M</text>
<text x="197.3" y="467.2" font-size="5.4" fill="#222" stroke="#222" stroke-width="0.16" text-anchor="middle" font-weight="normal" >V</text>
<circle cx="21" cy="584.1" r="2.8" fill="#1414ff"/>
<text x="28.0" y="586.4" font-size="6.5" fill="#222" stroke="#222" stroke-width="0.16" text-anchor="start" font-weight="normal" >Soma locations</text>
<circle cx="21" cy="594.7" r="2.8" fill="#cfe0c8"/>
<text x="28.0" y="597.0" font-size="6.5" fill="#222" stroke="#222" stroke-width="0.16" text-anchor="start" font-weight="normal" >Branching points</text>
<circle cx="21" cy="604.8" r="2.8" fill="#f07a1e"/>
<text x="28.0" y="607.1" font-size="6.5" fill="#222" stroke="#222" stroke-width="0.16" text-anchor="start" font-weight="normal" >Terminals of afferents from NDB</text>
<circle cx="21" cy="615.3" r="2.8" fill="#1b4418"/>
<text x="28.0" y="617.6" font-size="6.5" fill="#222" stroke="#222" stroke-width="0.16" text-anchor="start" font-weight="normal" >Terminals of afferents from LSr</text>
<text x="250.8" y="190.4" font-size="13" fill="#000" text-anchor="start" font-weight="bold" >e</text>
<path d="M259.5,246.0 C260.4,231.7 261.6,238.0 265.0,234.0 C268.4,230.0 273.0,225.7 280.0,222.0 C287.0,218.3 297.8,215.2 307.0,212.0 C316.2,208.8 325.5,205.5 335.0,203.0 C344.5,200.5 351.7,198.6 364.0,197.0 C376.3,195.4 395.2,193.9 409.0,193.3 C422.8,192.7 435.5,191.5 447.0,193.3 C458.5,195.1 470.5,200.9 478.0,204.0 C485.5,207.1 489.2,206.0 492.0,212.0 C494.8,218.0 494.5,225.3 495.0,240.0 C495.5,254.7 495.0,282.5 495.0,300.0 C495.0,317.5 496.0,336.0 494.8,345.0 C493.6,354.0 490.9,351.8 488.0,354.0 C485.1,356.2 485.7,357.0 477.7,358.4 C469.7,359.8 451.3,360.3 440.0,362.2 C428.7,364.1 419.5,367.8 410.0,370.0 C400.5,372.2 391.3,375.1 383.0,375.4 C374.7,375.7 366.3,373.6 360.0,372.0 C353.7,370.4 351.7,367.7 345.0,366.0 C338.3,364.3 327.5,363.3 320.0,362.0 C312.5,360.7 306.7,359.3 300.0,358.0 C293.3,356.7 286.3,355.7 280.0,354.0 C273.7,352.3 265.4,353.7 262.0,348.0 C258.6,342.3 259.9,337.0 259.5,320.0 C259.1,303.0 258.6,260.3 259.5,246.0 Z" fill="#ececec" stroke="#dddddd" stroke-width="0.8"/>
<path d="M288,246 C300,232 318,222 336,216 C355,209 368,206 382,205 C400,203 430,200 452,204 C470,208 478,215 480,225 L478,232 C470,222 455,215 430,214 C405,214 380,216 360,220 C335,226 312,236 296,250 Z" fill="#e2e2e2" opacity="0.6"/>
<path d="M296,250 C312,236 335,226 360,220 C385,216 410,214 430,214 C450,216 462,222 468,232 C472,260 470,300 462,330 C450,350 420,358 390,358 C355,356 330,350 312,340 C300,320 294,290 296,250 Z" fill="#f4f4f4"/>
<path d="M259,246 C265,243 280,244 292,250 C298,262 300,285 298,310 C296,330 288,348 275,356 C268,355 262,352 259,345 Z" fill="#e4e4e4" opacity="0.9" stroke="#d6d6d6" stroke-width="0.5"/>
<path d="M262,250 C270,252 280,256 285,262 C288,285 286,310 280,330 M268,248 C275,270 276,300 272,340" fill="none" stroke="#d4d4d4" stroke-width="0.5"/>
<path d="M438,214 C455,208 478,210 488,222 C496,250 496,300 492,340 C488,360 470,368 450,364 C440,350 436,330 436,300 C436,270 436,240 438,214 Z" fill="#e8e8e8" opacity="0.7" stroke="#dcdcdc" stroke-width="0.5"/>
<path d="M452,280 C460,270 475,272 480,285 C484,300 480,320 470,326 C460,330 452,320 450,305 C449,295 450,287 452,280 Z" fill="none" stroke="#d2d2d2" stroke-width="0.8"/>
<path d="M446,232 C458,224 476,226 484,236" fill="none" stroke="#d6d6d6" stroke-width="0.8"/>
<path d="M330,345 C360,352 400,350 430,344 C445,340 455,338 462,330" fill="none" stroke="#dadada" stroke-width="0.8"/>
<path d="M300,356 C330,366 380,370 420,366" fill="none" stroke="#dedede" stroke-width="0.8"/>
<path d="M400,248 C407,251 414,256 420,262 C426,268 431,275 434,283 C436,289 436,293 435,296" fill="none" stroke="#56bd64" stroke-width="10" stroke-linecap="round"/>
<path d="M405,250 C414,256 422,264 428,274" fill="none" stroke="#3e9a4c" stroke-width="3" opacity="0.6"/>
<path d="M383,239 C390,241 398,246 405,253 C411,259 415,266 419,275 C423,284 426,292 429,299 C430,302 431,304 432,305" fill="none" stroke="#9866c8" stroke-width="9" stroke-linecap="round"/>
<path d="M423,287 C426,294 429,300 432,305" fill="none" stroke="#c4a0ea" stroke-width="8" stroke-linecap="round"/>
<path d="M372,248 C370,241 374,236 381,236 C390,237 398,242 404,249 C402,255 394,257 385,256 C378,255 373,252 372,248 Z" fill="#2f7a3a"/>
<path d="M376,240 C382,238 390,240 396,245" fill="none" stroke="#4a9a55" stroke-width="1.2" opacity="0.7"/>
<path d="M442.6,287.4 L441.9,285.5 L441.9,283.5 L440.1,282.5 L438.2,283.0 L436.2,283.5 L434.3,284.1 L432.4,284.5 L430.9,285.9 L429.0,286.3 L427.5,284.9 L426.8,283.0 L426.2,281.1 L426.5,279.1 L428.2,280.2 L429.1,282.0 L430.1,283.7 L432.1,283.3 L434.0,282.7 M432.1,255.5 L432.5,257.5 L431.9,259.4 L431.6,261.3 L430.2,262.8 L428.2,262.5 L427.3,260.7 L428.2,259.0 L427.8,257.0 L427.7,255.0 L427.0,253.2 L427.3,251.2 L427.8,249.3 L428.6,247.4 L429.9,245.9 L430.6,244.0 L431.5,242.2 L431.5,240.2 L432.1,242.1 M434.6,241.2 L432.8,240.3 L434.4,241.4 L435.9,242.8 L436.7,244.6 L435.1,245.9 L433.1,246.3 L431.5,247.4 L430.5,249.2 L428.8,250.2 L429.6,252.0 L428.1,253.3 L426.8,254.8 L425.3,256.2 L423.3,256.1 L421.7,255.0 L421.1,253.1 L420.4,251.2 L421.8,252.7 M433.9,253.0 L431.9,253.2 L430.1,253.9 L428.1,254.4 L426.1,254.2 L424.6,255.5 L422.8,254.7 L420.8,254.8 L419.2,253.6 L420.4,255.2 L419.8,257.1 L418.5,258.5 L420.5,258.4 L422.3,257.5 L422.9,255.6 L424.9,255.5 L426.0,253.8 L424.5,252.6 L424.7,250.6 M448.3,259.5 L448.8,257.6 L449.3,255.7 L447.6,254.8 L445.9,253.7 L444.5,252.2 L443.7,250.4 L441.7,250.1 L440.6,251.7 L439.2,253.2 L437.4,254.0 L435.5,254.5 L433.6,255.3 L431.7,255.0 L429.8,254.4 L428.0,253.4 L426.0,253.8 L424.8,252.2 L425.5,250.3 M432.1,252.2 L434.1,251.8 L434.9,249.9 L435.4,248.0 L436.6,246.4 L438.0,244.9 L439.9,244.4 L440.7,242.6 L441.0,244.5 L442.5,245.8 L443.5,247.5 L444.0,249.5 L445.2,251.1 L447.0,252.0 L448.8,252.7 L447.4,254.1 L447.0,256.0 L448.8,256.8 L447.0,257.6 M420.7,241.2 L420.7,243.2 L422.2,244.6 L422.9,246.4 L423.8,248.2 L425.2,249.6 L426.5,251.2 L426.7,253.2 L428.0,254.6 L428.4,256.6 L427.8,258.5 L427.8,260.5 L426.6,262.1 L425.4,263.7 L423.6,264.6 L421.7,265.2 L419.8,264.7 L417.8,264.6 L419.2,266.0 M439.0,285.6 L438.0,283.8 L438.4,281.9 L438.8,279.9 L440.7,279.1 L442.7,279.1 L444.5,279.9 L445.1,281.8 L445.8,283.7 L444.6,282.0 L443.7,280.2 L442.2,278.9 L441.2,277.2 L441.0,275.2 L440.2,273.4 L438.4,272.6 L436.5,271.8 L434.9,270.6 L433.2,269.5 M423.5,253.0 L424.2,251.1 L424.8,249.2 L425.0,247.2 L423.8,245.6 L424.9,247.3 L424.7,249.3 L426.6,249.6 L428.6,249.3 L430.5,249.8 L432.3,250.8 L434.0,251.8 L435.5,253.1 L436.8,254.6 L437.5,256.5 L439.4,257.1 L441.1,256.2 L443.1,255.8 L444.7,257.0 M436.0,245.8 L434.2,246.6 L432.7,248.1 L431.0,249.1 L429.0,249.0 L427.1,248.4 L425.2,247.9 L424.5,246.0 L424.6,244.0 L426.0,245.4 L427.2,247.0 L429.0,247.8 L430.4,249.3 L432.3,248.9 L432.8,247.0 L434.3,245.6 L436.1,244.9 L436.6,242.9 L437.1,241.0 M448.8,246.2 L448.9,248.2 L448.7,250.2 L447.8,252.0 L446.7,253.7 L447.3,255.6 L449.0,256.7 L447.7,258.2 L445.8,258.8 L443.9,259.4 L442.1,260.5 L440.1,260.4 L438.4,259.5 L437.4,257.7 L437.4,255.7 L437.8,253.8 L439.6,252.9 L441.0,251.5 L442.0,249.8 M435.2,288.8 L436.3,290.5 L437.3,288.8 L436.3,287.0 L436.3,285.0 L436.1,283.1 L435.7,281.1 L437.4,280.0 L439.4,279.8 L440.9,281.1 L442.1,282.7 L441.9,284.7 L441.8,286.7 L442.2,284.7 L442.0,282.7 L440.6,281.4 L439.6,279.6 L438.5,278.0 L438.0,276.0 M427.4,274.0 L427.9,275.9 L428.4,277.9 L427.9,279.8 L429.7,280.8 L431.5,281.7 L433.3,282.4 L435.3,282.8 L437.2,283.2 L439.0,282.2 L439.9,280.4 L440.8,278.7 L441.8,276.9 L442.3,275.0 L442.7,273.1 L442.7,271.1 L443.8,269.4 L445.5,268.4 L446.8,266.8 M446.9,287.6 L445.8,285.9 L445.8,283.9 L444.5,282.3 L443.9,280.4 L442.0,280.0 L441.4,278.1 L439.9,276.8 L439.8,274.8 L439.8,272.8 L441.7,272.0 L443.6,272.4 L445.6,272.8 L447.0,271.3 L448.4,270.0 L450.1,268.9 L448.3,269.7 L447.0,271.2 L446.6,273.2 M437.1,250.3 L437.5,252.3 L437.0,254.2 L438.2,255.8 L440.2,255.8 L442.2,256.3 L444.1,256.9 L445.8,255.7 L447.3,254.5 L449.1,253.6 L447.4,254.6 L445.6,255.5 L445.2,257.4 L444.7,259.4 L444.6,261.4 L445.2,263.3 L443.7,264.6 L441.7,264.4 L439.9,265.3 M431.3,255.0 L429.8,256.4 L427.9,255.9 L426.5,254.5 L425.1,253.1 L424.0,251.4 L422.2,250.4 L421.4,248.6 L422.9,249.9 L424.7,250.9 L426.6,250.5 L428.4,251.4 L428.7,253.4 L428.0,255.3 L429.6,256.5 L431.3,257.5 L433.3,257.8 L435.2,258.4 L436.4,256.8 M418.6,257.3 L419.3,259.2 L418.1,260.8 L419.6,262.1 L421.0,263.5 L423.0,263.8 L424.9,263.0 L426.7,262.3 L427.4,260.4 L429.2,259.5 L430.7,260.7 L432.4,259.7 L433.8,258.3 L435.8,257.8 L435.3,259.7 L436.7,261.2 L438.4,262.1 L440.3,262.9 L441.6,261.4 M431.0,270.4 L429.1,270.9 L427.3,270.1 L425.6,268.9 L423.7,268.7 L421.7,268.3 L419.8,267.7 L417.9,268.5 L419.7,269.5 L421.3,270.7 L422.8,272.0 L423.8,273.7 L423.6,275.7 L424.1,277.7 L423.4,279.6 L423.6,281.5 L423.2,283.5 L423.0,281.5 L423.5,279.6 M436.4,241.2 L435.2,242.8 L435.0,244.8 L433.8,246.4 L432.8,248.2 L430.9,248.7 L429.1,249.6 L427.2,250.4 L425.2,250.5 L423.8,251.9 L422.0,252.7 L421.6,254.7 L421.7,256.7 L423.5,256.0 L425.0,254.6 L426.8,253.9 L428.6,254.9 L430.3,255.9 L432.3,255.7 M426.9,276.3 L427.2,278.2 L427.7,280.2 L429.7,280.6 L431.7,280.6 L433.7,280.7 L435.2,279.4 L437.2,279.6 L438.9,278.5 L440.5,277.4 L441.2,275.5 L442.7,274.2 L443.0,272.2 L442.2,270.4 L442.7,268.5 L441.8,266.7 L440.3,265.3 L439.4,263.6 L438.8,261.6 M418.6,275.2 L420.4,274.4 L422.1,273.3 L423.4,271.7 L425.3,271.5 L427.0,272.6 L427.2,274.6 L427.5,276.6 L426.1,278.1 L424.9,279.7 L423.2,280.7 L421.4,281.4 L422.4,279.8 L422.8,277.8 L422.7,275.8 L421.6,274.1 L420.1,272.8 L418.1,272.4 L420.1,272.0 M449.4,274.3 L448.8,272.4 L448.1,270.5 L447.1,268.8 L446.0,267.1 L444.0,266.8 L442.3,267.7 L440.3,268.2 L438.4,267.6 L436.5,267.3 L434.6,268.0 L433.6,269.7 L433.2,271.7 L432.1,273.3 L430.9,275.0 L431.4,276.9 L433.0,278.1 L434.3,279.6 L435.4,281.3 M449.4,288.8 L448.5,287.0 L447.1,285.6 L445.6,284.3 L444.8,282.4 L443.5,280.9 L442.8,279.1 L442.8,277.1 L443.1,275.1 L444.3,273.4 L446.2,272.9 L448.2,272.9 L450.1,272.1 L448.7,270.7 L448.1,268.8 L448.3,266.8 L448.6,264.8 L448.1,262.9 L447.1,261.1 M421.0,275.9 L419.7,274.4 L421.5,273.6 L421.9,271.7 L421.3,269.8 L419.4,269.0 L417.5,268.5 L419.5,268.1 L421.0,266.8 L422.7,267.7 L424.7,267.3 L426.3,268.5 L426.8,270.5 L427.0,272.4 L425.7,274.0 L425.6,276.0 L426.2,277.9 L427.1,279.7 L427.6,281.6 M432.0,288.8 L431.2,287.0 L429.8,285.5 L428.3,284.2 L426.3,283.7 L425.3,282.0 L423.7,280.8 L421.7,280.5 L422.7,278.7 L423.6,276.9 L424.9,275.4 L425.3,273.5 L427.2,272.7 L429.0,271.9 L430.5,270.6 L431.8,269.1 L433.5,268.1 L434.8,266.5 L435.0,264.5 M435.2,281.3 L435.0,279.4 L435.7,277.5 L435.4,275.5 L434.2,273.9 L432.3,273.1 L430.3,272.7 L428.5,271.9 L427.6,270.2 L426.3,268.6 L426.0,266.6 L426.7,264.7 L428.7,264.7 L430.6,264.0 L432.5,263.7 L434.5,264.2 L436.4,264.8 L437.9,266.1 L439.9,266.6 M430.0,254.3 L428.0,254.3 L426.1,253.7 L424.2,254.2 L422.3,254.9 L420.6,255.9 L418.7,255.3 L420.7,255.1 L422.3,253.9 L423.9,252.9 L425.8,253.5 L427.7,252.7 L429.7,253.0 L430.9,254.6 L432.0,256.2 L434.0,256.4 L434.6,258.4 L435.6,260.1 L436.5,261.8 M449.4,257.2 L447.4,257.6 L445.5,257.0 L443.5,257.1 L441.7,257.8 L439.9,258.8 L438.2,257.7 L436.3,258.1 L434.9,259.5 L433.2,260.5 L433.4,262.5 L432.1,264.0 L432.0,266.0 L430.6,267.4 L429.4,269.0 L428.5,270.8 L429.0,272.8 L427.8,274.4 L427.0,276.2 M419.3,275.6 L421.2,275.1 L423.2,274.6 L425.1,274.3 L427.0,275.0 L428.5,276.3 L430.0,277.6 L431.7,278.7 L433.5,279.4 L435.5,279.7 L437.4,279.0 L439.2,278.2 L439.8,276.3 L440.9,274.6 L441.1,272.6 L441.9,270.8 L442.6,268.9 L442.7,266.9 L441.8,265.2 M447.9,288.8 L446.4,287.5 L445.0,286.1 L444.6,284.1 L444.5,282.1 L443.9,280.2 L442.2,279.2 L440.3,279.8 L438.5,280.7 L436.8,279.6 L435.9,277.9 L435.0,276.1 L434.6,274.1 L435.2,272.2 L435.8,270.3 L436.7,268.5 L437.8,266.8 L438.3,264.9 L437.4,263.1 M427.8,284.3 L425.8,284.6 L423.9,284.0 L425.9,283.7 L427.5,284.9 L429.3,285.9 L430.5,287.5 L431.5,289.2 L432.2,287.3 L430.8,285.9 L429.4,284.5 L427.4,284.9 L425.4,285.3 L425.9,283.3 L427.3,282.0 L428.9,283.2 L430.4,281.8 L432.0,282.9 L432.5,284.9 M444.7,255.7 L444.1,253.8 L442.9,252.2 L441.0,252.9 L440.8,254.9 L439.1,255.9 L438.8,257.9 L437.1,259.0 L435.1,259.2 L434.9,261.2 L434.4,263.1 L433.2,264.7 L431.2,265.3 L429.5,264.3 L428.9,262.4 L428.2,260.6 L427.2,258.8 L426.1,257.2 L425.5,255.3 M423.8,247.0 L423.2,248.9 L423.5,250.9 L425.1,252.1 L426.2,253.7 L428.0,254.6 L429.1,256.3 L430.8,257.3 L432.0,258.9 L433.3,260.4 L435.0,261.4 L436.9,261.9 L437.7,263.7 L438.4,265.6 L438.6,267.6 L438.2,269.6 L438.3,271.6 L439.1,273.4 L439.5,275.3 M433.2,280.8 L431.8,279.4 L431.3,277.5 L431.1,275.5 L431.2,273.5 L431.5,271.5 L432.5,269.8 L433.1,267.9 L434.5,266.4 L436.3,265.6 L437.1,263.8 L436.0,262.2 L435.2,260.3 L434.0,258.7 L432.2,257.8 L430.3,258.3 L429.1,260.0 L429.8,261.8 L430.9,263.5 M418.6,241.2 L420.6,240.8 L421.8,242.3 L421.9,244.3 L421.3,246.2 L421.9,248.1 L422.4,250.1 L421.7,252.0 L422.3,253.9 L423.3,255.6 L424.7,257.1 L426.5,257.9 L425.8,259.8 L424.7,261.5 L422.7,262.0 L421.0,263.0 L420.2,264.8 L422.0,265.7 L424.0,265.6 M435.6,252.7 L434.9,254.6 L433.5,256.1 L432.5,257.7 L432.2,259.7 L432.3,261.7 L433.6,263.3 L433.9,265.3 L434.2,267.2 L435.0,269.1 L435.3,271.0 L437.0,272.1 L437.9,270.3 L439.8,269.6 L441.3,268.3 L443.3,267.8 L444.6,266.4 L444.0,264.5 L442.4,263.4 M443.7,270.9 L442.9,272.7 L441.2,273.9 L439.3,273.4 L437.6,272.3 L436.5,270.6 L435.2,269.1 L434.2,267.3 L434.3,265.3 L434.5,263.4 L434.0,261.4 L433.5,259.5 L432.4,257.8 L430.4,257.5 L428.5,258.2 L426.8,259.1 L425.2,260.4 L423.4,259.6 L421.4,259.4 M418.6,269.0 L420.6,269.4 L422.3,270.3 L424.3,270.0 L426.3,270.4 L428.2,271.1 L429.8,272.2 L430.2,274.2 L431.4,275.8 L433.2,276.6 L434.6,275.2 L436.6,275.3 L438.4,274.4 L440.3,275.0 L442.0,275.9 L442.8,277.8 L443.3,279.7 L443.2,281.7 L443.5,283.7 M438.7,246.8 L437.4,245.3 L436.5,243.5 L434.7,242.7 L434.1,240.7 L435.3,242.3 L435.5,244.3 L434.4,245.9 L433.4,247.7 L432.4,249.4 L430.7,250.4 L429.6,252.1 L428.6,253.8 L426.8,254.8 L424.9,255.1 L423.5,256.5 L423.7,258.5 L423.8,260.5 L425.7,261.1 M437.6,248.4 L438.3,246.5 L439.5,245.0 L440.6,243.3 L440.9,241.3 L440.2,243.2 L439.2,244.9 L439.3,246.9 L439.0,248.9 L440.8,249.7 L442.5,250.7 L444.5,250.6 L445.8,249.1 L444.3,250.3 L443.0,251.8 L443.0,253.8 L441.5,255.2 L440.1,256.6 L439.4,258.5 M418.6,279.4 L420.6,279.3 L420.8,277.3 L419.1,276.2 L421.1,275.8 L423.0,275.2 L425.0,274.7 L426.9,275.2 L428.8,275.8 L430.8,275.7 L431.3,273.8 L430.9,271.8 L431.0,269.8 L432.6,268.5 L431.4,266.9 L429.7,265.8 L427.8,265.9 L425.8,266.2 L424.2,264.9 M423.5,283.8 L425.5,284.2 L427.5,284.0 L429.0,282.6 L430.5,281.3 L432.1,280.2 L434.1,279.9 L436.1,279.8 L438.0,280.4 L439.9,280.9 L441.9,281.1 L443.6,280.0 L444.6,278.2 L445.5,276.4 L444.8,274.5 L445.1,272.5 L444.9,270.5 L445.9,268.9 L447.6,267.8 M430.0,288.8 L428.7,287.3 L427.5,285.7 L427.5,283.7 L426.7,281.9 L426.6,279.9 L425.6,278.2 L425.6,276.2 L425.4,274.2 L425.0,272.2 L424.0,270.5 L422.8,268.8 L423.1,266.8 L423.1,264.8 L422.3,263.0 L421.0,261.5 L419.3,260.4 L417.4,261.0 L419.4,260.8 M432.1,288.7 L434.0,289.3 L433.9,287.3 L433.2,285.5 L431.9,283.9 L430.4,282.6 L429.6,280.8 L429.0,278.9 L429.1,276.9 L428.2,275.1 L426.2,274.9 L424.2,275.1 L422.4,274.3 L420.5,273.7 L418.5,273.8 L420.3,273.0 L421.5,271.4 L420.8,269.6 L420.3,267.6 M433.9,284.6 L433.0,282.8 L431.6,281.5 L429.8,280.5 L427.9,280.1 L426.2,279.1 L425.3,277.3 L423.6,276.2 L421.6,276.3 L419.7,275.8 L420.4,274.0 L420.9,272.0 L421.2,270.0 L423.2,269.9 L425.1,270.3 L426.8,271.4 L427.1,273.4 L427.0,275.4 L427.3,277.3" fill="none" stroke="#9a70cc" stroke-width="0.35" opacity="0.9"/>
<path d="M402.9,244.3 L404.2,245.8 L404.7,243.9 L404.4,241.9 L406.0,240.7 L407.9,240.2 L409.9,240.5 L410.7,238.6 L412.5,237.8 L414.2,236.7 L416.2,236.6 L418.1,237.1 L418.6,239.0 M419.4,245.0 L417.5,244.4 L417.0,242.4 L415.6,241.0 L413.7,240.6 L411.9,241.6 L409.9,241.7 L408.0,242.1 L406.0,241.8 L404.8,240.2 L403.7,238.5 L401.7,238.4 L399.9,239.3 M419.9,244.2 L418.1,243.4 L416.1,243.9 L414.2,244.5 L412.5,245.4 L412.7,243.4 L411.9,241.6 L412.3,239.7 L413.2,237.9 L415.0,238.7 L417.0,238.4 L418.7,237.3 L420.5,236.7 M419.0,236.4 L421.0,236.7 L422.4,238.1 L423.9,239.4 L425.7,240.3 L427.7,240.4 L425.7,240.4 L423.8,239.9 L421.8,239.7 L420.0,240.7 L418.6,242.0 L418.2,244.0 L417.3,245.8 M396.7,245.0 L397.5,243.2 L399.2,242.1 L401.1,241.4 L402.9,242.3 L404.8,241.8 L406.8,241.5 L407.3,239.5 L405.3,239.6 L403.7,240.7 L405.0,242.2 L405.8,244.1 L405.7,246.1 M415.7,231.0 L414.2,232.4 L413.8,234.3 L414.2,236.3 L416.1,237.0 L418.0,237.6 L420.0,238.0 L421.9,238.4 L423.9,238.8 L425.9,238.9 L427.7,239.7 L425.8,240.1 L423.9,240.6 M405.4,240.1 L407.3,240.9 L408.1,242.7 L408.2,244.7 L409.5,246.2 L409.8,244.2 L410.2,242.3 L412.1,241.7 L414.0,242.4 L415.7,241.5 L417.6,240.6 L419.5,240.9 L420.8,242.5 M416.5,236.1 L418.4,235.5 L417.9,233.5 L416.2,232.5 L414.2,232.2 L412.4,232.9 L410.6,232.1 L408.6,231.8 L407.4,230.1 L409.4,230.5 L410.0,232.4 L410.1,234.4 L409.2,236.2 M394.8,242.8 L396.6,241.8 L398.0,240.4 L400.0,240.4 L400.1,238.4 L401.4,236.9 L403.4,237.0 L404.5,238.7 L406.3,239.7 L408.3,239.7 L409.7,241.2 L410.4,243.0 L410.8,245.0 M399.5,236.6 L401.5,236.3 L403.4,236.6 L405.4,236.2 L406.0,234.3 L406.9,232.5 L408.9,232.0 L409.8,230.2 L408.5,231.7 L406.7,232.6 L404.7,232.2 L403.5,233.8 L401.7,234.7 M406.9,231.0 L406.9,233.0 L406.0,234.8 L404.5,236.2 L402.7,237.0 L400.9,236.1 L400.6,234.2 L402.0,232.7 L402.5,230.8 L403.3,232.6 L403.2,234.6 L403.7,236.6 L404.5,238.4 M421.2,237.3 L419.5,238.3 L417.5,238.3 L415.5,238.6 L414.5,236.9 L414.3,234.9 L414.7,233.0 L414.0,231.1 L413.4,233.1 L411.9,234.3 L409.9,234.8 L407.9,234.8 L406.8,236.4" fill="none" stroke="#9a70cc" stroke-width="0.35" opacity="0.9"/>
<path d="M362.2,254.4 L360.5,257.5 L357.8,259.3 L355.5,261.5 L353.2,263.9 L349.0,264.1 L349.1,269.1 L344.6,268.9 L340.8,269.4 L340.7,274.1 L337.5,275.4 L336.8,279.4 L332.5,280.0 L329.7,281.9 L329.4,285.8 L327.2,288.1 L324.7,290.2 L323.5,294.3 L322.0,297.3 L323.0,300.7 L322.7,304.0 L318.7,306.5 L322.3,310.7 L323.3,313.8 L323.6,317.0 L325.1,320.0 L325.8,323.4 L327.3,326.2 L330.5,328.0 L332.9,330.3 L334.5,333.0 M366.0,257.2 L363.2,259.1 L358.2,258.0 L357.0,262.3 L353.5,263.3 L351.0,265.9 L347.1,266.6 L345.5,270.0 L343.1,272.5 L339.7,273.8 L339.6,278.9 L334.7,279.0 L333.3,282.3 L330.5,284.4 L328.0,286.8 L324.6,288.4 L324.2,293.3 L324.2,296.8 L322.1,299.9 L322.6,303.5 L321.9,306.8 L323.3,310.5 L322.0,314.3 L324.3,317.3 L322.8,321.1 L325.5,324.7 L327.0,327.8 L330.1,329.9 L330.9,333.5 L334.7,335.4 L337.6,337.3 M360.3,256.5 L358.9,260.0 L355.3,260.3 L353.4,263.0 L350.7,264.7 L348.1,266.6 L346.3,269.2 L344.7,272.0 L342.9,274.7 L339.1,275.1 L336.1,276.4 L334.6,279.7 L331.3,281.0 L329.8,283.7 L328.2,286.5 L326.1,288.8 L321.9,291.8 L323.7,295.3 L321.4,298.0 L322.3,301.3 L321.7,304.4 L319.5,307.1 L321.4,311.3 L321.0,314.6 L323.7,317.2 L324.0,320.3 L324.8,324.0 L326.9,326.3 L328.3,329.1 L330.1,331.7 L331.5,334.4 M371.2,255.2 L368.6,257.5 L366.0,259.6 L363.8,262.3 L360.9,264.0 L358.0,265.7 L353.9,265.9 L352.7,269.4 L350.6,272.2 L347.1,273.3 L344.6,275.6 L342.6,278.4 L339.3,279.7 L338.5,283.0 L336.5,285.7 L333.9,287.9 L331.6,290.4 L329.4,292.9 L328.5,294.4 L327.0,297.5 L327.2,301.0 L326.3,304.3 L326.3,307.7 L327.4,309.6 L327.2,313.0 L328.8,316.1 L327.9,319.8 L329.6,321.5 L332.1,323.9 L333.2,327.2 L334.9,330.1 M364.5,257.3 L359.8,257.8 L356.8,260.7 L353.9,263.6 L351.5,267.2 L347.7,269.0 L345.0,272.1 L342.3,275.2 L339.4,278.0 L336.4,280.7 L335.3,285.0 L330.6,286.4 L328.2,289.7 L326.7,293.0 L325.9,297.0 L326.5,301.3 L325.1,305.2 L325.3,308.4 L326.6,312.3 L326.3,316.6 L325.3,320.9 L327.7,324.3 L331.4,326.7 L334.2,329.8 L334.6,334.2 L339.6,333.3 L343.2,335.2 L346.4,338.0 L349.6,340.0 L353.7,340.2 L358.3,337.3 M369.0,259.2 L364.6,259.4 L363.6,264.4 L359.9,265.7 L355.8,266.4 L354.6,270.4 L351.0,271.9 L347.8,274.0 L345.1,276.6 L342.6,279.4 L339.8,282.0 L337.6,284.1 L335.7,287.4 L333.9,290.8 L329.7,292.2 L331.7,294.6 L329.9,298.1 L330.2,302.0 L329.1,305.6 L327.3,307.3 L330.9,310.4 L331.6,314.1 L330.6,318.1 L331.3,319.6 L333.5,322.6 L335.9,325.5 L337.5,329.0 L338.3,328.7 L341.0,331.6 L345.0,332.1 L349.0,332.5 M370.0,258.6 L365.7,258.7 L364.6,263.1 L360.7,263.5 L358.6,266.5 L355.4,268.0 L352.5,269.5 L350.1,271.9 L347.7,274.5 L344.8,276.4 L342.1,278.6 L341.7,283.4 L336.8,282.5 L334.7,285.3 L332.8,288.1 L330.9,291.1 L327.3,292.6 L328.7,295.6 L327.2,298.9 L327.7,302.5 L328.2,306.1 L325.7,308.1 L326.2,311.5 L329.1,314.4 L326.6,318.5 L327.8,321.0 L330.0,323.7 L332.9,325.9 L335.0,328.6 L336.0,332.1 L337.7,333.3 M369.3,254.3 L366.8,257.2 L364.3,260.0 L359.8,260.2 L357.8,263.8 L354.6,265.7 L353.7,270.1 L349.3,270.7 L345.3,271.8 L344.8,276.8 L340.3,277.2 L337.7,279.9 L335.4,282.6 L332.9,285.4 L329.9,287.7 L328.4,291.2 L328.7,294.2 L326.8,297.6 L327.0,301.4 L324.1,304.6 L323.6,308.1 L324.1,311.8 L325.9,315.2 L327.7,318.6 L326.8,322.3 L328.0,326.0 L332.7,327.3 L332.2,332.1 L335.9,332.7 L338.2,336.5 L341.8,337.6" fill="none" stroke="#4cb050" stroke-width="0.35" opacity="1" stroke-linejoin="round"/>
<path d="M336.3,334.1 L337.9,332.9 L337.3,331.0 L337.4,329.0 L336.5,327.2 L335.9,325.3 L333.9,325.5 L332.2,326.6 L330.7,328.0 M338.4,334.8 L339.1,332.9 L338.6,331.0 L338.1,329.1 L337.3,327.2 L336.6,325.3 L337.3,323.5 L336.5,321.7 L337.2,319.8 M337.3,334.8 L337.5,332.8 L336.2,331.3 L335.0,329.7 L333.0,330.2 L331.2,330.9 L329.2,330.7 L327.2,330.4 L326.3,328.6 M331.9,321.7 L333.2,320.3 L335.0,319.4 L336.8,318.5 L337.2,316.5 L338.5,315.0 L336.6,315.5 L335.1,316.8 L335.3,318.8 M324.4,321.8 L326.4,321.6 L328.2,322.6 L330.0,321.8 L331.4,323.2 L333.3,323.9 L334.5,325.5 L335.4,327.3 L337.4,326.9 M333.5,307.6 L331.6,307.2 L330.1,305.8 L328.9,304.2 L327.2,303.2 L325.4,302.3 L326.9,303.6 L328.1,305.2 L327.6,307.2 M329.4,325.0 L327.8,326.1 L326.2,327.3 L324.9,328.9 L325.1,330.9 L325.9,332.7 L326.0,334.7 L326.6,332.8 L326.5,330.8 M325.9,308.4 L324.0,309.0 L322.5,310.2 L320.5,310.0 L322.2,310.9 L324.2,311.2 L324.6,313.1 L325.0,315.1 L324.0,316.8" fill="none" stroke="#4cb050" stroke-width="0.35" opacity="0.9"/>
<path d="M373.5,251.4 L373.0,253.0 L371.1,251.8 L370.6,253.3 L369.5,253.8 L367.9,253.2 L367.7,255.4 L366.3,255.2 L365.6,256.2 L364.6,256.9 L363.3,256.8 L362.0,257.0 L360.5,256.7 L360.4,258.8 L358.6,258.1 L357.4,258.4 L356.4,259.0 L356.2,260.8 L353.9,259.9 L353.0,260.6 L352.8,262.1 L352.1,263.2 L351.2,263.8 L350.8,265.2 L350.0,266.1 L348.5,266.1 L347.1,266.1 L346.0,266.7 L345.6,268.0 L344.9,269.3 L342.2,268.6 M376.7,253.2 L374.8,252.1 L374.5,254.3 L372.6,253.1 L372.4,255.3 L371.3,255.9 L369.6,255.3 L368.4,255.6 L367.5,256.4 L366.7,257.0 L365.4,257.3 L364.6,258.3 L362.9,257.7 L362.1,258.8 L361.0,259.2 L359.7,259.5 L358.8,260.3 L357.7,260.8 L357.2,262.4 L356.2,262.6 L355.7,263.9 L353.7,263.3 L353.8,265.4 L352.1,265.2 L351.0,265.7 L349.8,266.1 L348.6,266.6 L348.3,268.2 L346.4,267.7 L346.5,269.5 L345.2,270.0 M375.2,249.9 L374.4,251.6 L373.1,252.3 L371.8,253.0 L370.5,253.6 L368.5,253.0 L366.9,253.0 L365.3,253.1 L364.8,255.4 L363.3,255.9 L362.5,257.3 L361.2,258.0 L359.7,258.3 L357.9,258.2 L357.1,259.7 L356.7,262.0 L353.7,260.2 L353.0,261.8 L352.2,263.1 L350.5,263.3 L348.9,263.7 L347.6,264.5 L347.1,266.1 L345.2,266.1 L343.9,267.7 L344.0,269.7 L341.9,269.9 L341.4,271.3 L340.3,272.3 L339.2,273.3 L338.5,274.7 M372.0,252.4 L371.5,254.5 L370.0,254.7 L368.6,255.2 L367.6,256.4 L365.8,255.9 L364.8,257.0 L363.8,258.0 L363.1,259.7 L361.4,259.7 L359.9,260.0 L358.5,260.4 L357.0,260.8 L357.1,263.1 L355.3,263.1 L354.2,264.1 L353.7,265.7 L351.2,264.9 L351.7,267.7 L350.2,268.2 L348.6,268.5 L347.8,269.8 L346.6,270.1 L345.2,270.9 L343.9,271.6 L344.0,273.6 L342.9,274.5 L342.5,276.0 L340.8,276.5 L340.1,277.8 L339.3,279.0 M375.6,251.7 L374.1,251.8 L373.2,253.2 L371.6,253.3 L369.8,252.8 L368.6,253.7 L367.2,254.1 L366.3,255.5 L366.0,257.6 L365.2,259.0 L362.9,258.0 L361.7,258.9 L360.8,260.1 L359.3,260.4 L359.4,263.4 L357.1,262.3 L356.4,263.4 L355.4,264.4 L354.9,266.0 L353.6,266.7 L352.3,267.4 L351.3,268.4 L350.6,269.8 L348.4,269.4 L348.2,271.5 L347.7,272.0 L346.4,272.8 L345.7,274.1 L344.5,274.9 L344.3,276.6 L342.7,277.2 M372.6,250.2 L372.1,252.1 L370.8,252.6 L369.9,253.8 L367.9,252.7 L367.2,254.3 L365.3,253.3 L364.6,255.0 L363.1,255.2 L362.0,255.8 L361.7,257.9 L360.2,258.0 L358.6,257.9 L358.0,259.5 L356.1,258.8 L356.2,261.4 L353.8,260.6 L353.8,262.7 L353.3,264.2 L351.8,264.4 L350.4,264.8 L349.5,265.8 L348.7,267.0 L346.7,266.5 L346.0,267.8 L345.0,268.9 L344.0,269.8 L343.5,271.2 L341.0,270.8 L342.0,273.3 L341.5,274.6 M373.2,253.6 L371.3,253.1 L370.7,254.9 L368.6,253.8 L367.4,254.5 L367.3,257.4 L364.7,255.5 L363.7,256.5 L363.0,258.1 L361.7,258.6 L361.2,260.5 L359.2,259.8 L357.9,260.4 L356.8,261.2 L355.4,261.5 L355.3,263.7 L353.9,264.2 L353.2,265.6 L352.1,266.4 L350.5,266.6 L350.5,268.8 L347.9,267.9 L347.2,269.2 L346.9,270.4 L346.8,272.2 L345.5,272.9 L343.7,273.2 L343.6,274.9 L342.4,275.8 L341.6,276.9 L340.5,277.8 M372.4,250.6 L371.5,251.7 L370.8,253.2 L369.3,252.9 L367.9,253.1 L366.5,253.1 L366.1,255.1 L364.5,254.9 L363.1,255.2 L362.8,257.2 L361.7,257.8 L359.9,257.4 L359.7,259.4 L357.4,258.1 L356.5,259.1 L355.2,259.4 L353.6,259.9 L352.7,260.7 L351.7,261.6 L350.9,262.6 L350.3,264.0 L348.8,264.1 L348.2,265.5 L346.8,265.7 L346.0,266.8 L344.6,267.1 L343.4,268.4 L342.8,269.6 L341.9,270.5 L341.2,271.6 L340.7,272.9 M372.2,250.8 L370.9,251.2 L369.2,250.9 L368.0,251.3 L367.5,253.4 L366.0,253.3 L364.5,253.5 L363.6,254.7 L362.0,254.6 L361.6,256.5 L359.8,256.1 L358.8,257.0 L357.8,257.9 L356.4,258.2 L356.4,260.8 L354.4,260.4 L353.3,261.2 L352.6,262.3 L350.6,262.0 L351.3,265.0 L349.3,264.6 L348.2,265.4 L347.5,266.6 L346.3,267.3 L344.9,267.7 L343.9,269.0 L343.4,270.3 L342.0,270.9 L341.7,272.4 L340.3,272.9 L340.5,274.8 M373.6,252.7 L372.2,252.5 L370.5,252.0 L369.2,252.1 L368.4,253.3 L367.0,253.2 L365.9,253.8 L364.9,254.7 L364.0,255.5 L363.4,257.0 L362.3,257.5 L360.9,257.5 L359.9,258.3 L359.4,259.8 L358.0,259.9 L356.9,260.4 L356.0,261.2 L355.2,262.2 L354.6,263.4 L353.4,263.9 L352.7,265.0 L351.2,265.1 L351.4,267.3 L349.3,266.7 L349.1,268.3 L347.3,268.1 L347.0,269.6 L347.1,271.0 L346.4,272.0 L344.7,272.2 L343.9,273.2 M375.1,250.2 L373.9,250.6 L372.6,250.9 L372.4,253.3 L370.7,252.8 L369.9,254.1 L368.0,253.1 L367.4,254.9 L366.1,255.3 L365.0,255.9 L364.1,256.8 L362.6,256.8 L362.3,258.9 L361.5,260.1 L359.8,259.7 L358.7,260.4 L357.3,260.5 L356.4,261.6 L355.3,262.1 L354.5,263.2 L352.5,262.8 L352.6,264.9 L350.8,264.8 L350.4,266.4 L349.7,267.5 L348.8,268.6 L347.4,268.9 L347.4,270.2 L346.9,271.5 L344.7,271.4 L343.8,272.3 M373.8,248.7 L373.8,251.7 L372.1,251.4 L371.1,252.4 L370.7,254.5 L368.1,252.5 L368.0,255.3 L366.6,255.4 L364.6,254.7 L364.4,256.9 L363.6,258.2 L362.8,259.5 L360.7,258.6 L360.5,260.9 L358.8,260.7 L357.0,260.3 L355.9,261.1 L354.6,261.6 L353.5,262.4 L353.5,264.5 L351.9,264.7 L351.3,266.1 L349.4,265.9 L349.1,267.7 L347.3,267.6 L346.8,269.2 L346.0,270.1 L344.9,270.9 L343.5,271.5 L343.9,273.5 L343.3,274.8 M373.3,250.8 L371.7,250.8 L371.1,252.9 L369.4,252.7 L367.8,252.6 L366.8,253.9 L364.9,253.7 L364.8,256.3 L363.8,257.5 L362.1,257.5 L360.9,258.2 L359.5,258.6 L358.1,259.2 L357.6,261.2 L356.5,261.8 L355.3,262.7 L353.4,262.6 L352.8,264.1 L352.3,265.9 L350.9,266.4 L349.8,267.4 L349.3,269.1 L346.4,267.7 L346.0,269.4 L344.9,270.4 L344.4,271.9 L344.4,273.7 L342.0,273.6 L341.4,275.0 L341.7,277.0 L341.2,278.5 M375.3,252.0 L374.0,252.3 L372.9,252.8 L372.2,254.4 L370.3,253.4 L369.4,254.3 L368.6,255.7 L367.1,255.5 L366.8,257.3 L364.8,256.5 L363.8,257.2 L362.6,257.8 L361.8,259.0 L360.9,260.0 L359.8,260.6 L358.1,260.1 L357.9,262.3 L356.1,261.6 L355.4,262.8 L354.3,263.5 L354.2,265.3 L352.7,265.6 L352.1,266.9 L349.5,265.7 L348.7,266.7 L347.6,267.3 L347.0,268.7 L346.3,269.6 L344.7,269.9 L344.8,271.6 L343.0,271.8 M374.5,250.9 L374.2,253.0 L372.6,252.5 L372.4,255.1 L370.2,253.5 L369.4,254.7 L367.7,254.0 L367.2,255.8 L366.4,256.7 L365.4,257.6 L363.4,256.6 L363.3,259.0 L362.4,259.8 L361.0,260.0 L359.9,260.6 L358.5,260.7 L357.7,261.8 L355.8,261.1 L356.2,263.6 L354.6,263.6 L354.3,265.3 L353.7,266.4 L351.6,265.8 L350.6,266.6 L349.7,267.5 L349.1,268.8 L348.3,269.8 L347.1,270.3 L346.7,271.1 L346.2,272.3 L345.3,273.2 M375.1,251.3 L372.9,250.4 L371.9,251.9 L370.5,252.4 L369.9,254.7 L368.1,254.6 L366.4,254.6 L365.4,255.9 L363.9,256.5 L362.5,257.1 L360.4,256.5 L359.4,257.9 L357.9,258.3 L356.4,258.9 L355.0,259.9 L354.1,261.3 L352.5,261.7 L351.3,262.6 L350.9,264.6 L349.1,264.9 L347.4,265.2 L347.2,267.4 L344.6,266.6 L343.2,268.2 L343.5,270.4 L342.5,271.6 L339.8,271.4 L340.1,273.6 L338.6,274.3 L336.7,274.9 L337.0,277.0 M373.6,249.9 L372.3,250.4 L371.8,252.3 L370.1,252.0 L368.9,252.7 L367.4,252.6 L366.4,253.7 L365.8,255.5 L364.6,256.2 L363.4,256.7 L362.0,257.1 L361.3,258.6 L358.5,256.5 L358.3,258.8 L357.3,259.8 L356.0,260.3 L355.0,261.3 L354.7,263.0 L353.2,263.4 L351.2,263.0 L349.9,263.5 L349.4,265.1 L348.9,266.7 L348.3,268.0 L347.5,269.3 L345.1,268.7 L344.5,270.0 L343.6,271.0 L342.3,271.7 L341.6,272.9 L341.0,274.1 M373.5,250.4 L373.0,252.4 L371.6,252.7 L370.1,252.7 L368.8,253.0 L367.6,253.7 L366.3,254.1 L365.6,255.5 L364.9,257.1 L363.3,257.0 L361.9,257.2 L361.4,259.0 L359.7,258.7 L357.8,258.2 L356.4,258.5 L355.9,260.3 L353.9,260.1 L353.1,261.3 L351.4,261.2 L351.3,263.3 L349.7,263.4 L348.9,264.6 L348.0,265.5 L346.3,265.7 L344.6,265.7 L344.6,268.3 L343.9,269.4 L342.0,269.7 L341.0,270.6 L339.8,271.3 L341.8,274.7 M372.7,248.2 L371.6,248.9 L370.9,250.6 L369.2,250.3 L368.1,251.1 L365.9,249.6 L364.9,250.8 L363.9,252.3 L362.9,253.3 L362.0,254.4 L360.5,254.6 L360.1,256.6 L358.9,257.2 L357.2,256.9 L357.1,259.4 L355.3,259.1 L353.7,259.6 L353.2,261.3 L351.9,261.8 L350.5,262.2 L350.5,264.4 L348.8,264.4 L347.9,265.5 L346.9,266.4 L346.8,268.4 L343.5,267.5 L342.8,268.6 L343.0,270.6 L342.2,271.6 L341.8,273.0 L340.0,273.3 M371.3,248.0 L371.1,250.7 L369.7,250.8 L368.4,251.1 L367.1,251.5 L366.3,252.8 L364.6,252.8 L363.9,254.1 L362.4,254.2 L361.1,254.5 L359.1,253.9 L359.6,257.2 L357.5,256.3 L356.8,257.6 L355.6,258.3 L354.6,259.6 L353.9,260.8 L352.4,261.0 L351.5,262.0 L351.1,263.6 L349.4,263.5 L348.2,264.2 L346.6,264.2 L346.3,266.0 L345.1,266.6 L344.0,268.0 L343.1,269.0 L343.4,270.9 L341.0,270.7 L340.6,272.1 L339.6,273.0" fill="none" stroke="#9a70cc" stroke-width="0.35" opacity="1" stroke-linejoin="round"/>
<path d="M337.8,278.3 L339.3,277.0 L340.5,275.4 L340.4,273.4 L338.6,272.6 L337.5,270.9 L336.5,269.2 L336.5,267.2 L336.7,265.2 L337.8,263.5 L337.9,265.5 M353.6,271.9 L352.5,273.5 L350.9,274.8 L349.5,276.1 L348.7,278.0 L349.3,279.9 L348.7,281.8 L347.0,282.8 L345.4,281.6 L343.4,281.0 L341.5,281.4 M344.1,268.3 L343.2,270.0 L341.9,271.6 L340.5,273.0 L338.7,273.9 L337.4,275.4 L335.6,276.2 L333.8,277.1 L333.4,279.1 L331.5,279.8 L330.9,281.7 M345.6,275.1 L347.1,276.4 L346.6,278.3 L345.8,280.1 L346.9,281.8 L348.6,282.9 L347.1,281.5 L345.4,280.5 L343.5,279.9 L341.6,280.4 L339.9,281.5 M342.4,274.8 L342.9,276.7 L341.7,278.4 L339.9,277.6 L338.0,276.9 L336.0,277.2 L334.8,275.6 L333.0,274.7 L331.7,273.2 L330.2,271.9 L328.6,270.7 M339.5,271.8 L337.8,270.7 L335.9,270.1 L333.9,270.3 L332.4,271.5 L331.8,273.4 L330.0,274.2 L328.3,275.3 L330.0,274.3 L332.0,273.9 L334.0,273.8 M335.5,264.3 L336.7,265.8 L337.4,267.7 L338.9,269.1 L339.3,271.0 L339.0,273.0 L340.9,272.3 L342.0,270.6 L342.7,268.8 L343.6,267.0 L343.1,265.0 M340.6,283.8 L341.9,282.3 L343.8,282.9 L345.4,284.2 L343.5,283.4 L343.0,281.5 L341.5,280.2 L340.2,278.7 L338.8,277.2 L338.7,275.2 L337.3,273.8 M336.5,276.8 L335.7,275.0 L336.5,273.1 L336.9,271.2 L336.7,269.2 L334.9,268.3 L333.6,266.8 L331.9,265.9 L332.9,267.6 L333.3,269.5 L332.7,271.4 M349.9,272.5 L348.8,274.2 L347.3,275.5 L345.8,276.8 L344.6,278.4 L344.7,280.4 L344.4,282.4 L342.5,283.0 L340.8,284.1 L341.7,282.3 L342.7,280.6 M340.9,273.6 L340.6,275.6 L341.4,277.4 L343.1,278.3 L345.1,278.7 L347.1,278.4 L348.0,276.6 L349.8,275.8 L351.6,274.8 L353.5,275.2 L354.7,273.6 M334.6,278.1 L335.5,279.9 L336.6,281.6 L338.5,281.1 L340.1,282.3 L341.2,284.0 L341.3,282.0 L340.2,280.3 L338.3,280.1 L337.2,278.4 L335.4,277.6 M353.6,268.3 L353.4,270.2 L351.5,271.0 L350.7,272.8 L349.0,274.0 L347.1,274.6 L345.2,275.1 L343.2,274.6 L341.5,275.6 L339.8,274.6 L338.2,273.5 M334.2,269.6 L333.5,267.7 L333.1,265.8 L335.1,266.0 L337.0,265.3 L338.3,263.8 L338.4,265.8 L337.5,267.6 L337.0,269.6 L337.7,271.4 L337.7,273.4 M348.9,274.1 L347.5,275.6 L345.5,275.5 L343.6,274.9 L342.1,273.6 L340.4,272.5 L340.5,270.5 L341.7,268.9 L341.7,266.9 L340.7,265.2 L338.9,264.4 M353.6,275.9 L351.9,277.0 L350.0,276.9 L348.5,275.6 L347.7,273.7 L347.0,271.9 L345.5,270.5 L346.9,269.1 L348.4,267.7 L350.2,266.9 L349.2,268.7 M336.0,270.3 L337.3,271.8 L339.0,272.9 L341.0,273.3 L342.7,272.3 L344.5,271.4 L346.5,271.3 L348.5,271.6 L350.4,272.2 L352.4,272.4 L354.2,271.7 M343.2,274.0 L344.0,272.2 L344.1,270.2 L344.9,268.3 L343.4,267.0 L342.4,265.2 L341.7,263.4 L343.0,264.9 L344.4,266.3 L344.6,268.3 L345.3,270.2" fill="none" stroke="#9a70cc" stroke-width="0.35" opacity="0.9"/>
<path d="M393.4,229.5 L394.4,231.3 L394.3,229.7 L395.1,230.9 L395.4,230.2 L396.0,230.8 L396.1,229.8 L396.9,231.0 L397.1,230.0 L397.1,228.5 L397.7,229.2 L398.1,228.9 L398.4,229.3 L398.9,229.2 L399.4,229.7 L399.6,228.6 L400.3,229.9 L400.6,229.5 L401.1,229.5 L401.3,228.6 L401.7,228.5 L402.3,229.4 L402.6,228.4 L403.3,230.0 L403.7,229.7 L403.9,228.7 L404.7,230.8 L404.9,229.4 L405.5,230.5 L405.6,228.7 L406.1,228.5 M380.4,238.6 L380.3,237.6 L381.8,238.0 L380.0,235.6 L381.4,236.0 L380.6,234.4 L381.9,234.6 L383.1,234.7 L382.9,233.7 L383.6,233.4 L384.0,232.8 L384.3,232.2 L384.9,231.6 L385.7,231.9 L386.0,230.4 L387.0,231.4 L387.6,231.0 L387.9,229.8 L388.3,228.8 L389.4,230.2 L389.6,228.6 L390.8,229.9 L391.8,230.9 L391.8,228.8 L392.5,228.6 L393.6,230.1 L394.0,229.0 L394.4,228.0 L395.3,228.8 L396.0,228.8 L396.3,227.4 M386.8,229.0 L387.5,228.8 L388.1,228.4 L389.1,228.9 L389.5,227.7 L390.5,228.5 L391.4,229.0 L391.7,227.2 L392.2,226.5 L393.4,227.9 L393.6,225.9 L394.9,227.5 L395.3,226.6 L396.5,227.9 L397.5,228.5 L397.6,225.0 L398.8,227.6 L399.3,226.1 L400.0,225.4 L400.8,226.2 L401.6,226.3 L402.2,225.4 L403.2,226.6 L404.0,227.0 L404.7,226.9 L405.4,226.5 L406.0,225.8 L407.0,226.8 L407.6,226.2 L408.3,225.6 L409.1,226.4 M384.0,231.9 L384.4,229.4 L385.2,229.4 L386.3,230.4 L387.0,230.0 L387.5,229.1 L388.3,229.1 L389.2,229.5 L389.6,228.3 L390.6,228.9 L391.1,228.1 L391.7,227.6 L392.5,227.5 L393.1,227.0 L393.9,226.9 L394.6,226.9 L395.4,226.8 L396.3,227.1 L396.8,226.3 L397.8,225.8 L398.5,225.9 L399.6,227.8 L400.0,225.7 L400.8,226.1 L401.4,225.2 L402.2,225.1 L402.9,224.7 L403.9,226.1 L404.2,223.5 L405.2,225.1 L405.9,224.5 M374.4,249.0 L375.6,249.4 L375.0,248.2 L375.9,248.4 L377.0,248.6 L376.8,247.9 L375.4,246.1 L376.7,246.6 L377.3,246.4 L377.1,245.6 L377.8,245.6 L378.5,245.5 L379.0,245.4 L379.4,245.1 L379.0,244.1 L380.2,244.5 L379.4,243.2 L381.7,244.5 L380.7,243.0 L381.4,243.0 L381.3,242.3 L381.6,241.9 L381.8,241.5 L382.6,241.5 L382.4,240.7 L382.2,239.9 L382.6,239.6 L382.5,238.9 L383.2,238.9 L385.0,239.7 L386.1,240.0" fill="none" stroke="#4cb050" stroke-width="0.35" opacity="1" stroke-linejoin="round"/>
<circle cx="340.5" cy="282" r="18" fill="none" stroke="#222" stroke-width="0.8" stroke-dasharray="2.5,1.5"/>
<defs><clipPath id="einset"><circle cx="293" cy="355.7" r="40.5"/></clipPath></defs>
<circle cx="293" cy="355.7" r="40.5" fill="#f4f4f4"/>
<g clip-path="url(#einset)">
<path d="M255.3,370.5 L255.8,370.2 L256.2,369.8 L256.6,369.4 L257.2,369.4 L256.4,366.8 L257.5,367.7 L258.3,368.0 L258.8,367.9 L259.1,367.3 L259.6,367.0 L259.9,366.4 L260.7,366.7 L260.6,365.4 L261.1,365.3 L261.3,364.5 L262.0,364.7 L262.5,364.4 L261.6,361.7 L263.0,363.0 L264.0,363.7 L263.7,362.0 L264.7,362.8 L264.4,361.1 L264.9,360.9 L265.8,361.3 L265.9,360.4 L267.5,362.1 L266.9,359.9 L267.9,360.6 L268.0,359.6 M277.9,367.1 L277.1,363.5 L278.6,364.3 L279.5,364.2 L280.3,363.7 L280.4,361.9 L281.4,361.8 L281.9,360.7 L283.0,360.9 L283.2,359.1 L283.7,358.2 L283.8,356.4 L285.3,357.2 L286.1,356.7 L286.3,355.2 L287.3,355.2 L287.4,353.4 L289.2,354.7 L289.8,354.1 L289.6,351.4 L288.7,348.3 L291.2,350.7 L292.8,351.6 L293.1,350.4 L292.8,348.0 L293.6,347.6 L294.0,346.5 L294.8,346.0 L296.1,346.5 L296.3,344.9 L297.1,344.5 M289.6,341.8 L289.5,339.8 L291.3,340.9 L292.6,341.3 L293.7,341.2 L294.7,341.0 L294.3,338.5 L296.5,340.4 L297.4,339.9 L298.2,339.4 L298.8,338.6 L298.6,336.4 L300.7,337.9 L302.5,339.0 L302.2,336.7 L303.4,336.9 L304.3,336.5 L305.4,336.5 L306.8,336.9 L307.1,335.6 L309.2,337.4 L308.3,334.1 L309.7,334.4 L311.1,334.9 L311.5,333.7 L314.2,336.2 L314.2,334.4 L314.8,333.6 L315.5,332.9 L317.1,333.6 L318.1,333.4 M250.0,367.0 L251.3,367.1 L252.9,367.7 L253.7,366.9 L255.2,367.2 L256.4,367.2 L256.5,365.0 L257.6,364.7 L259.3,365.5 L259.8,364.2 L260.9,363.9 L262.7,364.9 L263.5,364.1 L264.9,364.2 L264.8,361.8 L266.5,362.6 L267.2,361.7 L268.8,362.2 L269.9,361.9 L270.4,360.4 L271.4,360.0 L272.8,360.3 L273.9,360.1 L275.1,360.1 L275.7,358.7 L277.4,359.8 L278.9,360.2 L279.4,358.7 L280.4,358.2 L282.2,359.4 L283.1,358.8 M250.8,361.3 L252.3,359.8 L253.9,358.6 L256.2,358.6 L258.2,358.0 L259.4,356.0 L262.3,357.2 L263.1,354.6 L264.9,353.5 L267.0,352.4 L269.4,352.7 L270.9,351.3 L272.3,349.7 L273.2,346.9 L275.2,346.5 L276.5,344.6 L279.2,345.6 L280.9,344.4 L282.1,342.2 L284.0,341.6 L284.6,340.5 L286.2,339.2 L287.6,337.8 L289.1,336.4 L290.9,335.5 L293.2,335.5 L294.2,333.2 L295.0,330.6 L298.0,331.7 L299.4,330.1 L299.2,326.0 M315.6,339.0 L316.3,338.7 L316.9,338.3 L316.5,336.5 L317.6,336.8 L316.5,333.7 L318.1,335.0 L318.5,334.3 L318.4,332.7 L319.9,333.9 L319.8,332.4 L319.9,331.2 L321.0,331.6 L320.5,329.4 L322.3,331.0 L320.7,327.1 L321.0,326.3 L322.0,326.6 L323.1,326.9 L322.9,325.4 L323.2,324.5 L325.7,327.2 L325.2,324.9 L325.0,323.3 L325.0,322.0 L325.4,321.4 L326.2,321.3 L327.3,321.7 L327.3,320.3 L327.8,319.8 L326.2,316.0 M257.6,375.8 L259.6,375.3 L261.3,374.2 L263.3,373.7 L265.1,372.9 L266.1,370.6 L268.7,371.3 L269.6,368.7 L271.2,367.5 L271.9,365.0 L274.7,366.2 L277.3,366.9 L278.2,364.3 L279.6,362.7 L281.3,361.6 L283.6,361.7 L284.2,358.4 L286.1,357.8 L288.8,358.8 L289.7,356.0 L292.6,357.5 L293.7,354.6 L295.3,353.4 L296.4,351.3 L298.1,350.3 L299.8,349.2 L302.3,349.4 L303.0,346.8 L305.1,346.4 L307.4,346.4 L308.3,344.1 M278.7,369.8 L280.4,368.1 L283.2,368.5 L284.5,366.1 L286.6,365.1 L288.5,363.8 L291.1,363.8 L291.7,359.9 L294.3,358.5 L295.5,356.1 L297.3,354.6 L300.1,354.7 L300.4,350.7 L303.2,351.0 L304.4,348.6 L306.5,347.5 L308.0,345.6 L309.8,344.1 L310.0,340.0 L313.3,341.0 L314.0,337.7 L315.4,335.5 L317.4,334.4 L319.2,333.0 L322.6,334.2 L323.4,331.1 L325.7,330.4 L326.3,327.0 L328.8,326.6 L329.2,322.9 L331.1,321.6 M264.2,372.9 L265.4,369.2 L269.4,370.6 L271.3,368.3 L274.2,368.3 L275.6,364.9 L277.8,363.0 L279.1,359.4 L283.1,361.1 L284.5,357.5 L286.9,356.0 L290.1,356.1 L291.6,352.7 L294.9,352.8 L296.4,349.8 L298.2,347.4 L300.3,345.3 L303.7,345.5 L307.2,346.0 L308.4,342.4 L310.5,340.4 L313.2,339.6 L314.9,336.9 L316.5,334.1 L319.3,333.3 L321.9,332.3 L323.8,330.0 L325.5,327.4 L328.2,326.4 L331.3,326.1 L331.4,321.0 M259.3,361.0 L260.2,361.6 L260.8,361.6 L260.8,360.6 L260.6,359.2 L261.4,359.6 L262.3,360.1 L262.2,359.0 L261.5,356.6 L263.0,358.3 L263.1,357.4 L263.6,357.3 L264.3,357.6 L264.6,357.0 L265.3,357.3 L264.5,354.8 L265.8,356.1 L265.2,354.0 L266.7,354.9 L267.8,356.0 L266.9,353.1 L267.4,352.8 L268.8,354.6 L268.2,352.2 L268.7,352.2 L269.8,353.1 L269.0,350.5 L269.5,350.4 L271.1,352.4 L270.2,349.6 L271.9,351.8 M258.1,357.6 L259.3,354.6 L261.1,352.4 L263.1,350.8 L266.1,349.7 L269.0,349.7 L270.6,347.1 L273.5,347.1 L276.0,346.4 L278.6,345.9 L280.3,343.6 L282.3,341.7 L284.5,342.3 L286.7,340.9 L290.6,342.4 L291.4,338.6 L293.3,336.9 L295.3,335.2 L298.1,334.9 L300.2,333.4 L302.7,332.5 L304.7,331.1 L307.0,330.1 L309.4,329.0 L311.5,327.5 L313.3,325.4 L315.5,324.1 L318.6,324.2 L319.5,320.8 L322.2,320.2 L324.7,319.4 M286.8,347.8 L287.1,347.2 L288.8,349.6 L288.6,348.2 L288.5,347.0 L288.2,345.3 L290.6,348.1 L290.7,347.3 L290.7,346.1 L291.8,346.7 L292.0,346.1 L294.1,348.3 L294.8,348.4 L293.3,344.8 L296.2,348.5 L296.3,347.5 L295.8,345.6 L297.6,347.4 L297.3,345.9 L297.9,345.7 L298.9,346.3 L300.2,347.3 L300.3,346.2 L301.3,346.7 L302.0,346.8 L301.6,345.0 L302.9,346.0 L303.5,345.9 L303.0,344.0 L304.0,344.5 L305.5,345.8 M294.3,359.1 L294.7,358.0 L295.5,357.7 L296.7,358.1 L297.7,358.2 L297.5,356.3 L298.2,355.7 L298.1,354.0 L300.1,355.7 L299.8,353.6 L300.7,353.4 L301.8,353.7 L301.8,352.1 L303.3,353.0 L303.5,351.6 L303.3,349.7 L305.7,352.1 L306.3,351.4 L305.9,349.2 L307.1,349.6 L306.4,346.8 L309.2,349.7 L308.9,347.6 L310.5,348.6 L309.5,345.5 L311.0,346.2 L310.9,344.5 L311.7,344.3 L313.0,344.5 L315.2,346.6 L315.7,345.8 M267.7,345.6 L268.4,345.2 L269.2,345.0 L270.0,344.7 L270.3,343.4 L271.9,344.8 L273.3,345.7 L273.6,344.6 L274.4,344.4 L276.1,345.8 L275.7,343.2 L276.3,342.7 L277.8,343.8 L278.3,342.9 L280.4,345.4 L280.4,343.6 L282.0,345.0 L282.2,343.5 L282.9,343.1 L283.8,343.0 L284.6,342.7 L285.6,344.5 L286.0,343.6 L286.0,342.0 L287.1,342.2 L288.2,342.5 L288.6,341.6 L288.8,340.3 L290.8,342.0 L291.7,341.9 L291.3,339.7 M270.1,357.4 L271.4,357.8 L273.2,359.2 L273.1,356.8 L274.4,357.2 L274.8,355.7 L277.1,358.1 L276.3,354.2 L276.4,352.3 L278.3,353.8 L280.7,356.3 L280.1,352.9 L281.3,353.0 L282.5,353.2 L284.1,354.2 L284.3,352.3 L285.2,352.0 L286.2,351.7 L287.5,352.1 L287.6,350.0 L289.2,351.0 L288.0,347.3 L289.9,348.4 L291.2,348.6 L291.4,347.1 L291.7,345.7 L293.9,347.4 L294.8,346.9 L294.3,344.1 L296.5,345.9 L296.6,344.2 M249.5,366.9 L251.2,364.1 L253.9,362.8 L257.8,363.9 L259.2,360.5 L263.6,362.4 L264.5,358.0 L267.0,356.0 L269.5,354.5 L273.0,355.1 L275.4,353.4 L278.4,352.9 L280.7,350.9 L282.1,347.3 L286.5,349.4 L288.4,347.6 L289.8,344.3 L293.3,344.5 L295.9,343.2 L298.1,341.3 L299.1,337.3 L302.8,337.8 L305.4,336.5 L307.6,334.7 L309.7,332.5 L313.2,332.6 L315.3,330.6 L317.2,328.2 L320.2,327.4 L322.5,325.7 L324.1,322.7 M280.1,350.7 L280.4,349.7 L280.9,348.9 L282.3,350.2 L282.6,348.9 L283.6,349.2 L284.3,348.9 L284.4,347.4 L285.3,347.5 L287.1,349.4 L287.3,348.0 L286.4,345.8 L287.9,346.7 L288.2,345.8 L290.2,347.6 L290.3,346.3 L290.2,344.6 L290.4,343.5 L292.6,345.6 L292.0,343.1 L293.2,343.6 L293.0,341.8 L294.2,342.3 L294.6,341.4 L294.1,339.1 L297.0,342.4 L297.0,340.9 L297.3,339.9 L297.9,339.4 L299.1,339.9 L299.7,339.4 M258.9,355.6 L260.2,356.0 L261.4,356.2 L261.9,355.3 L263.7,356.7 L265.0,357.2 L264.8,354.9 L265.6,354.3 L267.6,355.6 L267.8,353.9 L269.4,355.0 L270.0,354.1 L270.6,353.3 L271.8,353.6 L273.3,354.7 L274.3,354.5 L276.5,356.8 L277.5,356.9 L277.2,354.3 L277.8,353.2 L278.3,352.3 L279.6,352.9 L280.2,351.9 L281.9,353.4 L283.1,353.7 L284.6,354.6 L284.8,352.9 L286.0,353.3 L285.7,350.7 L287.8,352.9 L289.0,353.2" fill="none" stroke="#9a80c8" stroke-width="0.3" opacity="1" stroke-linejoin="round"/>
<path d="M315.6,334.5 L313.4,334.6 L312.2,332.8 L310.1,333.5 L308.2,334.7 L307.1,336.6 L304.9,336.7 L302.8,336.1 L300.9,335.0 L299.5,333.3 L297.5,332.4 L295.3,332.5 L293.6,333.9 M296.5,338.4 L297.8,340.2 L296.9,342.2 L295.1,343.5 L292.9,343.3 L290.9,342.4 L290.1,344.4 L288.9,346.3 L287.3,347.8 L287.7,350.0 L289.0,351.7 L291.1,352.4 L293.1,351.6 M280.4,352.1 L282.4,351.1 L284.1,349.8 L285.5,348.1 L287.6,347.5 L288.8,349.3 L289.9,351.2 L288.3,352.8 L286.4,353.9 L284.8,355.3 L286.5,353.9 L288.7,354.1 L290.5,355.3 M319.6,345.6 L321.5,344.6 L319.3,344.8 L317.2,345.2 L315.1,345.8 L312.9,345.3 L310.9,344.5 L309.6,342.7 L309.7,340.5 L311.0,338.7 L312.2,336.9 L312.2,334.7 L313.7,333.0 M310.2,340.7 L310.9,338.6 L311.4,336.4 L311.3,334.2 L311.1,332.0 L310.3,334.1 L310.2,336.3 L310.1,338.5 L308.7,340.2 L308.9,342.4 L308.6,344.6 L307.7,346.6 L307.1,348.7 M282.6,338.4 L280.4,338.7 L282.6,339.2 L284.7,339.8 L286.7,339.0 L288.7,338.0 L290.6,339.1 L291.7,340.9 L293.0,342.8 L294.1,344.6 L296.1,345.5 L298.3,345.5 L300.5,345.0 M319.6,335.0 L318.4,336.8 L317.1,338.6 L315.2,339.6 L314.5,341.7 L315.4,343.7 L317.3,344.7 L317.9,346.8 L319.4,348.4 L317.7,347.0 L316.2,345.4 L314.5,344.1 L312.5,345.0 M280.4,343.2 L278.2,343.3 L280.4,342.9 L282.5,343.6 L282.9,345.7 L281.9,347.7 L279.7,348.1 L280.8,346.2 L281.8,344.2 L281.8,342.0 L280.7,340.1 L282.9,339.8 L284.1,338.0 M283.3,347.8 L283.0,349.9 L282.3,352.0 L284.5,352.0 L286.5,352.9 L288.6,352.2 L290.5,351.2 L292.6,350.6 L294.7,351.3 L295.9,349.5 L295.8,347.3 L294.0,346.0 L294.4,343.9 M305.1,337.1 L303.9,335.2 L305.6,333.7 L307.5,332.7 L309.3,333.9 L311.0,335.4 L309.8,337.2 L307.7,337.9 L305.6,337.1 L303.5,336.8 L301.3,336.4 L299.3,337.4 L297.2,337.8 M319.6,331.0 L317.4,331.4 L315.6,332.6 L314.2,334.3 L312.1,334.9 L309.9,335.3 L307.7,335.0 L307.9,332.8 L308.9,330.9 L308.3,333.0 L307.1,334.9 L304.9,335.2 L303.3,333.7 M304.3,359.0 L303.7,356.9 L302.5,355.0 L301.6,353.0 L299.7,352.0 L299.7,349.8 L300.1,347.6 L301.3,345.7 L302.6,343.9 L304.3,342.6 L305.9,341.1 L306.9,339.1 L307.3,336.9 M308.1,339.7 L310.3,340.1 L312.3,339.2 L313.6,341.0 L315.8,341.0 L317.7,342.0 L319.7,343.0 L317.5,343.2 L315.3,342.8 L313.7,341.3 L311.7,340.5 L309.9,339.3 L307.7,338.8 M303.5,341.5 L301.5,342.3 L300.9,344.4 L301.1,346.6 L300.5,348.7 L300.0,350.8 L302.1,351.5 L304.2,352.1 L306.2,353.0 L308.0,354.3 L308.5,356.4 L309.7,358.2 L308.8,356.3" fill="none" stroke="#9a80c8" stroke-width="0.3" opacity="0.9"/>
<path d="M254.1,370.9 L255.0,370.4 L254.9,372.5 L255.9,371.6 L255.8,373.6 L257.2,371.5 L257.9,371.4 L258.7,371.1 L258.8,372.5 L260.6,369.4 L260.9,370.5 L261.0,372.0 L261.5,372.5 L263.1,369.9 L263.1,371.5 L263.5,372.5 L264.1,372.5 L265.5,370.5 L265.0,373.7 L266.2,372.1 L267.1,371.6 L267.1,373.6 L268.3,372.0 L268.3,373.7 L269.3,373.0 L269.9,373.1 L270.6,373.0 L271.5,372.3 L271.5,374.0 L273.4,370.4 L272.8,374.2 M259.6,356.0 L261.2,359.1 L263.8,359.3 L266.1,360.0 L268.4,361.0 L270.5,362.4 L274.4,359.0 L275.3,363.8 L276.4,363.0 L279.0,362.1 L281.4,363.1 L283.5,365.6 L286.3,363.6 L288.6,365.1 L290.9,366.9 L293.6,365.3 L296.2,364.9 L295.5,364.2 L298.2,365.4 L300.6,364.2 L303.0,363.8 L305.6,364.6 L307.9,363.2 L310.4,362.9 L312.9,362.6 L312.5,364.7 L313.5,361.7 L316.0,361.0 L317.5,358.7 L319.3,356.9 L320.5,354.2 M285.6,366.7 L286.3,367.3 L287.4,365.5 L287.8,368.5 L289.0,365.8 L289.6,367.4 L290.2,368.6 L291.0,369.0 L291.8,369.0 L292.3,371.0 L293.1,370.7 L294.0,370.6 L294.6,372.2 L295.5,371.6 L295.2,371.2 L296.1,371.9 L296.9,371.9 L297.5,370.3 L298.6,372.0 L299.5,372.8 L300.7,375.0 L301.1,372.8 L301.8,372.1 L302.6,372.0 L303.5,372.2 L304.4,373.0 L305.2,372.6 L306.1,373.4 L307.1,374.5 L307.7,372.9 L308.6,373.6 M266.5,357.0 L268.7,357.5 L271.2,357.3 L272.9,359.2 L275.6,358.2 L277.6,359.2 L277.3,359.8 L279.1,363.2 L281.3,363.5 L283.4,364.3 L286.1,361.9 L288.2,362.8 L290.3,363.9 L292.7,363.3 L294.7,364.8 L294.2,366.4 L296.1,364.4 L298.4,364.7 L300.9,366.0 L302.9,364.5 L305.2,364.6 L307.6,365.3 L309.5,363.3 L312.0,364.8 L311.5,365.7 L314.0,365.4 L315.8,364.2 L317.1,362.0 L319.1,361.1 L322.3,362.0 L324.2,360.7 M264.8,359.4 L264.7,361.5 L265.8,360.1 L266.5,360.0 L265.7,364.3 L267.6,360.5 L267.8,361.8 L268.3,362.2 L269.3,361.4 L269.6,362.2 L269.7,363.8 L271.1,361.9 L272.4,360.0 L273.0,360.0 L273.3,360.9 L274.0,360.8 L274.7,360.7 L275.2,361.2 L276.0,360.7 L276.7,360.6 L277.1,361.4 L277.9,361.0 L278.9,359.9 L277.2,359.1 L278.0,358.2 L278.4,359.5 L279.1,359.2 L279.5,360.4 L280.4,358.4 L280.7,360.6 L281.5,359.9" fill="none" stroke="#4cb050" stroke-width="0.35" opacity="1" stroke-linejoin="round"/>
<path d="M292.4,377.1 L293.3,378.0 L294.0,378.5 L294.2,375.6 L295.0,375.9 L296.2,379.3 L296.6,377.8 L296.9,375.1 L297.7,376.1 L298.2,375.1 L298.8,374.3 L299.5,374.8 L300.3,375.5 L300.8,374.1 L301.9,376.6 L302.3,375.1 L302.8,374.2 L303.7,375.4 L304.1,373.3 L305.0,375.0 L305.1,371.5 L306.1,373.2 L306.8,373.1 L307.2,371.8 L308.2,373.5 L308.6,371.9 L309.1,371.0 L308.6,370.8 L309.1,370.2 L310.6,372.3 L311.4,372.5 M303.2,374.6 L303.9,374.4 L304.6,374.0 L305.4,374.1 L306.1,373.8 L306.9,374.6 L307.4,373.1 L308.3,373.9 L308.7,372.0 L308.9,373.0 L309.4,372.2 L310.4,372.8 L311.5,373.5 L311.1,370.6 L311.9,370.8 L313.5,372.7 L313.8,371.6 L313.5,368.8 L314.5,369.3 L314.5,367.4 L315.8,368.7 L316.8,369.3 L317.6,369.1 L317.6,367.4 L319.0,368.9 L319.3,367.7 L320.2,368.0 L321.1,368.3 L321.5,367.3 L322.0,366.6 L322.5,365.7 M272.5,384.6 L273.2,385.4 L273.7,385.1 L274.7,386.9 L275.2,386.9 L275.8,386.9 L276.6,388.2 L276.9,386.8 L277.5,387.0 L277.9,386.5 L278.3,385.9 L278.9,385.9 L279.2,384.8 L280.2,386.8 L281.1,388.4 L281.5,387.7 L282.1,387.9 L282.9,389.3 L283.4,389.0 L284.1,389.3 L284.4,388.3 L285.1,389.0 L285.6,388.7 L286.2,389.0 L286.7,388.6 L287.0,390.2 L287.3,388.8 L287.9,389.0 L288.7,390.6 L288.8,387.9 L289.6,389.5 M282.9,374.1 L283.7,374.4 L284.7,373.5 L285.7,375.1 L285.8,371.4 L287.0,373.7 L287.5,372.4 L288.2,372.4 L288.8,371.5 L290.0,374.1 L290.3,371.2 L291.7,375.2 L292.1,373.0 L292.7,372.3 L293.7,373.5 L294.5,373.9 L295.2,373.8 L295.9,373.2 L296.5,372.4 L297.6,374.8 L297.9,371.9 L299.1,374.3 L299.8,374.4 L300.2,372.2 L300.9,372.0 L301.5,371.1 L302.6,372.8 L303.1,371.8 L304.2,373.7 L304.9,373.5 L305.6,373.0" fill="none" stroke="#4cb050" stroke-width="0.35" opacity="1" stroke-linejoin="round"/>
</g>
<circle cx="293" cy="355.7" r="40.5" fill="none" stroke="#222" stroke-width="0.9"/>
<text x="278.5" y="334.4" font-size="6.6" fill="#9a5ad0" stroke="#9a5ad0" stroke-width="0.16" text-anchor="start" font-weight="normal" >LV</text>
<text x="293.8" y="331.5" font-size="6.6" fill="#9a5ad0" stroke="#9a5ad0" stroke-width="0.16" text-anchor="start" font-weight="normal" >SF</text>
<text x="275.5" y="343.2" font-size="6.6" fill="#9a5ad0" stroke="#9a5ad0" stroke-width="0.16" text-anchor="start" font-weight="normal" >LSc</text>
<text x="289.5" y="355.2" font-size="6.6" fill="#222" stroke="#222" stroke-width="0.16" text-anchor="start" font-weight="normal" >CS</text>
<text x="254.4" y="355.2" font-size="6.6" fill="#3aa04a" stroke="#3aa04a" stroke-width="0.16" text-anchor="start" font-weight="normal" >DP5</text>
<text x="259.1" y="365.1" font-size="6.6" fill="#3aa04a" stroke="#3aa04a" stroke-width="0.16" text-anchor="start" font-weight="normal" >DP2/3</text>
<text x="254.4" y="370.9" font-size="6.6" fill="#3aa04a" stroke="#3aa04a" stroke-width="0.16" text-anchor="start" font-weight="normal" >TT2</text>
<text x="309.1" y="375.3" font-size="6.6" fill="#3aa04a" stroke="#3aa04a" stroke-width="0.16" text-anchor="start" font-weight="normal" >MS</text>
<text x="362.9" y="205.7" font-size="6.6" fill="#8a8a8a" stroke="#8a8a8a" stroke-width="0.16" text-anchor="start" font-weight="normal" >SS</text>
<text x="451.7" y="206.2" font-size="6.6" fill="#8a8a8a" stroke="#8a8a8a" stroke-width="0.16" text-anchor="start" font-weight="normal" >VIS</text>
<text x="292.1" y="231.3" font-size="6.6" fill="#8a8a8a" stroke="#8a8a8a" stroke-width="0.16" text-anchor="start" font-weight="normal" >MO</text>
<text x="394.7" y="229.9" font-size="6.6" fill="#8a8a8a" stroke="#8a8a8a" stroke-width="0.16" text-anchor="start" font-weight="normal" >CA</text>
<text x="428.5" y="237.2" font-size="6.6" fill="#8a8a8a" stroke="#8a8a8a" stroke-width="0.16" text-anchor="start" font-weight="normal" >SUB</text>
<text x="467.8" y="271.1" font-size="6.6" fill="#8a8a8a" stroke="#8a8a8a" stroke-width="0.16" text-anchor="start" font-weight="normal" >MB</text>
<text x="280.0" y="297.3" font-size="6.6" fill="#8a8a8a" stroke="#8a8a8a" stroke-width="0.16" text-anchor="start" font-weight="normal" >OLF</text>
<text x="362.0" y="292.6" font-size="6.6" fill="#8a8a8a" stroke="#8a8a8a" stroke-width="0.16" text-anchor="start" font-weight="normal" >CNU</text>
<text x="377.0" y="370.9" font-size="6.6" fill="#8a8a8a" stroke="#8a8a8a" stroke-width="0.16" text-anchor="start" font-weight="normal" >HY</text>
<ellipse cx="269.5" cy="203.5" rx="3" ry="4" fill="#e6e6e6" stroke="#c8c8c8" stroke-width="0.4"/>
<path d="M300,193.5 C306,193.5 309.2,198 309.2,202.5 C309.2,207.5 305.5,210.5 300,210 Z" fill="#ececec" stroke="#c4c4c4" stroke-width="0.4"/>
<path d="M296,206 L306,208 L305,212 L297,211 Z" fill="#dadada" stroke="#bbb" stroke-width="0.4"/>
<path d="M272,202 C272,194 282,190 292,190.5 C300,191 304,196 303,203 C302,209 296,212 288,212 C280,212 272,209 272,202 Z" fill="#e8e8e8" stroke="#b4b4b4" stroke-width="0.5"/>
<path d="M276,200 C280,195 288,193 296,194 M296,194 C300,198 300,205 297,209 M278,207 C284,210 292,210 298,208" fill="none" stroke="#c4c4c4" stroke-width="0.5"/>
<rect x="271.2" y="188.4" width="30.6" height="25.2" fill="none" stroke="#444" stroke-width="0.9"/>
<circle cx="345.6" cy="385.8" r="3.2" fill="#b890e0"/><circle cx="345.6" cy="394.9" r="3.2" fill="#5cc870"/>
<text x="352.2" y="388.1" font-size="6.3" fill="#222" stroke="#222" stroke-width="0.16" text-anchor="start" font-weight="normal" >Efferent from CA3spi</text>
<text x="352.2" y="397.2" font-size="6.3" fill="#222" stroke="#222" stroke-width="0.16" text-anchor="start" font-weight="normal" >Efferent from CA3sod</text>
<path d="M471.5,383.9 L484.7,383.9 M478.1,377 L478.1,390.5" stroke="#222" stroke-width="0.8"/>
<text x="478.1" y="377.0" font-size="6" fill="#222" stroke="#222" stroke-width="0.16" text-anchor="middle" font-weight="normal" >D</text>
<text x="470.0" y="386.2" font-size="6" fill="#222" stroke="#222" stroke-width="0.16" text-anchor="end" font-weight="normal" >A</text>
<text x="486.4" y="386.2" font-size="6" fill="#222" stroke="#222" stroke-width="0.16" text-anchor="start" font-weight="normal" >P</text>
<text x="478.1" y="397.0" font-size="6" fill="#222" stroke="#222" stroke-width="0.16" text-anchor="middle" font-weight="normal" >V</text>
<text x="515.6" y="189.5" font-size="13" fill="#000" text-anchor="start" font-weight="bold" >f</text>
<text x="569.0" y="187.7" font-size="6.6" fill="#222" stroke="#222" stroke-width="0.16" text-anchor="middle" font-weight="normal" >Ipsilateral</text>
<text x="637.7" y="187.7" font-size="6.6" fill="#222" stroke="#222" stroke-width="0.16" text-anchor="middle" font-weight="normal" >Contralateral</text>
<rect x="529.9" y="190.8" width="148.7" height="35.3" rx="3.5" fill="#f0f0f0" stroke="#f5c23c" stroke-width="1" stroke-dasharray="2.6,1.6"/>
<rect x="529.9" y="230.7" width="148.7" height="17.9" rx="3.5" fill="#f0f0f0" stroke="#f5c23c" stroke-width="1" stroke-dasharray="2.6,1.6"/>
<rect x="529.9" y="253" width="148.7" height="90.3" rx="3.5" fill="#f0f0f0" stroke="#f0a040" stroke-width="1" stroke-dasharray="2.6,1.6"/>
<rect x="529.9" y="348.9" width="148.7" height="39.6" rx="3.5" fill="#f0f0f0" stroke="#f0a040" stroke-width="1" stroke-dasharray="2.6,1.6"/>
<rect x="529.9" y="393.7" width="148.7" height="14.0" rx="3.5" fill="#f0f0f0" stroke="#4ab4e8" stroke-width="1" stroke-dasharray="2.6,1.6"/>
<path d="M607,183 L607,410" stroke="#666" stroke-width="0.7" stroke-dasharray="2.2,1,0.6,1"/>
<text transform="translate(526.8,208.4) rotate(-90)" font-size="6.6" fill="#222" text-anchor="middle">Isocortex</text>
<text transform="translate(526.8,239.6) rotate(-90)" font-size="6.6" fill="#222" text-anchor="middle">OLF</text>
<text transform="translate(526.8,298) rotate(-90)" font-size="6.6" fill="#222" text-anchor="middle">HPF</text>
<text transform="translate(526.8,368.7) rotate(-90)" font-size="6.6" fill="#222" text-anchor="middle">CNU</text>
<text transform="translate(526.8,400.7) rotate(-90)" font-size="6.6" fill="#222" text-anchor="middle">HY</text>
<path d="M583.3,199.3 L660.7,199.3" stroke="#444" stroke-width="0.8"/>
<path d="M583.3,205.1 L660.7,205.1" stroke="#444" stroke-width="0.8"/>
<path d="M583.3,212 L660.7,212" stroke="#888" stroke-width="0.8"/>
<path d="M583.3,218.4 L660.7,218.4" stroke="#444" stroke-width="0.8"/>
<text x="581.5" y="197.3" font-size="6.6" fill="#222" stroke="#222" stroke-width="0.16" text-anchor="end" font-weight="normal" >1</text>
<text x="581.5" y="203.9" font-size="6.6" fill="#222" stroke="#222" stroke-width="0.16" text-anchor="end" font-weight="normal" >2/3</text>
<text x="581.5" y="210.5" font-size="6.6" fill="#222" stroke="#222" stroke-width="0.16" text-anchor="end" font-weight="normal" >5</text>
<text x="581.5" y="216.9" font-size="6.6" fill="#222" stroke="#222" stroke-width="0.16" text-anchor="end" font-weight="normal" >6a</text>
<text x="581.5" y="223.3" font-size="6.6" fill="#222" stroke="#222" stroke-width="0.16" text-anchor="end" font-weight="normal" >6b</text>
<text x="549.6" y="210.5" font-size="6.6" fill="#222" stroke="#222" stroke-width="0.16" text-anchor="start" font-weight="normal" >RSPv</text>
<circle cx="613.5" cy="195.0" r="1.25" fill="#5aa860" stroke="#444" stroke-width="0.35"/>
<circle cx="613.5" cy="201.6" r="1.25" fill="#5aa860" stroke="#444" stroke-width="0.35"/>
<circle cx="613.5" cy="208.2" r="1.25" fill="#5aa860" stroke="#444" stroke-width="0.35"/>
<text x="596.4" y="237.1" font-size="6.6" fill="#222" stroke="#222" stroke-width="0.16" text-anchor="end" font-weight="normal" >DP2/3</text>
<circle cx="600.4" cy="234.8" r="1.25" fill="#5aa860" stroke="#444" stroke-width="0.35"/>
<text x="568.3" y="245.8" font-size="6.6" fill="#222" stroke="#222" stroke-width="0.16" text-anchor="end" font-weight="normal" >TTd2</text>
<circle cx="573.9" cy="243.5" r="1.25" fill="#5aa860" stroke="#444" stroke-width="0.35"/>
<text x="596.4" y="245.8" font-size="6.6" fill="#222" stroke="#222" stroke-width="0.16" text-anchor="end" font-weight="normal" >DP5</text>
<circle cx="600.4" cy="243.5" r="1.25" fill="#5aa860" stroke="#444" stroke-width="0.35"/>
<text x="564.4" y="257.8" font-size="6.3" fill="#d02a2a" stroke="#d02a2a" stroke-width="0.16" text-anchor="middle" font-weight="normal" >so</text>
<text x="573.9" y="257.8" font-size="6.3" fill="#d02a2a" stroke="#d02a2a" stroke-width="0.16" text-anchor="middle" font-weight="normal" >sp</text>
<text x="583.3" y="257.8" font-size="6.3" fill="#d02a2a" stroke="#d02a2a" stroke-width="0.16" text-anchor="middle" font-weight="normal" >slu</text>
<text x="592.3" y="257.8" font-size="6.3" fill="#d02a2a" stroke="#d02a2a" stroke-width="0.16" text-anchor="middle" font-weight="normal" >sr</text>
<text x="600.7" y="257.8" font-size="6.3" fill="#d02a2a" stroke="#d02a2a" stroke-width="0.16" text-anchor="middle" font-weight="normal" >slm</text>
<text x="613.5" y="257.8" font-size="6.3" fill="#d02a2a" stroke="#d02a2a" stroke-width="0.16" text-anchor="middle" font-weight="normal" >slm</text>
<text x="622.4" y="257.8" font-size="6.3" fill="#d02a2a" stroke="#d02a2a" stroke-width="0.16" text-anchor="middle" font-weight="normal" >sr</text>
<text x="631.6" y="257.8" font-size="6.3" fill="#d02a2a" stroke="#d02a2a" stroke-width="0.16" text-anchor="middle" font-weight="normal" >slu</text>
<text x="640.8" y="257.8" font-size="6.3" fill="#d02a2a" stroke="#d02a2a" stroke-width="0.16" text-anchor="middle" font-weight="normal" >sp</text>
<text x="650.0" y="257.8" font-size="6.3" fill="#d02a2a" stroke="#d02a2a" stroke-width="0.16" text-anchor="middle" font-weight="normal" >so</text>
<text x="548.3" y="268.1" font-size="6.6" fill="#222" stroke="#222" stroke-width="0.16" text-anchor="end" font-weight="normal" >CA1</text>
<text x="663.3" y="268.1" font-size="6.6" fill="#222" stroke="#222" stroke-width="0.16" text-anchor="start" font-weight="normal" >CA1</text>
<text x="548.3" y="278.6" font-size="6.6" fill="#222" stroke="#222" stroke-width="0.16" text-anchor="end" font-weight="normal" >CA2</text>
<text x="663.3" y="278.6" font-size="6.6" fill="#222" stroke="#222" stroke-width="0.16" text-anchor="start" font-weight="normal" >CA2</text>
<text x="548.3" y="294.5" font-size="6.6" fill="#222" stroke="#222" stroke-width="0.16" text-anchor="end" font-weight="normal" >CA3</text>
<text x="663.3" y="294.5" font-size="6.6" fill="#222" stroke="#222" stroke-width="0.16" text-anchor="start" font-weight="normal" >CA3</text>
<text x="548.3" y="313.6" font-size="6.6" fill="#222" stroke="#222" stroke-width="0.16" text-anchor="end" font-weight="normal" >DG</text>
<text x="663.3" y="313.6" font-size="6.6" fill="#222" stroke="#222" stroke-width="0.16" text-anchor="start" font-weight="normal" >DG</text>
<text x="548.3" y="328.4" font-size="6.6" fill="#222" stroke="#222" stroke-width="0.16" text-anchor="end" font-weight="normal" >SUB</text>
<text x="663.3" y="328.4" font-size="6.6" fill="#222" stroke="#222" stroke-width="0.16" text-anchor="start" font-weight="normal" >SUB</text>
<text x="535.0" y="339.7" font-size="6.6" fill="#222" stroke="#222" stroke-width="0.16" text-anchor="start" font-weight="normal" >ProSUB</text>
<text x="611.0" y="339.7" font-size="6.6" fill="#222" stroke="#222" stroke-width="0.16" text-anchor="start" font-weight="normal" >FC</text>
<circle cx="623.2" cy="337.4" r="1.25" fill="#5aa860" stroke="#444" stroke-width="0.35"/>
<circle cx="564.4" cy="337.4" r="1.25" fill="#9a7cc4" stroke="#444" stroke-width="0.35"/>
<text x="556.0" y="262.8" font-size="6.0" fill="#d02a2a" stroke="#d02a2a" stroke-width="0.16" text-anchor="middle" font-weight="normal" >d</text>
<text x="556.0" y="267.3" font-size="6.0" fill="#d02a2a" stroke="#d02a2a" stroke-width="0.16" text-anchor="middle" font-weight="normal" >i</text>
<text x="556.0" y="273.2" font-size="6.0" fill="#d02a2a" stroke="#d02a2a" stroke-width="0.16" text-anchor="middle" font-weight="normal" >v</text>
<text x="556.0" y="284.6" font-size="6.0" fill="#d02a2a" stroke="#d02a2a" stroke-width="0.16" text-anchor="middle" font-weight="normal" >dd</text>
<text x="556.0" y="289.8" font-size="6.0" fill="#d02a2a" stroke="#d02a2a" stroke-width="0.16" text-anchor="middle" font-weight="normal" >d</text>
<text x="556.0" y="294.5" font-size="6.0" fill="#d02a2a" stroke="#d02a2a" stroke-width="0.16" text-anchor="middle" font-weight="normal" >i</text>
<text x="556.0" y="299.5" font-size="6.0" fill="#d02a2a" stroke="#d02a2a" stroke-width="0.16" text-anchor="middle" font-weight="normal" >v</text>
<text x="556.0" y="308.8" font-size="6.0" fill="#d02a2a" stroke="#d02a2a" stroke-width="0.16" text-anchor="middle" font-weight="normal" >d</text>
<text x="556.0" y="313.2" font-size="6.0" fill="#d02a2a" stroke="#d02a2a" stroke-width="0.16" text-anchor="middle" font-weight="normal" >i</text>
<text x="556.0" y="318.5" font-size="6.0" fill="#d02a2a" stroke="#d02a2a" stroke-width="0.16" text-anchor="middle" font-weight="normal" >v</text>
<text x="556.0" y="326.2" font-size="6.0" fill="#d02a2a" stroke="#d02a2a" stroke-width="0.16" text-anchor="middle" font-weight="normal" >d</text>
<text x="556.0" y="332.3" font-size="6.0" fill="#d02a2a" stroke="#d02a2a" stroke-width="0.16" text-anchor="middle" font-weight="normal" >v</text>
<text x="658.2" y="262.8" font-size="6.0" fill="#d02a2a" stroke="#d02a2a" stroke-width="0.16" text-anchor="middle" font-weight="normal" >d</text>
<text x="658.2" y="267.3" font-size="6.0" fill="#d02a2a" stroke="#d02a2a" stroke-width="0.16" text-anchor="middle" font-weight="normal" >i</text>
<text x="658.2" y="273.2" font-size="6.0" fill="#d02a2a" stroke="#d02a2a" stroke-width="0.16" text-anchor="middle" font-weight="normal" >v</text>
<text x="658.2" y="284.6" font-size="6.0" fill="#d02a2a" stroke="#d02a2a" stroke-width="0.16" text-anchor="middle" font-weight="normal" >dd</text>
<text x="658.2" y="289.8" font-size="6.0" fill="#d02a2a" stroke="#d02a2a" stroke-width="0.16" text-anchor="middle" font-weight="normal" >d</text>
<text x="658.2" y="294.5" font-size="6.0" fill="#d02a2a" stroke="#d02a2a" stroke-width="0.16" text-anchor="middle" font-weight="normal" >i</text>
<text x="658.2" y="299.5" font-size="6.0" fill="#d02a2a" stroke="#d02a2a" stroke-width="0.16" text-anchor="middle" font-weight="normal" >v</text>
<text x="658.2" y="308.8" font-size="6.0" fill="#d02a2a" stroke="#d02a2a" stroke-width="0.16" text-anchor="middle" font-weight="normal" >d</text>
<text x="658.2" y="313.2" font-size="6.0" fill="#d02a2a" stroke="#d02a2a" stroke-width="0.16" text-anchor="middle" font-weight="normal" >i</text>
<text x="658.2" y="318.5" font-size="6.0" fill="#d02a2a" stroke="#d02a2a" stroke-width="0.16" text-anchor="middle" font-weight="normal" >v</text>
<text x="658.2" y="326.2" font-size="6.0" fill="#d02a2a" stroke="#d02a2a" stroke-width="0.16" text-anchor="middle" font-weight="normal" >d</text>
<text x="658.2" y="332.3" font-size="6.0" fill="#d02a2a" stroke="#d02a2a" stroke-width="0.16" text-anchor="middle" font-weight="normal" >v</text>
<text x="564.4" y="303.9" font-size="6.6" fill="#222" stroke="#222" stroke-width="0.16" text-anchor="middle" font-weight="normal" >mo</text>
<text x="583.3" y="303.9" font-size="6.6" fill="#222" stroke="#222" stroke-width="0.16" text-anchor="middle" font-weight="normal" >sg</text>
<text x="600.7" y="303.9" font-size="6.6" fill="#222" stroke="#222" stroke-width="0.16" text-anchor="middle" font-weight="normal" >po</text>
<text x="613.5" y="303.9" font-size="6.6" fill="#222" stroke="#222" stroke-width="0.16" text-anchor="middle" font-weight="normal" >po</text>
<text x="631.6" y="303.9" font-size="6.6" fill="#222" stroke="#222" stroke-width="0.16" text-anchor="middle" font-weight="normal" >sg</text>
<text x="650.0" y="303.9" font-size="6.6" fill="#222" stroke="#222" stroke-width="0.16" text-anchor="middle" font-weight="normal" >mo</text>
<text x="564.4" y="321.8" font-size="6.3" fill="#d02a2a" stroke="#d02a2a" stroke-width="0.16" text-anchor="middle" font-weight="normal" >sp</text>
<text x="583.3" y="321.8" font-size="6.3" fill="#d02a2a" stroke="#d02a2a" stroke-width="0.16" text-anchor="middle" font-weight="normal" >sr</text>
<text x="600.7" y="321.8" font-size="6.3" fill="#d02a2a" stroke="#d02a2a" stroke-width="0.16" text-anchor="middle" font-weight="normal" >m</text>
<text x="613.5" y="321.8" font-size="6.3" fill="#d02a2a" stroke="#d02a2a" stroke-width="0.16" text-anchor="middle" font-weight="normal" >m</text>
<text x="631.6" y="321.8" font-size="6.3" fill="#d02a2a" stroke="#d02a2a" stroke-width="0.16" text-anchor="middle" font-weight="normal" >sr</text>
<text x="650.0" y="321.8" font-size="6.3" fill="#d02a2a" stroke="#d02a2a" stroke-width="0.16" text-anchor="middle" font-weight="normal" >sp</text>
<path d="M558.5,332.3 L663.3,332.3" stroke="#aaa" stroke-width="0.5" stroke-dasharray="2,1"/>
<circle cx="564.4" cy="261.5" r="1.25" fill="#9a7cc4" stroke="#444" stroke-width="0.35"/>
<circle cx="573.9" cy="261.5" r="1.25" fill="#9a7cc4" stroke="#444" stroke-width="0.35"/>
<circle cx="592.3" cy="261.5" r="1.25" fill="#9a7cc4" stroke="#444" stroke-width="0.35"/>
<circle cx="600.7" cy="261.5" r="1.25" fill="#9a7cc4" stroke="#444" stroke-width="0.35"/>
<circle cx="613.5" cy="261.5" r="1.25" fill="#9a7cc4" stroke="#444" stroke-width="0.35"/>
<circle cx="622.4" cy="261.5" r="1.25" fill="#9a7cc4" stroke="#444" stroke-width="0.35"/>
<circle cx="640.8" cy="261.5" r="1.25" fill="#9a7cc4" stroke="#444" stroke-width="0.35"/>
<circle cx="650.0" cy="261.5" r="1.25" fill="#9a7cc4" stroke="#444" stroke-width="0.35"/>
<circle cx="564.4" cy="266.1" r="1.25" fill="#9a7cc4" stroke="#444" stroke-width="0.35"/>
<circle cx="573.9" cy="266.1" r="1.25" fill="#9a7cc4" stroke="#444" stroke-width="0.35"/>
<circle cx="592.3" cy="266.1" r="1.25" fill="#9a7cc4" stroke="#444" stroke-width="0.35"/>
<circle cx="600.7" cy="266.1" r="1.25" fill="#9a7cc4" stroke="#444" stroke-width="0.35"/>
<circle cx="640.8" cy="266.1" r="1.25" fill="#9a7cc4" stroke="#444" stroke-width="0.35"/>
<circle cx="650.0" cy="266.1" r="1.25" fill="#9a7cc4" stroke="#444" stroke-width="0.35"/>
<circle cx="592.3" cy="271.0" r="1.25" fill="#9a7cc4" stroke="#444" stroke-width="0.35"/>
<circle cx="600.7" cy="271.0" r="1.25" fill="#9a7cc4" stroke="#444" stroke-width="0.35"/>
<circle cx="613.5" cy="271.0" r="1.25" fill="#9a7cc4" stroke="#444" stroke-width="0.35"/>
<circle cx="622.4" cy="271.0" r="1.25" fill="#9a7cc4" stroke="#444" stroke-width="0.35"/>
<circle cx="640.8" cy="271.0" r="1.25" fill="#9a7cc4" stroke="#444" stroke-width="0.35"/>
<circle cx="650.0" cy="271.0" r="1.25" fill="#9a7cc4" stroke="#444" stroke-width="0.35"/>
<circle cx="564.4" cy="276.3" r="1.25" fill="#5aa860" stroke="#444" stroke-width="0.35"/>
<circle cx="583.3" cy="276.3" r="1.25" fill="#5aa860" stroke="#444" stroke-width="0.35"/>
<circle cx="592.3" cy="276.3" r="1.25" fill="#9a7cc4" stroke="#444" stroke-width="0.35"/>
<circle cx="600.7" cy="276.3" r="1.25" fill="#9a7cc4" stroke="#444" stroke-width="0.35"/>
<circle cx="622.4" cy="276.3" r="1.25" fill="#9a7cc4" stroke="#444" stroke-width="0.35"/>
<circle cx="640.8" cy="276.3" r="1.25" fill="#9a7cc4" stroke="#444" stroke-width="0.35"/>
<circle cx="650.0" cy="276.3" r="1.25" fill="#5aa860" stroke="#444" stroke-width="0.35"/>
<circle cx="564.4" cy="282.7" r="1.25" fill="#5aa860" stroke="#444" stroke-width="0.35"/>
<circle cx="640.8" cy="282.7" r="1.25" fill="#5aa860" stroke="#444" stroke-width="0.35"/>
<circle cx="564.4" cy="287.8" r="1.25" fill="#5aa860" stroke="#444" stroke-width="0.35"/>
<circle cx="573.9" cy="287.8" r="1.25" fill="#9a7cc4" stroke="#444" stroke-width="0.35"/>
<circle cx="583.3" cy="287.8" r="1.25" fill="#5aa860" stroke="#444" stroke-width="0.35"/>
<circle cx="592.3" cy="287.8" r="1.25" fill="#9a7cc4" stroke="#444" stroke-width="0.35"/>
<circle cx="600.7" cy="287.8" r="1.25" fill="#9a7cc4" stroke="#444" stroke-width="0.35"/>
<circle cx="613.5" cy="287.8" r="1.25" fill="#9a7cc4" stroke="#444" stroke-width="0.35"/>
<circle cx="622.4" cy="287.8" r="1.25" fill="#9a7cc4" stroke="#444" stroke-width="0.35"/>
<circle cx="631.6" cy="287.8" r="1.25" fill="#9a7cc4" stroke="#444" stroke-width="0.35"/>
<circle cx="650.0" cy="287.8" r="1.25" fill="#9a7cc4" stroke="#444" stroke-width="0.35"/>
<circle cx="573.9" cy="292.7" r="1.25" fill="#9a7cc4" stroke="#444" stroke-width="0.35"/>
<circle cx="583.3" cy="292.7" r="1.25" fill="#9a7cc4" stroke="#444" stroke-width="0.35"/>
<circle cx="592.3" cy="292.7" r="1.25" fill="#9a7cc4" stroke="#444" stroke-width="0.35"/>
<circle cx="600.7" cy="292.7" r="1.25" fill="#9a7cc4" stroke="#444" stroke-width="0.35"/>
<circle cx="613.5" cy="292.7" r="1.25" fill="#9a7cc4" stroke="#444" stroke-width="0.35"/>
<circle cx="622.4" cy="292.7" r="1.25" fill="#9a7cc4" stroke="#444" stroke-width="0.35"/>
<circle cx="631.6" cy="292.7" r="1.25" fill="#9a7cc4" stroke="#444" stroke-width="0.35"/>
<circle cx="640.8" cy="292.7" r="1.25" fill="#9a7cc4" stroke="#444" stroke-width="0.35"/>
<circle cx="650.0" cy="292.7" r="1.25" fill="#9a7cc4" stroke="#444" stroke-width="0.35"/>
<circle cx="564.4" cy="297.3" r="1.25" fill="#9a7cc4" stroke="#444" stroke-width="0.35"/>
<circle cx="564.4" cy="306.7" r="1.25" fill="#5aa860" stroke="#444" stroke-width="0.35"/>
<circle cx="583.3" cy="306.7" r="1.25" fill="#5aa860" stroke="#444" stroke-width="0.35"/>
<circle cx="600.7" cy="306.7" r="1.25" fill="#5aa860" stroke="#444" stroke-width="0.35"/>
<circle cx="631.6" cy="306.7" r="1.25" fill="#5aa860" stroke="#444" stroke-width="0.35"/>
<circle cx="583.3" cy="311.3" r="1.25" fill="#9a7cc4" stroke="#444" stroke-width="0.35"/>
<circle cx="600.7" cy="311.3" r="1.25" fill="#9a7cc4" stroke="#444" stroke-width="0.35"/>
<circle cx="613.5" cy="311.3" r="1.25" fill="#9a7cc4" stroke="#444" stroke-width="0.35"/>
<circle cx="564.4" cy="324.0" r="1.25" fill="#9a7cc4" stroke="#444" stroke-width="0.35"/>
<circle cx="583.3" cy="324.0" r="1.25" fill="#9a7cc4" stroke="#444" stroke-width="0.35"/>
<circle cx="600.7" cy="324.0" r="1.25" fill="#9a7cc4" stroke="#444" stroke-width="0.35"/>
<circle cx="622.4" cy="324.0" r="1.25" fill="#9a7cc4" stroke="#444" stroke-width="0.35"/>
<circle cx="650.0" cy="324.0" r="1.25" fill="#5aa860" stroke="#444" stroke-width="0.35"/>
<circle cx="564.4" cy="329.2" r="1.25" fill="#9a7cc4" stroke="#444" stroke-width="0.35"/>
<circle cx="583.3" cy="329.2" r="1.25" fill="#9a7cc4" stroke="#444" stroke-width="0.35"/>
<circle cx="600.7" cy="329.2" r="1.25" fill="#9a7cc4" stroke="#444" stroke-width="0.35"/>
<circle cx="613.5" cy="329.2" r="1.25" fill="#9a7cc4" stroke="#444" stroke-width="0.35"/>
<circle cx="622.4" cy="329.2" r="1.25" fill="#9a7cc4" stroke="#444" stroke-width="0.35"/>
<circle cx="650.0" cy="329.2" r="1.25" fill="#9a7cc4" stroke="#444" stroke-width="0.35"/>
<path d="M564.4,284.9 l1.1,2.3 2.5,0.3 -1.8,1.7 0.5,2.5 -2.3,-1.2 -2.3,1.2 0.5,-2.5 -1.8,-1.7 2.5,-0.3 Z" fill="#4caf50" stroke="#2a6a2a" stroke-width="0.4"/>
<path d="M573.9,289.8 l1.1,2.3 2.5,0.3 -1.8,1.7 0.5,2.5 -2.3,-1.2 -2.3,1.2 0.5,-2.5 -1.8,-1.7 2.5,-0.3 Z" fill="#a080d0" stroke="#5a3a8a" stroke-width="0.4"/>
<text x="554.0" y="354.6" font-size="6.6" fill="#222" stroke="#222" stroke-width="0.16" text-anchor="end" font-weight="normal" >LSr</text>
<text x="554.0" y="363.5" font-size="6.6" fill="#222" stroke="#222" stroke-width="0.16" text-anchor="end" font-weight="normal" >LSc</text>
<text x="554.0" y="372.2" font-size="6.6" fill="#222" stroke="#222" stroke-width="0.16" text-anchor="end" font-weight="normal" >SF</text>
<text x="554.0" y="379.6" font-size="6.6" fill="#222" stroke="#222" stroke-width="0.16" text-anchor="end" font-weight="normal" >NDB</text>
<text x="554.0" y="387.5" font-size="6.6" fill="#222" stroke="#222" stroke-width="0.16" text-anchor="end" font-weight="normal" >SI</text>
<circle cx="564.2" cy="352.3" r="1.25" fill="#5aa860" stroke="#444" stroke-width="0.35"/>
<circle cx="564.2" cy="361.2" r="1.25" fill="#9a7cc4" stroke="#444" stroke-width="0.35"/>
<circle cx="564.2" cy="369.9" r="1.25" fill="#5aa860" stroke="#444" stroke-width="0.35"/>
<circle cx="564.2" cy="377.3" r="1.25" fill="#5aa860" stroke="#444" stroke-width="0.35"/>
<circle cx="564.2" cy="385.2" r="1.25" fill="#5aa860" stroke="#444" stroke-width="0.35"/>
<text x="598.1" y="354.6" font-size="6.6" fill="#222" stroke="#222" stroke-width="0.16" text-anchor="end" font-weight="normal" >ACBv</text>
<circle cx="600.7" cy="352.3" r="1.25" fill="#5aa860" stroke="#444" stroke-width="0.35"/>
<text x="598.1" y="379.6" font-size="6.6" fill="#222" stroke="#222" stroke-width="0.16" text-anchor="end" font-weight="normal" >TRS</text>
<circle cx="600.7" cy="377.3" r="1.25" fill="#5aa860" stroke="#444" stroke-width="0.35"/>
<text x="598.1" y="387.5" font-size="6.6" fill="#222" stroke="#222" stroke-width="0.16" text-anchor="end" font-weight="normal" >MS</text>
<circle cx="600.7" cy="385.2" r="1.25" fill="#5aa860" stroke="#444" stroke-width="0.35"/>
<circle cx="613.5" cy="377.3" r="1.25" fill="#9a7cc4" stroke="#444" stroke-width="0.35"/>
<text x="617.6" y="379.6" font-size="6.6" fill="#222" stroke="#222" stroke-width="0.16" text-anchor="start" font-weight="normal" >TRS</text>
<circle cx="650.0" cy="352.3" r="1.25" fill="#9a7cc4" stroke="#444" stroke-width="0.35"/>
<text x="656.9" y="354.6" font-size="6.6" fill="#222" stroke="#222" stroke-width="0.16" text-anchor="start" font-weight="normal" >LSr</text>
<circle cx="650.0" cy="361.2" r="1.25" fill="#9a7cc4" stroke="#444" stroke-width="0.35"/>
<text x="656.9" y="363.5" font-size="6.6" fill="#222" stroke="#222" stroke-width="0.16" text-anchor="start" font-weight="normal" >LSc</text>
<circle cx="650.0" cy="369.9" r="1.25" fill="#9a7cc4" stroke="#444" stroke-width="0.35"/>
<text x="656.9" y="372.2" font-size="6.6" fill="#222" stroke="#222" stroke-width="0.16" text-anchor="start" font-weight="normal" >SF</text>
<circle cx="650.0" cy="377.3" r="1.25" fill="#5aa860" stroke="#444" stroke-width="0.35"/>
<text x="656.9" y="379.6" font-size="6.6" fill="#222" stroke="#222" stroke-width="0.16" text-anchor="start" font-weight="normal" >NDB</text>
<text x="553.4" y="403.1" font-size="6.6" fill="#222" stroke="#222" stroke-width="0.16" text-anchor="end" font-weight="normal" >LPO</text>
<circle cx="564.2" cy="400.8" r="1.25" fill="#5aa860" stroke="#444" stroke-width="0.35"/>
<circle cx="613.5" cy="400.8" r="1.25" fill="#5aa860" stroke="#444" stroke-width="0.35"/>
<text x="618.0" y="403.1" font-size="6.6" fill="#222" stroke="#222" stroke-width="0.16" text-anchor="start" font-weight="normal" >MPO</text>
<circle cx="650.0" cy="400.8" r="1.25" fill="#5aa860" stroke="#444" stroke-width="0.35"/>
<text x="656.9" y="403.1" font-size="6.6" fill="#222" stroke="#222" stroke-width="0.16" text-anchor="start" font-weight="normal" >LPO</text>
<text x="250.6" y="428.4" font-size="13" fill="#000" text-anchor="start" font-weight="bold" >g</text>
<path d="M259.0,454.0 L262.0,630.0 M283.6,449.9 L286.1,622.1 M308.1,445.7 L310.3,614.3 M332.7,441.6 L334.4,606.4 M357.3,437.4 L358.6,598.6 M381.9,433.3 L382.7,590.7 M406.4,429.1 L406.9,582.9 M431.0,425.0 L431.0,575.0 M259.0,454.0 L431.0,425.0 M259.4,479.1 L431.0,446.4 M259.9,504.3 L431.0,467.9 M260.3,529.4 L431.0,489.3 M260.7,554.6 L431.0,510.7 M261.1,579.7 L431.0,532.1 M261.6,604.9 L431.0,553.6 M262.0,630.0 L431.0,575.0 M431.0,425.0 L431.0,575.0 M451.9,426.3 L451.5,576.5 M472.8,427.7 L472.0,578.0 M493.7,429.0 L492.5,579.5 M514.6,430.4 L513.0,581.0 M535.5,431.7 L533.5,582.5 M556.4,433.0 L554.0,584.0 M577.3,434.4 L574.5,585.5 M598.2,435.7 L595.0,587.0 M619.1,437.1 L615.5,588.5 M640.0,438.4 L636.0,590.0 M431.0,425.0 L640.0,438.4 M431.0,446.4 L639.4,460.1 M431.0,467.9 L638.9,481.7 M431.0,489.3 L638.3,503.4 M431.0,510.7 L637.7,525.0 M431.0,532.1 L637.1,546.7 M431.0,553.6 L636.6,568.3 M431.0,575.0 L636.0,590.0 M431.0,575.0 L262.0,630.0 M456.6,576.9 L289.2,638.8 M482.2,578.8 L316.5,647.5 M507.9,580.6 L343.8,656.2 M533.5,582.5 L371.0,665.0 M559.1,584.4 L398.2,673.8 M584.8,586.2 L425.5,682.5 M610.4,588.1 L452.8,691.2 M636.0,590.0 L480.0,700.0 M431.0,575.0 L636.0,590.0 M409.9,581.9 L616.5,603.8 M388.8,588.8 L597.0,617.5 M367.6,595.6 L577.5,631.2 M346.5,602.5 L558.0,645.0 M325.4,609.4 L538.5,658.8 M304.2,616.2 L519.0,672.5 M283.1,623.1 L499.5,686.2 M262.0,630.0 L480.0,700.0" stroke="#dedede" stroke-width="0.55" fill="none"/>
<path d="M332,445 L332,492 M258.6,509.6 L344.6,486.9 M521.9,468.4 L623.7,479.4 M400,600 L395,628 M360,600 L420,628" stroke="#a8d890" stroke-width="0.6" fill="none"/>
<text x="284.5" y="446.8" font-size="6.2" fill="#333" stroke="#333" stroke-width="0.16" text-anchor="middle" font-weight="normal" >−4.00</text>
<text x="323.2" y="441.0" font-size="6.2" fill="#333" stroke="#333" stroke-width="0.16" text-anchor="middle" font-weight="normal" >−2.00</text>
<text x="358.9" y="435.5" font-size="6.2" fill="#333" stroke="#333" stroke-width="0.16" text-anchor="middle" font-weight="normal" >0</text>
<text x="386.3" y="429.6" font-size="6.2" fill="#333" stroke="#333" stroke-width="0.16" text-anchor="middle" font-weight="normal" >2.00</text>
<text x="412.0" y="425.2" font-size="6.2" fill="#333" stroke="#333" stroke-width="0.16" text-anchor="middle" font-weight="normal" >4.00</text>
<text x="462.8" y="424.0" font-size="6.2" fill="#333" stroke="#333" stroke-width="0.16" text-anchor="middle" font-weight="normal" >4.00</text>
<text x="494.4" y="425.7" font-size="6.2" fill="#333" stroke="#333" stroke-width="0.16" text-anchor="middle" font-weight="normal" >2.00</text>
<text x="525.5" y="427.8" font-size="6.2" fill="#333" stroke="#333" stroke-width="0.16" text-anchor="middle" font-weight="normal" >0</text>
<text x="562.3" y="429.6" font-size="6.2" fill="#333" stroke="#333" stroke-width="0.16" text-anchor="middle" font-weight="normal" >−2.00</text>
<text x="601.2" y="432.2" font-size="6.2" fill="#333" stroke="#333" stroke-width="0.16" text-anchor="middle" font-weight="normal" >−4.00</text>
<text x="641.6" y="477.2" font-size="6.2" fill="#333" stroke="#333" stroke-width="0.16" text-anchor="middle" font-weight="normal" >2.00</text>
<defs><linearGradient id="gtop" x1="0" y1="0" x2="0.3" y2="1"><stop offset="0" stop-color="#b8741e"/><stop offset="0.5" stop-color="#c98826"/><stop offset="1" stop-color="#d99a2c"/></linearGradient><linearGradient id="gbase" x1="0" y1="0" x2="1" y2="1"><stop offset="0" stop-color="#f0a830"/><stop offset="1" stop-color="#e6b030"/></linearGradient><linearGradient id="gyel" x1="0" y1="0" x2="0" y2="1"><stop offset="0" stop-color="#f2d43a"/><stop offset="1" stop-color="#e8c02a"/></linearGradient><linearGradient id="gred" x1="0" y1="0" x2="1" y2="1"><stop offset="0" stop-color="#f07050"/><stop offset="1" stop-color="#e85a3c"/></linearGradient></defs>
<path d="M309.0,540.5 C309.6,536.8 310.6,533.4 312.0,530.0 C313.4,526.6 315.2,524.2 317.5,520.3 C319.8,516.3 322.2,511.0 326.0,506.3 C329.8,501.6 334.7,497.0 340.0,492.3 C345.3,487.6 352.2,482.4 358.0,478.3 C363.8,474.2 369.2,470.7 375.0,467.8 C380.8,464.9 385.5,462.8 393.0,460.8 C400.5,458.8 411.0,457.1 420.0,456.0 C429.0,454.9 438.3,454.3 447.0,454.2 C455.7,454.1 464.7,453.8 472.0,455.2 C479.3,456.6 485.3,463.1 491.0,462.8 C496.7,462.5 502.5,455.0 506.0,453.3 C509.5,451.6 510.4,451.9 512.0,452.9 C513.6,453.8 515.3,454.8 515.8,459.0 C516.3,463.2 515.8,470.7 514.8,478.0 C513.8,485.3 512.0,495.3 510.0,502.6 C507.9,509.9 505.0,515.9 502.5,521.6 C500.0,527.3 497.4,532.1 495.0,536.8 C492.6,541.5 490.3,546.6 488.0,550.0 C485.7,553.4 484.7,556.3 481.3,556.9 C477.9,557.5 473.5,553.0 467.9,553.6 C462.3,554.2 453.3,558.1 447.7,560.3 C442.1,562.5 437.6,564.7 434.3,567.0 C431.0,569.3 428.0,571.8 428.0,574.0 C428.0,576.2 432.7,577.9 434.3,580.4 C435.9,582.9 438.2,585.7 437.7,588.8 C437.1,591.9 435.5,596.4 431.0,598.9 C426.5,601.4 417.5,602.1 410.8,604.0 C404.1,605.9 396.4,608.3 390.7,610.0 C385.0,611.7 380.9,613.6 376.4,614.0 C371.9,614.4 369.8,614.0 363.7,612.4 C357.6,610.8 347.0,608.6 339.8,604.4 C332.6,600.1 325.5,593.0 320.7,586.9 C315.9,580.8 313.1,573.6 311.1,567.8 C309.1,562.0 308.9,556.5 308.5,552.0 C308.1,547.5 308.4,544.2 309.0,540.5 Z" fill="#e69a2a" stroke="#7a5020" stroke-width="0.5"/>
<path d="M317,520 C325,505 338,493 356,480 L362,486 C346,498 334,510 326,524 Z" fill="#f4b640" opacity="0.8"/>
<path d="M326,524 C334,510 346,498 362,486 C372,480 382,474 395,468 L400,478 C385,486 370,496 358,508 C348,518 340,528 334,536 Z" fill="#f0aa30" opacity="0.7"/>
<path d="M312,532 L322,520 L338,530 L332,540 Z" fill="#d88a20" opacity="0.6"/>
<defs><linearGradient id="gcav" x1="0" y1="0" x2="0" y2="1"><stop offset="0" stop-color="#94601e"/><stop offset="0.3" stop-color="#bc8228"/><stop offset="1" stop-color="#d09a34"/></linearGradient></defs>
<path d="M372.0,474.0 C376.8,469.8 385.0,465.2 393.0,462.5 C401.0,459.8 411.0,458.7 420.0,457.5 C429.0,456.3 438.3,455.7 447.0,455.5 C455.7,455.3 464.8,455.1 472.0,456.5 C479.2,457.9 486.0,460.1 490.0,464.0 C494.0,467.9 494.8,474.0 496.0,480.0 C497.2,486.0 497.7,494.7 497.0,500.0 C496.3,505.3 496.5,511.0 492.0,512.0 C487.5,513.0 476.2,507.5 470.0,506.0 C463.8,504.5 460.8,504.3 455.0,503.0 C449.2,501.7 441.7,498.7 435.0,498.0 C428.3,497.3 421.2,497.8 415.0,499.0 C408.8,500.2 403.0,502.8 398.0,505.0 C393.0,507.2 389.3,509.5 385.0,512.0 C380.7,514.5 376.2,517.3 372.0,520.0 C367.8,522.7 363.3,527.7 360.0,528.0 C356.7,528.3 352.7,525.8 352.0,522.0 C351.3,518.2 354.0,510.7 356.0,505.0 C358.0,499.3 361.3,493.2 364.0,488.0 C366.7,482.8 367.2,478.2 372.0,474.0 Z" fill="url(#gcav)"/>
<path d="M395,480 C410,474 430,476 450,486 C465,494 478,496 492,494 L494,506 C480,508 465,506 450,500 C430,492 412,490 398,494 Z" fill="#a87030" opacity="0.45"/>
<path d="M380,468 C400,461 430,458 460,458 C475,459 486,463 491,466" fill="none" stroke="#5a3a14" stroke-width="1.6" opacity="0.8"/>
<path d="M356,500 C366,490 378,484 392,480 C380,490 370,500 362,512 Z" fill="#7a4a18" opacity="0.55"/>
<path d="M464,478 L488,470 L497,478 L497,508 L486,513 L466,510 Z" fill="#c06a14" opacity="0.75"/>
<path d="M452,468 L456,505 M486,470 L487,512" stroke="#e08a30" stroke-width="0.7" fill="none"/>
<path d="M491,463 C497,458 502,454 506,453.3 L512,452.9 L515.8,459 L514.8,478 L510,502.6 L502.5,521.6 L495,536.8 C494,525 495,510 497,495 C498,482 496,470 491,463 Z" fill="#e6c23e"/>
<path d="M506,456 C510,470 508,490 502,510 C500,520 498,528 496,534" fill="none" stroke="#c8a030" stroke-width="1.2" opacity="0.7"/>
<path d="M366,532 C380,520 395,508 415,503 C435,500 455,504 470,508 C480,511 490,513 497,512 L498,522 C492,530 486,534 480,534 C460,530 440,528 420,530 C400,532 385,540 372,548 Z" fill="#e2a43c"/>
<path d="M420,503 L416,530 M448,503 L444,528" stroke="#c89040" stroke-width="0.6" fill="none"/>
<path d="M370.0,548.0 C372.8,543.0 380.0,542.3 385.0,540.0 C390.0,537.7 394.2,535.5 400.0,534.0 C405.8,532.5 412.5,531.7 420.0,531.0 C427.5,530.3 436.7,529.7 445.0,530.0 C453.3,530.3 463.3,532.3 470.0,533.0 C476.7,533.7 480.5,534.8 485.0,534.0 C489.5,533.2 495.3,527.5 497.0,528.0 C498.7,528.5 496.5,533.1 495.0,536.8 C493.5,540.5 490.3,546.6 488.0,550.0 C485.7,553.4 484.7,556.3 481.3,556.9 C477.9,557.5 473.5,553.0 467.9,553.6 C462.3,554.2 453.3,558.1 447.7,560.3 C442.1,562.5 437.6,564.7 434.3,567.0 C431.0,569.3 428.0,571.8 428.0,574.0 C428.0,576.2 432.7,577.9 434.3,580.4 C435.9,582.9 438.2,585.7 437.7,588.8 C437.1,591.9 435.5,596.4 431.0,598.9 C426.5,601.4 417.5,602.1 410.8,604.0 C404.1,605.9 396.2,608.7 390.7,610.0 C385.2,611.3 381.1,614.5 378.0,612.0 C374.9,609.5 373.7,602.0 372.0,595.0 C370.3,588.0 368.3,577.8 368.0,570.0 C367.7,562.2 367.2,553.0 370.0,548.0 Z" fill="#f2d63a"/>
<path d="M385,570 C400,560 420,556 445,552 C460,550 470,548 480,548 C470,556 455,560 440,566 C425,572 410,585 398,600 C390,590 386,580 385,570 Z" fill="#f8e450" opacity="0.8"/>
<path d="M372,600 C385,598 400,596 420,590 L431,598.9 L410.8,604 L390.7,610 L378,612 Z" fill="#e8c02a" opacity="0.9"/>
<path d="M408,590 C418,585 428,584 434,588 M395,603 C405,598 420,596 430,598" fill="none" stroke="#c8a020" stroke-width="0.6"/>
<path d="M308.0,540.0 C309.2,537.1 313.3,538.0 316.0,537.5 C318.7,537.0 320.0,536.7 324.0,536.7 C328.0,536.7 334.7,538.2 340.0,537.5 C345.3,536.8 350.7,534.8 356.0,532.7 C361.3,530.6 368.0,526.9 372.0,524.8 C376.0,522.7 379.7,519.1 380.0,520.0 C380.3,520.9 376.2,526.8 374.0,530.0 C371.8,533.2 368.7,535.7 367.0,539.0 C365.3,542.3 364.6,546.5 364.0,550.0 C363.4,553.5 363.5,556.3 363.7,560.0 C363.9,563.7 364.4,568.0 365.0,572.0 C365.6,576.0 366.2,580.0 367.0,584.0 C367.8,588.0 369.2,592.7 370.0,596.0 C370.8,599.3 370.9,601.0 372.0,604.0 C373.1,607.0 377.7,612.6 376.4,614.0 C375.1,615.4 368.4,613.2 364.0,612.4 C359.6,611.6 354.0,610.3 350.0,609.0 C346.0,607.7 343.1,606.6 339.8,604.4 C336.5,602.2 333.2,598.9 330.0,596.0 C326.8,593.1 323.4,590.4 320.7,586.9 C318.0,583.4 315.6,578.2 314.0,575.0 C312.4,571.8 312.0,571.1 311.1,567.8 C310.2,564.5 309.0,559.6 308.5,555.0 C308.0,550.4 306.8,542.9 308.0,540.0 Z" fill="#ee6a4c"/>
<path d="M310,545 C322,540 335,540 345,542 C348,560 352,585 358,608 C342,602 328,590 318,575 C312,565 310,555 310,545 Z" fill="#f58c70" opacity="0.75"/>
<path d="M345,540 C355,536 365,530 378,521 C372,532 366,542 364,556 C362,575 366,595 372,610 C362,600 356,585 352,565 C349,555 347,547 345,540 Z" fill="#e04e34" opacity="0.8"/>
<path d="M316,556 L330,552 L334,566 L320,570 Z" fill="#f07050" opacity="0.7"/>
<path d="M352,538 C356,560 358,585 364,606 M340,540 C342,565 348,590 355,606" fill="none" stroke="#c84a30" stroke-width="0.5" opacity="0.7"/>
<path d="M308,540 C325,536 345,538 356,532.7 C366,528 374,523 380,520" fill="none" stroke="#b84a2a" stroke-width="0.6"/>
<g fill="none" stroke="#7a4a14" stroke-width="0.45" opacity="0.6"><path d="M412,470 C416,480 418,490 418,500"/><path d="M395,530 C398,540 400,548 402,556"/><path d="M350,496 C356,502 360,510 362,518"/><path d="M372,546 C378,560 382,580 386,606"/></g>
<path d="M318.5,513 L441,582" stroke="#7080b0" stroke-width="0.6"/>
<path d="M330,519.5 l-2.2,4.5" stroke="#7080b0" stroke-width="0.7"/>
<path d="M338,524 l-2.2,4.5" stroke="#7080b0" stroke-width="0.7"/>
<path d="M372,543 l-2.2,4.5" stroke="#7080b0" stroke-width="0.7"/>
<path d="M380,547.5 l-2.2,4.5" stroke="#7080b0" stroke-width="0.7"/>
<path d="M388,552 l-2.2,4.5" stroke="#7080b0" stroke-width="0.7"/>
<path d="M397,557 l-2.2,4.5" stroke="#7080b0" stroke-width="0.7"/>
<path d="M407,562.6 l-2.2,4.5" stroke="#7080b0" stroke-width="0.7"/>
<path d="M418,568.8 l-2.2,4.5" stroke="#7080b0" stroke-width="0.7"/>
<path d="M431,576.3 l-2.2,4.5" stroke="#7080b0" stroke-width="0.7"/>
<path d="M315.3,512.3 L321.8,510.6 L320.6,516.2 Z" fill="#1a3ae0"/>
<path d="M321,512 L316,509" stroke="#222" stroke-width="0.5"/>
<g transform="translate(286,493.2) rotate(29)" stroke="#222" stroke-width="0.7"><path d="M0,-3.2 L0,3.2 M0,0 L6,0 M6,-3.6 L6,3.6" fill="none"/><rect x="6" y="-2.7" width="16" height="5.4" fill="#fff"/><rect x="13.5" y="-2.7" width="8.5" height="5.4" fill="#f5b400"/><path d="M22,-2 L24,-1 L24,1 L22,2" fill="#fff"/><path d="M24,0 L32,0" stroke-width="0.5"/><path d="M9,-2.7 l0,1.8 M11,-2.7 l0,1.4 M13,-2.7 l0,1.8" stroke-width="0.4"/></g>
<text transform="translate(271,501) rotate(30)" font-size="6.4" fill="#222">Intelligently</text>
<text transform="translate(263.5,507.5) rotate(30)" font-size="6.4" fill="#222">planned path</text>
<text x="326.0" y="511.9" font-size="6.0" fill="#222" stroke="#222" stroke-width="0.16" text-anchor="start" font-weight="normal" >VISp</text>
<text x="340.0" y="518.7" font-size="6.0" fill="#222" stroke="#222" stroke-width="0.16" text-anchor="start" font-weight="normal" >CA</text>
<text x="372.5" y="535.7" font-size="6.0" fill="#222" stroke="#222" stroke-width="0.16" text-anchor="start" font-weight="normal" >DG</text>
<text x="381.5" y="540.8" font-size="6.0" fill="#222" stroke="#222" stroke-width="0.16" text-anchor="start" font-weight="normal" >LP</text>
<text x="389.5" y="545.8" font-size="6.0" fill="#222" stroke="#222" stroke-width="0.16" text-anchor="start" font-weight="normal" >PO</text>
<text x="396.5" y="553.2" font-size="6.0" fill="#222" stroke="#222" stroke-width="0.16" text-anchor="start" font-weight="normal" >VPM</text>
<text x="406.6" y="557.9" font-size="6.0" fill="#222" stroke="#222" stroke-width="0.16" text-anchor="start" font-weight="normal" >VAL</text>
<text x="418.9" y="565.3" font-size="6.0" fill="#222" stroke="#222" stroke-width="0.16" text-anchor="start" font-weight="normal" >VM</text>
<text x="431.6" y="570.3" font-size="6.0" fill="#222" stroke="#222" stroke-width="0.16" text-anchor="start" font-weight="normal" >ZIr</text>
<ellipse cx="442.7" cy="582.8" rx="4.5" ry="2" fill="#8cc8f0" stroke="#5aa0d8" stroke-width="0.4"/>
<path d="M445,585 L454,593.5" stroke="#222" stroke-width="0.8"/>
<text x="440.4" y="601.2" font-size="6.3" fill="#222" stroke="#222" stroke-width="0.16" text-anchor="start" font-weight="normal" >Injection target A13</text>
<circle cx="434.8" cy="507.4" r="1.4" fill="#e01010"/>
<circle cx="461.5" cy="514" r="1.4" fill="#e01010"/>
<circle cx="484.5" cy="515.5" r="1.4" fill="#e01010"/>
<circle cx="457.9" cy="541.2" r="1.4" fill="#e01010"/>
<circle cx="475.2" cy="557.4" r="1.4" fill="#e01010"/>
<circle cx="524.7" cy="552.9" r="1.4" fill="#e01010"/>
<circle cx="426.4" cy="570.3" r="1.4" fill="#e01010"/>
<circle cx="482.7" cy="589.7" r="1.4" fill="#e01010"/>
<circle cx="419.8" cy="597.2" r="1.4" fill="#e01010"/>
<circle cx="544.7" cy="598.7" r="1.4" fill="#e01010"/>
<circle cx="409" cy="615.8" r="1.4" fill="#e01010"/>
<circle cx="486.3" cy="615.2" r="1.4" fill="#e01010"/>
<circle cx="365.5" cy="553.6" r="1.4" fill="#e01010"/>
<circle cx="367.5" cy="556.5" r="1.4" fill="#e01010"/>
<circle cx="402.3" cy="468" r="2" fill="#e01010"/>
<circle cx="457.9" cy="449.9" r="3.6" fill="#e01010"/>
<path d="M312.3,462 L431.4,438.2 L531.3,445.2 L471.7,481.3 Z" fill="none" stroke="#111" stroke-width="0.9" stroke-dasharray="3,1.8"/>
<text x="416.0" y="449.8" font-size="6.3" fill="#222" stroke="#222" stroke-width="0.16" text-anchor="start" font-weight="normal" >Bregma</text>
<path d="M439.9,447.5 L452.5,448.8" stroke="#222" stroke-width="0.7"/>
<text x="353.3" y="461.9" font-size="6.3" fill="#222" stroke="#222" stroke-width="0.16" text-anchor="start" font-weight="normal" >Lambda</text>
<path d="M379,460.2 L398.5,466.3" stroke="#222" stroke-width="0.7"/>
<text x="451.4" y="438.8" font-size="6.6" fill="#222" stroke="#222" stroke-width="0.16" text-anchor="start" font-weight="normal" >Flat skull position</text>
<path d="M521.9,455.5 L527,455.5 L527,540.3 L521.9,540.3 M527,463 L531,463" fill="none" stroke="#222" stroke-width="0.9"/>
<text x="535.4" y="459.6" font-size="6.3" fill="#222" stroke="#222" stroke-width="0.16" text-anchor="start" font-weight="normal" >Structures to</text>
<text x="535.4" y="467.7" font-size="6.3" fill="#222" stroke="#222" stroke-width="0.16" text-anchor="start" font-weight="normal" >avoid penetrating</text>
<path d="M551.5,479.6 L667.1,479.6 L672.7,485.1 L672.7,626.1 L551.5,626.1 Z" fill="#fff" stroke="#333" stroke-width="0.8"/>
<circle cx="558.9" cy="492.2" r="3.1" fill="#fff" stroke="#888" stroke-width="0.6"/>
<text x="566.4" y="494.5" font-size="6.4" fill="#222" stroke="#222" stroke-width="0.16" text-anchor="start" font-weight="normal" >Manual</text>
<circle cx="599.9" cy="492.2" r="3.1" fill="#fff" stroke="#1a73e8" stroke-width="1.2"/><circle cx="599.9" cy="492.2" r="1.6" fill="#1a73e8"/>
<text x="607.5" y="494.5" font-size="6.4" fill="#222" stroke="#222" stroke-width="0.16" text-anchor="start" font-weight="normal" >Auto</text>
<rect x="555.6" y="502.7" width="71.3" height="14.6" rx="1.5" fill="#1e7cf2"/>
<text x="558.9" y="512.3" font-size="6.4" fill="#fff" stroke="#fff" stroke-width="0.16" text-anchor="start" font-weight="normal" >Intelligent planning</text>
<text x="555.6" y="525.9" font-size="6.4" fill="#222" stroke="#222" stroke-width="0.16" text-anchor="start" font-weight="normal" >Flat skull position</text>
<circle cx="613" cy="523.6" r="3.1" fill="#fff" stroke="#888" stroke-width="0.6"/>
<text x="620.6" y="525.9" font-size="6.4" fill="#222" stroke="#222" stroke-width="0.16" text-anchor="start" font-weight="normal" >Off</text>
<circle cx="641.2" cy="523.6" r="3.1" fill="#fff" stroke="#1a73e8" stroke-width="1.2"/><circle cx="641.2" cy="523.6" r="1.6" fill="#1a73e8"/>
<text x="648.8" y="525.9" font-size="6.4" fill="#222" stroke="#222" stroke-width="0.16" text-anchor="start" font-weight="normal" >On</text>
<rect x="555.6" y="533.4" width="31" height="14.6" rx="1.5" fill="#1e7cf2"/>
<text x="571.1" y="543.0" font-size="6.4" fill="#fff" stroke="#fff" stroke-width="0.16" text-anchor="middle" font-weight="normal" >Guide</text>
<text x="555.6" y="556.1" font-size="6.5" fill="#222" stroke="#222" stroke-width="0.16" text-anchor="start" font-weight="normal" >The angle of injection (units, °):</text>
<text x="555.6" y="568.0" font-size="6.5" fill="#222" stroke="#222" stroke-width="0.16" text-anchor="start" font-weight="normal" >Coronal plane 60.19/horizontal plane</text>
<text x="555.6" y="575.5" font-size="6.5" fill="#222" stroke="#222" stroke-width="0.16" text-anchor="start" font-weight="normal" >39.97/sagittal plane 65.99</text>
<text x="555.6" y="588.6" font-size="6.5" fill="#222" stroke="#222" stroke-width="0.16" text-anchor="start" font-weight="normal" >Target site (units, mm):</text>
<text x="555.6" y="598.2" font-size="6.5" fill="#222"><tspan font-style="italic">x</tspan>  0.88/<tspan font-style="italic">y</tspan> 6.53/<tspan font-style="italic">z</tspan> −1.10</text>
<text x="555.6" y="609.8" font-size="6.5" fill="#222" stroke="#222" stroke-width="0.16" text-anchor="start" font-weight="normal" >Injection site (units, mm):</text>
<text x="555.6" y="619.6" font-size="6.5" fill="#222"><tspan font-style="italic">x</tspan>  3.63/<tspan font-style="italic">y</tspan> 1.35/<tspan font-style="italic">z</tspan> −4.46</text></svg>
</body></html>
